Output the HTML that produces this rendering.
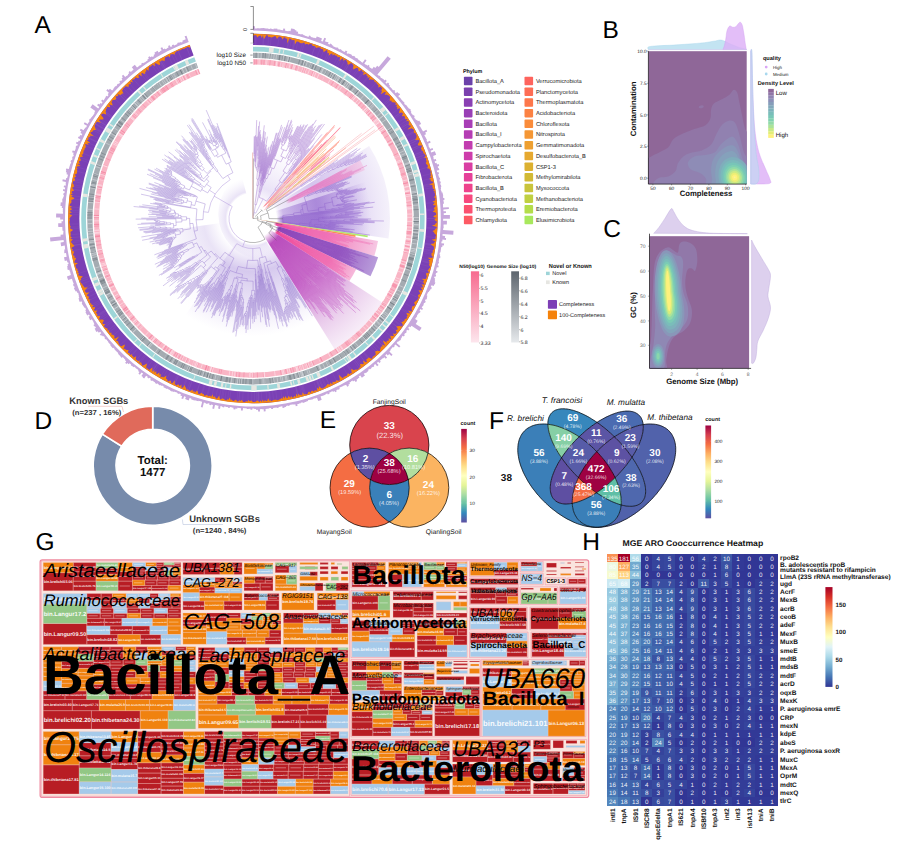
<!DOCTYPE html>
<html><head><meta charset="utf-8"><title>Figure</title>
<style>
html,body{margin:0;padding:0;background:#fff;}
body{width:917px;height:855px;overflow:hidden;font-family:"Liberation Sans",sans-serif;}
svg{display:block;font-family:"Liberation Sans",sans-serif;text-rendering:geometricPrecision;}
</style></head><body>
<svg width="917" height="855" viewBox="0 0 917 855">
<rect width="917" height="855" fill="#fff"/>
<text x="34.4" y="33" font-size="24.5">A</text>
<text x="602.6" y="37.8" font-size="24.5">B</text>
<text x="603.3" y="236.9" font-size="24.5">C</text>
<text x="34.6" y="429.2" font-size="24.5">D</text>
<text x="319.8" y="428.3" font-size="24.5">E</text>
<text x="489" y="429" font-size="24.5">F</text>
<text x="35.4" y="549.8" font-size="24.5">G</text>
<text x="582.2" y="549.8" font-size="24.5">H</text>
<defs><radialGradient id="w1" gradientUnits="userSpaceOnUse" cx="253" cy="218.5" r="118"><stop offset="0" stop-color="#9d7fd6" stop-opacity="0"/><stop offset="0.25" stop-color="#9d7fd6" stop-opacity="0"/><stop offset="0.45" stop-color="#9d7fd6" stop-opacity="0.42"/><stop offset="0.8" stop-color="#b7a0e2" stop-opacity="0.22"/><stop offset="1" stop-color="#cdbdec" stop-opacity="0"/></radialGradient><radialGradient id="w2" gradientUnits="userSpaceOnUse" cx="253" cy="218.5" r="110"><stop offset="0" stop-color="#9d7fd6" stop-opacity="0"/><stop offset="0.3" stop-color="#9d7fd6" stop-opacity="0"/><stop offset="0.45" stop-color="#9d7fd6" stop-opacity="0.22"/><stop offset="0.75" stop-color="#b7a0e2" stop-opacity="0.08"/><stop offset="1" stop-color="#cdbdec" stop-opacity="0"/></radialGradient><radialGradient id="w3" gradientUnits="userSpaceOnUse" cx="253" cy="218.5" r="46"><stop offset="0" stop-color="#9d7fd6" stop-opacity="0"/><stop offset="0.55" stop-color="#9d7fd6" stop-opacity="0"/><stop offset="0.6" stop-color="#a58ada" stop-opacity="0.24"/><stop offset="0.9" stop-color="#cdbdec" stop-opacity="0"/><stop offset="1" stop-color="#cdbdec" stop-opacity="0"/></radialGradient><radialGradient id="w4" gradientUnits="userSpaceOnUse" cx="253" cy="218.5" r="137"><stop offset="0" stop-color="#8f63cf" stop-opacity="0"/><stop offset="0.17" stop-color="#8f63cf" stop-opacity="0"/><stop offset="0.2" stop-color="#8f63cf" stop-opacity="0.12"/><stop offset="0.5" stop-color="#9a72d4" stop-opacity="0.42"/><stop offset="0.8" stop-color="#b99fe3" stop-opacity="0.38"/><stop offset="1" stop-color="#d9ccf0" stop-opacity="0.28"/></radialGradient><radialGradient id="w5" gradientUnits="userSpaceOnUse" cx="253" cy="218.5" r="118"><stop offset="0" stop-color="#7b45c4" stop-opacity="0"/><stop offset="0.2" stop-color="#7b45c4" stop-opacity="0"/><stop offset="0.26" stop-color="#7b45c4" stop-opacity="0.3"/><stop offset="0.55" stop-color="#7f4cc6" stop-opacity="0.5"/><stop offset="0.85" stop-color="#9a72d4" stop-opacity="0.3"/><stop offset="1" stop-color="#b99fe3" stop-opacity="0"/></radialGradient><radialGradient id="w6" gradientUnits="userSpaceOnUse" cx="253" cy="218.5" r="100"><stop offset="0" stop-color="#7b45c4" stop-opacity="0"/><stop offset="0.24" stop-color="#7b45c4" stop-opacity="0"/><stop offset="0.3" stop-color="#7440c0" stop-opacity="0.5"/><stop offset="0.7" stop-color="#7f4cc6" stop-opacity="0.3"/><stop offset="1" stop-color="#9a72d4" stop-opacity="0"/></radialGradient><radialGradient id="w7" gradientUnits="userSpaceOnUse" cx="253" cy="218.5" r="122"><stop offset="0" stop-color="#e65fb4" stop-opacity="0"/><stop offset="0.3" stop-color="#e65fb4" stop-opacity="0"/><stop offset="0.36" stop-color="#e872bd" stop-opacity="0.75"/><stop offset="0.8" stop-color="#ee9ad0" stop-opacity="0.65"/><stop offset="1" stop-color="#f3b5dc" stop-opacity="0.5"/></radialGradient><radialGradient id="w8" gradientUnits="userSpaceOnUse" cx="253" cy="218.5" r="80"><stop offset="0" stop-color="#b9a0e4" stop-opacity="0"/><stop offset="0.2" stop-color="#b9a0e4" stop-opacity="0"/><stop offset="0.4" stop-color="#b9a0e4" stop-opacity="0.3"/><stop offset="1" stop-color="#e4dbf5" stop-opacity="0"/></radialGradient><radialGradient id="w9" gradientUnits="userSpaceOnUse" cx="253" cy="218.5" r="116"><stop offset="0" stop-color="#a8e85d" stop-opacity="0.9"/><stop offset="1" stop-color="#a8e85d" stop-opacity="0.9"/></radialGradient><radialGradient id="w10" gradientUnits="userSpaceOnUse" cx="253" cy="218.5" r="104"><stop offset="0" stop-color="#f7487e" stop-opacity="0.9"/><stop offset="1" stop-color="#fa8c3b" stop-opacity="0.9"/></radialGradient><radialGradient id="w11" gradientUnits="userSpaceOnUse" cx="253" cy="218.5" r="127"><stop offset="0" stop-color="#f0409a" stop-opacity="0"/><stop offset="0.17" stop-color="#f0409a" stop-opacity="0"/><stop offset="0.19" stop-color="#f0409a" stop-opacity="0.95"/><stop offset="0.6" stop-color="#ee62ad" stop-opacity="0.85"/><stop offset="1" stop-color="#f4b9dc" stop-opacity="0.8"/></radialGradient><radialGradient id="w12" gradientUnits="userSpaceOnUse" cx="253" cy="218.5" r="131"><stop offset="0" stop-color="#8a3db6" stop-opacity="0"/><stop offset="0.19" stop-color="#8a3db6" stop-opacity="0"/><stop offset="0.21" stop-color="#8a3db6" stop-opacity="0.97"/><stop offset="0.7" stop-color="#8f4bbd" stop-opacity="0.9"/><stop offset="1" stop-color="#ab8ad4" stop-opacity="0.85"/></radialGradient><radialGradient id="w13" gradientUnits="userSpaceOnUse" cx="253" cy="218.5" r="115"><stop offset="0" stop-color="#ee3f93" stop-opacity="0"/><stop offset="0.22" stop-color="#ee3f93" stop-opacity="0"/><stop offset="0.24" stop-color="#ee3f93" stop-opacity="0.95"/><stop offset="0.75" stop-color="#ee5aa6" stop-opacity="0.85"/><stop offset="1" stop-color="#f4a8d2" stop-opacity="0.8"/></radialGradient><radialGradient id="w14" gradientUnits="userSpaceOnUse" cx="253" cy="218.5" r="155"><stop offset="0" stop-color="#b23ab6" stop-opacity="0"/><stop offset="0.13" stop-color="#b23ab6" stop-opacity="0"/><stop offset="0.2" stop-color="#b23ab6" stop-opacity="0.9"/><stop offset="0.5" stop-color="#b845ba" stop-opacity="0.8"/><stop offset="0.78" stop-color="#d59ad9" stop-opacity="0.55"/><stop offset="1" stop-color="#efd9f0" stop-opacity="0.45"/></radialGradient></defs>
<path d="M253 218.5L315.5 318.6A118 118 0 0 1 185.3 315.2Z" fill="url(#w1)"/><path d="M253 218.5L189.9 308.6A110 110 0 0 1 144.1 233.8Z" fill="url(#w2)"/><path d="M253 218.5L276 258.3A46 46 0 0 1 241.1 174.1Z" fill="url(#w3)"/><path d="M253 218.5L369.2 145.9A137 137 0 0 1 388.5 238.5Z" fill="url(#w4)"/><path d="M253 218.5L365.2 182A118 118 0 0 1 369.7 235.7Z" fill="url(#w5)"/><path d="M253 218.5L352.8 211.5A100 100 0 0 1 351.9 233.1Z" fill="url(#w6)"/><path d="M253 218.5L360.2 160.3A122 122 0 0 1 364.9 169.9Z" fill="url(#w7)"/><path d="M253 218.5L264.1 139.3A80 80 0 0 1 320.8 176.1Z" fill="url(#w8)"/><path d="M253 218.5L367.8 235.4A116 116 0 0 1 367.5 237.2Z" fill="url(#w9)"/><path d="M253 218.5L355.6 235.3A104 104 0 0 1 355.4 236.9Z" fill="url(#w10)"/><path d="M253 218.5L378 241A127 127 0 0 1 374.3 256.1Z" fill="url(#w11)"/><path d="M253 218.5L378.1 257.2A131 131 0 0 1 370.5 276.3Z" fill="url(#w12)"/><path d="M253 218.5L356.2 269.3A115 115 0 0 1 349.4 281.1Z" fill="url(#w13)"/><path d="M253 218.5L383 302.9A155 155 0 0 1 335.1 349.9Z" fill="url(#w14)"/>
<circle cx="253" cy="218.5" r="3" fill="#fff" fill-opacity="0.0"/>
<path d="M253 218.5L252.7 152.5" stroke="#e9a09a" stroke-width="0.7" fill="none"/>
<g fill="none" stroke-linecap="butt">
<path d="M254.9 204.6A14 14 0 0 1 256.3 204.9M254.9 204.6L257.5 185.6M256.8 185.6A33.2 33.2 0 0 1 258.1 185.7M256.8 185.6L257.6 179.2M256.8 179.1A39.6 39.6 0 0 1 258.4 179.3M256.8 179.1L257.5 171.1M256.9 171.1A47.6 47.6 0 0 1 258.2 171.2M256.9 171.1L257 169.2M256.2 169.1A49.5 49.5 0 0 1 257.8 169.2M256.2 169.1L256.3 167.2M255.3 167.2A51.4 51.4 0 0 1 257.3 167.3M255.3 167.2L255.4 165.6M255 165.5A53 53 0 0 1 255.8 165.6M255 165.5L255.1 161.9M254.7 161.8A56.7 56.7 0 0 1 255.5 161.9M254.7 161.8L254.8 160.4M254.4 160.4A58.1 58.1 0 0 1 255.2 160.5M254.4 160.4L254.5 155.9M254.1 155.9A62.6 62.6 0 0 1 254.8 155.9M254.1 155.9L254.2 153.9M253.9 153.9A64.6 64.6 0 0 1 254.4 153.9M253.9 153.9L254.2 136.4M254.4 153.9L254.8 136.3M254.8 155.9L255.5 135.2M255.2 160.5L256.7 120.1M255.5 161.9L256.7 136.9M255.8 165.6L257.3 136.4M257.3 167.3L258 158.3M257.6 158.3A60.4 60.4 0 0 1 258.5 158.4M257.6 158.3L257.8 155.5M257.4 155.4A63.2 63.2 0 0 1 258.2 155.5M257.4 155.4L257.8 150.1M257.4 150.1A68.5 68.5 0 0 1 258.1 150.2M257.4 150.1L257.6 146.1M257.3 146.1A72.5 72.5 0 0 1 257.9 146.1M257.3 146.1L258.6 126M257.9 146.1L259.6 121.5M258.1 150.2L259.5 131.7M258.2 155.5L260.3 130M258.5 158.4L260.6 134.3M257.8 169.2L261 136.7M258.2 171.2L258.7 166.7M258.5 166.7A52.1 52.1 0 0 1 258.9 166.7M258.5 166.7L261.1 142.3M258.9 166.7L261.9 140.2M258.4 179.3L259.3 173.2M259 173.1A45.8 45.8 0 0 1 259.6 173.2M259 173.1L259.7 167.1M259.4 167.1A51.8 51.8 0 0 1 260 167.2M259.4 167.1L259.8 164.1M259.6 164.1A54.8 54.8 0 0 1 260 164.2M259.6 164.1L264.3 125.3M260 164.2L264.3 131.2M260 167.2L263.6 141.3M259.6 173.2L265.5 132.2M258.1 185.7L259.6 176.1M259.5 176.1A42.9 42.9 0 0 1 259.8 176.1M259.5 176.1L265.3 137.8M259.8 176.1L264.9 144.2M256.3 204.9L259.5 191.7M259 191.6A27.5 27.5 0 0 1 260 191.9M259 191.6L260.5 185M259.9 184.9A34.3 34.3 0 0 1 261.1 185.2M259.9 184.9L260.4 182.8M260.1 182.7A36.5 36.5 0 0 1 260.7 182.8M260.1 182.7L260.4 181M260 181A38.2 38.2 0 0 1 260.8 181.1M260 181L261.4 173.7M261 173.6A45.6 45.6 0 0 1 261.7 173.8M261 173.6L261.2 172.6M260.9 172.6A46.6 46.6 0 0 1 261.4 172.7M260.9 172.6L261.2 170.9M261 170.9A48.3 48.3 0 0 1 261.4 170.9M261 170.9L264.8 148.3M261.4 170.9L267.4 136.6M261.4 172.7L266.5 145M261.7 173.8L262.4 170.5M262.2 170.5A48.9 48.9 0 0 1 262.6 170.5M262.2 170.5L265.7 152.5M262.6 170.5L267 148.4M260.8 181.1L266.9 151.4M260.7 182.8L267 153.4M261.1 185.2L261.4 183.7M261.1 183.6A35.8 35.8 0 0 1 261.7 183.8M261.1 183.6L261.9 180.5M261.7 180.4A39.1 39.1 0 0 1 262.1 180.5M261.7 180.4L262.6 176.4M262.4 176.3A43.2 43.2 0 0 1 262.7 176.4M262.4 176.3L269 146.8M262.7 176.4L267.6 155.3M262.1 180.5L267.7 157.1M261.7 183.8L262.8 179.6M262.6 179.6A40.1 40.1 0 0 1 262.9 179.6M262.6 179.6L271.3 144.6M262.9 179.6L272.8 141M260 191.9L269.9 154.4M259.2 197.4A22 22 0 0 1 266.6 201.2M259.2 197.4L262.8 184.9M262.3 184.8A35 35 0 0 1 263.3 185.1M262.3 184.8L264.1 178.5M263.9 178.4A41.5 41.5 0 0 1 264.2 178.5M263.9 178.4L276.3 132.8M264.2 178.5L277 132.9M263.3 185.1L264.2 182M263.6 181.8A38.2 38.2 0 0 1 264.9 182.2M263.6 181.8L274.3 144.6M264.9 182.2L266.1 178.4M265.2 178.1A42.2 42.2 0 0 1 267 178.7M265.2 178.1L268.5 167.4M268.2 167.3A53.4 53.4 0 0 1 268.8 167.5M268.2 167.3L278.5 132.6M268.8 167.5L269.6 164.9M269.4 164.9A56.1 56.1 0 0 1 269.8 165M269.4 164.9L281.6 124.9M269.8 165L278.5 137.3M267 178.7L268.6 174.2M267.6 173.8A47 47 0 0 1 269.7 174.6M267.6 173.8L270.2 165.9M269.9 165.9A55.3 55.3 0 0 1 270.4 166M269.9 165.9L282.5 126.8M270.4 166L279.4 138.8M269.7 174.6L272.1 168.1M270.3 167.4A53.9 53.9 0 0 1 273.9 168.8M270.3 167.4L280.2 138.3M273.9 168.8L277.4 160.3M273.9 159A63.1 63.1 0 0 1 280.9 161.9M273.9 159L274.9 156.2M274.7 156.1A66.1 66.1 0 0 1 275.2 156.3M274.7 156.1L284.7 127.2M275.2 156.3L281.2 139.3M280.9 161.9L283.1 157.3M280.8 156.2A68.2 68.2 0 0 1 285.5 158.5M280.8 156.2L283.6 149.8M281 148.7A75.2 75.2 0 0 1 286.2 151M281 148.7L282.5 144.8M281.4 144.4A79.4 79.4 0 0 1 283.7 145.3M281.4 144.4L282.1 142.5M281.6 142.3A81.4 81.4 0 0 1 282.6 142.7M281.6 142.3L281.9 141.6M281.4 141.4A82.1 82.1 0 0 1 282.3 141.8M281.4 141.4L282.3 139M282 138.9A84.7 84.7 0 0 1 282.6 139.1M282 138.9L289 120M282.6 139.1L288 124.7M282.3 141.8L286.9 129.7M282.6 142.7L291.6 119.8M283.7 145.3L284.5 143.2M284 143A81.6 81.6 0 0 1 285 143.4M284 143L285.1 140.5M284.6 140.3A84.3 84.3 0 0 1 285.5 140.7M284.6 140.3L285.6 137.9M285.3 137.7A87 87 0 0 1 285.9 138M285.3 137.7L291.9 121.2M285.9 138L289.8 128.5M285.5 140.7L292.3 124.5M285 143.4L288.1 136.3M286.2 151L288.3 146.7M287.8 146.4A80 80 0 0 1 288.9 147M287.8 146.4L289.2 143.5M288.6 143.3A83.2 83.2 0 0 1 289.7 143.8M288.6 143.3L289.6 141.1M289 140.8A85.6 85.6 0 0 1 290.2 141.4M289 140.8L289.5 139.9M288.9 139.7A86.6 86.6 0 0 1 290 140.2M288.9 139.7L289.2 138.9M288.7 138.7A87.4 87.4 0 0 1 289.8 139.2M288.7 138.7L288.9 138.2M288.4 138A87.9 87.9 0 0 1 289.4 138.5M288.4 138L289.1 136.6M288.8 136.5A89.5 89.5 0 0 1 289.4 136.7M288.8 136.5L292.8 127.2M289.4 136.7L292.4 129.9M289.4 138.5L290.4 136.1M289.8 139.2L291.9 134.5M290 140.2L292.2 135.6M290.2 141.4L297.6 126.1M289.7 143.8L298.5 125.9M288.9 147L298.8 127.1M285.5 158.5L289.4 151.2M288.9 150.9A76.5 76.5 0 0 1 289.9 151.4M288.9 150.9L290.1 148.7M289.6 148.5A79 79 0 0 1 290.5 149M289.6 148.5L291.1 145.7M290.7 145.5A82.2 82.2 0 0 1 291.5 145.9M290.7 145.5L292.5 142M292.2 141.8A86.1 86.1 0 0 1 292.8 142.1M292.2 141.8L301 124.6M292.8 142.1L301.1 126M291.5 145.9L301.5 127M290.5 149L303.9 124.4M289.9 151.4L304.2 125.4M266.6 201.2L275.7 189.8M274.9 189.2A36.5 36.5 0 0 1 276.4 190.4M274.9 189.2L280.5 181.8M279.1 180.8A45.9 45.9 0 0 1 281.8 182.8M279.1 180.8L284.9 172.4M283 171.1A56.1 56.1 0 0 1 286.8 173.7M283 171.1L287.5 164M286.3 163.2A64.5 64.5 0 0 1 288.8 164.8M286.3 163.2L288.5 159.6M287.6 159A68.8 68.8 0 0 1 289.4 160.1M287.6 159L288.3 157.7M287.9 157.5A70.3 70.3 0 0 1 288.8 158M287.9 157.5L290.4 153.2M290 153A75.3 75.3 0 0 1 290.8 153.4M290 153L294.4 145.2M294.1 145.1A84.1 84.1 0 0 1 294.7 145.4M294.1 145.1L303.2 128.9M294.7 145.4L306.4 124.9M290.8 153.4L307.7 124.3M288.8 158L300 138.9M289.4 160.1L294.1 152.6M293.7 152.3A77.7 77.7 0 0 1 294.5 152.8M293.7 152.3L297.3 146.3M296.9 146.1A84.7 84.7 0 0 1 297.8 146.6M296.9 146.1L298.5 143.5M298.2 143.3A87.7 87.7 0 0 1 298.8 143.6M298.2 143.3L305.8 130.6M298.8 143.6L309.2 126.6M297.8 146.6L310.8 125.6M294.5 152.8L312.9 123.8M288.8 164.8L291.1 161.3M290.7 161.1A68.7 68.7 0 0 1 291.5 161.6M290.7 161.1L295.6 153.7M295.2 153.5A77.5 77.5 0 0 1 296 153.9M295.2 153.5L299.4 147M299.1 146.8A85.2 85.2 0 0 1 299.7 147.2M299.1 146.8L316.4 119.9M299.7 147.2L313 126.9M296 153.9L313 128.4M291.5 161.6L315.8 125.7M286.8 173.7L289.5 170.1M289 169.8A60.6 60.6 0 0 1 290 170.5M289 169.8L293.2 164M292.5 163.5A67.7 67.7 0 0 1 293.9 164.5M292.5 163.5L295.5 159.4M294.8 158.9A72.8 72.8 0 0 1 296.2 159.9M294.8 158.9L297.3 155.4M296.9 155.1A77.1 77.1 0 0 1 297.7 155.7M296.9 155.1L299.8 150.9M299.6 150.8A82.2 82.2 0 0 1 300.1 151.1M299.6 150.8L314.2 129.5M300.1 151.1L312.6 133.2M297.7 155.7L319.3 125.2M296.2 159.9L300.7 153.7M300.4 153.5A80.5 80.5 0 0 1 301.1 154M300.4 153.5L301.2 152.2M301 152.1A81.9 81.9 0 0 1 301.5 152.4M301 152.1L320.9 124.5M301.5 152.4L322.4 123.9M301.1 154L311.2 140.4M293.9 164.5L324.6 124M290 170.5L314.6 138.4M281.8 182.8L283.5 180.8M283.3 180.5A48.5 48.5 0 0 1 283.8 181M283.3 180.5L288.9 173.5M288.6 173.3A57.5 57.5 0 0 1 289.1 173.7M288.6 173.3L293.3 167.4M293.1 167.3A65.1 65.1 0 0 1 293.5 167.6M293.1 167.3L306.5 150M293.5 167.6L308.8 148.2M289.1 173.7L309.2 148.8M283.8 181L321.9 134.4M276.4 190.4L313.7 145.5" stroke="#a374cf" stroke-width="0.46"/>
<path d="M285.9 195.7A40 40 0 0 1 286.2 196.2M285.9 195.7L338 159.5M286.2 196.2L301.4 186M301.1 185.6A58.3 58.3 0 0 1 301.6 186.4M301.1 185.6L334.3 162.9M301.6 186.4L309.9 180.9M309.6 180.5A68.2 68.2 0 0 1 310.2 181.3M309.6 180.5L357.3 148.3M310.2 181.3L315.8 177.6M315.5 177.1A75 75 0 0 1 316.2 178.1M315.5 177.1L350.4 154.1M316.2 178.1L320.1 175.6M319.8 175.1A79.6 79.6 0 0 1 320.4 176.1M319.8 175.1L360.4 148.6M320.4 176.1L327.4 171.7M327.1 171.1A87.9 87.9 0 0 1 327.8 172.2M327.1 171.1L356.8 152.1M327.8 172.2L332.5 169.3M332.1 168.7A93.5 93.5 0 0 1 332.9 169.9M332.1 168.7L354.5 154.6M332.9 169.9L337.4 167.1M337.1 166.5A98.8 98.8 0 0 1 337.8 167.8M337.1 166.5L349.2 158.9M337.8 167.8L340.9 165.9M340.5 165.3A102.4 102.4 0 0 1 341.3 166.6M340.5 165.3L350.9 158.9M341.3 166.6L344.7 164.6M344.3 163.9A106.3 106.3 0 0 1 345.1 165.3M344.3 163.9L362.7 152.9M345.1 165.3L345.8 164.8M345.4 164.2A107.2 107.2 0 0 1 346.2 165.5M345.4 164.2L361.1 155M346.2 165.5L348.8 164M348.5 163.3A110.3 110.3 0 0 1 349.2 164.6M348.5 163.3L360.7 156.3M349.2 164.6L352.1 163M351.8 162.4A113.6 113.6 0 0 1 352.4 163.5M351.8 162.4L366.2 154.3M352.4 163.5L355.4 161.9M355.2 161.5A117 117 0 0 1 355.6 162.3M355.2 161.5L366.2 155.4M355.6 162.3L367 156.1" stroke="#9b74d2" stroke-width="0.46"/>
<path d="M288.2 199.5A40 40 0 0 1 288.6 200.4M288.2 199.5L341.6 170.8M288.6 200.4L297.3 196M296.9 195.3A49.7 49.7 0 0 1 297.6 196.7M296.9 195.3L347 168.8M297.6 196.7L307.7 191.7M307.3 190.7A60.9 60.9 0 0 1 308.2 192.7M307.3 190.7L308.8 189.9M308.7 189.6A62.7 62.7 0 0 1 309 190.3M308.7 189.6L346 170.2M309 190.3L310.3 189.7M310.1 189.3A64.1 64.1 0 0 1 310.4 190M310.1 189.3L341.8 173.2M310.4 190L316.4 187M316.2 186.8A70.7 70.7 0 0 1 316.5 187.3M316.2 186.8L340.7 174.5M316.5 187.3L342.9 174.2M308.2 192.7L311.7 191M311.4 190.5A64.8 64.8 0 0 1 311.9 191.5M311.4 190.5L313.8 189.4M313.7 189.2A67.4 67.4 0 0 1 313.9 189.6M313.7 189.2L351.8 170.7M313.9 189.6L352.4 171.3M311.9 191.5L320.5 187.6M320.3 187.2A74.2 74.2 0 0 1 320.7 188M320.3 187.2L367 165.4M320.7 188L324 186.6M323.8 186.2A77.8 77.8 0 0 1 324.2 186.9M323.8 186.2L361 169.2M324.2 186.9L325.6 186.3M325.5 186A79.4 79.4 0 0 1 325.7 186.6M325.5 186L353.7 173.4M325.7 186.6L349.7 176" stroke="#e27ac2" stroke-width="0.46"/>
<path d="M282.8 215.5A30 30 0 0 1 282.8 222.1M282.8 215.5L293.7 214.3M293.6 213.1A40.9 40.9 0 0 1 293.8 215.6M293.6 213.1L301.1 212.1M300.7 209.8A48.5 48.5 0 0 1 301.3 214.5M300.7 209.8L302.7 209.5M301.8 205.3A50.6 50.6 0 0 1 303.3 213.7M301.8 205.3L306.6 204M304.2 197A55.5 55.5 0 0 1 308 211.2M304.2 197L307.4 195.7M307.2 195.2A59 59 0 0 1 307.6 196.2M307.2 195.2L351.5 176.1M307.6 196.2L315.7 192.9M315.4 192.2A67.7 67.7 0 0 1 316 193.5M315.4 192.2L351.8 176.9M316 193.5L320.3 191.8M320 191.2A72.4 72.4 0 0 1 320.5 192.4M320 191.2L322.2 190.3M322.1 190A74.8 74.8 0 0 1 322.3 190.5M322.1 190L335.9 184.3M322.3 190.5L343 182.2M320.5 192.4L323 191.5M322.8 190.9A75.1 75.1 0 0 1 323.2 192M322.8 190.9L346.1 181.8M323.2 192L327 190.6M326.8 190A79.1 79.1 0 0 1 327.2 191.1M326.8 190L347.7 181.9M327.2 191.1L327.8 190.9M327.6 190.4A79.7 79.7 0 0 1 328 191.5M327.6 190.4L345.2 183.7M328 191.5L331.9 190.1M331.7 189.5A83.9 83.9 0 0 1 332.1 190.7M331.7 189.5L349.7 182.9M332.1 190.7L335.1 189.6M334.9 189A87 87 0 0 1 335.3 190.3M334.9 189L344.2 185.7M335.3 190.3L336.5 189.9M336.3 189.2A88.3 88.3 0 0 1 336.7 190.5M336.3 189.2L338.6 188.4M336.7 190.5L337.2 190.3M337 189.7A88.8 88.8 0 0 1 337.4 190.9M337 189.7L338.4 189.2M337.4 190.9L337.8 190.8M337.7 190.2A89.3 89.3 0 0 1 338 191.3M337.7 190.2L342.4 188.6M338 191.3L338.5 191.2M338.3 190.7A89.8 89.8 0 0 1 338.7 191.7M338.3 190.7L339.8 190.2M338.7 191.7L339.6 191.4M339.5 191A90.8 90.8 0 0 1 339.7 191.7M339.5 191L342.8 190M339.7 191.7L346.8 189.5M308 211.2L318.6 209.8M318.3 207.9A66.1 66.1 0 0 1 318.8 211.8M318.3 207.9L325.1 206.8M324.5 203.6A73 73 0 0 1 325.5 210M324.5 203.6L332.5 201.9M331.5 197.8A81.2 81.2 0 0 1 333.2 206.1M331.5 197.8L336.9 196.4M336.2 194.1A86.7 86.7 0 0 1 337.4 198.7M336.2 194.1L337.3 193.8M337.1 193.2A87.8 87.8 0 0 1 337.4 194.4M337.1 193.2L347.5 190M337.4 194.4L340 193.7M339.8 193.1A90.5 90.5 0 0 1 340.2 194.3M339.8 193.1L349.8 190.2M340.2 194.3L341.1 194.1M341 193.5A91.5 91.5 0 0 1 341.3 194.6M341 193.5L357.6 188.8M341.3 194.6L344.8 193.7M344.7 193.2A95.1 95.1 0 0 1 345 194.2M344.7 193.2L361.8 188.4M345 194.2L346 193.9M346 193.6A96.2 96.2 0 0 1 346.1 194.3M346 193.6L365.9 188.2M346.1 194.3L365.4 189.3M337.4 198.7L340.3 198M339.9 196.6A89.6 89.6 0 0 1 340.6 199.5M339.9 196.6L356.6 192.4M340.6 199.5L341.1 199.3M340.8 197.7A90.2 90.2 0 0 1 341.5 201M340.8 197.7L341.7 197.5M341.5 196.9A91.1 91.1 0 0 1 341.8 198.1M341.5 196.9L344.7 196.2M341.8 198.1L342.5 197.9M342.4 197.4A91.8 91.8 0 0 1 342.6 198.5M342.4 197.4L343.8 197.1M342.6 198.5L343.3 198.3M343.2 198A92.5 92.5 0 0 1 343.4 198.6M343.2 198L353.2 195.7M343.4 198.6L354.5 196.2M341.5 201L342 200.9M341.8 200.1A90.7 90.7 0 0 1 342.1 201.7M341.8 200.1L342.3 199.9M342.2 199.6A91.2 91.2 0 0 1 342.3 200.3M342.2 199.6L343.7 199.3M342.3 200.3L343.8 200M342.1 201.7L342.6 201.6M342.5 201A91.2 91.2 0 0 1 342.7 202.2M342.5 201L348.6 199.8M342.7 202.2L343.8 202M343.7 201.4A92.3 92.3 0 0 1 343.9 202.5M343.7 201.4L345.3 201.1M343.9 202.5L344.7 202.3M344.6 202A93.1 93.1 0 0 1 344.7 202.7M344.6 202L356.9 199.8M344.7 202.7L347.3 202.2M333.2 206.1L336.6 205.6M336.5 205.1A84.6 84.6 0 0 1 336.6 206M336.5 205.1L337.3 205M337.3 204.6A85.4 85.4 0 0 1 337.4 205.3M337.3 204.6L344.8 203.4M337.4 205.3L351.3 203.1M336.6 206L354.1 203.4M325.5 210L332 209.2M331.9 208.7A79.5 79.5 0 0 1 332 209.8M331.9 208.7L338.8 207.8M338.7 207.2A86.5 86.5 0 0 1 338.9 208.4M338.7 207.2L343.4 206.6M343.4 206.1A91.2 91.2 0 0 1 343.5 207.1M343.4 206.1L344.7 205.9M344.6 205.6A92.5 92.5 0 0 1 344.7 206.3M344.6 205.6L369.5 202.1M344.7 206.3L374.7 202.3M343.5 207.1L365.2 204.4M338.9 208.4L353.8 206.6M332 209.8L363.9 206.3M318.8 211.8L359.9 207.5M303.3 213.7L373.2 207.1M301.3 214.5L310.6 213.7M310.6 213.5A57.8 57.8 0 0 1 310.7 213.9M310.6 213.5L353.8 209.7M310.7 213.9L347.3 211M293.8 215.6L360.5 210.8M282.8 222.1L299.3 224.1M299.4 223.1A46.6 46.6 0 0 1 299.1 225.1M299.4 223.1L309.6 224.1M309.7 222.1A56.8 56.8 0 0 1 309.3 226.1M309.7 222.1L311 222.2M311.1 219.5A58.1 58.1 0 0 1 310.8 224.9M311.1 219.5L318.7 219.6M318.7 217.8A65.7 65.7 0 0 1 318.6 221.4M318.7 217.8L322.6 217.7M322.6 217.2A69.6 69.6 0 0 1 322.6 218.3M322.6 217.2L330.6 217M330.5 216.4A77.6 77.6 0 0 1 330.6 217.6M330.5 216.4L335.7 216.3M335.7 215.6A82.7 82.7 0 0 1 335.7 217M335.7 215.6L336.8 215.6M336.8 214.9A83.8 83.8 0 0 1 336.8 216.3M336.8 214.9L338.8 214.8M338.8 214A85.9 85.9 0 0 1 338.8 215.6M338.8 214L341 213.8M341 213.2A88.1 88.1 0 0 1 341 214.5M341 213.2L345.3 212.9M345.2 212.6A92.4 92.4 0 0 1 345.3 213.3M345.2 212.6L353.2 212.1M345.3 213.3L363.2 212.3M341 214.5L345.4 214.3M345.4 214A92.5 92.5 0 0 1 345.4 214.7M345.4 214L360.6 213.2M345.4 214.7L358.5 214.1M338.8 215.6L349.1 215.2M336.8 216.3L361.5 215.7M335.7 217L354.4 216.6M330.6 217.6L357.7 217.3M322.6 218.3L351.8 218.2M318.6 221.4L323.9 221.6M323.9 221A71 71 0 0 1 323.9 222.3M323.9 221L329.9 221.2M329.9 220.6A76.9 76.9 0 0 1 329.9 221.7M329.9 220.6L336.4 220.8M336.4 220.2A83.4 83.4 0 0 1 336.3 221.4M336.4 220.2L343.9 220.4M343.9 219.7A90.9 90.9 0 0 1 343.9 221M343.9 219.7L350.2 219.8M350.2 219.3A97.2 97.2 0 0 1 350.2 220.4M350.2 219.3L352 219.3M352 218.9A99 99 0 0 1 352 219.7M352 218.9L371.2 219M352 219.7L368.1 219.9M350.2 220.4L383.9 221M343.9 221L374.6 221.8M336.3 221.4L374.6 222.7M329.9 221.7L364 223.2M323.9 222.3L330.2 222.6M330.3 222.4A77.3 77.3 0 0 1 330.2 222.9M330.3 222.4L353.7 223.5M330.2 222.9L362.6 224.8M310.8 224.9L314.7 225.3M314.8 224.3A62.1 62.1 0 0 1 314.6 226.3M314.8 224.3L320.7 224.9M320.7 224A68 68 0 0 1 320.6 225.7M320.7 224L325.1 224.4M325.1 223.9A72.3 72.3 0 0 1 325 224.8M325.1 223.9L328.2 224.1M328.3 223.7A75.4 75.4 0 0 1 328.2 224.5M328.3 223.7L329.3 223.8M329.3 223.5A76.5 76.5 0 0 1 329.2 224M329.3 223.5L339.5 224.1M329.2 224L336.3 224.6M328.2 224.5L335.2 225.1M325 224.8L343.2 226.4M320.6 225.7L324.5 226.2M324.6 225.6A72 72 0 0 1 324.5 226.7M324.6 225.6L326.1 225.8M326.2 225.5A73.5 73.5 0 0 1 326.1 226.1M326.2 225.5L338.8 226.7M326.1 226.1L335.1 227M324.5 226.7L328 227.1M328.1 226.8A75.5 75.5 0 0 1 328 227.4M328.1 226.8L354.6 229.8M328 227.4L349.7 230M314.6 226.3L334.4 228.8M309.3 226.1L352.8 231.9M299.1 225.1L369.9 235.1" stroke="#8e62cc" stroke-width="0.46"/>
<path d="M282.5 224.1A30 30 0 0 1 282.3 224.9M282.5 224.1L288.8 225.4M288.9 225.2A36.5 36.5 0 0 1 288.8 225.5M288.9 225.2L354.3 237.5M288.8 225.5L352.3 237.9M282.3 224.9L289.2 226.4M289.3 225.9A37.1 37.1 0 0 1 289.1 226.9M289.3 225.9L345.2 237.3M289.1 226.9L300.2 229.5M300.4 228.8A48.5 48.5 0 0 1 300.1 230.3M300.4 228.8L313.5 231.7M313.6 231.3A61.9 61.9 0 0 1 313.4 232M313.6 231.3L373.2 243.9M313.4 232L318.3 233.1M318.4 232.9A66.9 66.9 0 0 1 318.3 233.4M318.4 232.9L370 244.2M318.3 233.4L353.1 241.3M300.1 230.3L308.5 232.4M308.6 231.8A57.2 57.2 0 0 1 308.4 232.9M308.6 231.8L312.4 232.7M312.5 232.5A61.1 61.1 0 0 1 312.4 233M312.5 232.5L353.1 242.1M312.4 233L346.1 241.2M308.4 232.9L316.4 235M316.5 234.5A65.5 65.5 0 0 1 316.3 235.5M316.5 234.5L348.9 242.7M316.3 235.5L319 236.2M319.1 235.7A68.3 68.3 0 0 1 318.8 236.7M319.1 235.7L339.8 241.1M318.8 236.7L322.1 237.6M322.3 237.1A71.7 71.7 0 0 1 322 238.1M322.3 237.1L332.2 239.8M322 238.1L323.3 238.5M323.4 238A73.1 73.1 0 0 1 323.2 238.9M323.4 238L336.2 241.5M323.2 238.9L328 240.3M328.2 239.9A78.2 78.2 0 0 1 327.9 240.8M328.2 239.9L347.7 245.5M327.9 240.8L332.3 242.1M332.4 241.8A82.7 82.7 0 0 1 332.2 242.4M332.4 241.8L348.9 246.6M332.2 242.4L346.6 246.7M279.8 231.9A30 30 0 0 1 279.5 232.6M279.8 231.9L331.6 257.9M279.5 232.6L294.6 240.6M294.9 239.9A47.1 47.1 0 0 1 294.2 241.2M294.9 239.9L346 266M294.2 241.2L300.9 244.9M301.4 244A54.7 54.7 0 0 1 300.4 245.8M301.4 244L304.3 245.5M304.4 245.2A58 58 0 0 1 304.1 245.8M304.4 245.2L331.4 259.3M304.1 245.8L312.9 250.5M313 250.3A67.9 67.9 0 0 1 312.8 250.7M313 250.3L339.8 264.4M312.8 250.7L332.7 261.4M300.4 245.8L310.2 251.5M310.7 250.7A66.1 66.1 0 0 1 309.7 252.4M310.7 250.7L313.3 252.1M313.5 251.7A69 69 0 0 1 313.1 252.5M313.5 251.7L345.8 269.4M313.1 252.5L317.6 255M317.8 254.7A74.2 74.2 0 0 1 317.4 255.4M317.8 254.7L343.2 268.9M317.4 255.4L320.9 257.4M321.1 257.2A78.3 78.3 0 0 1 320.8 257.7M321.1 257.2L343.5 269.9M320.8 257.7L338.5 267.9M309.7 252.4L311.4 253.4M311.7 253A68.1 68.1 0 0 1 311.2 253.8M311.7 253L343.9 271.9M311.2 253.8L315.3 256.4M315.6 255.9A72.9 72.9 0 0 1 315 256.8M315.6 255.9L346 274.1M315 256.8L319.5 259.5M319.8 259.1A78.1 78.1 0 0 1 319.2 260M319.8 259.1L349.3 277.1M319.2 260L320.7 260.9M321 260.5A79.9 79.9 0 0 1 320.5 261.3M321 260.5L338.2 271.2M320.5 261.3L324.2 263.6M324.3 263.3A84.3 84.3 0 0 1 324 263.9M324.3 263.3L346.4 277.2M324 263.9L345.1 277.4" stroke="#ef6fb4" stroke-width="0.46"/>
<path d="M281.6 227.7A30 30 0 0 1 280.4 230.7M281.6 227.7L309.5 236.7M309.6 236.5A59.3 59.3 0 0 1 309.4 236.9M309.6 236.5L347.6 248.5M309.4 236.9L355.8 252M280.4 230.7L297.9 238.4M298.4 237.2A49.1 49.1 0 0 1 297.3 239.6M298.4 237.2L302.7 239M303.4 237.1A53.7 53.7 0 0 1 301.9 240.8M303.4 237.1L313.7 240.9M314.3 239A64.7 64.7 0 0 1 312.9 242.8M314.3 239L348.9 250.5M312.9 242.8L316.4 244.2M316.9 242.8A68.4 68.4 0 0 1 315.8 245.6M316.9 242.8L319.2 243.6M319.5 242.8A70.8 70.8 0 0 1 318.8 244.4M319.5 242.8L322.1 243.8M322.4 243A73.6 73.6 0 0 1 321.9 244.6M322.4 243L326.4 244.4M326.5 244A77.8 77.8 0 0 1 326.2 244.8M326.5 244L332.9 246.2M333 245.9A84.6 84.6 0 0 1 332.8 246.5M333 245.9L368.4 258M332.8 246.5L360.1 256.1M326.2 244.8L350.8 253.6M321.9 244.6L324 245.4M324.2 245A76 76 0 0 1 323.9 245.8M324.2 245L327.9 246.4M328 246.1A79.9 79.9 0 0 1 327.8 246.6M328 246.1L348.9 253.8M327.8 246.6L354.8 256.8M323.9 245.8L349.9 255.8M318.8 244.4L353.1 257.9M315.8 245.6L321.6 248.1M321.9 247.5A74.8 74.8 0 0 1 321.4 248.7M321.9 247.5L327.5 249.9M327.8 249.4A80.9 80.9 0 0 1 327.3 250.4M327.8 249.4L331.2 250.8M331.4 250.4A84.6 84.6 0 0 1 331 251.3M331.4 250.4L334.1 251.5M334.2 251.2A87.6 87.6 0 0 1 334 251.8M334.2 251.2L356.4 260.1M334 251.8L349.1 258M331 251.3L358.1 262.6M327.3 250.4L350.2 260.2M321.4 248.7L327.9 251.6M328.1 251.3A81.9 81.9 0 0 1 327.8 251.9M328.1 251.3L339.4 256.3M327.8 251.9L354.4 263.8M301.9 240.8L351.7 263.5M297.3 239.6L301.2 241.5M301.3 241.2A53.4 53.4 0 0 1 301.1 241.7M301.3 241.2L312.7 246.5M312.8 246.3A66 66 0 0 1 312.6 246.7M312.8 246.3L350.5 263.8M312.6 246.7L363.8 271M301.1 241.7L352.2 266.4" stroke="#8f50c0" stroke-width="0.46"/>
<path d="M279.7 236.1A32 32 0 0 1 272.6 243.8M279.7 236.1L326.8 267.2M272.6 243.8L277.8 250.5M280.3 248.4A40.5 40.5 0 0 1 275.2 252.4M280.3 248.4L283.9 252.3M286.3 249.9A45.8 45.8 0 0 1 281.2 254.5M286.3 249.9L290.9 254.2M292.3 252.7A52.1 52.1 0 0 1 289.5 255.7M292.3 252.7L300.1 259.4M301.3 257.9A62.4 62.4 0 0 1 298.8 260.9M301.3 257.9L303.7 259.8M304.5 258.8A65.4 65.4 0 0 1 302.8 260.8M304.5 258.8L306.1 260.1M306.5 259.6A67.4 67.4 0 0 1 305.7 260.6M306.5 259.6L313.8 265.2M314.3 264.5A76.7 76.7 0 0 1 313.3 265.9M314.3 264.5L315.8 265.6M316.5 264.7A78.5 78.5 0 0 1 315.1 266.5M316.5 264.7L318.2 266M318.9 265A80.7 80.7 0 0 1 317.5 267M318.9 265L320.6 266.2M321 265.7A82.7 82.7 0 0 1 320.3 266.6M321 265.7L324 267.8M324.3 267.3A86.4 86.4 0 0 1 323.7 268.2M324.3 267.3L327.6 269.6M327.9 269.1A90.4 90.4 0 0 1 327.3 270M327.9 269.1L330.2 270.7M330.4 270.4A93.2 93.2 0 0 1 330 271M330.4 270.4L345.7 280.7M330 271L345.1 281.3M327.3 270L342.5 280.5M323.7 268.2L343.7 282.3M320.3 266.6L336.9 278.5M317.5 267L321.7 270.1M322 269.7A85.9 85.9 0 0 1 321.4 270.6M322 269.7L326.2 272.8M326.5 272.3A91.1 91.1 0 0 1 325.9 273.2M326.5 272.3L327.2 272.8M327.4 272.6A91.9 91.9 0 0 1 327 273.1M327.4 272.6L345.4 285.7M327 273.1L343.8 285.5M325.9 273.2L336.2 280.9M321.4 270.6L340.6 285.2M315.1 266.5L343.8 288.8M313.3 265.9L353.2 297.3M305.7 260.6L345.1 292M302.8 260.8L311.5 268.2M311.9 267.8A76.8 76.8 0 0 1 311.2 268.6M311.9 267.8L316.4 271.6M316.8 271.2A82.7 82.7 0 0 1 316.1 272M316.8 271.2L323.8 277M324.1 276.6A91.9 91.9 0 0 1 323.5 277.4M324.1 276.6L327.1 279M327.3 278.8A95.7 95.7 0 0 1 326.9 279.3M327.3 278.8L356.5 302.4M326.9 279.3L353.1 300.9M323.5 277.4L354.3 303.1M316.1 272L344.1 295.8M311.2 268.6L360.3 311M298.8 260.9L306 267.5M306.6 266.9A72.2 72.2 0 0 1 305.4 268.2M306.6 266.9L308.7 268.8M309 268.4A75 75 0 0 1 308.3 269.2M309 268.4L314.8 273.6M315.1 273.3A82.9 82.9 0 0 1 314.5 274M315.1 273.3L318.9 276.6M319.2 276.4A87.9 87.9 0 0 1 318.7 276.9M319.2 276.4L355.5 308.2M318.7 276.9L339.5 295.4M314.5 274L348.1 304.3M308.3 269.2L355.9 312.7M305.4 268.2L311.2 273.6M311.5 273.3A80.1 80.1 0 0 1 310.9 273.9M311.5 273.3L314.7 276.3M314.9 276.1A84.5 84.5 0 0 1 314.5 276.5M314.9 276.1L340.8 300.1M314.5 276.5L337 297.8M310.9 273.9L339.9 301.8M289.5 255.7L302.5 268.9M302.8 268.5A70.6 70.6 0 0 1 302.1 269.2M302.8 268.5L307.6 273.3M308 273A77.4 77.4 0 0 1 307.2 273.7M308 273L312.6 277.6M312.9 277.2A83.9 83.9 0 0 1 312.3 277.9M312.9 277.2L315 279.3M315.2 279A86.8 86.8 0 0 1 314.8 279.5M315.2 279L343.1 306.2M314.8 279.5L341.1 305.5M312.3 277.9L342 307.7M307.2 273.7L338.5 305.5M302.1 269.2L341 309.4M281.2 254.5L285.8 260.4M286.8 259.6A53.3 53.3 0 0 1 284.8 261.2M286.8 259.6L290.2 263.8M290.8 263.3A58.7 58.7 0 0 1 289.7 264.3M290.8 263.3L298.3 272.1M299 271.4A70.2 70.2 0 0 1 297.5 272.8M299 271.4L304.5 277.7M305.4 276.9A78.4 78.4 0 0 1 303.6 278.5M305.4 276.9L308.2 280M308.6 279.6A82.6 82.6 0 0 1 307.7 280.4M308.6 279.6L310.4 281.6M310.9 281.2A85.3 85.3 0 0 1 310 282M310.9 281.2L314.6 285.2M315 284.7A90.7 90.7 0 0 1 314.1 285.6M315 284.7L315.9 285.8M316.3 285.4A92.1 92.1 0 0 1 315.6 286.1M316.3 285.4L319.3 288.5M319.5 288.3A96.4 96.4 0 0 1 319 288.8M319.5 288.3L343.6 313.5M319 288.8L337.2 308.2M315.6 286.1L333.4 305.4M314.1 285.6L337 310.7M310 282L334.5 309.2M307.7 280.4L336.8 313.3M303.6 278.5L305.7 281M306.1 280.7A81.8 81.8 0 0 1 305.3 281.4M306.1 280.7L309.7 284.9M310.1 284.6A87.3 87.3 0 0 1 309.4 285.2M310.1 284.6L311.3 286M311.6 285.8A89.2 89.2 0 0 1 311.1 286.2M311.6 285.8L322.7 298.6M311.1 286.2L326.7 304.4M309.4 285.2L319 296.7M305.3 281.4L321.4 300.7M297.5 272.8L330.2 312.7M289.7 264.3L292 267.2M292.2 267.1A62.4 62.4 0 0 1 291.8 267.4M292.2 267.1L333.5 318.3M291.8 267.4L331.4 317.3M284.8 261.2L287.4 264.6M287.7 264.4A57.5 57.5 0 0 1 287 264.8M287.7 264.4L295.4 274.6M295.8 274.3A70.3 70.3 0 0 1 295.1 274.9M295.8 274.3L302 282.4M302.3 282.1A80.5 80.5 0 0 1 301.6 282.6M302.3 282.1L304.4 284.7M304.6 284.5A83.8 83.8 0 0 1 304.1 284.9M304.6 284.5L332.7 320.4M304.1 284.9L331 319.7M301.6 282.6L324.1 312.2M295.1 274.9L322.5 311.7M287 264.8L325.2 316.9M275.2 252.4L280.9 261.3M281.5 260.9A51.1 51.1 0 0 1 280.4 261.6M281.5 260.9L286.2 268M286.8 267.6A59.6 59.6 0 0 1 285.6 268.4M286.8 267.6L290.3 272.6M290.6 272.4A65.7 65.7 0 0 1 289.9 272.9M290.6 272.4L293.1 275.9M293.5 275.6A70 70 0 0 1 292.7 276.1M293.5 275.6L297.4 281.2M297.8 280.9A76.8 76.8 0 0 1 297.1 281.4M297.8 280.9L300.7 285M301 284.8A81.9 81.9 0 0 1 300.5 285.2M301 284.8L313.5 302.2M300.5 285.2L312.3 301.9M297.1 281.4L309.1 298.6M292.7 276.1L315.4 309.1M289.9 272.9L317.6 313.7M285.6 268.4L287.4 271.2M287.7 271A62.9 62.9 0 0 1 287.1 271.4M287.7 271L289.2 273.2M289.4 273A65.5 65.5 0 0 1 289 273.3M289.4 273L308.7 302.1M289 273.3L306.4 299.8M287.1 271.4L305.8 300.3M280.4 261.6L310.4 308.9" stroke="#c45cc6" stroke-width="0.46"/>
<path d="M265.4 256.5A40 40 0 0 1 259.3 258M265.4 256.5L267.1 262M270.4 260.8A45.7 45.7 0 0 1 263.8 263M270.4 260.8L271.6 263.5M275.8 261.5A48.7 48.7 0 0 1 267.1 265.1M275.8 261.5L278.8 267.1M280.6 266.1A55 55 0 0 1 277 268M280.6 266.1L283.1 270.4M283.8 269.9A60 60 0 0 1 282.3 270.8M283.8 269.9L287.9 276.7M288.3 276.5A67.9 67.9 0 0 1 287.6 276.9M288.3 276.5L312.3 316.1M287.6 276.9L289.2 279.6M289.4 279.5A71.1 71.1 0 0 1 289 279.8M289.4 279.5L306 307.2M289 279.8L305.8 308.5M282.3 270.8L284.6 274.9M285.1 274.6A64.6 64.6 0 0 1 284 275.2M285.1 274.6L286.9 277.9M287.2 277.7A68.4 68.4 0 0 1 286.7 278M287.2 277.7L299.7 299.5M286.7 278L297.1 296.3M284 275.2L285.2 277.4M285.6 277.1A67.1 67.1 0 0 1 284.8 277.6M285.6 277.1L297.8 299M284.8 277.6L285.3 278.5M285.7 278.3A68.2 68.2 0 0 1 284.9 278.8M285.7 278.3L296.7 298.5M284.9 278.8L285.5 280.1M285.9 279.8A69.6 69.6 0 0 1 285.1 280.3M285.9 279.8L295.6 297.8M285.1 280.3L287.4 284.7M287.8 284.5A74.6 74.6 0 0 1 287 284.9M287.8 284.5L299.7 307.2M287 284.9L287.8 286.3M288 286.2A76.2 76.2 0 0 1 287.5 286.5M288 286.2L299.4 308.2M287.5 286.5L296.2 303.5M277 268L282.1 278.6M282.8 278.2A66.7 66.7 0 0 1 281.4 278.9M282.8 278.2L299.4 311.5M281.4 278.9L283.8 284.2M284.6 283.8A72.6 72.6 0 0 1 283 284.6M284.6 283.8L286 286.6M286.3 286.5A75.7 75.7 0 0 1 285.7 286.8M286.3 286.5L303.1 321M285.7 286.8L301.5 319.6M283 284.6L285.7 290.5M286.6 290A79 79 0 0 1 284.8 290.9M286.6 290L299.4 317.1M284.8 290.9L286.6 295.1M288 294.5A83.7 83.7 0 0 1 285.2 295.7M288 294.5L300 320.4M285.2 295.7L285.7 296.8M287 296.2A84.8 84.8 0 0 1 284.3 297.3M287 296.2L289.4 301.8M290.1 301.5A90.9 90.9 0 0 1 288.7 302.1M290.1 301.5L290.9 303.3M291.2 303.1A92.9 92.9 0 0 1 290.6 303.4M291.2 303.1L294.7 310.9M290.6 303.4L294.4 311.9M288.7 302.1L289.7 304.5M290.2 304.3A93.6 93.6 0 0 1 289.3 304.8M290.2 304.3L297 319.9M289.3 304.8L289.7 305.8M290 305.7A94.7 94.7 0 0 1 289.4 305.9M290 305.7L294.7 316.6M289.4 305.9L291.5 311.1M284.3 297.3L285.4 299.9M286 299.7A87.7 87.7 0 0 1 284.7 300.2M286 299.7L293.2 317.2M284.7 300.2L286 303.3M286.7 303A91 91 0 0 1 285.3 303.6M286.7 303L292.8 318.5M285.3 303.6L286.4 306.5M287.2 306.2A94.1 94.1 0 0 1 285.6 306.8M287.2 306.2L290.4 314.5M285.6 306.8L285.8 307.4M286.7 307.1A94.8 94.8 0 0 1 284.9 307.7M286.7 307.1L291.4 319.5M284.9 307.7L285.3 308.9M286.1 308.6A96 96 0 0 1 284.5 309.2M286.1 308.6L286.3 309.1M286.6 308.9A96.5 96.5 0 0 1 285.9 309.2M286.6 308.9L289.9 317.7M285.9 309.2L289.1 317.9M284.5 309.2L285 310.7M285.6 310.5A97.6 97.6 0 0 1 284.4 310.9M285.6 310.5L289.1 320.2M284.4 310.9L284.6 311.4M285.1 311.2A98.1 98.1 0 0 1 284.1 311.6M285.1 311.2L289 322.4M284.1 311.6L284.5 313M284.9 312.9A99.7 99.7 0 0 1 284.2 313.2M284.9 312.9L285.4 314.3M284.2 313.2L286.6 320.6M267.1 265.1L269.2 271.9M269.6 271.8A55.8 55.8 0 0 1 268.8 272M269.6 271.8L271 276.4M271.3 276.3A60.7 60.7 0 0 1 270.7 276.5M271.3 276.3L273.2 282.2M273.4 282.1A66.8 66.8 0 0 1 272.9 282.3M273.4 282.1L287.5 326.1M272.9 282.3L287 327.2M270.7 276.5L284.4 321.6M268.8 272L281.9 316.3M263.8 263L266 272.1M266.6 271.9A55.2 55.2 0 0 1 265.3 272.3M266.6 271.9L268.4 279M268.9 278.9A62.4 62.4 0 0 1 268 279.1M268.9 278.9L270.1 283.6M270.6 283.5A67.3 67.3 0 0 1 269.6 283.7M270.6 283.5L272.4 290.2M272.9 290A74.2 74.2 0 0 1 271.9 290.3M272.9 290L273.4 292M273.8 291.8A76.2 76.2 0 0 1 273 292.1M273.8 291.8L275 296M275.3 295.9A80.6 80.6 0 0 1 274.7 296.1M275.3 295.9L282.6 321.5M274.7 296.1L283.1 326.3M273 292.1L280.3 319.1M271.9 290.3L280.2 321.7M269.6 283.7L276.7 311.3M268 279.1L274.5 305.6M265.3 272.3L267 279.5M267.3 279.4A62.6 62.6 0 0 1 266.6 279.6M267.3 279.4L268.5 284.7M268.8 284.6A68 68 0 0 1 268.3 284.7M268.8 284.6L276.9 318.7M268.3 284.7L278.5 328.8M266.6 279.6L274.6 315.2M259.3 258L260.3 264.6M260.8 264.5A46.7 46.7 0 0 1 259.8 264.7M260.8 264.5L261.7 269.6M262.2 269.5A51.8 51.8 0 0 1 261.2 269.7M262.2 269.5L263.7 277.8M264.4 277.7A60.3 60.3 0 0 1 263 278M264.4 277.7L265.5 283.2M266.2 283A65.9 65.9 0 0 1 264.8 283.3M266.2 283L267.4 288.8M267.8 288.8A71.8 71.8 0 0 1 267 288.9M267.8 288.8L268.7 292.9M269 292.8A76 76 0 0 1 268.4 292.9M269 292.8L272.8 310.8M268.4 292.9L270.2 301.6M267 288.9L271.1 309.4M264.8 283.3L265 284.4M265.3 284.3A67 67 0 0 1 264.6 284.5M265.3 284.3L266.4 290.1M266.7 290A72.8 72.8 0 0 1 266.1 290.1M266.7 290L270.6 310.3M266.1 290.1L270.2 312.4M264.6 284.5L268.9 309.3M263 278L267.9 307.4M261.2 269.7L269.3 320.2M259.8 264.7L261.3 274.3M261.5 274.3A56.4 56.4 0 0 1 261.1 274.3M261.5 274.3L269.5 326.6M261.1 274.3L267.5 319M257.8 260.2A42 42 0 0 1 247.7 260.2M257.8 260.2L258.5 266.4M259.3 266.3A48.3 48.3 0 0 1 257.8 266.5M259.3 266.3L260.3 274.5M260.6 274.4A56.5 56.5 0 0 1 260 274.5M260.6 274.4L265.2 307.5M260 274.5L260.7 279.7M260.9 279.6A61.6 61.6 0 0 1 260.4 279.7M260.9 279.6L267 327M260.4 279.7L265.9 324.9M257.8 266.5L258.3 271.7M258.8 271.7A53.5 53.5 0 0 1 257.8 271.8M258.8 271.7L259.3 276.3M259.6 276.3A58.1 58.1 0 0 1 259.1 276.3M259.6 276.3L263 306.9M259.1 276.3L262.5 308.3M257.8 271.8L258.2 275.8M258.6 275.8A57.6 57.6 0 0 1 257.8 275.9M258.6 275.8L262.7 317.3M257.8 275.9L258.3 282.2M258.8 282.1A63.9 63.9 0 0 1 257.9 282.2M258.8 282.1L261.5 311.9M257.9 282.2L258.2 286M258.6 286A67.7 67.7 0 0 1 257.7 286.1M258.6 286L260.2 305.6M257.7 286.1L257.9 289.4M258.3 289.3A71 71 0 0 1 257.5 289.4M258.3 289.3L260.8 322.3M257.5 289.4L257.6 290.6M257.9 290.6A72.3 72.3 0 0 1 257.3 290.6M257.9 290.6L259.2 310.4M257.3 290.6L258.5 309.7M247.7 260.2L246.6 268.3M255.3 268.7A50.2 50.2 0 0 1 238.1 266.5M255.3 268.7L255.6 274M255.9 274A55.6 55.6 0 0 1 255.3 274.1M255.9 274L258.1 315.2M255.3 274.1L255.5 279.6M255.7 279.6A61.2 61.2 0 0 1 255.3 279.6M255.7 279.6L256.8 302.4M255.3 279.6L256.5 311.8M238.1 266.5L236.2 272.8M242.6 274.4A56.9 56.9 0 0 1 230 270.5M242.6 274.4L241.9 278M247.3 278.7A60.5 60.5 0 0 1 236.6 276.8M247.3 278.7L247.1 280.9M253.1 281.2A62.7 62.7 0 0 1 241.1 280.1M253.1 281.2L253.1 290.4M254.6 290.4A71.9 71.9 0 0 1 251.7 290.4M254.6 290.4L254.7 293.7M255.2 293.7A75.3 75.3 0 0 1 254.2 293.8M255.2 293.7L256 319.1M254.2 293.8L254.2 298.4M254.8 298.4A79.9 79.9 0 0 1 253.7 298.4M254.8 298.4L255.2 315.6M253.7 298.4L253.7 300.1M254.2 300.1A81.6 81.6 0 0 1 253.3 300.1M254.2 300.1L254.5 322M253.3 300.1L253.3 302.1M253.6 302.1A83.6 83.6 0 0 1 253 302.1M253.6 302.1L253.7 316.2M253 302.1L252.9 323.5M251.7 290.4L251.6 295.3M252.4 295.3A76.8 76.8 0 0 1 250.8 295.3M252.4 295.3L252.2 318.9M250.8 295.3L250.7 297.1M251.5 297.1A78.7 78.7 0 0 1 250 297.1M251.5 297.1L251.4 297.9M251.8 298A79.5 79.5 0 0 1 251.1 297.9M251.8 298L251.6 308.3M251.1 297.9L250.4 328.9M250 297.1L249.9 298M250.5 298.1A79.6 79.6 0 0 1 249.3 298M250.5 298.1L250 316.6M249.3 298L249.2 300.6M249.8 300.6A82.2 82.2 0 0 1 248.6 300.5M249.8 300.6L249.1 318.7M248.6 300.5L248.5 302.8M249.1 302.9A84.5 84.5 0 0 1 247.8 302.8M249.1 302.9L247.9 329.8M247.8 302.8L247.5 306.8M248.3 306.8A88.4 88.4 0 0 1 246.8 306.7M248.3 306.8L247.3 325.4M246.8 306.7L246.5 311.7M247.3 311.7A93.4 93.4 0 0 1 245.7 311.6M247.3 311.7L246 333M245.7 311.6L245.5 313.6M246.4 313.6A95.4 95.4 0 0 1 244.6 313.5M246.4 313.6L245.4 329.2M244.6 313.5L244.5 314.9M245.3 314.9A96.8 96.8 0 0 1 243.8 314.8M245.3 314.9L245.2 315.5M245.6 315.5A97.3 97.3 0 0 1 244.8 315.4M245.6 315.5L244.8 325.2M244.8 315.4L244.7 316.9M243.8 314.8L243.6 317M244 317.1A99 99 0 0 1 243.2 317M244 317.1L243.1 326.4M243.2 317L242.4 325.1M241.1 280.1L240.6 282.8M242.5 283.1A65.5 65.5 0 0 1 238.7 282.4M242.5 283.1L241.7 288.4M242.4 288.5A70.8 70.8 0 0 1 240.9 288.3M242.4 288.5L241.4 295.4M242.2 295.5A77.8 77.8 0 0 1 240.6 295.3M242.2 295.5L241.9 297.5M242.9 297.6A79.8 79.8 0 0 1 240.9 297.3M242.9 297.6L242.7 299M243.6 299.1A81.2 81.2 0 0 1 241.8 298.9M243.6 299.1L243.3 302M243.7 302A84 84 0 0 1 242.8 301.9M243.7 302L243.2 306.8M243.5 306.9A88.9 88.9 0 0 1 242.9 306.8M243.5 306.9L242.1 319.9M242.9 306.8L240.8 324.7M242.8 301.9L239.7 326.8M241.8 298.9L240.9 305.2M241.4 305.3A87.6 87.6 0 0 1 240.4 305.1M241.4 305.3L241.1 307.2M241.5 307.2A89.5 89.5 0 0 1 240.8 307.1M241.5 307.2L240.2 316.8M240.8 307.1L237.8 328.8M240.4 305.1L235.8 336.5M240.9 297.3L235.7 331M240.6 295.3L236.3 322M240.9 288.3L240.5 291.1M240.7 291.2A73.7 73.7 0 0 1 240.2 291.1M240.7 291.2L233.8 332.1M240.2 291.1L232.8 332.6M238.7 282.4L236.6 291.7M237.1 291.8A75 75 0 0 1 236.1 291.6M237.1 291.8L236.3 295.8M236.9 295.9A79.1 79.1 0 0 1 235.7 295.6M236.9 295.9L236.6 297.1M237.2 297.2A80.2 80.2 0 0 1 236.1 296.9M237.2 297.2L236.6 300M237.1 300.1A83.1 83.1 0 0 1 236.1 299.9M237.1 300.1L237 301M237.4 301.1A84 84 0 0 1 236.5 300.9M237.4 301.1L237.3 301.9M237.6 302A84.9 84.9 0 0 1 237 301.9M237.6 302L236 310.7M237 301.9L236 306.9M236.5 300.9L236.2 302.4M236.1 299.9L233.8 310.9M236.1 296.9L231.8 316.6M235.7 295.6L231.9 312.5M236.1 291.6L230.2 316.7M236.6 276.8L236.2 278.3M238.1 278.8A62.1 62.1 0 0 1 234.4 277.8M238.1 278.8L236.5 284.9M237 285A68.4 68.4 0 0 1 236.1 284.7M237 285L228.6 320M236.1 284.7L235 288.9M235.5 289A72.6 72.6 0 0 1 234.5 288.7M235.5 289L226.2 326.6M234.5 288.7L233.1 293.8M233.7 294A77.9 77.9 0 0 1 232.6 293.7M233.7 294L226.6 321.8M232.6 293.7L232.2 295.1M232.7 295.2A79.4 79.4 0 0 1 231.7 295M232.7 295.2L226.6 318.6M231.7 295L231.1 297.3M231.5 297.4A81.8 81.8 0 0 1 230.6 297.2M231.5 297.4L226.5 316M230.6 297.2L229.8 300.1M230.1 300.2A84.9 84.9 0 0 1 229.5 300M230.1 300.2L227.6 309M229.5 300L228.9 302.1M234.4 277.8L231.9 285.7M232.7 285.9A70.4 70.4 0 0 1 231.1 285.4M232.7 285.9L230.5 293.2M230.8 293.3A78 78 0 0 1 230.2 293.1M230.8 293.3L222.3 321.8M230.2 293.1L223 316.7M231.1 285.4L229.6 289.8M230.6 290.1A75 75 0 0 1 228.7 289.5M230.6 290.1L225.5 306.2M228.7 289.5L227.5 293.1M228.4 293.5A78.9 78.9 0 0 1 226.5 292.8M228.4 293.5L228 294.7M228.4 294.9A80.2 80.2 0 0 1 227.6 294.6M228.4 294.9L225.4 304.2M227.6 294.6L227.4 295.1M227.7 295.2A80.8 80.8 0 0 1 227.1 295M227.7 295.2L222.6 310.6M227.1 295L221.4 311.8M226.5 292.8L225.2 296.3M225.9 296.6A82.6 82.6 0 0 1 224.6 296.1M225.9 296.6L219.2 316M224.6 296.1L224.1 297.3M224.9 297.6A84 84 0 0 1 223.4 297.1M224.9 297.6L223.8 300.5M223.4 297.1L222.6 299.1M223.2 299.3A86.2 86.2 0 0 1 222 298.9M223.2 299.3L222.9 300.3M223.2 300.4A87.1 87.1 0 0 1 222.6 300.1M223.2 300.4L218.9 312.2M222.6 300.1L219.6 308.1M222 298.9L221.8 299.3M222.1 299.5A86.7 86.7 0 0 1 221.5 299.2M222.1 299.5L218.3 309.4M221.5 299.2L217.1 310.6M230 270.5L226.8 277.7M227.5 278A64.7 64.7 0 0 1 226.1 277.3M227.5 278L225.3 283.2M225.9 283.4A70.4 70.4 0 0 1 224.7 282.9M225.9 283.4L224.2 287.5M224.6 287.7A74.8 74.8 0 0 1 223.7 287.3M224.6 287.7L223.6 290.2M224 290.4A77.5 77.5 0 0 1 223.2 290.1M224 290.4L222.8 293.5M223 293.6A80.9 80.9 0 0 1 222.5 293.4M223 293.6L214.1 315.9M222.5 293.4L213.6 315.2M223.2 290.1L211.5 318.1M223.7 287.3L212.2 314.4M224.7 282.9L223.9 284.9M224.1 285A72.5 72.5 0 0 1 223.6 284.7M224.1 285L217.2 300.9M223.6 284.7L215.4 303.3M226.1 277.3L222.6 285.1M222.8 285.2A73.2 73.2 0 0 1 222.3 285M222.8 285.2L212.2 308.7M222.3 285L210.1 311.5M233.9 258.1A44 44 0 0 1 224.9 252.3M233.9 258.1L229.5 267.1M230 267.3A53.9 53.9 0 0 1 229 266.8M230 267.3L211.3 306.9M229 266.8L226.8 271.4M227.4 271.8A59.1 59.1 0 0 1 226.1 271.1M227.4 271.8L212.8 302.1M226.1 271.1L224 275.2M224.6 275.6A63.7 63.7 0 0 1 223.3 274.9M224.6 275.6L222.1 280.7M222.5 280.8A69.4 69.4 0 0 1 221.8 280.5M222.5 280.8L212.8 300.5M221.8 280.5L220.7 282.6M220.9 282.8A71.8 71.8 0 0 1 220.4 282.5M220.9 282.8L206.2 312.3M220.4 282.5L208.3 306.3M223.3 274.9L219.9 281.5M220.3 281.7A71.2 71.2 0 0 1 219.5 281.3M220.3 281.7L210 301.5M219.5 281.3L216 287.8M216.3 288A78.6 78.6 0 0 1 215.8 287.7M216.3 288L203.3 312.5M215.8 287.7L203.2 311.2M224.9 252.3L220 258.2M225.2 262.1A51.7 51.7 0 0 1 215.2 253.7M225.2 262.1L222.8 265.9M225.4 267.5A56.2 56.2 0 0 1 220.2 264.1M225.4 267.5L221.4 274.7M222 275.1A64.5 64.5 0 0 1 220.7 274.4M222 275.1L207.4 301.7M220.7 274.4L218.5 278.2M219.4 278.7A68.9 68.9 0 0 1 217.6 277.7M219.4 278.7L204.3 305.8M217.6 277.7L214.2 283.4M215.2 284A75.6 75.6 0 0 1 213.2 282.8M215.2 284L213.4 287.2M213.9 287.4A79.3 79.3 0 0 1 212.9 286.9M213.9 287.4L206.9 299.7M212.9 286.9L212 288.6M212.4 288.8A81.2 81.2 0 0 1 211.6 288.3M212.4 288.8L208.4 295.6M211.6 288.3L210.2 290.6M210.5 290.8A83.8 83.8 0 0 1 209.9 290.4M210.5 290.8L203.9 301.9M209.9 290.4L206.1 296.9M213.2 282.8L212.3 284.3M212.8 284.6A77.4 77.4 0 0 1 211.8 284M212.8 284.6L198.2 308.5M211.8 284L210.9 285.5M211.3 285.8A79.1 79.1 0 0 1 210.4 285.2M211.3 285.8L195.1 312M210.4 285.2L209.2 287.2M209.6 287.4A81.5 81.5 0 0 1 208.8 286.9M209.6 287.4L200.6 301.7M208.8 286.9L206.4 290.7M206.6 290.9A86 86 0 0 1 206.1 290.5M206.6 290.9L197.2 305.6M206.1 290.5L195.8 306.3M220.2 264.1L217.3 268.2M219.2 269.5A61.2 61.2 0 0 1 215.4 266.8M219.2 269.5L194.4 306.9M215.4 266.8L213.9 268.8M216.7 270.8A63.7 63.7 0 0 1 211.2 266.6M216.7 270.8L211.8 277.9M212.4 278.3A72.3 72.3 0 0 1 211.2 277.5M212.4 278.3L210.5 281.1M210.7 281.3A75.7 75.7 0 0 1 210.2 281M210.7 281.3L199.7 297.7M210.2 281L201 294.5M211.2 277.5L207.8 282.2M208.4 282.6A78.1 78.1 0 0 1 207.3 281.8M208.4 282.6L194.2 303M207.3 281.8L205.6 284.1M206.2 284.6A81 81 0 0 1 204.9 283.7M206.2 284.6L196 299.1M204.9 283.7L203.7 285.3M204.6 285.9A83 83 0 0 1 202.8 284.6M204.6 285.9L197.2 296.1M202.8 284.6L202.4 285.3M203.3 286A83.8 83.8 0 0 1 201.4 284.5M203.3 286L203 286.4M203.3 286.6A84.3 84.3 0 0 1 202.8 286.2M203.3 286.6L199.9 291.3M202.8 286.2L198.9 291.4M201.4 284.5L200.8 285.3M201.5 285.9A84.8 84.8 0 0 1 200 284.7M201.5 285.9L200.9 286.8M201.3 287.1A85.9 85.9 0 0 1 200.5 286.5M201.3 287.1L197 292.7M200.5 286.5L200.2 286.9M200.5 287.1A86.4 86.4 0 0 1 199.9 286.7M200.5 287.1L199.5 288.3M199.9 286.7L199 287.9M200 284.7L199.7 285.1M200.1 285.4A85.3 85.3 0 0 1 199.3 284.8M200.1 285.4L197.3 289M199.3 284.8L198.7 285.6M199 285.8A86.3 86.3 0 0 1 198.5 285.3M199 285.8L196.9 288.3M198.5 285.3L197.5 286.5M211.2 266.6L207.7 270.7M208.1 271A69.1 69.1 0 0 1 207.3 270.4M208.1 271L206.6 272.7M207 273A71.3 71.3 0 0 1 206.3 272.4M207 273L201.7 279.3M202 279.6A79.5 79.5 0 0 1 201.3 279M202 279.6L200.1 281.9M200.4 282.1A82.5 82.5 0 0 1 199.9 281.7M200.4 282.1L187.8 297.2M199.9 281.7L181.3 303.7M201.3 279L180.6 303.2M206.3 272.4L185.5 296.2M207.3 270.4L185.5 295.1M215.2 253.7L214.3 254.6M217.7 258A53 53 0 0 1 211.2 251M217.7 258L189.7 289.2M211.2 251L207.7 253.7M210.5 257.1A57.4 57.4 0 0 1 205.1 250.1M210.5 257.1L204 263M205.9 265.1A66.2 66.2 0 0 1 202.2 261M205.9 265.1L203.3 267.7M205.5 269.9A69.9 69.9 0 0 1 201.1 265.4M205.5 269.9L203 272.6M203.5 273A73.6 73.6 0 0 1 202.6 272.2M203.5 273L181 297.8M202.6 272.2L199 276M199.5 276.5A78.9 78.9 0 0 1 198.4 275.6M199.5 276.5L184.1 293.1M198.4 275.6L197.4 276.6M198 277.2A80.4 80.4 0 0 1 196.8 276M198 277.2L177.8 298.8M196.8 276L194.1 278.8M194.9 279.6A84.3 84.3 0 0 1 193.3 278.1M194.9 279.6L180.4 294.9M193.3 278.1L191 280.4M191.8 281.2A87.6 87.6 0 0 1 190.2 279.7M191.8 281.2L190.2 282.8M190.6 283.1A89.8 89.8 0 0 1 189.9 282.4M190.6 283.1L181.5 292.5M189.9 282.4L189.1 283.2M189.4 283.4A90.9 90.9 0 0 1 188.9 282.9M189.4 283.4L188.3 284.5M188.9 282.9L187.8 284M190.2 279.7L188.4 281.5M188.8 282A90.2 90.2 0 0 1 187.9 281M188.8 282L182.3 288.4M187.9 281L185.1 283.7M185.6 284.1A94.1 94.1 0 0 1 184.7 283.2M185.6 284.1L176.8 292.7M184.7 283.2L183.3 284.5M183.7 285A96 96 0 0 1 182.8 284M183.7 285L176.8 291.6M182.8 284L181 285.7M181.4 286.1A98.5 98.5 0 0 1 180.7 285.3M181.4 286.1L173.6 293.6M180.7 285.3L179.1 286.7M179.4 287A100.6 100.6 0 0 1 178.9 286.4M179.4 287L170.1 295.7M178.9 286.4L169.8 294.8M201.1 265.4L177.1 287M202.2 261L198.2 264.2M198.6 264.6A71.4 71.4 0 0 1 197.9 263.8M198.6 264.6L194 268.5M194.4 268.9A77.3 77.3 0 0 1 193.7 268.1M194.4 268.9L193.7 269.5M194.1 269.9A78.2 78.2 0 0 1 193.4 269.1M194.1 269.9L190.8 272.7M191.1 273.1A82.5 82.5 0 0 1 190.5 272.3M191.1 273.1L189 275M189.2 275.2A85.4 85.4 0 0 1 188.8 274.7M189.2 275.2L175.2 287.6M188.8 274.7L181.4 281.2M190.5 272.3L180.5 281M193.4 269.1L177.4 282.7M193.7 268.1L185.7 274.7M197.9 263.8L177.9 280.3M205.1 250.1L204 250.9M207 255.1A58.8 58.8 0 0 1 201.3 246.5M207 255.1L200.2 260.5M200.6 260.9A67.4 67.4 0 0 1 199.8 260M200.6 260.9L169.5 286.2M199.8 260L196.2 262.9M196.6 263.5A72.1 72.1 0 0 1 195.7 262.3M196.6 263.5L180 276.7M195.7 262.3L189.9 266.7M190.3 267.3A79.4 79.4 0 0 1 189.4 266.1M190.3 267.3L189.6 267.9M189.8 268.1A80.4 80.4 0 0 1 189.4 267.7M189.8 268.1L174.7 280M189.4 267.7L171.2 281.7M189.4 266.1L186.9 268M187.2 268.5A82.6 82.6 0 0 1 186.5 267.5M187.2 268.5L173.7 278.8M186.5 267.5L183.2 270M183.6 270.5A86.7 86.7 0 0 1 182.8 269.4M183.6 270.5L163 285.9M182.8 269.4L180.8 270.8M181.2 271.4A89.1 89.1 0 0 1 180.5 270.3M181.2 271.4L173 277.5M180.5 270.3L178.2 271.9M178.6 272.5A91.9 91.9 0 0 1 177.8 271.4M178.6 272.5L167.3 280.7M177.8 271.4L176.3 272.5M176.6 273A93.8 93.8 0 0 1 175.9 272M176.6 273L171.4 276.8M175.9 272L175.3 272.4M175.6 272.8A94.6 94.6 0 0 1 175 271.9M175.6 272.8L168.5 277.8M175 271.9L174.6 272.2M174.8 272.5A95.1 95.1 0 0 1 174.4 271.9M174.8 272.5L166.3 278.4M174.4 271.9L170 274.9M201.3 246.5L199.1 247.6M201.8 252.2A61.3 61.3 0 0 1 196.8 242.9M201.8 252.2L197.4 255.1M197.7 255.5A66.5 66.5 0 0 1 197.2 254.7M197.7 255.5L175.5 270.3M197.2 254.7L194.7 256.3M194.9 256.7A69.5 69.5 0 0 1 194.4 255.9M194.9 256.7L179.5 266.8M194.4 255.9L192.9 256.9M193.1 257.2A71.3 71.3 0 0 1 192.7 256.5M193.1 257.2L178.7 266.6M192.7 256.5L190 258.2M190.2 258.4A74.5 74.5 0 0 1 189.9 258M190.2 258.4L178.8 265.7M189.9 258L173.9 268M196.8 242.9L193.3 244.4M194.3 246.7A65.1 65.1 0 0 1 192.3 242.1M194.3 246.7L188.2 249.7M188.5 250.4A72 72 0 0 1 187.8 248.9M188.5 250.4L183.6 252.9M184.1 254A77.5 77.5 0 0 1 183 251.8M184.1 254L181.1 255.6M181.7 256.8A80.9 80.9 0 0 1 180.4 254.3M181.7 256.8L180.3 257.6M180.9 258.7A82.6 82.6 0 0 1 179.7 256.5M180.9 258.7L178.2 260.2M178.7 261.1A85.6 85.6 0 0 1 177.7 259.2M178.7 261.1L176.8 262.2M177.1 262.7A87.8 87.8 0 0 1 176.5 261.6M177.1 262.7L175 264M175.3 264.5A90.3 90.3 0 0 1 174.7 263.4M175.3 264.5L173.8 265.4M174.1 266A92.1 92.1 0 0 1 173.5 264.9M174.1 266L173.3 266.4M173.6 266.9A93 93 0 0 1 173.1 266M173.6 266.9L172 267.8M172.2 268.2A94.8 94.8 0 0 1 171.8 267.5M172.2 268.2L161 275.1M171.8 267.5L158.9 275.4M173.1 266L163 271.9M173.5 264.9L166.4 269M174.7 263.4L170.6 265.7M176.5 261.6L162.9 269.3M177.7 259.2L177 259.6M177.2 260.1A86.4 86.4 0 0 1 176.7 259.2M177.2 260.1L176.5 260.5M176.6 260.8A87.3 87.3 0 0 1 176.3 260.2M176.6 260.8L168.7 265.2M176.3 260.2L170.4 263.4M176.7 259.2L163.4 266.3M179.7 256.5L177.6 257.6M177.8 257.9A84.9 84.9 0 0 1 177.5 257.3M177.8 257.9L170.1 261.9M177.5 257.3L166 263.2M180.4 254.3L178.6 255.2M178.8 255.6A83 83 0 0 1 178.3 254.7M178.8 255.6L176.6 256.7M176.8 256.9A85.4 85.4 0 0 1 176.5 256.4M176.8 256.9L156.4 267.2M176.5 256.4L157.7 265.7M178.3 254.7L159.9 263.7M183 251.8L160.6 262.5M187.8 248.9L154.9 264.3M192.3 242.1L186.1 244.5M186.4 245.4A71.8 71.8 0 0 1 185.8 243.7M186.4 245.4L184.9 246M185.1 246.5A73.5 73.5 0 0 1 184.7 245.5M185.1 246.5L183.3 247.2M183.5 247.8A75.4 75.4 0 0 1 183.1 246.7M183.5 247.8L180.8 248.9M181 249.4A78.4 78.4 0 0 1 180.5 248.4M181 249.4L178 250.7M178.2 251.3A81.6 81.6 0 0 1 177.8 250.2M178.2 251.3L177.5 251.6M177.7 252.1A82.5 82.5 0 0 1 177.2 251.1M177.7 252.1L176.9 252.4M177.1 252.9A83.3 83.3 0 0 1 176.7 252M177.1 252.9L175.9 253.4M176 253.7A84.7 84.7 0 0 1 175.8 253.1M176 253.7L162.8 259.8M175.8 253.1L164.7 258.1M176.7 252L165.5 256.9M177.2 251.1L171.7 253.5M177.8 250.2L157.6 258.7M180.5 248.4L166.8 254M183.1 246.7L156.6 257.4M184.7 245.5L157.7 256.1M185.8 243.7L182.9 244.8M183 245.2A74.9 74.9 0 0 1 182.7 244.4M183 245.2L181.8 245.6M181.9 245.9A76.2 76.2 0 0 1 181.7 245.4M181.9 245.9L158.5 255M181.7 245.4L161.7 252.9M182.7 244.4L154.4 254.8M203 219.6A50 50 0 0 1 205.2 203.9M203 219.6L196.1 219.8M197.4 230.5A56.9 56.9 0 0 1 196.9 208.9M197.4 230.5L194.2 231.2M196.4 238.9A60.2 60.2 0 0 1 193 223.4M196.4 238.9L164.2 250.5M193 223.4L189.8 223.6M190.4 228.8A63.4 63.4 0 0 1 189.6 218.4M190.4 228.8L182.8 230.1M183.1 231.7A71.1 71.1 0 0 1 182.6 228.4M183.1 231.7L180.2 232.3M180.5 234A74.1 74.1 0 0 1 179.9 230.6M180.5 234L175.4 235.1M176 237.5A79.3 79.3 0 0 1 174.9 232.6M176 237.5L174.1 237.9M174.4 239A81.2 81.2 0 0 1 173.9 236.9M174.4 239L172.8 239.4M173 240.4A82.9 82.9 0 0 1 172.5 238.5M173 240.4L172.3 240.6M172.6 241.6A83.6 83.6 0 0 1 172.1 239.6M172.6 241.6L171.7 241.9M172 242.9A84.6 84.6 0 0 1 171.5 240.9M172 242.9L171.6 243M171.7 243.6A85.1 85.1 0 0 1 171.4 242.4M171.7 243.6L171.3 243.8M171.5 244.4A85.6 85.6 0 0 1 171.1 243.2M171.5 244.4L171 244.5M171.2 245.1A86.1 86.1 0 0 1 170.8 243.9M171.2 245.1L170.7 245.3M170.9 245.9A86.6 86.6 0 0 1 170.5 244.7M170.9 245.9L170.4 246M170.6 246.6A87.1 87.1 0 0 1 170.2 245.5M170.6 246.6L170.1 246.7M170.3 247.2A87.6 87.6 0 0 1 170 246.3M170.3 247.2L169.8 247.4M169.9 247.7A88.1 88.1 0 0 1 169.7 247M169.9 247.7L168.5 248.2M169.7 247L168.3 247.5M170 246.3L168.5 246.7M170.2 245.5L168.8 245.9M170.5 244.7L169.1 245.2M170.8 243.9L166.7 245.2M171.1 243.2L169.6 243.6M171.4 242.4L168.2 243.3M171.5 240.9L170.5 241.1M170.6 241.6A85.5 85.5 0 0 1 170.4 240.7M170.6 241.6L169.8 241.8M169.9 242.2A86.4 86.4 0 0 1 169.7 241.5M169.9 242.2L159.6 245.1M169.7 241.5L159 244.5M170.4 240.7L158.5 243.9M172.1 239.6L156.4 243.6M172.5 238.5L172 238.6M172.1 238.9A83.4 83.4 0 0 1 172 238.3M172.1 238.9L152.1 243.9M172 238.3L160.1 241.2M173.9 236.9L171.6 237.4M171.7 237.7A83.6 83.6 0 0 1 171.5 237.1M171.7 237.7L155.1 241.6M171.5 237.1L149.7 242.1M174.9 232.6L173.7 232.8M173.8 233.4A80.6 80.6 0 0 1 173.6 232.2M173.8 233.4L170.1 234.1M170.2 234.7A84.3 84.3 0 0 1 170 233.5M170.2 234.7L167.7 235.2M167.8 235.8A86.9 86.9 0 0 1 167.6 234.6M167.8 235.8L166.8 236M166.9 236.6A88 88 0 0 1 166.7 235.5M166.9 236.6L165.2 237M165.3 237.5A89.7 89.7 0 0 1 165.1 236.5M165.3 237.5L163.8 237.8M163.9 238.1A91.2 91.2 0 0 1 163.8 237.5M163.9 238.1L162.4 238.4M163.8 237.5L152.9 239.8M165.1 236.5L154.2 238.7M166.7 235.5L142.1 240.3M167.6 234.6L149.6 238M170 233.5L156.8 235.9M173.6 232.2L157.2 235.1M179.9 230.6L141.4 237M182.6 228.4L178 229.1M178.1 229.6A75.7 75.7 0 0 1 178 228.6M178.1 229.6L176.2 229.9M176.3 230.3A77.6 77.6 0 0 1 176.1 229.4M176.3 230.3L175.6 230.4M175.6 230.7A78.3 78.3 0 0 1 175.6 230.1M175.6 230.7L163.1 232.7M175.6 230.1L161 232.3M176.1 229.4L151.9 232.9M178 228.6L145.3 233M189.6 218.4L186.5 218.4M186.6 220A66.5 66.5 0 0 1 186.6 216.8M186.6 220L181.8 220.1M181.9 221.9A71.2 71.2 0 0 1 181.8 218.3M181.9 221.9L176 222.2M176.2 225.5A77.1 77.1 0 0 1 175.9 218.9M176.2 225.5L173.6 225.7M173.8 227.9A79.8 79.8 0 0 1 173.4 223.5M173.8 227.9L170.8 228.3M170.8 228.9A82.8 82.8 0 0 1 170.7 227.7M170.8 228.9L143.7 232.4M170.7 227.7L166.9 228.1M166.9 228.8A86.7 86.7 0 0 1 166.8 227.5M166.9 228.8L143.4 231.6M166.8 227.5L165.9 227.6M165.9 228.2A87.6 87.6 0 0 1 165.8 227M165.9 228.2L152.7 229.7M165.8 227L160.5 227.5M160.5 228.1A93 93 0 0 1 160.4 226.9M160.5 228.1L139.6 230.3M160.4 226.9L155.5 227.3M155.5 227.9A97.9 97.9 0 0 1 155.4 226.8M155.5 227.9L139.5 229.4M155.4 226.8L153.9 226.9M154 227.3A99.4 99.4 0 0 1 153.9 226.5M154 227.3L149.3 227.7M153.9 226.5L138.1 227.8M173.4 223.5L170.7 223.7M170.7 224.5A82.5 82.5 0 0 1 170.6 222.8M170.7 224.5L155.1 225.7M170.6 222.8L166.6 223M166.7 223.9A86.5 86.5 0 0 1 166.6 222.1M166.7 223.9L164.6 224M164.6 224.3A88.6 88.6 0 0 1 164.5 223.6M164.6 224.3L150.4 225.2M164.5 223.6L155.3 224.2M166.6 222.1L164.3 222.2M164.3 223A88.8 88.8 0 0 1 164.3 221.5M164.3 223L137.4 224.4M164.3 221.5L159.8 221.6M159.8 222.5A93.3 93.3 0 0 1 159.8 220.7M159.8 222.5L141.1 223.3M159.8 220.7L157.8 220.8M157.8 221.5A95.2 95.2 0 0 1 157.8 220.1M157.8 221.5L157 221.5M157 221.9A96 96 0 0 1 157 221.2M157 221.9L155.1 222M157 221.2L155.5 221.2M157.8 220.1L155.3 220.1M155.4 220.5A97.7 97.7 0 0 1 155.3 219.7M155.4 220.5L153.9 220.5M155.3 219.7L146.3 219.9M175.9 218.9L135.7 219.1M181.8 218.3L141.3 218.2M186.6 216.8L180.9 216.7M180.9 217.8A72.1 72.1 0 0 1 181 215.5M180.9 217.8L157.1 217.6M181 215.5L178.3 215.4M178.3 216.9A74.8 74.8 0 0 1 178.4 213.9M178.3 216.9L174 216.8M174 217.1A79.1 79.1 0 0 1 174 216.5M174 217.1L148.8 216.7M174 216.5L162.1 216.2M178.4 213.9L175.4 213.7M175.3 215.5A77.7 77.7 0 0 1 175.6 212M175.3 215.5L172.2 215.3M172.2 215.9A80.8 80.8 0 0 1 172.3 214.8M172.2 215.9L156.1 215.3M172.3 214.8L168.5 214.6M168.5 215.1A84.6 84.6 0 0 1 168.5 214.1M168.5 215.1L148.1 214.3M168.5 214.1L165.8 214M165.8 214.3A87.3 87.3 0 0 1 165.8 213.7M165.8 214.3L151.6 213.7M165.8 213.7L159.6 213.3M175.6 212L174.4 211.9M174.3 213.6A78.8 78.8 0 0 1 174.6 210.3M174.3 213.6L149.1 212M174.6 210.3L170.7 209.9M170.6 211.6A82.7 82.7 0 0 1 170.9 208.2M170.6 211.6L169.4 211.5M169.4 212.3A83.9 83.9 0 0 1 169.5 210.8M169.4 212.3L166.7 212.1M166.7 212.4A86.5 86.5 0 0 1 166.8 211.8M166.7 212.4L152.1 211.4M166.8 211.8L148.1 210.3M169.5 210.8L166.8 210.5M166.7 211.1A86.6 86.6 0 0 1 166.8 210M166.7 211.1L158.8 210.4M166.8 210L163.4 209.6M163.3 210.1A90.1 90.1 0 0 1 163.4 209.1M163.3 210.1L149.3 208.8M163.4 209.1L157.8 208.5M157.7 208.9A95.8 95.8 0 0 1 157.8 208.2M157.7 208.9L133.6 206.5M157.8 208.2L139.1 206.1M170.9 208.2L168.1 207.9M168 208.6A85.5 85.5 0 0 1 168.2 207.1M168 208.6L156.8 207.3M168.2 207.1L167.4 207M167.3 207.9A86.4 86.4 0 0 1 167.5 206.2M167.3 207.9L142.3 204.8M167.5 206.2L164.9 205.8M164.8 206.6A89 89 0 0 1 165.1 205.1M164.8 206.6L164.3 206.5M164.3 206.8A89.5 89.5 0 0 1 164.4 206.2M164.3 206.8L157.1 205.9M164.4 206.2L158.8 205.4M165.1 205.1L161.9 204.6M161.9 205.1A92.1 92.1 0 0 1 162 204.1M161.9 205.1L150.2 203.4M162 204.1L161.1 203.9M161.1 204.3A93 93 0 0 1 161.2 203.6M161.1 204.3L153.3 203.1M161.2 203.6L154.9 202.6M196.9 208.9L162 203M205.2 203.9L195.9 201.1M194.8 205.5A59.7 59.7 0 0 1 197.4 196.9M194.8 205.5L191.2 204.7M190.6 207.4A63.3 63.3 0 0 1 191.8 202M190.6 207.4L165.6 202.9M191.8 202L187.1 200.7M186.6 202.7A68.3 68.3 0 0 1 187.7 198.7M186.6 202.7L183.4 202M183.1 203.3A71.5 71.5 0 0 1 183.7 200.6M183.1 203.3L181.7 203M181.5 203.9A73 73 0 0 1 181.9 202.2M181.5 203.9L173.7 202.3M173.6 203A80.9 80.9 0 0 1 173.8 201.6M173.6 203L172.7 202.8M172.6 203.2A81.8 81.8 0 0 1 172.8 202.3M172.6 203.2L169 202.6M168.9 202.9A85.5 85.5 0 0 1 169 202.2M168.9 202.9L155.3 200.3M169 202.2L153.3 199.2M172.8 202.3L154.5 198.7M173.8 201.6L170.6 200.9M170.5 201.2A84.3 84.3 0 0 1 170.7 200.6M170.5 201.2L149.9 196.9M170.7 200.6L141 194.2M181.9 202.2L177.9 201.3M177.8 201.6A77.1 77.1 0 0 1 177.9 201M177.8 201.6L171.4 200.1M177.9 201L164.6 197.9M183.7 200.6L181.7 200.1M181.6 200.6A73.6 73.6 0 0 1 181.8 199.6M181.6 200.6L179.3 200M179.2 200.4A76 76 0 0 1 179.4 199.6M179.2 200.4L175.9 199.6M175.8 199.9A79.4 79.4 0 0 1 175.9 199.3M175.8 199.9L150.8 193.9M175.9 199.3L158.3 194.9M179.4 199.6L152.1 192.6M181.8 199.6L139.5 188.4M187.7 198.7L182.2 197M182 197.9A74 74 0 0 1 182.5 196.2M182 197.9L178.9 197M178.7 197.4A77.2 77.2 0 0 1 179 196.5M178.7 197.4L174.9 196.4M174.8 196.8A81.2 81.2 0 0 1 175 195.9M174.8 196.8L173.1 196.3M173 196.6A82.9 82.9 0 0 1 173.2 196M173 196.6L156.4 192.1M173.2 196L157.4 191.6M175 195.9L146.1 187.5M179 196.5L149.8 187.8M182.5 196.2L180.3 195.5M180.2 195.9A76.3 76.3 0 0 1 180.4 195.1M180.2 195.9L175.8 194.6M175.7 194.8A80.8 80.8 0 0 1 175.9 194.3M175.7 194.8L154.3 188.3M175.9 194.3L152.5 186.9M180.4 195.1L157.7 187.7M197.4 196.9L195.9 196.3M195.7 196.8A61.2 61.2 0 0 1 196.1 195.8M195.7 196.8L194.1 196.2M193.9 196.8A62.9 62.9 0 0 1 194.4 195.6M193.9 196.8L190.7 195.6M190.5 196.2A66.4 66.4 0 0 1 190.9 195M190.5 196.2L188 195.3M187.8 195.8A69 69 0 0 1 188.2 194.8M187.8 195.8L186.7 195.4M186.5 195.8A70.2 70.2 0 0 1 186.9 194.9M186.5 195.8L185 195.3M184.9 195.7A71.8 71.8 0 0 1 185.2 194.9M184.9 195.7L177.3 193.1M177.2 193.4A79.9 79.9 0 0 1 177.4 192.8M177.2 193.4L148.7 184M177.4 192.8L148.8 183.1M185.2 194.9L163.9 187.5M186.9 194.9L158.9 185M188.2 194.8L154.4 182.5M190.9 195L185.6 193M185.5 193.3A72 72 0 0 1 185.7 192.8M185.5 193.3L170.9 187.8M185.7 192.8L164.7 184.7M194.4 195.6L164.5 183.9M196.1 195.8L162.3 182.2M207.7 192.9A52 52 0 0 1 211.2 187.5M207.7 192.9L201.7 189.5M200.8 191.3A58.9 58.9 0 0 1 202.7 187.9M200.8 191.3L191.2 186.3M189.4 190A69.7 69.7 0 0 1 193.2 182.7M189.4 190L184.1 187.6M183.4 189.1A75.5 75.5 0 0 1 184.8 186M183.4 189.1L181.3 188.2M181 188.8A77.9 77.9 0 0 1 181.5 187.5M181 188.8L176.6 187M176.5 187.3A82.6 82.6 0 0 1 176.8 186.7M176.5 187.3L153 177.7M176.8 186.7L147 174.2M181.5 187.5L179.5 186.7M179.3 187.1A80.1 80.1 0 0 1 179.7 186.3M179.3 187.1L162.1 179.8M179.7 186.3L178.4 185.7M178.3 186A81.5 81.5 0 0 1 178.5 185.4M178.3 186L149.8 173.6M178.5 185.4L159.1 176.8M184.8 186L180.1 183.8M179.7 184.7A80.7 80.7 0 0 1 180.6 182.9M179.7 184.7L176.8 183.4M176.6 183.9A83.9 83.9 0 0 1 177 183M176.6 183.9L155 174.1M177 183L174.7 181.9M174.6 182.2A86.4 86.4 0 0 1 174.8 181.6M174.6 182.2L147.8 169.8M174.8 181.6L148.1 169M180.6 182.9L179.4 182.3M179.1 182.9A82.1 82.1 0 0 1 179.7 181.7M179.1 182.9L162.9 175.1M179.7 181.7L177.9 180.8M177.5 181.5A84 84 0 0 1 178.2 180.1M177.5 181.5L162.1 173.9M178.2 180.1L175.3 178.6M174.9 179.5A87.3 87.3 0 0 1 175.7 177.8M174.9 179.5L154.5 169.2M175.7 177.8L171.4 175.5M170.8 176.6A92.2 92.2 0 0 1 172 174.5M170.8 176.6L159.3 170.7M172 174.5L171.1 174M170.5 175.1A93.2 93.2 0 0 1 171.7 172.9M170.5 175.1L169 174.3M168.7 174.7A95 95 0 0 1 169.2 173.8M168.7 174.7L156.1 168.2M169.2 173.8L168.4 173.4M168.2 173.7A95.9 95.9 0 0 1 168.6 173M168.2 173.7L164.9 171.9M168.6 173L164 170.6M171.7 172.9L171.3 172.7M170.8 173.4A93.7 93.7 0 0 1 171.7 171.9M170.8 173.4L165.5 170.5M171.7 171.9L171.1 171.5M170.7 172.2A94.4 94.4 0 0 1 171.4 170.9M170.7 172.2L169.7 171.6M169.5 171.9A95.6 95.6 0 0 1 169.9 171.3M169.5 171.9L166.2 170M169.9 171.3L164.6 168.3M171.4 170.9L170.6 170.4M170.4 170.7A95.5 95.5 0 0 1 170.7 170.1M170.4 170.7L166 168.2M170.7 170.1L169.4 169.3M193.2 182.7L167 167M202.7 187.9L166.5 165.8M211.2 187.5L206.6 184.2M204.5 187.2A57.7 57.7 0 0 1 208.9 181.3M204.5 187.2L200.3 184.4M199.8 185.2A62.8 62.8 0 0 1 200.8 183.6M199.8 185.2L193.3 181.2M193.1 181.4A70.5 70.5 0 0 1 193.4 180.9M193.1 181.4L167 165.2M193.4 180.9L170.4 166.5M200.8 183.6L194.3 179.2M193.7 180A70.7 70.7 0 0 1 194.8 178.5M193.7 180L187.5 176M187.3 176.4A78.1 78.1 0 0 1 187.7 175.6M187.3 176.4L170.7 165.8M187.7 175.6L184.3 173.4M184.2 173.6A82.2 82.2 0 0 1 184.5 173.1M184.2 173.6L162.1 159.2M184.5 173.1L167.6 161.9M194.8 178.5L191.3 176M190.9 176.7A74.9 74.9 0 0 1 191.7 175.4M190.9 176.7L164.5 158.9M191.7 175.4L189.5 173.9M189.1 174.4A77.6 77.6 0 0 1 189.9 173.3M189.1 174.4L186.6 172.7M186.4 172.9A80.7 80.7 0 0 1 186.8 172.4M186.4 172.9L169.4 161.3M186.8 172.4L169 160.1M189.9 173.3L185.9 170.5M185.7 170.9A82.5 82.5 0 0 1 186.2 170.1M185.7 170.9L173.6 162.4M186.2 170.1L183.8 168.4M183.6 168.7A85.4 85.4 0 0 1 184 168.1M183.6 168.7L164.4 154.9M184 168.1L167.8 156.3M208.9 181.3L206.3 179.1M204.1 181.8A61.1 61.1 0 0 1 208.7 176.5M204.1 181.8L202.4 180.5M202.2 180.8A63.3 63.3 0 0 1 202.6 180.2M202.2 180.8L176.6 161.8M202.6 180.2L197.7 176.5M197.5 176.7A69.5 69.5 0 0 1 197.8 176.3M197.5 176.7L176.2 160.7M197.8 176.3L178.3 161.3M208.7 176.5L207.1 175M203.7 178.8A63.3 63.3 0 0 1 210.8 171.4M203.7 178.8L201.3 176.9M200.6 177.8A66.3 66.3 0 0 1 202 176M200.6 177.8L173.8 156.9M202 176L200.1 174.4M199.3 175.4A68.8 68.8 0 0 1 201 173.4M199.3 175.4L194.9 171.9M194.6 172.3A74.5 74.5 0 0 1 195.2 171.5M194.6 172.3L168.6 151.8M195.2 171.5L191.2 168.2M190.9 168.6A79.7 79.7 0 0 1 191.5 167.8M190.9 168.6L179.7 159.7M191.5 167.8L189.3 166M189 166.4A82.5 82.5 0 0 1 189.6 165.7M189 166.4L179.5 158.6M189.6 165.7L187.4 163.8M187.2 164.1A85.4 85.4 0 0 1 187.6 163.6M187.2 164.1L184.1 161.5M187.6 163.6L183.3 159.9M201 173.4L196.8 169.8M196.4 170.2A74.4 74.4 0 0 1 197.1 169.4M196.4 170.2L179.3 155.6M197.1 169.4L195.5 167.9M195.1 168.3A76.6 76.6 0 0 1 195.8 167.5M195.1 168.3L179.7 155M195.8 167.5L193.4 165.3M193 165.7A79.9 79.9 0 0 1 193.7 164.9M193 165.7L174.9 149.8M193.7 164.9L191.4 162.9M191.1 163.2A83 83 0 0 1 191.8 162.5M191.1 163.2L183.6 156.5M191.8 162.5L188.7 159.7M188.5 160A87.1 87.1 0 0 1 188.9 159.5M188.5 160L176.4 149M188.9 159.5L179.2 150.5M210.8 171.4L210 170.6M207.1 173.4A64.4 64.4 0 0 1 213.2 167.9M207.1 173.4L203.2 169.7M202.3 170.7A69.7 69.7 0 0 1 204.2 168.7M202.3 170.7L200.5 169M200.3 169.2A72.2 72.2 0 0 1 200.7 168.8M200.3 169.2L184.7 154.6M200.7 168.8L183.5 152.5M204.2 168.7L201.3 165.7M200.1 166.8A74 74 0 0 1 202.4 164.6M200.1 166.8L199.3 166M199 166.4A75 75 0 0 1 199.7 165.6M199 166.4L189.4 157.2M199.7 165.6L197 162.9M196.6 163.3A78.9 78.9 0 0 1 197.4 162.6M196.6 163.3L180.3 147.3M197.4 162.6L196.4 161.6M196 161.9A80.3 80.3 0 0 1 196.7 161.2M196 161.9L176.1 142.1M196.7 161.2L195.8 160.3M195.6 160.5A81.6 81.6 0 0 1 196 160.1M195.6 160.5L176.7 141.5M196 160.1L180 143.7M202.4 164.6L200.2 162.2M199.5 162.9A77.2 77.2 0 0 1 200.9 161.6M199.5 162.9L187.1 150M200.9 161.6L197.3 157.7M196.5 158.4A82.5 82.5 0 0 1 198.1 156.9M196.5 158.4L194.3 156M194.1 156.3A85.7 85.7 0 0 1 194.5 155.8M194.1 156.3L184.1 145.7M194.5 155.8L183.9 144.4M198.1 156.9L197.7 156.5M196.8 157.3A83.1 83.1 0 0 1 198.6 155.7M196.8 157.3L190.1 150M198.6 155.7L197.1 153.9M196.2 154.8A85.4 85.4 0 0 1 198.1 153.1M196.2 154.8L195.7 154.3M195.3 154.7A86 86 0 0 1 196.2 154M195.3 154.7L193.3 152.5M196.2 154L194.4 152M194 152.3A88.7 88.7 0 0 1 194.8 151.6M194 152.3L182.7 139.6M194.8 151.6L191.9 148.3M191.7 148.6A93 93 0 0 1 192.2 148.1M191.7 148.6L183.2 138.9M192.2 148.1L181.5 135.7M198.1 153.1L196.3 150.9M195.8 151.3A88.2 88.2 0 0 1 196.8 150.5M195.8 151.3L187 141M196.8 150.5L196.2 149.8M195.8 150.2A89.1 89.1 0 0 1 196.7 149.4M195.8 150.2L193.8 147.8M196.7 149.4L196.4 149M196 149.4A89.6 89.6 0 0 1 196.7 148.7M196 149.4L193.2 146.1M196.7 148.7L196.2 148M195.9 148.2A90.6 90.6 0 0 1 196.4 147.8M195.9 148.2L189.5 140.4M196.4 147.8L191 141M213.2 167.9L190.9 139.7M222.9 178.6A50 50 0 0 1 232.9 172.7M222.9 178.6L217.2 171M216.6 171.5A59.5 59.5 0 0 1 217.8 170.6M216.6 171.5L199.7 149.7M217.8 170.6L213.3 164.5M212.6 165A67 67 0 0 1 214 164M212.6 165L210.8 162.5M210.5 162.8A70.1 70.1 0 0 1 211.1 162.3M210.5 162.8L191.9 138.4M211.1 162.3L208.8 159.2M208.6 159.4A73.9 73.9 0 0 1 209.1 159M208.6 159.4L197.3 144.3M209.1 159L189.1 132M214 164L210.2 158.7M209.7 159A73.6 73.6 0 0 1 210.6 158.3M209.7 159L190.7 132.8M210.6 158.3L207.6 154M207.1 154.3A78.9 78.9 0 0 1 208.1 153.6M207.1 154.3L190.9 131.7M208.1 153.6L206.6 151.5M206.1 151.8A81.5 81.5 0 0 1 207.1 151.1M206.1 151.8L187.3 125.2M207.1 151.1L204.4 147.2M203.8 147.6A86.3 86.3 0 0 1 204.9 146.8M203.8 147.6L195.3 135.2M204.9 146.8L203.9 145.4M203.4 145.8A88 88 0 0 1 204.5 145.1M203.4 145.8L189 124.6M204.5 145.1L203.8 144M203.3 144.4A89.3 89.3 0 0 1 204.3 143.7M203.3 144.4L199.3 138.4M204.3 143.7L203.6 142.6M203.1 142.9A90.6 90.6 0 0 1 204 142.3M203.1 142.9L196.3 132.6M204 142.3L202.7 140.2M202.4 140.4A93.1 93.1 0 0 1 203 140M202.4 140.4L201 138.3M203 140L200.3 135.8M232.9 172.7L228.6 163M226.1 164.2A60.6 60.6 0 0 1 231.2 161.9M226.1 164.2L221.6 155.1M217.5 157.3A70.8 70.8 0 0 1 225.8 153.2M217.5 157.3L216.4 155.4M214.6 156.5A72.9 72.9 0 0 1 218.2 154.4M214.6 156.5L210.2 149.4M209.8 149.6A81.3 81.3 0 0 1 210.6 149.2M209.8 149.6L191.5 120.4M210.6 149.2L210 148.1M209.7 148.3A82.5 82.5 0 0 1 210.3 148M209.7 148.3L191.4 118.6M210.3 148L192.4 118.4M218.2 154.4L215.3 148.9M212.5 150.5A79.1 79.1 0 0 1 218.1 147.5M212.5 150.5L205.5 138.8M218.1 147.5L217.7 146.7M216.4 147.4A80 80 0 0 1 219.1 146.1M216.4 147.4L215.2 145.1M213.6 146A82.5 82.5 0 0 1 216.9 144.3M213.6 146L212 143M211.2 143.5A85.9 85.9 0 0 1 212.7 142.6M211.2 143.5L210.7 142.5M209.9 143A87 87 0 0 1 211.4 142.1M209.9 143L209.4 142.1M208.8 142.4A88 88 0 0 1 210 141.7M208.8 142.4L208.6 142M208.3 142.1A88.5 88.5 0 0 1 208.9 141.8M208.3 142.1L206.3 138.8M208.9 141.8L205.5 135.9M210 141.7L209.8 141.3M209.5 141.5A88.5 88.5 0 0 1 210.1 141.1M209.5 141.5L208.7 140.2M210.1 141.1L209.3 139.8M211.4 142.1L210.5 140.5M212.7 142.6L211.7 140.5M211.4 140.7A88.2 88.2 0 0 1 212 140.4M211.4 140.7L209.6 137.4M212 140.4L202.5 122.4M216.9 144.3L216.7 143.8M216.1 144.1A83 83 0 0 1 217.2 143.6M216.1 144.1L215.3 142.5M214.8 142.7A84.9 84.9 0 0 1 215.8 142.2M214.8 142.7L214.4 141.8M214 142.1A85.8 85.8 0 0 1 214.8 141.6M214 142.1L213.7 141.6M213.4 141.8A86.3 86.3 0 0 1 214 141.5M213.4 141.8L212.7 140.4M214 141.5L210.4 134.2M214.8 141.6L208.9 129.7M215.8 142.2L213.2 136.8M217.2 143.6L215.7 140.4M219.1 146.1L213.4 134M225.8 153.2L224 149M223.3 149.3A75.3 75.3 0 0 1 224.7 148.7M223.3 149.3L222.2 146.6M221.5 146.8A78.3 78.3 0 0 1 222.8 146.3M221.5 146.8L219.3 141.9M218.8 142.1A83.7 83.7 0 0 1 219.8 141.7M218.8 142.1L217.5 139.1M217 139.3A87 87 0 0 1 217.9 138.9M217 139.3L216.3 137.8M216 137.9A88.7 88.7 0 0 1 216.6 137.6M216 137.9L207.6 119.5M216.6 137.6L208.2 118.8M217.9 138.9L211.8 125.1M219.8 141.7L206.2 110.1M222.8 146.3L220.9 141.8M220.6 141.9A83.2 83.2 0 0 1 221.2 141.6M220.6 141.9L213.5 124.9M221.2 141.6L215.7 128.2M224.7 148.7L215.7 126.4M231.2 161.9L229.5 157.4M229.1 157.5A65.5 65.5 0 0 1 229.8 157.3M229.1 157.5L226.4 150.5M226.1 150.6A73.1 73.1 0 0 1 226.6 150.4M226.1 150.6L219.4 133.5M226.6 150.4L217.2 126.1M229.8 157.3L216.9 123.1" stroke="#8b69ca" stroke-width="0.38"/>
<path d="M264.3 205.7L284.1 183.1M283.9 183A47.1 47.1 0 0 1 284.3 183.3M283.9 183L300.5 163.9M300.3 163.7L300.7 164M300.3 163.7L327.4 132.3M300.7 164L334.7 125.1M284.3 183.3L334.5 126.7" stroke="#fe645d" stroke-width="0.46"/>
<path d="M263.3 207.2L292.6 175.2M292.4 175A58.7 58.7 0 0 1 292.7 175.3M292.4 175L314.6 150.6M292.7 175.3L294.2 173.7M294.1 173.6L294.3 173.8M294.1 173.6L312.4 153.6M294.3 173.8L321.8 144.1" stroke="#fd5a64" stroke-width="0.46"/>
<path d="M265.3 205.7L286.5 183.4M286.4 183.3L286.6 183.5M286.4 183.3L304.3 164.4M304.2 164.3L304.4 164.5M304.2 164.3L327.4 139.8M304.4 164.5L325.7 142M286.6 183.5L302 167.4M302 167.3L302.1 167.5M302 167.3L340.4 127.2M302.1 167.5L340 128.1" stroke="#fb5170" stroke-width="0.46"/>
<path d="M268.6 202.9L296.8 174.7M296.5 174.4A61.9 61.9 0 0 1 297.1 175M296.5 174.4L334.8 135.7M297.1 175L335.6 137.1" stroke="#fc8243" stroke-width="0.46"/>
<path d="M268.2 204.2L285.6 187.9M285.4 187.7A44.7 44.7 0 0 1 285.8 188.1M285.4 187.7L326.4 148.8M285.8 188.1L296.8 177.8M296.7 177.7A59.8 59.8 0 0 1 297 178M296.7 177.7L318.5 157.3M297 178L323.7 153.4" stroke="#f59735" stroke-width="0.46"/>
<path d="M267.3 205.8L288.4 187M288.3 186.9A47.4 47.4 0 0 1 288.6 187.2M288.3 186.9L311.2 166.4M311.1 166.2L311.4 166.5M311.1 166.2L339.8 140.4M311.4 166.5L339.1 141.9M288.6 187.2L337.1 144.4" stroke="#fe6d54" stroke-width="0.46"/>
<path d="M265.7 207.8L309.6 170.6M309.3 170.2A74.2 74.2 0 0 1 309.9 170.9M309.3 170.2L310.5 169.2M310.4 169L310.7 169.3M310.4 169L326.4 155.2M310.7 169.3L333.9 149.5M309.9 170.9L310.8 170.1M310.7 170L310.9 170.3M310.7 170L325.2 157.7M310.9 170.3L330.2 154.3" stroke="#f7487e" stroke-width="0.46"/>
<path d="M268 206.6L293.2 186.8M293 186.6A51.2 51.2 0 0 1 293.3 186.9M293 186.6L298.1 182.5M298 182.3A57.7 57.7 0 0 1 298.2 182.7M298 182.3L307 175M306.9 174.9L307.1 175.2M306.9 174.9L329.3 156.8M307.1 175.2L329.1 157.6M298.2 182.7L325.2 161.3M293.3 186.9L321.5 164.9" stroke="#dcb131" stroke-width="0.46"/>
<path d="M267.3 207.6L345.9 147.8" stroke="#fd774b" stroke-width="0.46"/>
<path d="M271.8 205L300.5 184.4M300.3 184.1A58.5 58.5 0 0 1 300.7 184.6M300.3 184.1L375.2 129.7M300.7 184.6L384.6 125M264.1 210L373.8 126.2M300.2 181.5L361.6 133.3" stroke="#f9a1a8" stroke-width="0.46"/>
<path d="M253.6 215.6L255.6 204.7M255.8 213.2L263.1 198.9M254.1 212.6A6 6 0 0 1 255.8 213.2M260 247.7L262.4 257.4M252.8 248.5L252.8 260.5M236.8 243.7L229.2 255.5M260 247.7A30 30 0 0 1 236.8 243.7M208.4 212.4L203.5 211.7M215.3 194L209.4 190.2M230.2 179.7L227.7 175.4M208.4 212.4A45 45 0 0 1 230.2 179.7M244.8 241.1L242.7 246.7M232.2 206.5L214 196M244.8 241.1A24 24 0 0 1 232.2 206.5" stroke="#a88bd8" stroke-width="0.45"/>
<path d="M253 218.5L253.4 158.5M266.2 209.5L286 195.9M267.2 211.1L288.4 199.9M269 218.6L283 218.8M266.2 209.5A16 16 0 0 1 269 218.6M260.5 215.8L268 213M266.7 221.3L282.4 224.5M268.4 224.4L281 229.2M269.9 227.2L279.7 232.3M268.8 233.1L276.5 240.3M266.7 221.3A14 14 0 0 1 266 223.7M271.1 224.4A19 19 0 0 1 269.9 227.2M272.6 227.2A21.5 21.5 0 0 1 268.8 233.1M261.6 221.3L271.1 224.4M265.8 224.2L272.6 227.2M257.6 220.4L266 223.7M260.5 215.8A8 8 0 0 1 260.9 219.9M257.3 216A5 5 0 0 1 257.6 220.4M253 218.5L258 218.1M260.9 209.4A12 12 0 0 1 262.7 211.4M255.2 216.5L261.8 210.3M258 227.2L265 239.3M265 239.3A24 24 0 0 1 244.8 241.1M262.3 222.2A10 10 0 0 1 258 227.2" stroke="#555" stroke-width="0.4"/>
</g>
<g fill="none">
<path d="M253 61.9A156.6 156.6 0 1 1 199.5 71.4" stroke="#f9b5c5" stroke-width="5.1"/>
<path d="M171.9 349.4L169.3 353.8M106.4 265.7L101.6 267.2M99 217.7L93.9 217.6M154.7 99.9L151.5 96M106.9 267.3L102.1 268.9M141.3 112.5L137.6 109M279.6 66.8L280.5 61.8M309.9 361.6L311.8 366.3M155.4 99.4L152.1 95.5M152.7 335.4L149.4 339.3M128.8 127.5L124.7 124.5M349 98.1L352.2 94.1M307 362.7L308.7 367.5M406.1 202.1L411.2 201.6M239.9 371.9L239.5 377M212.8 367.2L211.5 372.1M265.2 65L265.6 59.9M400.8 175.4L405.7 174M406.4 232.1L411.5 232.6M137.6 116.5L133.8 113.1M101.2 244.5L96.2 245.3M378.1 128.7L382.3 125.7M99 215.9L93.9 215.8M366.1 114L369.8 110.5M176.2 352L173.7 356.4M358.3 106.2L361.8 102.4M254.9 64.5L255 59.4M114.8 150.5L110.3 148.2M398.8 169.1L403.7 167.4M400.5 174.3L405.4 172.8M185.3 80.2L183.1 75.6M115.2 149.7L110.7 147.4M405.3 241L410.4 241.8M168.7 89.6L165.9 85.4M244.1 372.2L243.8 377.3M134.3 316.6L130.4 319.9M397.4 165L402.2 163.3M153.7 100.8L150.4 96.9M127.2 307.3L123 310.3M172.6 87.1L170 82.8M125 132.8L120.8 130M403.8 249.5L408.8 250.6M382.4 302L386.7 304.8M381.4 133.5L385.7 130.7M370.3 118.7L374.2 115.4M311.3 76L313.2 71.2M403.3 251.8L408.3 252.9M187.8 358L185.7 362.7M256.4 64.5L256.5 59.4M134.2 316.5L130.3 319.8M392.7 283.4L397.3 285.5M401.5 259.5L406.4 260.8M100.6 196.4L95.5 195.7M296.8 366.1L298.3 371M399.9 264.6L404.8 266.1M296.4 366.2L297.9 371.1M120.2 296.6L115.8 299.1M304.3 73.3L306 68.5M179.4 83.2L176.9 78.8M274.1 66L274.8 60.9M104.3 258.7L99.4 260M105.9 173L101 171.5M269.7 65.4L270.3 60.3M99.1 224.5L94 224.7M379.9 305.8L384.1 308.7M208.8 366L207.3 370.9M261.6 64.7L261.8 59.6M295.4 70.4L296.8 65.5M388.4 145.2L392.9 142.8M163.9 92.9L161 88.7M394.6 158L399.3 156M103 253.4L98 254.6M146 107.7L142.5 104.1M154.4 100.2L151.2 96.3M390.1 288.7L394.6 291M385.5 297L389.9 299.6M257.3 372.4L257.5 377.5M99.9 235.5L94.9 236.1M345.3 95.2L348.3 91.1M104.7 259.9L99.8 261.3M99 215.8L93.9 215.7M110.4 160.3L105.7 158.3M286.5 68.2L287.6 63.2M157.1 98L153.9 94M332.5 86.6L335.1 82.2M391.6 285.7L396.1 288M181.5 354.9L179.1 359.4M138.7 115.3L134.9 111.9M391.9 285.1L396.5 287.3M142.5 111.2L138.8 107.7M238.7 371.8L238.2 376.9M400.8 261.6L405.7 263.1M399.7 265.4L404.5 267M386.9 142.4L391.3 139.9M322.1 80.9L324.4 76.3M372.1 120.9L376.1 117.7M128 308.4L123.8 311.4M197.3 74.9L195.4 70.2M379.1 130.1L383.3 127.2M297 70.9L298.4 66M188.8 78.5L186.7 73.9M249.3 372.5L249.1 377.6M356 333L359.4 336.8M405 193.7L410 192.9M195.5 361.4L193.6 366.1M101.8 189.4L96.8 188.5M318.2 358L320.4 362.6M344.8 342.2L347.8 346.2M303.2 72.9L304.9 68.1M137.4 116.7L133.6 113.3M283 67.4L284 62.4M285.5 369L286.6 374M104.2 178.6L99.3 177.3M360.9 108.6L364.5 105M109.5 274.4L104.7 276.2M160 95.8L156.9 91.7M166.2 345.7L163.3 349.9M99.1 224.2L94 224.4M344.2 94.4L347.3 90.3M335.1 348.8L337.9 353.1M372.4 121.2L376.3 118M105.8 173.1L101 171.6M404.5 246L409.5 246.9M320.3 357L322.5 361.6M199.5 74.1L197.7 69.3M108 166.6L103.2 164.9M180.1 82.8L177.7 78.4M320 357.2L322.2 361.8M290.3 367.9L291.6 372.9M110.2 276.2L105.5 278.1M298.3 365.7L299.8 370.5M405.1 242.6L410.1 243.4M357.4 331.7L360.9 335.4M370.8 119.3L374.7 116M374 313.7L378 316.9M190.2 77.9L188.2 73.2M167.4 90.5L164.6 86.2M168.8 347.4L166 351.7M280.4 370.1L281.3 375.1M392.4 283.9L397.1 286M330.9 85.7L333.5 81.3M406.8 225.6L411.9 225.8M99.4 229.7L94.3 230.1M113.2 153.8L108.6 151.7M382.3 302.1L386.6 304.9M99.2 226L94.1 226.3M100 236.2L95 236.8M125.1 304.3L120.9 307.2M142.7 326L139.1 329.6M102.2 249.9L97.2 251M381.3 303.7L385.5 306.5M120.3 296.7L115.9 299.3M406.3 233.3L411.4 233.8M292.5 367.3L293.8 372.3M100.6 240.8L95.6 241.6M127.1 307.1L122.9 310.1M404.7 245.1L409.7 246M156.9 98.2L153.7 94.2M152.2 335L148.9 338.8M206.9 365.4L205.4 370.3M263.8 64.9L264.2 59.8M237 371.7L236.5 376.7M406.5 205.8L411.6 205.4M138 320.9L134.2 324.3M312.2 360.7L314.1 365.4M100.4 198.1L95.3 197.4M153.8 336.3L150.5 340.2M99 215.5L93.9 215.4M388.6 291.5L393.1 294M156.2 338.3L153 342.2M107.6 269.1L102.7 270.8M102.1 187.7L97.1 186.7M387.6 293.3L392.1 295.7M105.3 174.7L100.5 173.3M114.2 151.7L109.6 149.5M128.4 309L124.3 312M180.2 82.8L177.8 78.3M164.9 92.2L162 88M263.3 372.2L263.6 377.2M253.1 372.5L253.1 377.6M381.5 133.6L385.8 130.8M103.8 180.2L98.9 179M151.2 102.9L147.8 99.1M299.9 365.2L301.5 370M126.8 306.7L122.6 309.7M113.8 284.4L109.2 286.6M109.9 275.5L105.2 277.4M384.3 138L388.6 135.3M99.5 231.2L94.4 231.6M206.8 365.4L205.2 370.3M141.7 325L138.1 328.5M345.5 341.6L348.6 345.7M171.3 349L168.6 353.4M100 236.3L95 236.9M161.4 342.3L158.3 346.4M113.5 283.8L108.9 286M278.4 66.6L279.2 61.6M378.3 129L382.5 126.1M330.1 351.8L332.6 356.2M151.9 334.7L148.6 338.6M401.4 177.4L406.3 176.1M129.7 310.8L125.6 313.8M165.8 345.5L163 349.7M291.1 69.3L292.4 64.3M304.8 363.5L306.5 368.3M403 183.8L408 182.6M301.9 72.5L303.5 67.6M362.8 110.5L366.4 106.9M399.5 265.9L404.4 267.5M388.7 145.7L393.2 143.3M393.5 155.4L398.1 153.3M285.6 68L286.7 63M310.1 361.5L312 366.2M372.1 316.1L376.1 319.3M180.7 354.5L178.3 359M198.7 362.6L196.9 367.4M405.1 194.2L410.1 193.4M130 125.8L125.9 122.7M253.9 64.5L253.9 59.4M356.4 332.7L359.8 336.4M406.5 231.2L411.6 231.7M353.2 335.5L356.5 339.4M350.3 99.2L353.6 95.2M102.7 184.9L97.7 183.8M375.8 311.5L379.8 314.6M285.9 68.1L287 63.1M179.3 353.7L176.9 358.2M335.3 88.4L338.1 84M238.6 371.8L238.1 376.9M392.1 284.6L396.7 286.8M206.7 365.4L205.2 370.2M166.3 91.2L163.4 87M100.6 196.4L95.5 195.7M346.7 340.7L349.8 344.7M99.9 201.5L94.9 200.9M157.4 339.3L154.3 343.3M378.2 308.2L382.3 311.2M368.1 116.2L372 112.8M193.8 360.7L191.9 365.4M221.8 369.3L220.7 374.3M165.5 91.8L162.6 87.6M173.7 86.5L171.1 82.1M183.3 355.8L181 360.4M387.2 294.1L391.6 296.6M124.9 133.1L120.6 130.2M254.1 64.5L254.2 59.4M345.2 95.1L348.2 91.1M220 368.9L218.9 373.9M178 353L175.5 357.5M367.3 115.3L371.1 111.9M166.9 346.2L164.1 350.4M123.8 134.7L119.5 131.9M374.7 312.9L378.7 316M337.4 347.3L340.1 351.6M403.1 183.9L408 182.7M405 243L410.1 243.8M177.3 84.4L174.8 80M372.4 315.7L376.4 318.9M168.4 89.8L165.6 85.5M136.1 118.3L132.2 115" stroke="#f5839f" stroke-width="0.7" stroke-opacity="0.8"/>
<path d="M193.9 360.7L192 365.4M406.9 214.2L412 214M184.1 80.8L181.9 76.2M283.1 369.5L284.1 374.5M349.3 338.7L352.5 342.6M399 267.5L403.8 269.1M186.8 79.4L184.6 74.8M287.1 368.7L288.3 373.6M405.7 238.4L410.8 239M300.2 365.1L301.7 370M355.1 103.2L358.5 99.4M172.9 350L170.2 354.4M328.2 352.9L330.6 357.4M404.8 244.4L409.8 245.3M99.4 230L94.3 230.4M101.9 189L96.8 188M265.3 65L265.7 59.9M250.1 372.5L250 377.6M406.8 226.9L411.9 227.2M149.8 104.2L146.3 100.5M99.4 229.8L94.3 230.2M406 201.3L411.1 200.7M407 221.4L412.1 221.4M375.5 125.2L379.5 122.1M190.6 77.7L188.5 73M404.8 244.5L409.8 245.4M183.8 356.1L181.5 360.6M302.2 364.4L303.8 369.3M155.6 337.8L152.4 341.7M187.2 357.7L185 362.4M105.9 264.2L101.1 265.7M352.5 101L355.8 97.1M102.1 249.2L97.1 250.3M403.5 251.2L408.5 252.3M249.3 372.5L249.2 377.6M393.3 281.9L398 284M404.2 247.8L409.2 248.7M252.6 372.5L252.6 377.6M311 361.2L312.9 365.9M382.5 301.9L386.8 304.6M105.5 262.9L100.6 264.3M198.2 362.4L196.4 367.2M286.3 68.1L287.4 63.2M406.6 207.4L411.7 207.1M318.3 358L320.4 362.6M137.8 116.4L133.9 113M122.1 137.3L117.8 134.6M238.3 371.8L237.8 376.9M266.5 65.1L267 60M99.7 233L94.6 233.5M340.4 345.3L343.2 349.5M211.3 366.8L209.9 371.7M118.6 293.8L114.2 296.3M164.8 344.8L161.9 348.9M295.9 366.4L297.3 371.3M134.9 119.7L130.9 116.4M369.1 319.7L372.9 323.1M365.2 324L368.9 327.5M107.9 166.9L103.1 165.2M394.6 158L399.3 156M404.3 247.4L409.3 248.4M102.4 186.1L97.5 185M312 76.3L314 71.6M103.8 180.5L98.8 179.3M125.1 304.3L120.9 307.2M336.5 347.9L339.3 352.2M405.7 238.3L410.8 239M99.5 230.9L94.4 231.3M134.3 120.4L130.3 117.2M368.5 116.6L372.3 113.3M298.9 365.5L300.4 370.4M235.1 371.5L234.5 376.5M281.8 369.8L282.8 374.8M395.3 277.4L400 279.3M374.8 124.3L378.8 121.1M202.4 364L200.7 368.8M99.8 202.5L94.8 202M314 77.1L316.1 72.4M403.8 187.2L408.8 186.1M100.7 195.5L95.7 194.7M99 220.8L93.9 220.9M143 326.3L139.3 329.8M276.5 66.3L277.3 61.3M112.7 282L108.1 284.1M182.3 81.7L179.9 77.2M198.7 74.4L196.9 69.6M121.9 299.2L117.5 301.9M297.3 71L298.8 66.1M105.1 175.5L100.2 174M401.5 177.6L406.4 176.2M155 337.3L151.8 341.2M161.8 94.4L158.7 90.3M116.8 290.4L112.3 292.7M363.5 111.2L367.1 107.7M404.9 243.9L409.9 244.7M138.6 115.4L134.8 112M372.6 121.5L376.6 118.3M181.7 355L179.3 359.5M350.4 337.8L353.7 341.7M378.9 129.9L383.1 126.9M172.3 349.7L169.6 354M292.6 69.7L293.9 64.8M345.4 95.3L348.5 91.2M372.8 315.3L376.7 318.5M317 78.4L319.1 73.8M304.8 73.5L306.5 68.7M211.7 366.8L210.3 371.8M106.3 265.2L101.4 266.7M117.8 144.8L113.3 142.3M363.3 111L367 107.5M337.4 347.3L340.2 351.6M400.3 263.5L405.2 265M190.2 359.1L188.2 363.8M289.1 368.2L290.3 373.2M152 102.2L148.7 98.4M375.6 311.7L379.6 314.8M303.2 72.9L304.9 68.1M123.8 302.3L119.5 305.1M373.4 122.5L377.4 119.3M165.5 345.2L162.6 349.4M274.5 371L275.2 376M134.1 120.6L130.2 117.4M229.8 370.7L229.1 375.8M173.5 350.4L170.9 354.8M407 217.3L412.1 217.3M232.7 371.2L232.1 376.2M406.7 209L411.8 208.7M104.1 258L99.2 259.3M264.3 372.1L264.7 377.2M363 110.7L366.6 107.1M404.5 191.1L409.6 190.2M377.2 309.5L381.3 312.6M107.9 270L103.1 271.7M387.7 143.9L392.2 141.4M116.4 289.7L111.9 292M148.6 331.7L145.2 335.5M327.8 83.9L330.3 79.4M140.2 323.4L136.5 326.9M332.5 86.6L335.1 82.2M357 105L360.5 101.2M195.5 361.4L193.6 366.1M405.2 194.9L410.2 194.1M117.1 146L112.6 143.6M297.1 366.1L298.6 370.9M397.8 271.1L402.6 272.8M99 216.5L93.9 216.4M280 66.9L280.9 61.9M111.8 280L107.1 282M301.4 72.3L303 67.5M373.3 122.3L377.2 119.1M161.6 94.5L158.6 90.4M132.4 314.3L128.4 317.5M402.4 181L407.3 179.8M351 99.7L354.3 95.8M177.5 84.3L175 79.9M142.1 325.3L138.4 328.8M100.9 194.6L95.8 193.8M366.7 114.6L370.5 111.2M170.5 348.5L167.7 352.8M385.7 296.6L390.1 299.2M404.6 191.7L409.7 190.8M394.4 279.5L399.1 281.5M179.2 353.6L176.7 358.1M388.2 292.2L392.7 294.6M368.9 319.9L372.8 323.2M364.6 112.4L368.3 108.9M102.7 185.1L97.7 184M153.5 336L150.2 339.9M99.3 209.2L94.2 208.9M336 348.2L338.8 352.5M107.8 167.2L103 165.5M263.9 372.1L264.3 377.2M196.6 361.8L194.8 366.6M213.4 367.3L212.1 372.3M106.9 267.1L102 268.7M362.9 326.4L366.5 330M337 89.4L339.8 85.2M283.4 67.5L284.4 62.5M396.7 163L401.4 161.2M289 68.8L290.2 63.8M122.8 136.3L118.5 133.6M296.6 366.2L298.1 371.1M102.1 249.3L97.1 250.3M253.7 64.5L253.7 59.4M306 363.1L307.8 367.9M123 135.9L118.7 133.1M174.6 351.1L172 355.5M339.7 345.8L342.5 350M309.9 361.6L311.8 366.3M339.1 90.8L342 86.6M375.4 125.1L379.5 122M377.8 128.3L381.9 125.3M375.3 312L379.4 315.1M369 319.8L372.8 323.2M118.6 143.3L114.2 140.8M374 123.2L378 120.1M406.7 208.9L411.8 208.6M406.6 230.2L411.6 230.6M379.1 130.1L383.3 127.2M405.6 239L410.7 239.7M404.7 191.8L409.7 190.9M295.7 366.5L297.1 371.4M282.4 67.3L283.4 62.3M142.7 111L139 107.5M378.4 307.9L382.6 310.8M151.6 102.6L148.2 98.8M128.8 309.5L124.6 312.5M136.7 319.4L132.8 322.7M304.7 363.6L306.4 368.4M156.8 98.2L153.6 94.2M352.3 100.8L355.6 96.9M139.9 323L136.1 326.4M405.1 242.6L410.1 243.4M136.3 319L132.4 322.3M110.3 276.4L105.6 278.3M380 131.4L384.2 128.5M396.2 161.8L400.9 160M276 66.2L276.7 61.2M403.9 187.6L408.9 186.5M322.1 80.9L324.4 76.3M359.2 330L362.8 333.7M178.2 83.9L175.7 79.4M380.9 304.3L385.1 307.2M401 261.1L405.9 262.5M307.8 362.4L309.7 367.2M406.1 235.4L411.1 236M109.3 273.8L104.5 275.6M114.5 285.9L109.9 288.1M380.1 131.5L384.3 128.6M405.4 196.6L410.5 195.9M137.6 320.5L133.8 323.9M153.3 101.1L150 97.2M154.9 337.2L151.7 341.1M338.1 346.8L341 351.1M179.6 83.1L177.2 78.6M259 64.6L259.2 59.5M307.6 74.5L309.5 69.8M99.6 232.2L94.5 232.7M353.1 335.6L356.4 339.4M293.8 70L295.2 65.1" stroke="#fde3ea" stroke-width="0.7" stroke-opacity="0.9"/>
<path d="M253 55.3A163.2 163.2 0 1 1 197.2 65.2" stroke="#a4abb1" stroke-width="5.3"/>
<path d="M235 378L234.4 383.2M188.7 71.5L186.5 66.6M263 378.7L263.3 384M393.3 296.4L398 299M338 82.4L340.8 77.9M319 72.2L321.2 67.4M122.3 125.3L118 122.2M289.1 374.9L290.3 380M145.7 99.1L142.2 95.2M303.6 66.2L305.2 61.1M412.2 198.5L417.5 197.8M300.6 65.2L302.2 60.2M366.3 332.2L370 336M309.3 68.2L311.2 63.2M413.3 209.8L418.6 209.5M359.2 338.8L362.7 342.8M408.7 257.5L413.8 258.8M301.4 65.5L303 60.4M288.8 62L290 56.9M173.4 79.1L170.7 74.5M393.5 140.8L398.1 138.3M272.7 377.8L273.4 383M362.8 335.5L366.5 339.4M251.2 379L251.2 384.3M330.2 77.8L332.8 73.2M406.7 264.8L411.8 266.3M349.1 90L352.3 85.7M241.1 378.6L240.7 383.8M135.9 108.7L132.1 105.1M189.3 365.8L187.2 370.7M103.4 160.4L98.5 158.5M406.5 171.5L411.5 169.9M269.8 58.9L270.4 53.6M243.3 378.7L243 384M293.4 373.8L294.7 379M213.4 374L212.1 379.2M379.3 317.5L383.5 320.8M166.7 353.9L163.9 358.3M105.6 282.1L100.8 284.2M130.7 114.6L126.6 111.2M408.3 259L413.4 260.4M326.7 361.1L329.1 365.8M95.4 188.1L90.2 187.1M408.9 180.2L414 179M354.9 94.5L358.3 90.4M407.3 262.8L412.4 264.3M333 79.3L335.6 74.7M93.9 239.3L88.6 240M94.3 194.7L89 193.9M407 263.9L412 265.4M364.9 103.5L368.6 99.7M328.2 76.7L330.7 72.1M412.4 199.8L417.7 199.2M330.2 77.8L332.8 73.1M343.3 351.2L346.3 355.6M208.3 372.7L206.9 377.7M412.5 200.3L417.7 199.7M310.5 68.6L312.4 63.7M116.6 303.2L112.1 306M298.4 64.5L299.9 59.5M401.8 158.4L406.7 156.4M412.2 238.9L417.5 239.5M381 315.3L385.2 318.5M341.8 84.8L344.7 80.4M349.6 346.7L352.8 350.9M406.7 264.8L411.7 266.3M97.4 258L92.3 259.3M227.7 377L226.9 382.2M120.9 127.4L116.5 124.4M144.9 337.1L141.3 341M95.9 251.2L90.7 252.3M210.4 373.2L209 378.4M332.4 358L335 362.6M93.9 197.1L88.7 196.4M143.9 336.2L140.3 340.1M159.9 87.8L156.8 83.5M104.7 280L99.8 282M116.4 302.7L111.8 305.5M413.5 221.5L418.8 221.6M93.4 201.6L88.1 201M375.9 321.8L379.9 325.2M365.2 103.7L368.9 100M314.4 70.2L316.5 65.3M388.6 132.6L393.1 129.8M413.5 216.6L418.8 216.6M130.5 322.2L126.4 325.6M412.3 238.4L417.5 239.1M312.3 69.4L314.3 64.4M95.1 247.4L89.9 248.3M226.7 376.8L225.8 382.1M279.3 60.2L280.2 54.9M300.7 65.3L302.3 60.2M365.1 103.7L368.8 99.9M389.9 302.3L394.4 305M104.5 157.7L99.6 155.7M155.6 90.9L152.4 86.7M177.5 360.1L175 364.8M410.3 186.8L415.5 185.8M343.1 351.3L346.1 355.7M387.2 306.5L391.7 309.4M401.4 279.6L406.3 281.6M265.1 58.5L265.5 53.2M201.6 370.5L199.9 375.6M95.5 187.6L90.3 186.6M105.2 281L100.3 283.1M339.2 83.1L342 78.6M252.2 379L252.1 384.3M389.5 134.1L394 131.3M112.4 295.9L107.8 298.5M329 359.8L331.5 364.5M147.7 97.3L144.3 93.3M92.5 218L87.2 218M356.7 96L360.2 92M405.8 267.7L410.8 269.3M131.9 113.2L127.9 109.7M316.4 366L318.5 370.8M338.9 354.1L341.8 358.5M333 357.6L335.7 362.2M94.5 243.9L89.3 244.7M146.1 98.8L142.6 94.8M250 379L249.9 384.3M171.8 80.1L169.1 75.5M191.3 366.6L189.2 371.5M345.7 87.5L348.8 83.2M93.6 199.5L88.4 198.9M350.4 346.1L353.6 350.3M302.3 65.7L303.9 60.7M178.7 76.2L176.3 71.5M284.4 61.1L285.4 55.9M208.3 372.7L206.9 377.7M297.6 372.7L299 377.8M113.6 138.9L109 136.3M369.3 329.1L373.2 332.7M406.8 172.6L411.9 171M413.1 230.4L418.3 230.8M402.3 159.6L407.2 157.6M221.8 375.9L220.8 381.1M390 302.1L394.5 304.9M97.7 259.2L92.6 260.5M412 196.7L417.3 195.9M392.5 297.9L397.1 300.5M412.7 203L418 202.5M182.5 74.3L180.1 69.6M98.4 175.3L93.3 173.9M101.1 166.6L96.1 164.9M172.4 357.3L169.7 361.9M363.9 334.6L367.5 338.4M373.6 112.6L377.6 109.1M96.4 183.2L91.3 182M290.1 374.7L291.3 379.8M288.9 62.1L290.1 56.9M388.7 132.8L393.2 129.9M341.9 84.9L344.9 80.5M108.8 288.9L104 291.3M123.1 124.2L118.8 121.1M401.6 157.9L406.5 155.9M92.5 215.9L87.2 215.8M403.6 274L408.6 275.8M126.3 317L122.1 320.2M105.7 154.8L100.8 152.7M168.4 354.9L165.6 359.4M92.6 212.7L87.3 212.5M379.5 317.3L383.6 320.6M262.9 58.3L263.2 53M269.8 378.1L270.4 383.4M199.5 369.8L197.8 374.8M395.8 145.3L400.6 142.9M371.7 326.5L375.6 330.1M405.7 267.8L410.8 269.5M278.9 60.1L279.8 54.9M407.2 263.1L412.3 264.6M375.6 322.1L379.7 325.5M302.9 371L304.6 376.1M115.3 300.9L110.7 303.7M365.1 333.4L368.8 337.2M182.4 74.3L180.1 69.6M93.8 198.3L88.5 197.7M137.6 106.9L133.8 103.2M120.7 309.4L116.3 312.4M134.1 326.3L130.1 329.8M246.1 378.9L245.8 384.1M92.6 214.3L87.3 214.2M387 306.8L391.5 309.7M193.4 367.5L191.5 372.5M128.3 319.5L124.2 322.9M259.9 378.9L260.1 384.1M412.4 237.1L417.7 237.7M324.7 74.9L327 70.1M332.7 79.2L335.3 74.6M390.5 301.2L395.1 304M205.2 371.7L203.6 376.8M95.9 251.3L90.7 252.4M110.2 291.7L105.4 294.1M408.5 258.3L413.6 259.6M141.2 103.4L137.5 99.6M413.2 228L418.5 228.4M109.5 290.3L104.7 292.7M319.8 72.5L322 67.7M97.2 257L92.1 258.3M134.2 326.4L130.3 330M161.5 86.6L158.5 82.3M121.4 126.6L117.1 123.5M123.5 313.4L119.3 316.5M97.9 177.1L92.8 175.8M101.2 270.5L96.2 272.3M178.4 360.6L175.9 365.3M404.8 166.3L409.8 164.6M265.1 378.5L265.5 383.8M120.9 127.3L116.5 124.3M411.7 194.3L416.9 193.5M175.9 77.7L173.4 73.1M239.2 378.4L238.7 383.7M368.9 329.5L372.7 333.2M256.1 58L256.2 52.7M371 327.3L374.9 330.9M392.9 139.8L397.5 137.2M145.6 337.7L142 341.7M122.8 124.7L118.5 121.6M128.9 116.7L124.8 113.3M176.2 359.4L173.7 364.1M373.2 324.8L377.2 328.3M349.8 90.5L353 86.3M122.9 312.5L118.6 315.6M230.2 377.4L229.5 382.6M109.8 291L105.1 293.4M380.9 315.5L385.1 318.7M116 134.8L111.5 132.1M406 169.9L411 168.3M408.8 257.2L413.9 258.4M413.5 221.4L418.8 221.5M169.1 355.3L166.3 359.8M121.5 126.5L117.2 123.4M387.6 131.1L392 128.2M160.6 349.8L157.6 354.1M94.7 244.8L89.4 245.7M409 180.9L414.2 179.6M311.6 69.1L313.5 64.1M218.6 375.3L217.4 380.4M96.1 184.5L91 183.4M112.1 141.6L107.5 139M104.7 280L99.8 282M352.4 344.5L355.7 348.7M345.9 349.4L348.9 353.7M253.6 379L253.6 384.3M125.7 120.7L121.5 117.5M409.5 254.1L414.7 255.3M412.8 233.9L418 234.4M183.1 363L180.8 367.8M169.2 81.6L166.5 77.1M396.9 147.4L401.7 145.1M282.1 60.7L283.1 55.5M354.8 94.4L358.2 90.3M221.7 375.9L220.6 381.1M184.8 363.8L182.5 368.6M395.5 144.6L400.2 142.2M398.2 150.1L403 147.8M192.6 367.2L190.6 372.1M150.4 341.9L147 346M122.1 311.4L117.8 314.5M104.4 279.2L99.5 281.2" stroke="#6c747c" stroke-width="0.7" stroke-opacity="0.75"/>
<path d="M310.4 68.6L312.3 63.7M295.1 373.4L296.5 378.5M97.1 180.5L91.9 179.2M161.8 86.5L158.8 82.1M405.4 268.9L410.4 270.6M101.3 166.1L96.3 164.4M151.3 342.6L147.9 346.7M139.5 105L135.8 101.3M410 185L415.1 183.9M118.6 306.2L114.1 309.1M98.5 174.9L93.4 173.4M302.4 371.2L304 376.3M343.6 86L346.6 81.6M399.5 152.9L404.3 150.7M381.7 122.6L386 119.5M337.2 81.9L340 77.3M379 119.1L383.2 115.8M174.4 358.4L171.8 363.1M346.8 88.2L349.9 83.9M96.2 252.7L91 253.8M101.9 272.7L96.9 274.5M93.9 197.5L88.6 196.9M92.8 209.5L87.5 209.2M110.7 292.8L106.1 295.3M137.7 106.8L133.9 103.1M161.5 86.6L158.5 82.3M166.7 353.9L163.9 358.3M168 82.3L165.2 77.8M345.5 87.4L348.6 83M345.2 87.1L348.2 82.8M313.1 69.7L315.1 64.8M404.1 164.2L409 162.4M380.6 315.8L384.8 319.1M318.4 365.1L320.5 369.9M127.7 318.8L123.5 322.1M99.9 266.6L94.8 268.2M329.8 77.5L332.3 72.9M362.2 336.1L365.8 340M239.7 378.4L239.2 383.7M380.2 316.4L384.4 319.6M356.3 95.6L359.7 91.6M190.3 366.3L188.2 371.1M380.6 315.8L384.8 319M125.8 316.4L121.6 319.6M285.1 375.8L286.1 381M166.1 83.6L163.2 79.1M152.5 93.4L149.2 89.2M319.9 72.6L322.1 67.8M95.8 251.1L90.7 252.2M107.3 285.9L102.5 288.1M410.7 248.2L415.9 249.2M355.7 95.2L359.1 91.1M300.3 371.9L301.8 376.9M391.4 299.8L396 302.5M101.6 271.7L96.6 273.5M134 110.8L130.1 107.2M376.1 321.5L380.1 324.9M411.6 243.2L416.8 244M282 376.4L283 381.6M118.6 306.2L114.1 309.1M92.6 223.5L87.3 223.7M209.5 373L208.1 378.1M410.7 248.2L415.9 249.2M398.9 285.3L403.8 287.5M100.6 168.2L95.5 166.6M262.7 378.7L263 384M300.5 65.2L302.1 60.1M349.4 346.8L352.6 351M411.5 193.2L416.7 192.3M136.6 329L132.8 332.7M320.9 73.1L323.2 68.3M413.4 224.7L418.7 224.9M339.8 83.5L342.6 79M301.6 371.5L303.2 376.5M184.4 73.4L182.1 68.6M241.7 378.6L241.3 383.9M373.5 324.6L377.4 328.1M144.5 100.3L140.9 96.4M336.4 81.4L339.1 76.8M390.6 301.1L395.1 303.9M93.3 202.8L88 202.3M258.2 58.1L258.3 52.8M94.8 245.4L89.5 246.3M387.9 305.4L392.4 308.3M268.9 58.8L269.4 53.5M413 205.5L418.3 205M318.8 364.9L320.9 369.7M375.6 322.1L379.7 325.5M265 378.5L265.4 383.8M303 66L304.7 61M407.6 175.3L412.7 173.8M175.6 77.9L173 73.3M332 358.2L334.6 362.8M306.7 369.7L308.5 374.7M331.1 78.3L333.6 73.6M412.9 232.4L418.2 232.8M159.9 87.8L156.8 83.5M123.9 313.8L119.6 317M273.5 377.7L274.2 382.9M302.9 65.9L304.5 60.9M369.3 329.1L373.2 332.7M93.2 233.6L87.9 234.1M338.5 354.3L341.3 358.8M193.4 367.5L191.5 372.5M124.4 122.5L120.1 119.4M151.3 342.7L147.9 346.8M158.3 348.1L155.2 352.4M287.3 61.7L288.5 56.5M275.9 59.6L276.6 54.4M94.2 242L89 242.7M355 342.4L358.4 346.5M110.2 145.2L105.5 142.8M95.3 188.8L90.1 187.8M132.1 112.9L128.1 109.4M378.2 318.9L382.3 322.2M197 68.1L195.1 63.1M96.6 254.4L91.4 255.6M118.6 130.8L114.1 127.9M376.8 116.3L380.9 113M93 231.2L87.7 231.6M348.4 347.6L351.5 351.9M173.8 78.9L171.1 74.3M192.7 69.8L190.7 64.9M407.1 173.5L412.2 172.1M348.9 347.2L352.1 351.4M413.4 224.5L418.7 224.7M308.6 369.1L310.4 374.1M412.1 239.3L417.4 240M136.4 328.8L132.6 332.5M360.4 99.2L364 95.3M388.5 132.5L393 129.7M319.3 364.7L321.5 369.5M321.4 73.3L323.6 68.5M376.6 320.9L380.7 324.2M121.6 126.4L117.2 123.3M115.3 136L110.8 133.3M400.6 155.5L405.5 153.4M270.8 59L271.4 53.7M95.8 186.4L90.6 185.3M164.6 84.6L161.7 80.1M188.7 365.6L186.6 370.4M369.3 107.9L373.1 104.2M411.3 192L416.5 191.1M135.2 109.5L131.3 105.9M147 98L143.5 94M282.7 60.8L283.7 55.6M395.9 145.4L400.6 143M343 351.4L346 355.8M413.5 220.5L418.8 220.6M97.1 256.6L91.9 257.9M381.5 314.7L385.7 317.9M93.5 236.6L88.3 237.2M379 119.1L383.2 115.8M263.6 378.7L263.9 383.9M176.2 77.6L173.6 72.9M115.9 302L111.4 304.8M334.9 80.5L337.7 75.9M351.4 91.7L354.6 87.5M152.5 343.6L149.2 347.8M380.3 316.3L384.5 319.5M383.9 311.4L388.2 314.5M301.5 371.5L303.1 376.6M204 371.3L202.4 376.4M168.7 81.9L165.9 77.4M411.9 196.1L417.2 195.3M216 374.7L214.8 379.8M413.5 217.1L418.8 217M237.9 378.3L237.4 383.6M103.5 276.9L98.6 278.9M367.5 106L371.3 102.3M298.3 372.5L299.8 377.6M114.1 299L109.5 301.6M261 58.2L261.3 52.9M94 240.5L88.8 241.2M350.9 345.7L354.1 349.9M277 377.2L277.8 382.4M178.8 360.8L176.3 365.5M92.5 219.8L87.2 219.9M305.6 66.9L307.4 61.9M280.4 376.7L281.3 381.9M289.4 62.2L290.6 57M374 324L378 327.5M395.3 292.8L399.9 295.3M273.6 59.3L274.3 54.1M410.4 249.9L415.6 250.9M325.8 361.5L328.2 366.3M144.3 336.6L140.7 340.5M138.2 106.3L134.4 102.6M382.9 312.8L387.2 315.9M252.4 379L252.4 384.3M110.7 292.8L106 295.2M146.8 98.1L143.3 94.1M155.9 90.7L152.7 86.4M187.3 72.1L185.1 67.2M409.6 253.6L414.8 254.8M387.2 130.4L391.6 127.5M143 101.6L139.4 97.7M324.3 74.7L326.7 70M326.9 361L329.4 365.7M101.9 272.7L96.9 274.5M253.7 379L253.7 384.3M371.9 326.3L375.8 329.9M138 106.5L134.2 102.8M410.1 251.2L415.3 252.3M231.8 377.6L231.1 382.9M96 185.1L90.8 184M370.4 109L374.2 105.4M392.9 297.2L397.5 299.8M286.2 375.5L287.3 380.7M218.5 375.3L217.4 380.4M404.4 165.1L409.3 163.3M322.5 363.2L324.8 368M309 68.1L310.9 63.1M333.2 79.5L335.8 74.9M396.8 289.7L401.6 292.1M374.1 113.1L378.1 109.6M170 81.1L167.3 76.6M413.5 217.3L418.8 217.3M413.1 229.1L418.4 229.5M92.8 228.6L87.5 228.9" stroke="#d3d7db" stroke-width="0.7" stroke-opacity="0.85"/>
<path d="M253 49.2A169.3 169.3 0 1 1 195.1 59.4" stroke="#9dd5d8" stroke-width="4.7"/>
<path d="M278.8 51.1A169.3 169.3 0 0 1 280.2 51.4M283 51.8A169.3 169.3 0 0 1 283.9 52M297.2 55A169.3 169.3 0 0 1 299.2 55.6M299.8 55.7A169.3 169.3 0 0 1 300.9 56.1M316.7 61.6A169.3 169.3 0 0 1 319.1 62.6M344.1 75.7A169.3 169.3 0 0 1 345.8 76.9M372.5 98.5A169.3 169.3 0 0 1 373.3 99.3M381.5 108.2A169.3 169.3 0 0 1 383.3 110.3M382.1 108.8A169.3 169.3 0 0 1 384.1 111.3M386.2 113.9A169.3 169.3 0 0 1 386.7 114.6M386.2 114A169.3 169.3 0 0 1 386.8 114.7M396.3 128.3A169.3 169.3 0 0 1 397.7 130.5M401.4 137A169.3 169.3 0 0 1 403 139.8M401.7 137.5A169.3 169.3 0 0 1 403 139.8M405.3 144.4A169.3 169.3 0 0 1 406.2 146.3M412.6 161.8A169.3 169.3 0 0 1 413.5 164.4M415.3 170.1A169.3 169.3 0 0 1 416 172.6M416.3 173.6A169.3 169.3 0 0 1 417.1 176.8M416.7 175.3A169.3 169.3 0 0 1 417 176.1M420.5 193.7A169.3 169.3 0 0 1 420.9 196.3M420.7 195.1A169.3 169.3 0 0 1 420.8 196M422.3 213.6A169.3 169.3 0 0 1 422.3 215.1M422 229.1A169.3 169.3 0 0 1 421.8 231.7M419.8 247.8A169.3 169.3 0 0 1 419.6 248.7M405.7 291.7A169.3 169.3 0 0 1 404.3 294.7M391.9 315.4A169.3 169.3 0 0 1 391.4 316.1M387.4 321.6A169.3 169.3 0 0 1 386.4 322.8M384.6 325.1A169.3 169.3 0 0 1 383.7 326.2M381.2 329.1A169.3 169.3 0 0 1 380.3 330.2M374 337A169.3 169.3 0 0 1 372.5 338.5M367.3 343.4A169.3 169.3 0 0 1 366.5 344.2M355.2 353.5A169.3 169.3 0 0 1 354.1 354.4M350.7 356.8A169.3 169.3 0 0 1 348.5 358.3M347.9 358.7A169.3 169.3 0 0 1 347.2 359.2M345.9 360.1A169.3 169.3 0 0 1 345.2 360.6M333 367.8A169.3 169.3 0 0 1 331.1 368.7M320 374A169.3 169.3 0 0 1 317 375.3M313.2 376.8A169.3 169.3 0 0 1 312 377.2M311.1 377.6A169.3 169.3 0 0 1 309.1 378.3M308.5 378.5A169.3 169.3 0 0 1 306 379.4M300.1 381.2A169.3 169.3 0 0 1 297.6 381.9M294.1 382.8A169.3 169.3 0 0 1 293.3 383M291.9 383.3A169.3 169.3 0 0 1 290.4 383.7M279.9 385.7A169.3 169.3 0 0 1 277.2 386.1M268.6 387.1A169.3 169.3 0 0 1 267.4 387.2M256.7 387.8A169.3 169.3 0 0 1 253.4 387.8M253.9 387.8A169.3 169.3 0 0 1 251.3 387.8M231.3 386.5A169.3 169.3 0 0 1 229.9 386.3M226.3 385.7A169.3 169.3 0 0 1 225.4 385.6M223.1 385.2A169.3 169.3 0 0 1 221 384.8M216.7 383.9A169.3 169.3 0 0 1 214.1 383.3M212.2 382.9A169.3 169.3 0 0 1 209.1 382.1M194.8 377.5A169.3 169.3 0 0 1 194 377.2M154.1 355.9A169.3 169.3 0 0 1 153.3 355.4M140.6 345.1A169.3 169.3 0 0 1 139.9 344.6M136.1 341A169.3 169.3 0 0 1 135.5 340.4M116.2 318.3A169.3 169.3 0 0 1 115.3 317.1M101.9 294.9A169.3 169.3 0 0 1 100.7 292.5M100.6 292.3A169.3 169.3 0 0 1 99.4 289.9M97.6 285.8A169.3 169.3 0 0 1 96.3 282.8M95.3 280.2A169.3 169.3 0 0 1 94.8 278.8M94.7 278.8A169.3 169.3 0 0 1 94.2 277.4M86.3 248.3A169.3 169.3 0 0 1 86 246.9M86.1 247.4A169.3 169.3 0 0 1 85.6 244.1M85.2 241.4A169.3 169.3 0 0 1 84.9 239.3M85.1 240.4A169.3 169.3 0 0 1 84.9 238.9M84.9 239.4A169.3 169.3 0 0 1 84.8 238.5M85 197A169.3 169.3 0 0 1 85.5 193.8M92.5 164.4A169.3 169.3 0 0 1 93.4 161.9M95.1 157.2A169.3 169.3 0 0 1 95.9 155.3M98.2 149.8A169.3 169.3 0 0 1 98.7 148.8M101.7 142.5A169.3 169.3 0 0 1 102.9 140.2M107.2 132.4A169.3 169.3 0 0 1 108.8 129.6M108 131A169.3 169.3 0 0 1 109.4 128.7M111.1 126.1A169.3 169.3 0 0 1 111.9 124.8M139 93.3A169.3 169.3 0 0 1 140.5 91.9M144.3 88.7A169.3 169.3 0 0 1 145.2 87.9M161.7 75.9A169.3 169.3 0 0 1 162.5 75.4M173.9 68.8A169.3 169.3 0 0 1 174.7 68.3M175 68.2A169.3 169.3 0 0 1 177.9 66.7M185.5 63.2A169.3 169.3 0 0 1 187.4 62.4M187.1 62.5A169.3 169.3 0 0 1 188.5 61.9M268.9 49.9A169.3 169.3 0 0 1 273.6 50.4" stroke="#e6e6e1" stroke-width="4.7"/>
<path d="M253 39.4A179.1 179.1 0 1 1 191.7 50.2" stroke="#7a40b5" stroke-width="11.2"/>
<path d="M293.2 49.7L295.8 38.8M102.4 132.3L92.7 126.8M175.8 63.1L170.8 53.1M376.8 96.9L384.8 89.1M134.5 345.2L126.8 353.4M405.6 135.9L415.4 130.5M410.6 146L420.8 141.4M102.2 132.7L92.5 127.2M100 300.3L90.1 305.6M324.4 60.4L329 50.1M421.3 260.9L432.1 263.6M91 156.4L80.5 152.4M146.2 355.2L139.3 364.1M421.2 261.1L432 263.9M228.9 390.3L227.4 401.4M79.5 214.8L68.3 214.5M150.9 358.8L144.3 367.8M426.3 209.5L437.5 208.9M397.7 122.8L407 116.6M156.8 362.9L150.6 372.2M325.5 376.1L330.2 386.3M370.5 346.1L378.1 354.4M100.7 301.7L90.9 307M348.8 73.8L355 64.5M186.3 378.7L182 389M325.1 376.3L329.8 386.5M148.5 80L141.7 71.1M81.4 244.4L70.4 246.1M336.1 370.8L341.5 380.6M423.7 187.2L434.7 185.2M425.8 203.3L437 202.3M145.1 354.4L138.2 363.2M96.4 293.1L86.2 297.9M426.3 210.7L437.5 210.2M318.7 379.1L322.9 389.5M119.9 329.8L111.3 337M79.7 210.7L68.5 210.2M301.3 385.1L304.5 395.9M423.1 252.6L434.1 254.8M104 129.6L94.4 123.8M157.5 363.3L151.3 372.7M107.2 312.5L97.8 318.6M239.5 391.5L238.7 402.6M226.3 389.9L224.6 401M416.4 160.1L426.9 156.3M277.6 46.8L279.2 35.7M204.1 385L200.9 395.7M301.9 385L305 395.7M86.5 169.7L75.8 166.5M99 138.7L89 133.5M261.3 391.8L261.9 403M178.9 375.4L174.1 385.5M177.5 374.7L172.6 384.8M311.7 55.2L315.5 44.7M424.7 243.2L435.8 244.8M258.7 391.9L259 403.1M423.8 248.9L434.9 250.8M393.4 320.4L402.5 327M80.9 240.2L69.8 241.7M424.6 244.4L435.6 246.1M411.8 148.6L422.1 144.1M149.6 79.2L143 70.2M286.9 48.3L289 37.4M295.7 386.7L298.5 397.5M394 117.3L403.1 110.8M159.8 72.1L153.8 62.7M359.9 355.1L366.8 364M425.6 236.5L436.7 237.7M81.8 190.4L70.7 188.6M190.6 380.4L186.6 390.8M321.5 377.9L326 388.2M121.8 105L113.3 97.6M258.4 391.9L258.7 403.1M414.4 282.1L424.8 286.2M112.1 319.8L103 326.3M79.6 223.9L68.4 224.2M267.9 45.6L268.9 34.5M204.8 385.2L201.7 395.9M137.7 348.2L130.3 356.5M243.1 391.7L242.5 402.9M300.4 385.4L303.5 396.2M317 379.8L321.2 390.2M391.7 322.7L400.7 329.4M422.3 180.5L433.2 178.1M255.4 45L255.6 33.8M166.6 68L161 58.3M89.5 276.4L78.9 280.2M399.4 125.3L408.8 119.3M400.4 127L409.9 121.1M275.7 390.5L277.2 401.6M127.4 338.2L119.3 345.9M373.9 342.9L381.7 351M352.1 76.1L358.5 66.9M359.8 355.2L366.7 364.1M93.9 149.3L83.6 144.9M142.7 352.4L135.6 361.1M125.6 100.7L117.4 93.1M415.8 158.5L426.3 154.6M424 189.1L435 187.2M320.4 58.6L324.7 48.3M133.5 92.7L125.8 84.6M391.7 322.7L400.7 329.4M199.6 383.6L196.1 394.2M421.3 176.2L432.1 173.4M344.9 71.3L350.8 61.8M224.2 389.6L222.3 400.6M230.9 390.6L229.4 401.7M79.8 207.6L68.7 206.9M79.8 228.5L68.6 229.1M93.3 286.3L83 290.7M107.7 123.7L98.3 117.5M251.8 392L251.7 403.2M256 45L256.2 33.8M353.1 360.2L359.6 369.4M319.1 378.9L323.4 389.3M409.6 143.8L419.7 139M409.7 144.1L419.9 139.3M401.1 128.1L410.7 122.3M106.2 126L96.8 120M111.8 117.7L102.7 111.2M313.5 381.1L317.4 391.6M424.7 243.6L435.7 245.3M327.5 61.8L332.3 51.7M81.4 244.2L70.3 245.8M106.4 311.3L97 317.3M170.9 371.3L165.6 381.2M317.4 379.6L321.6 390M165.6 368.4L159.9 378M178.5 375.2L173.7 385.3M117.7 109.9L109 102.9M89.4 160.7L78.8 157M415.6 157.9L426.1 154M138.1 348.5L130.7 356.9M337.2 370.2L342.7 380M280.7 389.8L282.5 400.8M164 69.6L158.3 60M107.9 313.6L98.5 319.8M414.3 154.6L424.7 150.5M248.2 391.9L247.9 403.1M105.4 127.3L95.9 121.4M401.1 128.1L410.7 122.3M376.7 340.2L384.7 348M287.6 48.5L289.8 37.5M311.8 55.3L315.6 44.7M408.7 141.9L418.7 137M97.4 141.8L87.3 136.8M379.7 337.1L387.8 344.7M81 241.5L69.9 243M362.2 83.6L369.2 74.9M384.9 331.3L393.4 338.5M408.9 142.3L418.9 137.4M375.5 95.7L383.4 87.7M112.6 116.6L103.5 110.1M386.2 107.3L394.8 100.2M157.6 73.6L151.4 64.3M426.2 228.1L437.4 228.7M257.7 391.9L258 403.1M414.4 154.9L424.9 150.8M113.1 321.1L104.1 327.8M85.4 173.5L74.6 170.6M426.5 220.7L437.7 220.8M343.4 70.4L349.2 60.8M423.4 185.9L434.4 183.8M355.8 358.3L362.4 367.3M80.5 199.8L69.4 198.6M82.2 188.1L71.2 186.2M112.3 116.9L103.3 110.4M221 389L218.9 400M82.5 186.4L71.5 184.4M90.1 278.2L79.6 282M91 280.5L80.5 284.5M414.9 156.2L425.4 152.2M199.7 383.6L196.3 394.3M97.8 296.1L87.8 301.2M95.4 146L85.2 141.4M300.2 51.5L303.3 40.8M81.7 191L70.6 189.2M165.4 68.7L159.7 59.1M394.9 118.6L404 112.2M152.8 360.1L146.3 369.3M101.4 303L91.7 308.4M346.9 364.4L353 373.8M80.9 196.8L69.7 195.4M157.9 363.6L151.7 373M406.2 137L416.1 131.7M237.8 391.3L236.9 402.5M103 305.8L93.4 311.4M146.8 81.3L140 72.4M87.5 270.6L76.8 274M105.4 309.7L95.9 315.6M316.2 380.1L320.2 390.5M83.1 183.4L72.1 181.1M111.5 118.1L102.4 111.6M93.4 286.5L83.1 290.9M104.3 129.2L94.7 123.4M295.4 386.7L298.2 397.6M395.1 318L404.3 324.5M182.1 60.1L177.6 49.9M94.8 289.8L84.6 294.4M393.9 319.8L403 326.3M104.3 129.1L94.7 123.4M426.5 218.6L437.7 218.6M210.1 386.6L207.4 397.5M104.6 128.6L95 122.8M413.9 283.4L424.3 287.6M164.8 69.1L159.1 59.4M364 351.9L371.1 360.5M378.4 338.4L386.5 346.1M223 389.4L221 400.4M172.8 64.7L167.6 54.7M270.3 45.9L271.4 34.7M302.8 384.7L306 395.4M357.9 80.3L364.7 71.4M268.8 391.3L269.8 402.4M80.5 236.8L69.3 238M299.1 385.8L302.1 396.6M335.5 65.9L340.8 56M135.4 346.1L127.9 354.3M419.1 268.5L429.9 271.7M333.5 64.8L338.7 54.9M415.4 279.6L425.9 283.6M402.1 129.8L411.7 124.1M404.5 303.1L414.3 308.5M81.4 244L70.3 245.6M295.8 50.4L298.5 39.5M156 362.3L149.7 371.6M80.2 233.9L69 234.9M130.5 95.7L122.6 87.7M106.9 124.9L97.5 118.9M82.2 248.9L71.2 250.9M97.1 142.3L87.1 137.4M116.9 326.1L108.1 333M337.1 66.8L342.6 57M296.1 386.6L298.9 397.4M101.2 134.4L91.4 129M419.5 169.7L430.2 166.5M421.8 258.5L432.7 261.1M354.4 359.3L360.9 368.4M167.7 369.6L162.2 379.4M209.3 386.4L206.4 397.2M165.4 68.7L159.8 59M266.1 391.5L267 402.7M101.9 133.2L92.2 127.6M83.7 180.6L72.8 178.1M192 380.9L188.1 391.4M325.9 61.1L330.6 50.9M389.6 325.4L398.5 332.3M363 352.7L370.1 361.4M394 117.4L403.1 110.9M159.1 364.4L153 373.8M354.6 359.1L361.2 368.2M182.2 60.1L177.7 49.9M97.1 142.4L87 137.5M401.5 308.2L411.1 314M353.5 77.1L360 68M415.5 279.4L426 283.3M83.4 181.8L72.5 179.5M286.6 388.7L288.8 399.7M289.5 48.9L291.8 37.9M161.7 71L155.8 61.5M105.7 310.2L96.2 316.1M133.3 92.9L125.5 84.8M187.3 379.1L183 389.4M106.4 125.7L96.9 119.7M420.4 264.2L431.2 267.1M322.5 377.5L327 387.7M106.4 125.6L97 119.6M256.5 392L256.8 403.2M269.5 391.2L270.6 402.4M344.6 71.2L350.5 61.7M272.5 390.9L273.8 402M102.8 131.6L93.1 126M363.5 352.2L370.7 360.9M412.5 150.2L422.8 145.8M92.5 284.4L82.1 288.7M135.8 90.6L128.2 82.3M369.6 90L377.2 81.8M316.9 57.2L321 46.8M416.3 277.2L426.8 281M292 49.4L294.5 38.5M79.7 226.8L68.5 227.3M357 357.4L363.7 366.3M140.1 86.7L132.8 78.2M357.1 79.7L363.8 70.7M262.9 45.3L263.5 34.1M383.4 104.1L391.8 96.7M421.5 260L432.3 262.7M213.9 387.5L211.4 398.4M192.3 381L188.3 391.5M106 310.7L96.5 316.7M301.8 52L304.9 41.3M127.1 99.1L119 91.4M423.7 249.6L434.7 251.6M424.2 246.8L435.2 248.6M347.8 363.8L353.9 373.2M423.3 185.1L434.3 183M346.5 364.7L352.5 374.1M423.4 251.2L434.4 253.3M108.9 315.1L99.6 321.4M254.5 392L254.5 403.2M190.3 56.7L186.3 46.3M217.7 388.4L215.4 399.3M376.9 340L384.9 347.8M316.5 380L320.6 390.4M319.9 378.6L324.3 388.9M292.7 49.6L295.3 38.7M396.3 316.3L405.6 322.6M190.2 56.8L186.2 46.3M88.7 162.7L78.1 159.1M340.2 68.5L345.8 58.8M342.8 366.9L348.6 376.5M426.3 227.6L437.4 228.1M125.8 100.5L117.6 92.8M409.4 293.6L419.5 298.4M157.6 363.4L151.4 372.8M362.9 84.2L369.9 75.5M372 344.7L379.7 352.9M332.3 372.8L337.4 382.8M426.5 218.6L437.7 218.6M384.4 105.2L392.9 97.9M79.6 212.3L68.4 211.9M239.8 391.5L238.9 402.7M400.9 309.2L410.5 315M405.7 136.1L415.5 130.8M178.1 62L173.2 51.9M263.1 45.3L263.7 34.1M115.6 324.5L106.8 331.3M418.7 270.1L429.4 273.4M411.9 148.8L422.1 144.3M391.5 114L400.4 107.3" stroke="#9467c6" stroke-width="0.35" stroke-opacity="0.55"/>
</g>
<path d="M253 33.7A184.8 184.8 0 1 1 189.8 44.8L190.2 46.1L189.7 47.8L188.3 47.1L186.9 46.8L186.2 47.9L185 47.9L184.2 48.9L182.9 48.8L181.9 49.1L181.1 50L180 50.3L178.9 50.6L177.8 50.9L176.7 51.1L176 52.3L174.9 52.6L174.7 54.7L173.1 54L172 54.2L170.7 54.1L170.2 55.5L170 57.5L167.8 55.7L167.2 57.1L165.8 56.7L165.1 57.8L164.7 59.4L164.6 61.3L162.9 60.6L161.5 60.4L160.9 61.5L159.3 61L160.1 64.5L159.2 65.1L157.2 63.9L155.3 63L154.6 63.9L155 66.6L152.4 64.6L151.6 65.5L151 66.6L149.5 66.4L148.9 67.4L148.7 69.1L148.5 70.7L146 69.1L146.3 71.5L145.2 71.8L145.2 73.7L143.9 73.7L141.8 72.8L141.3 73.9L141.9 76.6L139 74.6L138.5 75.8L138.8 77.9L137.4 77.9L135.4 77.2L135 78.5L134.2 79.3L133.1 79.6L132 80.1L132.8 82.6L130.2 81.5L130.9 83.8L129.7 84.2L128.4 84.4L129 86.6L127.6 86.7L125.5 86.2L124.8 87.1L124.1 87.9L123 88.5L122.9 89.9L122 90.6L123.5 93.5L121.9 93.5L121.4 94.5L120.1 94.9L117.5 94L118.3 96.1L116.7 96.2L115.5 96.6L116.4 98.9L115.3 99.4L114.4 100.1L112.4 99.9L112.3 101.2L111.4 101.9L112.4 104.1L112.4 105.5L109 104.2L110.3 106.7L109.3 107.3L106.8 106.8L107.1 108.4L105.7 108.8L106.1 110.4L105.5 111.3L105.9 113L106.2 114.5L103 113.6L101.8 114.1L101 114.9L103.2 117.8L103.5 119.3L101.9 119.5L99.8 119.5L98.9 120.2L101 122.8L97.1 121.7L96.2 122.5L95.6 123.4L95.1 124.4L94.7 125.4L94.8 126.8L95.3 128.3L95.8 129.9L93.8 130L92.9 130.8L92.3 131.7L90.8 132.2L90.2 133.1L93.8 136.2L89.7 135.4L90.5 137L88.4 137.2L88.3 138.4L88.6 139.8L86.6 140L90.2 143L87 142.7L88.9 144.7L84.9 144.1L85.7 145.7L85.7 146.9L85.4 148L84.4 148.8L84.6 150L83.4 150.7L83.6 152L83.2 153L83 154.2L81.5 154.8L83 156.5L81.1 157L79.7 157.6L80.5 159.1L81 160.5L79.4 161.1L78.8 162L80.1 163.6L77.5 163.9L80.6 166.1L77.7 166.3L76.6 167.2L77.6 168.6L76.6 169.5L77.4 170.8L76.9 171.9L77.2 173.1L76.1 173.9L74.6 174.7L76.2 176.2L75.3 177.1L74 178L75 179.3L75.1 180.5L72.9 181.2L72.9 182.3L72.6 183.4L73.8 184.7L73.8 185.9L73.8 187L72 187.8L73 189.1L74.1 190.4L72.2 191.2L71.4 192.2L72.8 193.5L70.6 194.3L72.9 195.7L71.1 196.6L74.5 198.1L73.7 199.1L71.3 200L71.4 201.1L71.6 202.2L70.7 203.3L70 204.3L69.5 205.4L72.1 206.7L69.8 207.7L72.4 208.9L70.9 209.9L69.5 211L72 212.2L69.5 213.2L69.9 214.3L72.4 215.5L71 216.6L70 217.7L69.4 218.8L70.1 219.9L69.6 221L69.5 222.1L69.6 223.2L69.9 224.3L70 225.4L70.8 226.5L70.2 227.6L70.4 228.7L72.9 229.7L72.3 230.8L70.2 232.1L70.7 233.1L70.6 234.3L70.6 235.4L70.4 236.5L72 237.5L70.3 238.8L72.9 239.6L71.6 240.8L70.7 242.1L71.9 243L72.5 244.1L73.7 245L74.5 246L71.8 247.5L71.7 248.7L73 249.6L72 250.9L74.2 251.6L73.8 252.8L73.3 254L72.9 255.2L75 255.9L73.8 257.3L76 258L75.7 259.2L74.9 260.5L74.4 261.8L74.6 262.8L78 263.1L75.4 264.9L75.6 266L76 267.1L75.9 268.3L77.9 268.9L76.8 270.3L78.6 270.9L77.5 272.4L79 273.1L78.3 274.5L78.6 275.6L80.9 276L82.9 276.5L80.8 278.4L81.2 279.4L80 281L80.5 282L80.8 283.1L82 283.8L82.5 284.8L83.2 285.7L84 286.6L84.4 287.6L87.8 287.4L85.5 289.5L84.9 291L85.5 291.9L86.4 292.7L89.4 292.6L86.9 295L87.4 295.9L88.7 296.5L88.9 297.7L88.1 299.3L90.5 299.4L89.4 301.1L90 302.1L90.3 303.2L91.5 303.8L91.7 304.9L93.6 305.1L92 307.3L94.8 307L95 308.2L93.8 310.1L94.8 310.8L97.4 310.6L95.9 312.7L96.8 313.5L97.3 314.5L97.1 315.9L99.1 316L100.2 316.6L99.1 318.6L99.4 319.7L101.8 319.4L103.2 319.8L103.8 320.8L102.4 323.1L103 324L105.1 323.9L103.8 326.2L104.7 326.9L105.4 327.8L106.7 328.2L107.7 328.8L107.3 330.5L109.4 330.3L108.9 332L109.9 332.7L111.6 332.8L111.3 334.4L112.6 334.8L113.7 335.3L114.5 336L114.3 337.7L114.9 338.7L119.1 336.4L116 340.7L117.3 340.9L118.2 341.6L118.5 342.9L118.9 344L119.6 344.9L120.3 345.7L121.3 346.3L124.8 344.4L124.6 346.2L123.4 348.9L125.1 348.8L125.7 349.7L127 350L128.6 349.9L127.8 352.4L128.6 353.1L129.8 353.4L129.8 355.1L132.1 354.2L132.1 355.9L133.2 356.3L133.5 357.7L136.2 356.2L135.8 358.4L136 359.8L137.2 360.1L137.7 361.3L139.8 360.4L139.2 363L141.1 362.3L141.5 363.6L142 364.8L142.7 365.7L145.1 364.4L147.1 363.4L146.3 366.5L146.4 368.2L147.6 368.5L148.4 369.3L149.3 369.9L152.2 367.6L152.4 369.3L152.1 371.7L154.5 370L154.2 372.6L156.4 371.2L156.2 373.6L157.2 374L159.4 372.6L159.3 374.9L161 374.1L160.4 377.4L162.2 376.5L163 377.3L164.3 377.1L166.4 375.6L166 378.7L167.1 379L167.4 380.8L168.2 381.6L170.1 380.4L170.9 381.1L171.2 383L172.2 383.5L175 380.3L174.6 383.6L175.4 384.5L176.2 385.6L177.9 384.4L178.9 384.8L179.5 386.3L181.5 384.6L181.4 387.5L182.5 387.9L184.9 384.9L185.2 387.1L186.1 387.8L186.4 389.9L187.8 389.3L188.7 390.3L189.6 391.1L190.9 390.8L192.5 389.4L192.9 391.8L194.3 391L194.9 392.7L196.7 390.7L197.7 391.3L198.2 393.4L199 394.3L200.5 393.4L201.8 392.7L202.6 394L203.7 394.1L204.4 395.7L205.6 395.6L207 394.7L207.8 395.9L208.9 396.3L210.2 395.6L211 397L212.8 394.2L213.2 397.1L214.6 396.2L215.4 397.5L216.3 398.8L217.6 398L219.2 395.6L219.7 398.5L220.7 399.6L222 398.4L223.1 398.5L224.1 399.3L225.1 400L226.2 400.5L227.5 399.2L228.5 399.7L229.9 397.4L230.7 400.2L231.9 399.6L232.8 400.9L233.9 401L235.2 399.7L236.3 399.9L237.2 401.6L238.4 401.3L239.6 400.3L240.6 400.9L241.8 399.8L242.8 401.5L243.9 402.2L245 402L246.2 401L247.3 401.8L248.4 400.1L249.5 401.3L250.6 400.7L251.7 400.4L252.8 402.1L253.9 401.9L255 402.1L256.1 401.2L257.2 400.5L258.3 400.9L259.5 402.3L260.5 400.3L261.7 401.9L262.7 399.4L263.9 401.8L264.9 399.9L266.1 401L267.2 401.1L268.1 398.2L269.4 400.7L270.5 400.3L271.7 401.3L272.7 400.3L273.8 400.1L274.9 399.7L276 399.8L277.2 400.2L278.3 400.1L279.3 399.6L280.4 399.3L281.3 398L282.6 398.9L283.2 396.2L284.7 398.5L285.4 396L287 398.5L287.9 397.4L288.7 395.7L290.3 398.1L291 396L292.5 397.7L293.5 397.2L294.3 395.8L295.8 397.2L296.1 393.6L297.9 396.5L298.3 393.4L300 395.6L300.8 394.5L302.2 395.4L302.5 392.2L304.3 394.4L305.3 394L306.6 394.4L307.6 393.8L308.2 392.2L309.1 391.4L310.8 393.1L311.3 391.1L312.4 390.8L313.9 391.8L314.6 390.4L315.8 390.3L317.2 390.9L317.1 387.6L318.8 389L318.9 386.3L320.7 387.7L322.2 388.4L323.3 388.3L324.1 387.4L325.1 387L326 386.1L326.8 385.3L327.5 384L328.8 384.4L330.2 384.6L330.3 382.4L332.5 384.4L332.5 381.7L333.8 381.9L334.9 381.7L336 381.4L336.5 379.9L338.1 380.7L339.4 380.7L339.8 379.1L338.7 374.8L341.1 377L343.2 378.4L343.5 376.7L344.8 376.7L345.6 375.9L346.9 375.8L347.4 374.6L347.9 373.3L350 374.5L350.4 373.1L351.8 373.3L351.3 370.4L351.4 368.7L353.8 370.2L354.8 369.8L356.1 369.6L357.4 369.7L358.4 369.1L359.1 368.2L359.8 367.3L360.6 366.5L360.1 364L361.4 363.9L363.1 364.3L363.8 363.4L362.9 360.4L365.7 362.2L366.9 361.9L366.2 359.3L367.4 359L367.9 357.9L369 357.6L371.4 358.7L372.4 358.2L372.6 356.7L373.6 356.2L374.6 355.6L375.6 355.1L375.6 353.4L375.2 351.4L376.5 351.1L377.7 350.8L379.7 351.3L380.1 350.1L380.4 348.8L380.7 347.6L381.1 346.4L382.6 346.4L382.2 344.4L385.2 345.8L383.8 343L382.9 340.6L386.9 342.8L386.5 341L388 340.8L389 340.2L388.4 338.3L391.4 339.4L390.4 337.1L390.6 335.8L392.7 336.1L394 335.8L392.8 333.4L395.4 334.1L395.9 333.1L396.9 332.4L395.7 330.1L397.1 329.8L397.9 329L396.3 326.4L397.9 326.3L399.3 325.9L401.9 326.5L402.6 325.5L402.8 324.4L401.3 322L402.9 321.8L403.8 321L404.7 320.2L404.7 318.9L406.3 318.7L406.9 317.7L406.7 316.3L407.7 315.7L406.2 313.4L407.5 312.9L410.4 313.4L408 310.6L411.4 311.4L412.2 310.6L411.4 308.8L412.1 308L412 306.6L413.6 306.2L414.5 305.5L415.3 304.7L413.9 302.7L415 302L415.6 301.1L416.7 300.4L417.7 299.6L417.9 298.5L418.9 297.7L417.9 296.1L418.2 294.9L419.5 294.3L420.2 293.4L419.5 291.9L418.5 290.3L421.7 290.5L422.1 289.4L420.6 287.6L422.9 287.4L422.7 286.1L421.5 284.4L424.7 284.5L423.7 282.9L423.1 281.5L424.3 280.8L421.7 278.7L425.7 278.9L426.1 277.9L426.8 277L426.6 275.7L426.1 274.4L426 273.2L428.6 272.9L428.7 271.7L427.5 270.2L428.6 269.4L429.1 268.4L430.2 267.6L430.3 266.4L428.7 264.8L429.7 264L429.3 262.7L429.5 261.6L428.6 260.3L430.7 259.7L427.6 257.8L432.3 257.7L432.8 256.7L431.3 255.3L431.6 254.2L431.5 253.1L433.2 252.3L432.3 251L433.3 250L434.1 249L433.8 247.9L434 246.8L432.3 245.4L430.5 244L433.8 243.4L434.4 242.3L435.5 241.4L431.6 239.8L435.1 239.1L435.8 238L435.3 236.9L436.1 235.8L435.9 234.7L434.5 233.5L434 232.3L432.5 231.1L434.5 230.2L435.2 229.1L436.6 228.1L436.7 226.9L431.9 225.6L434.9 224.7L435.6 223.6L436.8 222.5L436.8 221.4L434.9 220.2L434.5 219.1L436.8 218L433.6 217L433.7 215.9L436.1 214.7L436.1 213.6L435.4 212.5L432.6 211.5L434.7 210.3L434.6 209.2L433.7 208.2L434.9 207L436.2 205.8L432.9 205L433.9 203.8L434.8 202.6L432.4 201.7L435.5 200.3L435 199.2L435.7 198L433.6 197.2L435.3 195.9L435.2 194.7L435.2 193.6L434.3 192.6L434.8 191.4L433.3 190.5L434.6 189.2L432.6 188.4L432.9 187.2L432.2 186.2L432.7 185L429.1 184.6L433.3 182.7L432.6 181.6L430.3 181L431.3 179.7L429.1 179L431.8 177.3L429.9 176.6L431.3 175.1L430.5 174.2L430.6 173L430.7 171.8L430.4 170.8L429.8 169.8L429.6 168.7L427.1 168.2L427.7 166.9L427.9 165.7L427.2 164.8L426.2 163.9L425.8 162.9L426.7 161.4L426.1 160.5L426.1 159.3L426.4 158L424.1 157.7L425.9 155.8L425.1 154.9L424.7 153.9L423.4 153.2L423.2 152.1L423 151L421.5 150.4L421.6 149.2L420.8 148.3L422.1 146.6L421.6 145.6L418.8 145.6L417.7 144.9L418.2 143.5L419.3 141.8L419.5 140.4L418.5 139.7L415.1 140.1L416.3 138.3L416.5 137L416.7 135.6L415.8 134.8L416 133.5L414.5 133L413.7 132.2L414 130.8L413.7 129.6L412.7 128.9L411.7 128.2L407.4 129.4L411.1 126L410 125.4L408.4 125.1L409 123.4L408.7 122.3L408.7 121L406.1 121.3L407.6 119.1L405.2 119.3L405.1 118L404.7 116.9L404.3 115.9L401.8 116.3L402.9 114.1L402.5 113.1L401.6 112.4L398.9 113L399.4 111.3L399.9 109.5L399.8 108.2L396.9 109L397.5 107.2L396.3 106.7L397.1 104.7L395.2 104.8L395.9 102.8L394.3 102.6L393 102.3L391.7 101.9L391.5 100.6L389.8 100.7L389.7 99.4L390.2 97.5L389.7 96.4L388.9 95.6L387.7 95.2L386.8 94.6L384.6 95L385.9 92.3L384.5 92.1L380.8 94.2L381.9 91.6L381.4 90.5L382.3 88.1L381.2 87.6L380.8 86.5L378.2 87.5L378.5 85.7L377.9 84.6L376.8 84.2L376.7 82.7L375.5 82.3L374.5 81.8L374.2 80.5L373.4 79.8L371.9 79.7L370.8 79.3L368.8 80L370 76.9L367.7 77.9L367.7 76.1L366.5 75.8L366.6 74L364.9 74.3L363.1 74.9L363.8 72.1L362.5 72.1L362.2 70.5L361.3 69.9L358.8 71.4L358.4 70.1L358.1 68.6L357.4 67.7L355.7 68.2L353.4 69.6L353.1 68.1L353.5 65.5L352.9 64.4L352 63.8L351.1 63.1L349 64.4L347.6 64.5L347.5 62.6L346.9 61.5L346.3 60.2L345.4 59.6L343.4 60.8L343.2 59L342.3 58.3L339.5 61.1L340.2 57.5L339.2 57L337.8 57.3L337.1 56.3L336.3 55.4L335 55.5L334.4 54.3L332.6 55.5L332.4 53.4L330.9 53.8L328.8 55.7L328.9 53L327.5 53.3L327.4 50.8L326.6 50.1L324.7 51.6L323.4 51.8L323.2 49.6L322.2 49L321 48.9L320.4 47.6L319.2 47.4L318.1 47.3L316.7 47.9L315.7 47.4L315 46.2L313.8 46.1L312.7 46L312 44.6L311 43.9L309.9 43.8L308.4 44.7L307.5 44.1L306.3 44L305 44.5L304.5 42.4L303.2 42.8L302 43.2L300.8 43.2L299.8 42.7L298.9 42.1L297.8 41.6L296.7 41.5L294.9 44.4L294.7 40.4L293.7 40L292.5 40.3L291.5 39.6L290.5 39.1L289.5 38.3L287.3 43.5L287.2 38.4L286 38.8L285.1 37.5L284 37.2L282.5 39.5L281.7 37.8L280.7 37.1L279.6 36.5L278.4 37L277 39.1L276.2 37.3L275.2 36.1L274 36.4L272.9 36.9L271.7 37.5L270.6 37.2L269.5 36.8L268.4 37.1L267.5 35.3L266.3 35.2L265.1 37.3L263.9 39.2L263 34.9L261.8 38L260.8 35.5L259.6 35.8L258.5 36.3L257.4 37.5L256.3 35.5L255.2 34.9L254.1 35.5L253 36.1Z" fill="#f5860f"/>
<path d="M253 30.6A187.9 187.9 0 1 1 188.7 41.9L186.5 35.7L184.6 36.3L185.8 39.3L184 40L184 40.1L182.3 40.8L182.7 41.9L181 42.6L180.7 42L179 42.7L178.8 42.4L177.1 43.1L177.5 44L175.8 44.7L175.8 44.8L174.1 45.6L173.5 44.4L171.8 45.2L172.3 46.2L170.6 47L169.7 45.2L168 46L168.7 47.3L167 48.2L167.1 48.4L165.4 49.3L164.9 48.4L163.3 49.3L162.2 47.2L160.5 48.1L161.7 50.3L160 51.2L160.2 51.5L158.5 52.4L157.6 50.8L156 51.8L156 51.8L154.3 52.7L155.1 54.1L153.5 55.1L154.1 56.1L152.5 57L152 56.3L150.4 57.3L149.7 56.2L148.1 57.2L148.9 58.4L147.3 59.4L147.9 60.3L146.3 61.3L146.3 61.3L144.8 62.4L144.6 62.2L143.1 63.3L142.7 62.7L141.2 63.8L141.6 64.4L140 65.5L139.9 65.3L138.4 66.4L138.5 66.5L137 67.6L134.8 64.8L133.3 66L133.3 66L131.8 67.2L133.6 69.5L132.2 70.7L132.3 70.8L130.8 72L129.9 71L128.5 72.2L129.3 73.1L127.8 74.4L128.2 74.7L126.8 76L126.6 75.8L125.2 77.1L123.2 74.8L121.8 76.1L122.9 77.3L121.5 78.6L122.4 79.6L121.1 80.9L120.5 80.4L119.2 81.7L120.1 82.6L118.8 84L118.2 83.4L116.9 84.8L117.2 85.1L115.9 86.4L115.5 86.1L114.2 87.4L114.4 87.6L113.2 89L113.4 89.2L112.1 90.6L110 88.7L108.7 90.1L107.5 89.1L106.3 90.5L108.9 92.8L107.7 94.2L108.6 95L107.3 96.4L106.5 95.7L105.3 97.2L105.6 97.4L104.4 98.9L104.6 99.1L103.5 100.5L102.2 99.6L101.1 101.1L102.6 102.2L101.4 103.7L100.5 103L99.3 104.5L98.2 103.7L97.1 105.2L99.3 106.9L98.2 108.4L92.6 104.3L91.4 105.9L91.4 105.9L90.3 107.5L95.3 110.9L94.2 112.5L94.8 112.8L93.7 114.4L93.7 114.4L92.7 116L92.5 115.9L91.5 117.5L91.3 117.3L90.3 118.9L89.9 118.7L88.9 120.3L89.7 120.8L88.8 122.4L88.6 122.3L87.6 123.9L84.7 122.2L83.8 123.9L87 125.7L86.1 127.4L85.7 127.2L84.8 128.8L84.5 128.6L83.6 130.3L80.7 128.8L79.8 130.5L81.4 131.3L80.5 133L82.3 133.9L81.5 135.6L80.2 135L79.4 136.7L78.7 136.4L77.9 138.1L80.4 139.2L79.6 140.9L78.7 140.6L78 142.3L76.6 141.7L75.9 143.4L77.8 144.3L77.1 146L76.2 145.6L75.5 147.4L76 147.6L75.3 149.4L75.4 149.4L74.7 151.1L72.7 150.4L72 152.2L73.7 152.8L73.1 154.6L73.9 154.9L73.3 156.6L72.6 156.4L72 158.2L72.6 158.4L72 160.2L71.1 159.9L70.5 161.7L71.3 161.9L70.7 163.7L70.4 163.6L69.9 165.4L69.8 165.4L69.3 167.2L69.3 167.2L68.8 169L66.3 168.4L65.8 170.2L66.3 170.3L65.8 172.2L66.9 172.5L66.5 174.3L68 174.7L67.6 176.5L67.5 176.5L67.1 178.3L66.1 178.1L65.8 179.9L62.7 179.3L62.4 181.2L65.9 181.9L65.6 183.8L65.9 183.8L65.6 185.7L64 185.4L63.7 187.3L65.1 187.5L64.9 189.4L63.3 189.1L63 191L64.7 191.3L64.5 193.1L63.6 193L63.3 194.9L63.9 194.9L63.7 196.8L63.3 196.8L63.1 198.6L62.4 198.6L62.2 200.5L62.4 200.5L62.3 202.4L60.8 202.2L60.6 204.1L60.6 204.1L60.5 206.1L61.9 206.1L61.8 208L62.9 208.1L62.8 210L62.9 210L62.8 211.9L63 211.9L62.9 213.7L56.2 213.6L56.1 215.5L56.1 215.5L56.1 217.5L60.2 217.5L60.2 219.4L63.1 219.4L63.1 221.3L61.5 221.3L61.6 223.2L58.2 223.3L58.2 225.2L58.2 225.2L58.3 227.1L62.3 226.9L62.4 228.8L62.4 228.8L62.5 230.7L63.4 230.7L63.5 232.5L63.2 232.6L63.3 234.4L60.5 234.7L60.7 236.6L50 237.6L50.2 239.6L50.2 239.6L50.4 241.6L63.6 240.1L63.8 242L60.6 242.4L60.8 244.3L60.8 244.3L61.1 246.2L64.7 245.6L65 247.5L64.9 247.5L65.2 249.4L64.2 249.5L64.5 251.4L64.1 251.5L64.4 253.3L66 253L66.4 254.9L66.3 254.9L66.7 256.7L64 257.3L64.4 259.2L64.4 259.2L64.8 261L66.9 260.5L67.4 262.4L68.2 262.2L68.6 264L67.5 264.3L67.9 266.1L67.1 266.3L67.6 268.2L67.3 268.3L67.8 270.1L69.3 269.7L69.8 271.5L70 271.4L70.5 273.2L70.4 273.3L70.9 275.1L66.9 276.4L67.5 278.2L67.5 278.2L68.1 280L71.9 278.8L72.5 280.5L72.4 280.6L73.1 282.3L73.1 282.3L73.8 284.1L73 284.4L73.6 286.2L74.1 286L74.7 287.8L73.9 288.1L74.6 289.8L74.9 289.7L75.6 291.5L76.5 291.1L77.3 292.9L78 292.6L78.7 294.3L78.4 294.4L79.1 296.2L78.6 296.4L79.4 298.1L78.4 298.6L79.2 300.3L79 300.4L79.8 302.1L81.5 301.3L82.3 303L81.7 303.3L82.6 305L82.7 304.9L83.6 306.6L83.8 306.4L84.7 308.1L85.2 307.8L86.1 309.5L85.2 310L86.1 311.6L85.4 312L86.3 313.7L86.3 313.7L87.2 315.4L88.9 314.4L89.9 316L88.5 316.8L89.5 318.4L89.2 318.6L90.2 320.2L91.8 319.2L92.8 320.8L92.8 320.8L93.8 322.4L93.5 322.6L94.5 324.2L93.4 325L94.4 326.5L94.9 326.2L96 327.8L94.6 328.7L95.7 330.3L95.4 330.5L96.5 332.1L97.7 331.2L98.8 332.7L100.2 331.7L101.3 333.2L99.8 334.3L101 335.8L101.9 335.2L103 336.6L103.7 336.1L104.9 337.6L104.4 338L105.6 339.4L106 339.1L107.2 340.5L107.2 340.6L108.4 342L108.2 342.2L109.4 343.6L109.4 343.6L110.7 345L110.3 345.4L111.5 346.8L111.5 346.8L112.8 348.2L113.3 347.7L114.6 349.1L114.4 349.3L115.7 350.7L115.7 350.6L117 352L117.1 351.9L118.4 353.3L117.9 353.8L119.2 355.1L119.2 355.1L120.6 356.4L120.4 356.6L121.8 357.9L122.6 357.1L124 358.3L123.9 358.4L125.3 359.6L124.9 360.1L126.3 361.4L125.1 362.7L126.5 364L127.3 363.1L128.7 364.3L129.6 363.3L131.1 364.5L130.7 365L132.1 366.2L132.2 366.1L133.6 367.3L134.2 366.7L135.6 367.8L135.5 367.9L137 369.1L137.1 369.1L138.6 370.2L138 370.9L139.5 372L138.4 373.6L139.9 374.7L141.5 372.5L143.1 373.6L141.4 375.9L143 377L142.6 377.5L144.2 378.6L146.1 375.7L147.7 376.8L147.3 377.4L148.9 378.4L149.3 377.7L150.9 378.7L150.2 379.9L151.8 380.9L152.1 380.4L153.7 381.4L153.6 381.6L155.2 382.6L155 383L156.6 383.9L157 383.2L158.6 384.2L158.4 384.6L160 385.6L160.3 385.1L161.9 386L162.1 385.6L163.8 386.5L163.4 387.2L165.1 388.1L165.1 388L166.8 388.9L167 388.5L168.7 389.4L168.7 389.4L170.4 390.2L170.1 390.8L171.8 391.6L172 391.2L173.7 392L174 391.4L175.7 392.2L175.7 392.1L177.4 392.8L177.3 393.2L179 394L179.2 393.5L180.9 394.3L180.4 395.5L182.2 396.2L181.3 398.4L183.1 399.1L184.2 396.2L185.9 396.9L185.1 399.1L186.9 399.7L186.9 399.7L188.7 400.4L189.6 398L191.3 398.6L191.1 399.3L192.9 399.9L192.9 399.9L194.7 400.5L194.8 400.3L196.6 400.8L196.6 400.7L198.4 401.3L198.5 400.8L200.3 401.3L200.4 401.3L202.2 401.8L200.8 406.9L202.6 407.4L203.9 402.6L205.7 403L205.6 403.5L207.5 403.9L207.6 403.2L209.5 403.6L209.2 404.8L211 405.2L211.2 404.6L213 405L212.3 408.5L214.1 408.9L215 404.9L216.8 405.3L216.8 405.4L218.6 405.8L218.1 408.5L220 408.9L220.5 406.1L222.3 406.4L222.2 407.1L224.1 407.4L224.2 406.5L226.1 406.8L226.1 406.9L227.9 407.1L227.9 407.8L229.7 408.1L229.9 407L231.7 407.3L231.7 407.6L233.5 407.8L233.4 409.3L235.3 409.5L235.4 408.5L237.3 408.7L237.3 407.8L239.2 408L239.2 408L241.1 408.2L240.9 410.5L242.8 410.6L243 408.1L244.8 408.2L244.8 408.3L246.7 408.3L246.7 408.9L248.6 409L248.6 408.7L250.5 408.7L250.4 409.8L252.3 409.8L252.3 408.5L254.2 408.5L254.2 408.9L256.1 408.9L256.1 409.9L258 409.8L258.1 411.6L260 411.5L259.9 409.2L261.8 409.1L261.8 409.3L263.7 409.2L263.8 411.4L265.7 411.2L265.5 408.9L267.4 408.7L267.4 408.7L269.3 408.5L269.3 408.1L271.1 407.9L271.2 409.1L273.1 408.9L273 408L274.9 407.8L274.9 407.7L276.8 407.5L276.8 407.9L278.7 407.7L278.6 407L280.5 406.8L280.4 406.5L282.3 406.2L282.6 408.1L284.4 407.8L284.3 407.2L286.2 406.8L286.1 406L287.9 405.6L287.9 405.9L289.8 405.5L289.7 404.9L291.5 404.5L291.6 404.7L293.4 404.3L293.5 404.7L295.3 404.3L295.8 406.2L297.6 405.8L297.2 404.2L299.1 403.7L299 403.6L300.9 403.2L300.7 402.7L302.6 402.2L302.8 403.1L304.6 402.6L304.5 402.2L306.3 401.7L306.3 401.4L308.1 400.9L307.9 400.3L309.7 399.8L309.8 400L311.5 399.4L311.6 399.7L313.4 399.1L313.3 398.8L315.1 398.2L315.2 398.4L317 397.8L318.2 401.1L320 400.5L320 400.5L321.7 399.8L320.5 396.5L322.3 395.8L322.3 396L324.1 395.3L324.1 395.3L325.8 394.6L325.6 394.1L327.4 393.4L327.8 394.5L329.6 393.8L329.2 392.8L330.9 392.1L330.8 391.9L332.5 391.1L332.9 391.9L334.6 391.1L335.1 392.2L336.8 391.3L336.2 390.2L337.9 389.4L338.2 389.8L339.9 389L339.2 387.7L340.9 386.9L341 387.1L342.7 386.3L342.7 386.2L344.3 385.3L344.5 385.6L346.1 384.7L347.2 386.7L348.9 385.7L348.3 384.7L350 383.8L349.3 382.7L351 381.7L350.9 381.6L352.5 380.6L353 381.4L354.6 380.4L355.6 382.1L357.2 381.1L356.4 379.7L358 378.7L357.9 378.6L359.5 377.6L358.8 376.5L360.3 375.4L361.9 377.7L363.5 376.6L363.5 376.6L365 375.5L363.8 373.8L365.3 372.7L365.7 373.2L367.2 372.1L367.1 371.9L368.6 370.8L368 370L369.5 368.8L369.9 369.4L371.4 368.2L371.2 368L372.7 366.8L373 367.2L374.4 366L373.8 365.2L375.2 364L377.1 366.3L378.6 365L376.8 363L378.2 361.7L379.4 363.1L380.8 361.8L379.9 360.8L381.3 359.5L381.3 359.5L382.7 358.2L383 358.5L384.4 357.2L385.7 358.7L387.1 357.4L385.2 355.4L386.5 354.1L387.8 355.4L389.2 354L391.3 356.1L392.6 354.7L389.4 351.6L390.7 350.3L390.3 349.9L391.6 348.5L391.5 348.4L392.8 347L393.4 347.6L394.7 346.2L394.3 345.8L395.5 344.4L399.1 347.6L400.4 346.2L396.6 342.9L397.8 341.5L398.2 341.8L399.4 340.4L399.9 340.7L401.1 339.2L400.7 339L401.9 337.5L401.5 337.2L402.7 335.7L403.8 336.6L404.9 335.1L404.1 334.4L405.2 332.9L405.8 333.3L406.9 331.8L406.1 331.3L407.2 329.7L408.4 330.5L409.5 329L408.1 328.1L409.2 326.5L410.4 327.3L411.5 325.8L419.4 331.1L420.5 329.5L420.5 329.5L421.6 327.8L415.7 324L416.7 322.4L416.7 322.4L417.7 320.8L415.1 319.1L416.1 317.5L416.3 317.6L417.2 316L416.9 315.8L417.9 314.2L418.1 314.3L419 312.7L419.7 313.1L420.6 311.4L419.5 310.8L420.4 309.1L422.1 310.1L423 308.4L421.7 307.7L422.6 306L422.9 306.2L423.8 304.5L423.4 304.3L424.3 302.7L425 303L425.8 301.3L424.9 300.9L425.7 299.2L426.4 299.5L427.2 297.8L426.8 297.6L427.5 295.8L426.6 295.4L427.4 293.7L427.4 293.7L428.1 292L428.7 292.2L429.4 290.5L429.9 290.7L430.6 288.9L431.2 289.2L431.9 287.4L430.8 287L431.5 285.2L433.7 286.1L434.3 284.3L434.8 284.4L435.4 282.6L434.6 282.3L435.2 280.5L434.6 280.3L435.2 278.5L434.1 278.1L434.6 276.4L435.6 276.7L436.2 274.9L435.5 274.7L436.1 272.8L437.1 273.1L437.6 271.3L435.9 270.8L436.4 269L436.4 269L436.9 267.2L438.3 267.6L438.8 265.7L437.7 265.5L438.1 263.6L438.6 263.8L439.1 261.9L438.6 261.8L439 260L438.9 259.9L439.3 258.1L440.1 258.3L440.5 256.4L439.9 256.3L440.2 254.4L439.5 254.3L439.9 252.5L440.4 252.6L440.8 250.7L440.7 250.7L441 248.8L441 248.8L441.3 247L442.3 247.1L442.5 245.3L443.9 245.4L444.1 243.6L441.3 243.2L441.6 241.3L442.3 241.4L442.5 239.5L445.9 239.9L446.1 238L444.9 237.9L445.1 236L442.5 235.7L442.6 233.9L453.2 234.7L453.4 232.7L453.4 232.7L453.5 230.8L443.1 230.1L443.2 228.2L443.6 228.3L443.7 226.4L443.5 226.4L443.6 224.5L446.8 224.6L446.9 222.7L446.9 222.7L446.9 220.8L443.1 220.7L443.2 218.8L449.9 218.8L449.9 216.9L449.9 216.9L449.9 214.9L443.8 215.1L443.7 213.2L446 213.1L445.9 211.2L443.5 211.3L443.4 209.4L448.9 209.1L448.8 207.2L443.1 207.5L443 205.7L443.1 205.7L442.9 203.8L443.9 203.7L443.8 201.8L443.6 201.8L443.4 199.9L444.5 199.8L444.3 197.9L443.2 198.1L443 196.2L443.2 196.2L443 194.3L442.8 194.3L442.6 192.4L441.7 192.5L441.4 190.7L441 190.7L440.7 188.9L441.1 188.8L440.8 187L441.3 186.9L441 185L440.6 185.1L440.3 183.2L440.8 183.1L440.5 181.3L439.8 181.4L439.4 179.6L440.2 179.4L439.8 177.5L439.1 177.7L438.7 175.9L438.6 175.9L438.2 174L439 173.9L438.5 172L437.2 172.3L436.8 170.5L439.3 169.9L438.8 168L438.2 168.2L437.7 166.4L439.2 165.9L438.7 164.1L437 164.6L436.5 162.8L435.2 163.2L434.6 161.4L436.4 160.8L435.8 159L433.9 159.6L433.3 157.8L433.7 157.7L433.1 155.9L436.2 154.8L435.5 153L435.5 153L434.9 151.2L431.2 152.6L430.6 150.8L433.2 149.8L432.5 148L430.1 149L429.4 147.2L429.1 147.4L428.4 145.6L428.8 145.4L428.1 143.7L430.7 142.6L429.9 140.8L427.3 142L426.5 140.3L427 140.1L426.2 138.4L426.1 138.4L425.3 136.7L425.1 136.8L424.3 135.1L426.1 134.2L425.2 132.5L427.2 131.5L426.4 129.8L423 131.5L422.1 129.8L422.1 129.9L421.2 128.2L421.1 128.2L420.2 126.6L420 126.7L419.1 125.1L421.1 123.9L420.2 122.2L420.2 122.2L419.2 120.6L417.9 121.3L417 119.7L416.1 120.2L415.2 118.6L415 118.7L414 117.1L414.8 116.6L413.8 115L413.1 115.5L412.1 113.9L411.9 114L410.9 112.4L411.5 112L410.4 110.5L410.9 110.1L409.8 108.5L409.2 109L408.1 107.5L408 107.5L406.9 106L406.9 106L405.8 104.5L405.3 104.9L404.1 103.4L404.7 102.9L403.5 101.5L403.3 101.7L402.1 100.2L402 100.3L400.8 98.8L400.9 98.7L399.7 97.3L399.4 97.5L398.2 96.1L400.1 94.5L398.9 93L398.5 93.4L397.2 92L395.8 93.2L394.5 91.8L395.3 91.2L394 89.8L393.3 90.4L392 89L392.1 88.9L390.8 87.6L390.7 87.6L389.4 86.3L390 85.7L388.7 84.4L389.2 83.8L387.9 82.5L386.7 83.7L385.4 82.4L386.8 80.9L385.4 79.6L384.7 80.4L383.3 79.1L383.2 79.3L381.8 78L381.5 78.3L380.1 77L380.5 76.6L379 75.4L378.8 75.7L377.4 74.4L390.8 58.8L389.2 57.5L389.2 57.5L387.6 56.2L378.7 66.9L377.2 65.7L375.3 68L373.8 66.8L372.1 69L370.6 67.8L370.5 68L369 66.8L369.7 65.9L368.2 64.8L367.5 65.7L366 64.5L365.8 64.7L364.3 63.6L366.6 60.4L365 59.3L362.6 62.8L361 61.7L361.1 61.6L359.5 60.6L359.6 60.5L358 59.4L358.3 59L356.7 58L356.5 58.3L354.9 57.3L355.2 56.8L353.6 55.8L353.3 56.3L351.7 55.4L352 54.9L350.3 53.9L350.2 54.2L348.5 53.3L348.1 54L346.5 53L347.4 51.5L345.7 50.5L344.8 52.1L343.2 51.2L343.2 51.2L341.6 50.3L341.7 50L340.1 49.1L339.8 49.5L338.2 48.7L338.5 48.1L336.8 47.2L336.5 47.7L334.8 46.9L334.8 47L333.1 46.2L333.3 45.7L331.6 44.9L331.9 44.3L330.2 43.5L329.7 44.5L328 43.8L328.6 42.4L326.8 41.7L326.7 42L324.9 41.3L326.1 38.5L324.3 37.8L322.8 41.5L321.1 40.9L322 38.4L320.2 37.7L320.2 37.7L318.4 37L318.4 37L316.7 36.4L316 38.3L314.2 37.7L314.1 37.9L312.3 37.3L312.3 37.4L310.5 36.8L310.8 36L309 35.4L308.5 36.9L306.7 36.3L306.8 36.2L305 35.7L305 35.5L303.2 35L303.3 34.6L301.5 34.1L301.4 34.5L299.6 34.1L299.6 33.9L297.8 33.5L298.2 31.8L296.3 31.4L296.5 30.5L294.7 30.1L294.9 29.2L293 28.8L293 28.8L291.1 28.4L290.5 31.2L288.7 30.8L288.6 31.3L286.7 30.9L286.7 30.9L284.9 30.6L285.2 28.8L283.3 28.5L283 30.3L281.2 30.1L281.2 29.9L279.3 29.6L279.3 29.6L277.4 29.4L277.5 28.8L275.6 28.6L275.6 28.8L273.7 28.6L273.7 29.3L271.8 29.1L271.8 28.7L270 28.5L269.9 28.9L268 28.8L268.1 28.6L266.2 28.4L266.2 28.5L264.3 28.3L264.3 28.1L262.4 28L262.4 28.2L260.5 28.1L260.5 28.4L258.6 28.3L258.6 28.3L256.8 28.2L256.8 28.6L254.9 28.6L254.9 26.2L253 26.1L253 28.3Z" fill="#c7a8dc"/>
<path d="M250.4 6.5H253.4V29.4H250.4M250.4 33.3H253.4V43.1" fill="none" stroke="#333" stroke-width="0.55"/>
<path d="M250.4 43.1H253.4" stroke="#aaa" stroke-width="0.55"/>
<path d="M250.3 55.1H252.7M250.3 62.9H252.7" stroke="#333" stroke-width="0.5"/>
<text transform="translate(247.4 29.4) rotate(-90)" font-size="5.6" text-anchor="middle" fill="#222">0</text>
<text x="246" y="57.2" font-size="6.3" text-anchor="end" fill="#111">log10 Size</text>
<text x="246" y="65" font-size="6.3" text-anchor="end" fill="#111">log10 N50</text>
<text x="462.9" y="72.7" font-size="5.4" font-weight="bold" fill="#111">Phylum</text>
<rect x="463.9" y="76.8" width="8.6" height="8.5" rx="0.8" fill="#6b41a9"/>
<rect x="463.9" y="87.5" width="8.6" height="8.5" rx="0.8" fill="#7a40ae"/>
<rect x="463.9" y="98.2" width="8.6" height="8.5" rx="0.8" fill="#8a40b3"/>
<rect x="463.9" y="108.9" width="8.6" height="8.5" rx="0.8" fill="#993fb6"/>
<rect x="463.9" y="119.6" width="8.6" height="8.5" rx="0.8" fill="#a83eb6"/>
<rect x="463.9" y="130.3" width="8.6" height="8.5" rx="0.8" fill="#b53db4"/>
<rect x="463.9" y="141" width="8.6" height="8.5" rx="0.8" fill="#c23db0"/>
<rect x="463.9" y="151.7" width="8.6" height="8.5" rx="0.8" fill="#ce3dab"/>
<rect x="463.9" y="162.4" width="8.6" height="8.5" rx="0.8" fill="#d93ea3"/>
<rect x="463.9" y="173.1" width="8.6" height="8.5" rx="0.8" fill="#e54099"/>
<rect x="463.9" y="183.8" width="8.6" height="8.5" rx="0.8" fill="#ee438c"/>
<rect x="463.9" y="194.4" width="8.6" height="8.5" rx="0.8" fill="#f7487e"/>
<rect x="463.9" y="205.1" width="8.6" height="8.5" rx="0.8" fill="#fb5170"/>
<rect x="463.9" y="215.8" width="8.6" height="8.5" rx="0.8" fill="#fd5a64"/>
<rect x="524.5" y="76.8" width="8.6" height="8.5" rx="0.8" fill="#fe645d"/>
<rect x="524.5" y="87.5" width="8.6" height="8.5" rx="0.8" fill="#fe6d54"/>
<rect x="524.5" y="98.2" width="8.6" height="8.5" rx="0.8" fill="#fd774b"/>
<rect x="524.5" y="108.9" width="8.6" height="8.5" rx="0.8" fill="#fc8243"/>
<rect x="524.5" y="119.6" width="8.6" height="8.5" rx="0.8" fill="#fa8c3b"/>
<rect x="524.5" y="130.3" width="8.6" height="8.5" rx="0.8" fill="#f59735"/>
<rect x="524.5" y="141" width="8.6" height="8.5" rx="0.8" fill="#eea031"/>
<rect x="524.5" y="151.7" width="8.6" height="8.5" rx="0.8" fill="#e6a930"/>
<rect x="524.5" y="162.4" width="8.6" height="8.5" rx="0.8" fill="#dcb131"/>
<rect x="524.5" y="173.1" width="8.6" height="8.5" rx="0.8" fill="#d2ba35"/>
<rect x="524.5" y="183.8" width="8.6" height="8.5" rx="0.8" fill="#c9c43b"/>
<rect x="524.5" y="194.4" width="8.6" height="8.5" rx="0.8" fill="#c0d041"/>
<rect x="524.5" y="205.1" width="8.6" height="8.5" rx="0.8" fill="#b4dd4b"/>
<rect x="524.5" y="215.8" width="8.6" height="8.5" rx="0.8" fill="#a8e85d"/>
<g font-size="5.7" fill="#222"><text x="475.4" y="83">Bacillota_A</text><text x="475.4" y="93.7">Pseudomonadota</text><text x="475.4" y="104.4">Actinomycetota</text><text x="475.4" y="115.1">Bacteroidota</text><text x="475.4" y="125.8">Bacillota</text><text x="475.4" y="136.4">Bacillota_I</text><text x="475.4" y="147.1">Campylobacterota</text><text x="475.4" y="157.8">Spirochaetota</text><text x="475.4" y="168.5">Bacillota_C</text><text x="475.4" y="179.2">Fibrobacterota</text><text x="475.4" y="189.9">Bacillota_B</text><text x="475.4" y="200.6">Cyanobacteriota</text><text x="475.4" y="211.3">Thermoproteota</text><text x="475.4" y="222">Chlamydiota</text><text x="535.9" y="83">Verrucomicrobiota</text><text x="535.9" y="93.7">Planctomycetota</text><text x="535.9" y="104.4">Thermoplasmatota</text><text x="535.9" y="115.1">Acidobacteriota</text><text x="535.9" y="125.8">Chloroflexota</text><text x="535.9" y="136.4">Nitrospirota</text><text x="535.9" y="147.1">Gemmatimonadota</text><text x="535.9" y="157.8">Desulfobacterota_B</text><text x="535.9" y="168.5">CSP1-3</text><text x="535.9" y="179.2">Methylomirabilota</text><text x="535.9" y="189.9">Myxococcota</text><text x="535.9" y="200.6">Methanobacteriota</text><text x="535.9" y="211.3">Eremiobacterota</text><text x="535.9" y="222">Elusimicrobiota</text></g>
<defs><linearGradient id="gN" x1="0" y1="0" x2="0" y2="1"><stop offset="0" stop-color="#f76a8f"/><stop offset="1" stop-color="#fde6ed"/></linearGradient><linearGradient id="gS" x1="0" y1="0" x2="0" y2="1"><stop offset="0" stop-color="#5d656e"/><stop offset="1" stop-color="#e6e9ec"/></linearGradient></defs>
<text x="459.3" y="268.2" font-size="4.8" font-weight="bold" fill="#111" textLength="25.4" lengthAdjust="spacingAndGlyphs">N50(log10)</text>
<text x="486.7" y="268.2" font-size="4.8" font-weight="bold" fill="#111" textLength="49.5" lengthAdjust="spacingAndGlyphs">Genome Size (log10)</text>
<rect x="470.9" y="271.3" width="8.2" height="71.2" fill="url(#gN)"/>
<rect x="511.2" y="271.3" width="7.8" height="71.2" fill="url(#gS)"/>
<path d="M479.1 275h1" stroke="#333" stroke-width="0.35"/>
<text x="480.5" y="276.8" font-size="5.2" fill="#222">6</text>
<path d="M479.1 288.4h1" stroke="#333" stroke-width="0.35"/>
<text x="480.5" y="290.2" font-size="5.2" fill="#222">5.5</text>
<path d="M479.1 300.8h1" stroke="#333" stroke-width="0.35"/>
<text x="480.5" y="302.6" font-size="5.2" fill="#222">5</text>
<path d="M479.1 313h1" stroke="#333" stroke-width="0.35"/>
<text x="480.5" y="314.8" font-size="5.2" fill="#222">4.5</text>
<path d="M479.1 326h1" stroke="#333" stroke-width="0.35"/>
<text x="480.5" y="327.8" font-size="5.2" fill="#222">4</text>
<path d="M479.1 343h1" stroke="#333" stroke-width="0.35"/>
<text x="480.5" y="344.8" font-size="5.2" fill="#222">3.33</text>
<path d="M519 278.2h1" stroke="#333" stroke-width="0.35"/>
<text x="520.4" y="280" font-size="5.2" fill="#222">6.8</text>
<path d="M519 290.8h1" stroke="#333" stroke-width="0.35"/>
<text x="520.4" y="292.6" font-size="5.2" fill="#222">6.6</text>
<path d="M519 304.1h1" stroke="#333" stroke-width="0.35"/>
<text x="520.4" y="305.9" font-size="5.2" fill="#222">6.4</text>
<path d="M519 316.7h1" stroke="#333" stroke-width="0.35"/>
<text x="520.4" y="318.5" font-size="5.2" fill="#222">6.2</text>
<path d="M519 329.7h1" stroke="#333" stroke-width="0.35"/>
<text x="520.4" y="331.5" font-size="5.2" fill="#222">6</text>
<path d="M519 341.8h1" stroke="#333" stroke-width="0.35"/>
<text x="520.4" y="343.6" font-size="5.2" fill="#222">5.8</text>
<text x="548.8" y="268.2" font-size="6" font-weight="bold" fill="#111" textLength="43" lengthAdjust="spacingAndGlyphs">Novel or Known</text>
<rect x="546" y="271.7" width="3.7" height="3.4" fill="#9ed4d8"/>
<text x="552.3" y="275.2" font-size="5.5" fill="#222">Novel</text>
<rect x="546" y="280.4" width="3.7" height="3.7" fill="#e6e6e2"/>
<text x="552.3" y="284.2" font-size="5.5" fill="#222">Known</text>
<rect x="547.9" y="299.9" width="9.1" height="8.9" rx="0.8" fill="#7d3fb5"/>
<text x="559.1" y="306.1" font-size="5.5" fill="#222">Completeness</text>
<rect x="547.9" y="310.6" width="9.1" height="8.7" rx="0.8" fill="#f5820a"/>
<text x="559.1" y="317.2" font-size="5.5" fill="#222">100-Completeness</text>
<clipPath id="cpB"><rect x="648.4" y="51.2" width="98.30000000000007" height="132.89999999999998"/></clipPath>
<rect x="648.4" y="51.2" width="98.30000000000007" height="132.89999999999998" fill="#8f6798"/>
<g clip-path="url(#cpB)"><path d="M645.6 162.6C646.9 157 649 158.1 651.2 156.4C653.4 154.8 655.9 154.1 658.7 152.7C661.5 151.2 665.6 149.9 668.1 147.6C670.5 145.4 670.8 141.5 673.3 139.2C675.8 136.9 679.6 135.3 683 133.6C686.5 131.9 690.5 130.5 694.3 129.1C698 127.7 702.8 126.9 705.5 125.2C708.2 123.4 709.4 121.2 710.4 118.6C711.3 116 710.5 112.1 711.1 109.6C711.7 107.1 712.1 105.4 713.9 103.6C715.8 101.9 719.8 100.6 722.4 99.1C724.9 97.6 727.6 96.2 729.5 94.7C731.3 93.1 732.3 90.1 733.6 89.8C734.9 89.5 736.4 90.8 737.3 92.8C738.3 94.8 738.4 98.1 739.2 101.8C740 105.4 741.1 110.5 742 114.9C742.9 119.2 743.7 123.9 744.8 128C745.9 132 747.3 128.9 748.6 139.2C749.8 149.5 769.8 181.3 752.3 189.7C734.8 198.2 661.5 194.3 643.7 189.7C626 185.2 644.4 168.1 645.6 162.6Z" fill="#9175a6"/><ellipse cx="701.2" cy="106.8" rx="2.6" ry="1.4" transform="rotate(-12 701.2 106.8)" fill="#9175a6"/><path d="M653.1 183.2C654.3 181.2 656.2 179 658.7 177.9C661.2 176.8 665.3 177.8 668.1 176.6C670.9 175.5 673.9 173.2 675.6 171C677.2 168.8 676.5 166 677.8 163.5C679.1 161.1 681.2 158.2 683.4 156.4C685.6 154.6 687.9 153.7 690.9 152.7C694 151.7 698.4 151.7 701.8 150.4C705.1 149.1 708.6 147.6 711.1 144.8C713.6 142 714.9 137 716.7 133.6C718.6 130.2 720.2 126.8 722.4 124.6C724.5 122.4 727.7 120.7 729.8 120.5C732 120.3 733.7 120.7 735.5 123.5C737.2 126.3 738.7 132.5 740.1 137.3C741.5 142.1 742.3 147.9 743.9 152.3C745.4 156.7 748.1 157.3 749.5 163.5C750.9 169.8 768.7 185.4 752.3 189.7C735.9 194.1 667.8 190.8 651.2 189.7C634.7 188.6 651.9 185.1 653.1 183.2Z" fill="#9181b0"/><path d="M687.9 162.6C688.5 160.4 691.3 157.7 694.3 156.4C697.2 155.2 702.1 155.8 705.5 155.1C708.9 154.4 712.4 154 714.9 152.3C717.4 150.6 718.3 147.1 720.5 144.8C722.7 142.5 725.8 139.7 728 138.4C730.2 137.2 731.9 136.3 733.6 137.3C735.3 138.4 736.7 141.1 738.3 144.8C739.8 148.6 741.1 155.1 742.9 159.8C744.8 164.5 747.9 167.9 749.5 172.9C751.1 177.9 758.9 186.9 752.3 189.7C745.7 192.5 717.9 191.6 710.2 189.7C702.5 187.9 707.6 181.3 705.9 178.5C704.2 175.7 702.4 174.4 699.9 172.9C697.4 171.4 692.9 171.2 690.9 169.5C688.9 167.8 687.4 164.8 687.9 162.6Z" fill="#8e8cb6"/><path d="M711.1 169.1C711.3 166 711.7 162.6 713 159.8C714.2 157 716.4 154.5 718.6 152.3C720.8 150.1 723.6 147.8 726.1 146.7C728.6 145.6 731.6 144.8 733.6 145.7C735.6 146.7 736.7 148.7 738.3 152.3C739.8 155.9 741.1 162.9 742.9 167.3C744.8 171.6 747.9 174.8 749.5 178.5C751.1 182.2 758.1 187.9 752.3 189.7C746.5 191.6 721.6 191.6 714.9 189.7C708.2 187.9 712.7 181.9 712.1 178.5C711.4 175.1 711 172.3 711.1 169.1Z" fill="#8997b9"/><path d="M715.2 172C715.5 169.1 715.9 165.4 717.1 162.6C718.3 159.8 720.2 157 722.4 155.1C724.5 153.2 727.7 151.5 729.8 151.2C732 150.8 733.7 151.3 735.5 153C737.2 154.8 738.6 158 740.1 161.7C741.7 165.3 743.1 171 744.8 174.8C746.5 178.5 749.2 181.6 750.4 184.1C751.7 186.6 757.4 188.8 752.3 189.7C747.2 190.7 725.6 191.4 719.5 189.7C713.5 188 716.5 182.4 715.8 179.4C715.1 176.5 715 174.8 715.2 172Z" fill="#85a1bb"/><ellipse cx="734.7" cy="177.4" rx="15.9" ry="20.6" transform="rotate(-14 734.7 177.4)" fill="#7faebb"/><ellipse cx="734.7" cy="177.4" rx="13.9" ry="17.6" transform="rotate(-14 734.7 177.4)" fill="#7bb9bb"/><ellipse cx="734.7" cy="177.4" rx="12" ry="15" transform="rotate(-14 734.7 177.4)" fill="#78c5b8"/><ellipse cx="734.7" cy="177.4" rx="10.3" ry="12.5" transform="rotate(-14 734.7 177.4)" fill="#7fd0b2"/><ellipse cx="734.7" cy="177.4" rx="8.8" ry="10.5" transform="rotate(-14 734.7 177.4)" fill="#92daa8"/><ellipse cx="734.7" cy="177.4" rx="7.3" ry="8.4" transform="rotate(-14 734.7 177.4)" fill="#aee398"/><ellipse cx="734.7" cy="177.4" rx="5.8" ry="6.6" transform="rotate(-14 734.7 177.4)" fill="#ccea84"/><ellipse cx="734.7" cy="177.4" rx="4.3" ry="4.7" transform="rotate(-14 734.7 177.4)" fill="#ecee75"/><ellipse cx="734.7" cy="177.4" rx="2.6" ry="2.8" transform="rotate(-14 734.7 177.4)" fill="#fef17c"/><ellipse cx="734.7" cy="177.4" rx="0.9" ry="0.9" transform="rotate(-14 734.7 177.4)" fill="#fcf39a"/></g>
<path d="M648.4 51.2V184.1H746.7" fill="none" stroke="#111" stroke-width="0.7"/>
<path d="M648.4 51.1h-1.2" stroke="#111" stroke-width="0.4"/>
<text x="646.6" y="52.8" font-size="4.8" text-anchor="end" fill="#222">10.0</text>
<path d="M648.4 83.3h-1.2" stroke="#111" stroke-width="0.4"/>
<text x="646.6" y="85" font-size="4.8" text-anchor="end" fill="#222">7.5</text>
<path d="M648.4 114.9h-1.2" stroke="#111" stroke-width="0.4"/>
<text x="646.6" y="116.6" font-size="4.8" text-anchor="end" fill="#222">5.0</text>
<path d="M648.4 146.2h-1.2" stroke="#111" stroke-width="0.4"/>
<text x="646.6" y="147.9" font-size="4.8" text-anchor="end" fill="#222">2.5</text>
<path d="M648.4 178.2h-1.2" stroke="#111" stroke-width="0.4"/>
<text x="646.6" y="179.9" font-size="4.8" text-anchor="end" fill="#222">0.0</text>
<path d="M652.9 184.1v1.2" stroke="#111" stroke-width="0.4"/>
<text x="652.9" y="189.6" font-size="4.8" text-anchor="middle" fill="#222">50</text>
<path d="M671.6 184.1v1.2" stroke="#111" stroke-width="0.4"/>
<text x="671.6" y="189.6" font-size="4.8" text-anchor="middle" fill="#222">60</text>
<path d="M690.4 184.1v1.2" stroke="#111" stroke-width="0.4"/>
<text x="690.4" y="189.6" font-size="4.8" text-anchor="middle" fill="#222">70</text>
<path d="M708.9 184.1v1.2" stroke="#111" stroke-width="0.4"/>
<text x="708.9" y="189.6" font-size="4.8" text-anchor="middle" fill="#222">80</text>
<path d="M727.3 184.1v1.2" stroke="#111" stroke-width="0.4"/>
<text x="727.3" y="189.6" font-size="4.8" text-anchor="middle" fill="#222">90</text>
<path d="M745.6 184.1v1.2" stroke="#111" stroke-width="0.4"/>
<text x="745.6" y="189.6" font-size="4.8" text-anchor="middle" fill="#222">100</text>
<text x="706" y="196.4" font-size="7.8" font-weight="bold" text-anchor="middle" fill="#111" textLength="52.7" lengthAdjust="spacingAndGlyphs">Completeness</text>
<text transform="translate(635.5 108.9) rotate(-90)" font-size="7.8" font-weight="bold" text-anchor="middle" fill="#111" textLength="54.7" lengthAdjust="spacingAndGlyphs">Contamination</text>
<path d="M648.4 49.6C648.4 49.1 646.9 47.5 648.4 46.9C650 46.3 653.6 46.1 657.8 45.8C661.9 45.5 668.1 45.4 673.3 45.1C678.5 44.8 683.7 44.4 688.9 44C694.1 43.6 700 43.2 704.4 42.7C708.9 42.1 712.9 41.3 715.6 40.9C718.2 40.4 719 40 720.4 40C721.9 40 722.9 40.5 724.4 41.1C726 41.7 727.8 42.8 730 43.8C732.2 44.7 735.2 46 737.8 46.9C740.4 47.8 744.1 48.7 745.6 49.1C747 49.6 746.5 49.5 746.7 49.6Z" fill="#b9dff0" fill-opacity="0.85" stroke="#a5d3ea" stroke-width="0.4"/>
<path d="M722.9 49.6C723.1 48.9 724 47.3 724.4 45.6C724.9 43.8 725.3 41.4 725.8 38.9C726.2 36.4 726.4 32.6 727.1 30.4C727.8 28.3 728.8 26.5 729.8 26C730.7 25.5 731.9 27.2 732.9 27.3C733.9 27.4 734.9 27.3 735.8 26.7C736.7 26.1 737.5 24.5 738.2 23.8C739 23 739.6 22 740.2 22.2C740.9 22.4 741.6 23.1 742.2 25.1C742.9 27.1 743.4 31 744 34.4C744.6 37.9 745.1 43 745.6 45.6C746 48.1 746.3 48.9 746.4 49.6Z" fill="#dcaef6" fill-opacity="0.8" stroke="#cf9bf0" stroke-width="0.4"/>
<path d="M648.4 49.6H746.7" stroke="#d8c4ee" stroke-width="0.5"/>
<path d="M750.7 51.1C750.9 51.5 751.4 46.1 751.8 53.3C752.1 60.6 752.4 81.7 752.9 94.4C753.4 107.2 753.9 120.4 754.9 130C755.9 139.6 757.1 145.7 758.9 152.2C760.7 158.7 763.7 164.4 765.6 168.9C767.4 173.4 769.4 176.9 770 179.3C770.6 181.8 772.1 182.8 768.9 183.6C765.7 184.3 753.7 183.9 750.7 184Z" fill="#dcaef6" fill-opacity="0.8" stroke="#cf9bf0" stroke-width="0.4"/>
<path d="M750.7 51.1C750.9 51.3 751.7 46.1 752 52.2C752.3 58.3 752.4 76.3 752.7 87.8C753 99.3 753.2 110.4 753.8 121.1C754.3 131.9 755.2 144.3 756 152.2C756.8 160.2 758.2 164.3 758.7 168.9C759.1 173.5 759.2 177.5 758.7 180C758.1 182.5 756.9 183.3 755.6 184C754.2 184.7 751.5 184 750.7 184Z" fill="#b9dff0" fill-opacity="0.55" stroke="#a5d3ea" stroke-width="0.4"/>
<text x="762.9" y="60.2" font-size="5.6" font-weight="bold" fill="#111">quality</text>
<circle cx="766.2" cy="67.1" r="1.4" fill="#d9a6f5"/>
<text x="772.9" y="68.7" font-size="4.4" fill="#222">High</text>
<circle cx="766.2" cy="74" r="1.4" fill="#a8d8ee"/>
<text x="772.9" y="75.6" font-size="4.4" fill="#222">Medium</text>
<text x="757.8" y="85.2" font-size="5.6" font-weight="bold" fill="#111">Density Level</text>
<rect x="768.2" y="88.9" width="5.6" height="3.36" fill="#8f6798"/>
<rect x="768.2" y="92.16" width="5.6" height="3.36" fill="#9176a7"/>
<rect x="768.2" y="95.42" width="5.6" height="3.36" fill="#9084b2"/>
<rect x="768.2" y="98.68" width="5.6" height="3.36" fill="#8c91b8"/>
<rect x="768.2" y="101.94" width="5.6" height="3.36" fill="#869dba"/>
<rect x="768.2" y="105.2" width="5.6" height="3.36" fill="#82a8bb"/>
<rect x="768.2" y="108.46" width="5.6" height="3.36" fill="#7db2bb"/>
<rect x="768.2" y="111.72" width="5.6" height="3.36" fill="#7abdba"/>
<rect x="768.2" y="114.98" width="5.6" height="3.36" fill="#79c7b7"/>
<rect x="768.2" y="118.24" width="5.6" height="3.36" fill="#81d1b1"/>
<rect x="768.2" y="121.5" width="5.6" height="3.36" fill="#92daa8"/>
<rect x="768.2" y="124.76" width="5.6" height="3.36" fill="#abe399"/>
<rect x="768.2" y="128.02" width="5.6" height="3.36" fill="#c6e988"/>
<rect x="768.2" y="131.28" width="5.6" height="3.36" fill="#e3ed77"/>
<rect x="768.2" y="134.54" width="5.6" height="3.36" fill="#fef17c"/>
<text x="775.7" y="95.2" font-size="6.1" fill="#111">Low</text>
<text x="775.7" y="137.2" font-size="6.1" fill="#111">High</text>
<clipPath id="cpC"><rect x="649.5" y="236.2" width="99.60000000000002" height="132.2"/></clipPath>
<rect x="649.5" y="236.2" width="99.60000000000002" height="132.2" fill="#8f6798"/>
<g clip-path="url(#cpC)"><path d="M667.4 247.4C665 247.7 661.5 250 659.4 252.6C657.3 255.3 655.8 257.9 654.7 263.2C653.7 268.4 653.5 277.2 653.1 284.2C652.6 291.2 652.5 298.2 652.2 305.3C652 312.3 651.9 320 651.6 326.3C651.3 332.6 651.4 338.6 650.5 343.2C649.6 347.7 647 348.8 646.3 353.7C645.6 358.6 643.1 369.5 646.3 372.6C649.5 375.8 662.4 374.7 665.7 372.6C669 370.5 665.8 364.2 666.3 360C666.8 355.8 667.4 351.2 668.6 347.4C669.9 343.6 671.1 340.1 673.7 337.3C676.3 334.5 681.4 333.1 684.2 330.5C687 328 689.3 325.6 690.5 322.1C691.8 318.6 692.3 313.7 691.8 309.5C691.3 305.3 688.7 301.1 687.6 296.8C686.5 292.6 685.3 288.6 685.3 284.2C685.2 279.8 686.1 273.2 687.2 270.5C688.2 267.9 690 268.2 691.4 268.2C692.7 268.2 694.2 271.9 695.2 270.7C696.1 269.5 697.2 264.7 697.3 261.1C697.4 257.4 697.1 251.9 695.8 248.8C694.5 245.8 692 243.9 689.7 242.7C687.4 241.5 683.9 241.3 682.1 241.7C680.4 242.1 679.9 243.2 679.2 245.1C678.5 246.9 678.8 251.7 677.9 252.6C677 253.5 675.4 251.4 673.7 250.5C671.9 249.6 669.8 247 667.4 247.4Z" fill="#9178a9"/><path d="M666.3 250.5C664.4 251.1 661.8 253 660.2 255.8C658.6 258.6 657.5 261.9 656.6 267.4C655.8 272.8 655.5 281.4 655.2 288.4C654.8 295.4 654.7 303.2 654.7 309.5C654.7 315.8 655.3 320.7 655.2 326.3C655 331.9 654.3 338.6 653.7 343.2C653.1 347.7 652.1 349.5 651.6 353.7C651.1 357.9 648.5 366 650.5 368.4C652.5 370.9 661.2 370.5 663.6 368.4C666 366.3 664.4 359.6 664.8 355.8C665.3 351.9 665.4 348.4 666.5 345.3C667.6 342.1 669 339.8 671.6 336.8C674.2 333.9 679.4 330.7 682.1 327.6C684.8 324.4 686.7 321.6 687.6 317.9C688.5 314.2 688.3 309.5 687.6 305.3C686.9 301.1 684.3 296.8 683.4 292.6C682.5 288.4 682.1 284.9 682.1 280C682.1 275.1 683.3 267 683.2 263.2C683 259.3 682.1 258.1 681.1 256.8C680 255.6 678.4 256.3 676.8 255.6C675.3 254.9 673.3 253.5 671.6 252.6C669.8 251.8 668.2 250 666.3 250.5Z" fill="#8f88b4"/><path d="M681.7 293.5C682.1 296.3 682.9 299.1 683.4 301.9C683.8 304.6 684.1 307.4 684.3 310C684.4 312.6 684.4 315.1 684.2 317.5C684 319.8 683.7 322 683.2 324C682.6 326 681.9 327.8 681 329.4C680.2 330.9 679.1 332.3 678 333.3C676.9 334.4 675.6 335.3 674.3 335.8C673 336.3 671.3 336.6 670.2 336.6C669 336.6 668.4 336.3 667.5 335.8C666.6 335.3 665.7 334.4 664.8 333.3C664 332.3 663.1 330.9 662.3 329.4C661.5 327.8 660.8 326 660.1 324C659.3 322 658.7 319.8 658.1 317.5C657.5 315.1 657 312.6 656.5 310C656.1 307.4 655.7 304.6 655.4 301.9C655.1 299.1 654.9 296.3 654.7 293.5C654.6 290.7 654.6 287.8 654.6 285.1C654.7 282.3 654.8 279.6 655 277C655.2 274.4 655.5 271.8 655.9 269.5C656.3 267.2 656.8 264.9 657.3 263C657.8 261 658.5 259.1 659.1 257.6C659.8 256 660.5 254.7 661.3 253.6C662 252.5 662.8 251.7 663.7 251.1C664.5 250.6 665.4 250.3 666.3 250.3C667.1 250.3 668.1 250.6 668.9 251.1C669.8 251.7 670.7 252.5 671.6 253.6C672.4 254.7 673.3 256 674.1 257.6C674.9 259.1 675.7 261 676.4 263C677.1 264.9 677.7 267.2 678.3 269.5C678.9 271.8 679.5 274.4 679.9 277C680.4 279.6 680.8 282.3 681 285.1C681.3 287.8 681.3 290.7 681.7 293.5Z" fill="#8997b9"/><path d="M680 293.2C680.3 295.8 681.1 298.4 681.5 301C681.9 303.5 682.2 306.1 682.3 308.5C682.4 310.9 682.4 313.2 682.3 315.4C682.1 317.5 681.8 319.6 681.4 321.4C680.9 323.3 680.3 325 679.5 326.4C678.8 327.9 677.9 329.1 676.9 330.1C675.9 331.1 674.8 331.9 673.6 332.4C672.5 332.9 671 333.2 670 333.2C669 333.2 668.5 332.9 667.7 332.4C666.9 331.9 666.1 331.1 665.4 330.1C664.6 329.1 663.9 327.9 663.2 326.4C662.5 325 661.8 323.3 661.1 321.4C660.5 319.6 659.9 317.5 659.4 315.4C658.9 313.2 658.4 310.9 658 308.5C657.6 306.1 657.3 303.5 657 301C656.7 298.4 656.5 295.8 656.4 293.2C656.3 290.6 656.3 287.9 656.3 285.4C656.3 282.8 656.4 280.3 656.6 277.9C656.8 275.4 657.1 273.1 657.4 270.9C657.7 268.8 658.1 266.7 658.6 264.9C659.1 263 659.6 261.3 660.2 259.9C660.7 258.5 661.4 257.2 662 256.2C662.7 255.2 663.4 254.4 664.1 253.9C664.9 253.4 665.6 253.2 666.4 253.2C667.2 253.2 668 253.4 668.7 253.9C669.5 254.4 670.3 255.2 671.1 256.2C671.8 257.2 672.6 258.5 673.3 259.9C674 261.3 674.6 263 675.3 264.9C675.9 266.7 676.5 268.8 677 270.9C677.5 273.1 678 275.4 678.4 277.9C678.8 280.3 679.2 282.8 679.4 285.4C679.7 287.9 679.7 290.6 680 293.2Z" fill="#83a4bb"/><path d="M678.3 292.8C678.6 295.2 679.3 297.7 679.6 300C679.9 302.4 680.2 304.7 680.3 306.9C680.4 309.2 680.5 311.3 680.3 313.3C680.2 315.3 679.9 317.2 679.6 318.9C679.2 320.6 678.6 322.1 678 323.5C677.4 324.8 676.6 326 675.8 326.9C674.9 327.8 673.9 328.5 673 329C672 329.4 670.7 329.7 669.9 329.7C669 329.7 668.5 329.4 667.9 329C667.2 328.5 666.5 327.8 665.9 326.9C665.2 326 664.6 324.8 664 323.5C663.4 322.1 662.8 320.6 662.2 318.9C661.7 317.2 661.2 315.3 660.7 313.3C660.3 311.3 659.9 309.2 659.5 306.9C659.2 304.7 658.9 302.4 658.6 300C658.4 297.7 658.2 295.2 658.1 292.8C658 290.4 658 288 658 285.7C658 283.3 658.1 281 658.2 278.7C658.4 276.5 658.6 274.4 658.9 272.4C659.2 270.4 659.5 268.5 659.9 266.8C660.3 265.1 660.7 263.5 661.2 262.2C661.7 260.9 662.2 259.7 662.8 258.8C663.4 257.9 664 257.2 664.6 256.7C665.2 256.2 665.9 256 666.6 256C667.2 256 667.9 256.2 668.6 256.7C669.2 257.2 669.9 257.9 670.5 258.8C671.2 259.7 671.8 260.9 672.4 262.2C673.1 263.5 673.6 265.1 674.2 266.8C674.7 268.5 675.2 270.4 675.7 272.4C676.1 274.4 676.6 276.5 676.9 278.7C677.3 281 677.6 283.3 677.8 285.7C678 288 678 290.4 678.3 292.8Z" fill="#7eb1bb"/><path d="M676.8 292.5C677.1 294.7 677.7 296.9 678 299.1C678.3 301.2 678.5 303.4 678.6 305.4C678.7 307.4 678.7 309.4 678.6 311.2C678.5 313.1 678.3 314.8 678 316.3C677.6 317.9 677.2 319.3 676.7 320.5C676.1 321.8 675.5 322.8 674.7 323.6C674 324.5 673.2 325.1 672.4 325.6C671.5 326 670.5 326.2 669.7 326.2C669 326.2 668.6 326 668 325.6C667.4 325.1 666.9 324.5 666.3 323.6C665.8 322.8 665.2 321.8 664.7 320.5C664.2 319.3 663.6 317.9 663.2 316.3C662.7 314.8 662.3 313.1 661.9 311.2C661.5 309.4 661.1 307.4 660.8 305.4C660.5 303.4 660.2 301.2 660 299.1C659.8 296.9 659.7 294.7 659.6 292.5C659.5 290.3 659.4 288.1 659.4 286C659.5 283.8 659.5 281.7 659.7 279.6C659.8 277.6 660 275.6 660.2 273.8C660.4 272 660.7 270.3 661 268.7C661.4 267.2 661.7 265.7 662.2 264.5C662.6 263.3 663 262.2 663.5 261.4C664 260.6 664.5 259.9 665 259.5C665.6 259.1 666.1 258.8 666.7 258.8C667.3 258.8 667.8 259.1 668.4 259.5C669 259.9 669.6 260.6 670.1 261.4C670.7 262.2 671.2 263.3 671.7 264.5C672.3 265.7 672.8 267.2 673.2 268.7C673.7 270.3 674.2 272 674.5 273.8C674.9 275.6 675.3 277.6 675.6 279.6C675.9 281.7 676.2 283.8 676.4 286C676.6 288.1 676.6 290.3 676.8 292.5Z" fill="#7abdba"/><path d="M675.4 292.2C675.6 294.2 676.1 296.2 676.3 298.2C676.6 300.2 676.8 302.1 676.9 304C677 305.8 677 307.6 676.9 309.3C676.8 310.9 676.7 312.5 676.4 313.9C676.1 315.4 675.8 316.7 675.3 317.8C674.9 318.9 674.3 319.8 673.7 320.6C673.2 321.4 672.5 322 671.8 322.4C671.1 322.7 670.2 322.9 669.6 322.9C669 322.9 668.6 322.7 668.2 322.4C667.7 322 667.2 321.4 666.7 320.6C666.3 319.8 665.8 318.9 665.4 317.8C664.9 316.7 664.5 315.4 664.1 313.9C663.7 312.5 663.4 310.9 663 309.3C662.7 307.6 662.4 305.8 662.1 304C661.9 302.1 661.6 300.2 661.5 298.2C661.3 296.2 661.1 294.2 661.1 292.2C661 290.2 660.9 288.2 660.9 286.2C660.9 284.3 661 282.3 661.1 280.4C661.2 278.6 661.3 276.8 661.5 275.1C661.7 273.5 661.9 271.9 662.2 270.5C662.4 269.1 662.7 267.8 663.1 266.7C663.4 265.5 663.8 264.6 664.2 263.8C664.6 263 665 262.5 665.5 262.1C665.9 261.7 666.4 261.5 666.8 261.5C667.3 261.5 667.8 261.7 668.3 262.1C668.7 262.5 669.2 263 669.7 263.8C670.1 264.6 670.6 265.5 671 266.7C671.5 267.8 671.9 269.1 672.3 270.5C672.7 271.9 673.1 273.5 673.4 275.1C673.7 276.8 674 278.6 674.3 280.4C674.6 282.3 674.8 284.3 675 286.2C675.1 288.2 675.1 290.2 675.4 292.2Z" fill="#7bcbb5"/><path d="M673.9 291.9C674.1 293.7 674.5 295.6 674.7 297.4C674.9 299.1 675.1 300.9 675.2 302.6C675.2 304.3 675.3 305.9 675.2 307.5C675.2 309 675 310.4 674.8 311.7C674.6 313 674.3 314.2 674 315.2C673.6 316.2 673.2 317.1 672.8 317.8C672.3 318.5 671.8 319 671.2 319.4C670.7 319.7 669.9 319.9 669.5 319.9C669 319.9 668.7 319.7 668.3 319.4C668 319 667.6 318.5 667.2 317.8C666.8 317.1 666.5 316.2 666.1 315.2C665.7 314.2 665.4 313 665.1 311.7C664.8 310.4 664.5 309 664.2 307.5C663.9 305.9 663.7 304.3 663.4 302.6C663.2 300.9 663 299.1 662.9 297.4C662.7 295.6 662.6 293.7 662.5 291.9C662.4 290.1 662.4 288.2 662.4 286.4C662.4 284.6 662.4 282.9 662.5 281.2C662.5 279.5 662.6 277.9 662.8 276.3C662.9 274.8 663.1 273.4 663.3 272.1C663.5 270.8 663.7 269.6 664 268.6C664.3 267.6 664.6 266.7 664.9 266C665.2 265.3 665.5 264.8 665.9 264.4C666.2 264.1 666.6 263.9 667 263.9C667.3 263.9 667.7 264.1 668.1 264.4C668.5 264.8 668.8 265.3 669.2 266C669.6 266.7 670 267.6 670.3 268.6C670.7 269.6 671 270.8 671.3 272.1C671.7 273.4 672 274.8 672.2 276.3C672.5 277.9 672.8 279.5 673 281.2C673.2 282.9 673.4 284.6 673.5 286.4C673.7 288.2 673.7 290.1 673.9 291.9Z" fill="#8fd9a9"/><path d="M672.6 291.6C672.8 293.2 673.1 294.9 673.3 296.5C673.5 298.2 673.6 299.8 673.7 301.3C673.8 302.9 673.8 304.4 673.7 305.7C673.7 307.1 673.6 308.4 673.5 309.6C673.3 310.8 673.1 311.8 672.8 312.8C672.6 313.7 672.3 314.5 671.9 315.1C671.5 315.7 671.1 316.2 670.7 316.6C670.3 316.9 669.7 317.1 669.4 317.1C669 317.1 668.8 316.9 668.5 316.6C668.2 316.2 667.9 315.7 667.6 315.1C667.3 314.5 667 313.7 666.7 312.8C666.4 311.8 666.2 310.8 665.9 309.6C665.6 308.4 665.4 307.1 665.2 305.7C664.9 304.4 664.7 302.9 664.6 301.3C664.4 299.8 664.2 298.2 664.1 296.5C664 294.9 663.9 293.2 663.8 291.6C663.7 289.9 663.7 288.2 663.7 286.6C663.6 285 663.6 283.4 663.7 281.8C663.7 280.3 663.8 278.8 663.9 277.4C664 276 664.1 274.7 664.3 273.6C664.4 272.4 664.6 271.3 664.8 270.4C665 269.5 665.2 268.7 665.5 268C665.7 267.4 666 266.9 666.2 266.6C666.5 266.3 666.8 266.1 667.1 266.1C667.4 266.1 667.7 266.3 667.9 266.6C668.2 266.9 668.5 267.4 668.8 268C669.1 268.7 669.4 269.5 669.7 270.4C670 271.3 670.3 272.4 670.5 273.6C670.8 274.7 671 276 671.2 277.4C671.5 278.8 671.7 280.3 671.9 281.8C672 283.4 672.2 285 672.3 286.6C672.5 288.2 672.5 289.9 672.6 291.6Z" fill="#afe497"/><path d="M671.4 291.3C671.5 292.8 671.7 294.3 671.9 295.8C672 297.3 672.1 298.7 672.2 300.1C672.3 301.5 672.3 302.9 672.3 304.1C672.3 305.4 672.2 306.6 672.1 307.6C672 308.7 671.9 309.7 671.7 310.5C671.5 311.4 671.3 312.1 671.1 312.7C670.8 313.2 670.5 313.7 670.2 314C669.9 314.3 669.5 314.4 669.3 314.4C669 314.4 668.8 314.3 668.6 314C668.4 313.7 668.2 313.2 668 312.7C667.7 312.1 667.5 311.4 667.3 310.5C667.1 309.7 666.9 308.7 666.7 307.6C666.5 306.6 666.3 305.4 666.2 304.1C666 302.9 665.8 301.5 665.7 300.1C665.6 298.7 665.4 297.3 665.3 295.8C665.2 294.3 665.1 292.8 665.1 291.3C665 289.8 664.9 288.2 664.9 286.7C664.9 285.3 664.9 283.8 664.9 282.4C664.9 281 664.9 279.6 665 278.4C665.1 277.1 665.1 276 665.2 274.9C665.3 273.8 665.5 272.8 665.6 272C665.7 271.2 665.9 270.4 666 269.9C666.2 269.3 666.4 268.8 666.6 268.6C666.8 268.3 667 268.1 667.2 268.1C667.4 268.1 667.6 268.3 667.8 268.6C668 268.8 668.2 269.3 668.5 269.9C668.7 270.4 668.9 271.2 669.1 272C669.3 272.8 669.5 273.8 669.7 274.9C669.9 276 670.1 277.1 670.3 278.4C670.4 279.6 670.6 281 670.7 282.4C670.9 283.8 671 285.3 671.1 286.7C671.2 288.2 671.2 289.8 671.4 291.3Z" fill="#d7ec7d"/><path d="M670.1 290.9C670.2 292.3 670.4 293.6 670.5 294.9C670.6 296.2 670.7 297.5 670.7 298.7C670.8 299.9 670.8 301.1 670.8 302.2C670.8 303.3 670.8 304.3 670.8 305.2C670.7 306.2 670.6 307 670.5 307.8C670.4 308.5 670.3 309.1 670.2 309.6C670 310.1 669.9 310.5 669.7 310.8C669.5 311 669.3 311.2 669.1 311.2C669 311.2 668.9 311 668.7 310.8C668.6 310.5 668.5 310.1 668.3 309.6C668.2 309.1 668 308.5 667.9 307.8C667.8 307 667.6 306.2 667.5 305.2C667.4 304.3 667.3 303.3 667.1 302.2C667 301.1 666.9 299.9 666.8 298.7C666.7 297.5 666.6 296.2 666.5 294.9C666.4 293.6 666.4 292.3 666.3 290.9C666.3 289.6 666.2 288.3 666.2 287C666.1 285.7 666.1 284.4 666.1 283.2C666.1 282 666.1 280.8 666.1 279.7C666.1 278.6 666.2 277.6 666.2 276.7C666.3 275.7 666.3 274.9 666.4 274.1C666.5 273.4 666.6 272.8 666.6 272.3C666.7 271.8 666.8 271.4 666.9 271.1C667.1 270.9 667.2 270.7 667.3 270.7C667.4 270.7 667.6 270.9 667.7 271.1C667.8 271.4 668 271.8 668.1 272.3C668.2 272.8 668.4 273.4 668.5 274.1C668.6 274.9 668.8 275.7 668.9 276.7C669 277.6 669.2 278.6 669.3 279.7C669.4 280.8 669.5 282 669.6 283.2C669.7 284.4 669.8 285.7 669.9 287C670 288.3 670 289.6 670.1 290.9Z" fill="#fef17c"/><ellipse cx="658.1" cy="356.2" rx="6.3" ry="12.2" fill="#8997b9"/><ellipse cx="658.1" cy="356.2" rx="5.1" ry="9.9" fill="#81a8bb"/><ellipse cx="658.1" cy="356.2" rx="3.8" ry="7.6" fill="#7bb8bb"/><ellipse cx="658.1" cy="356.2" rx="2.5" ry="5.5" fill="#79c8b7"/><ellipse cx="658.1" cy="356.2" rx="1.5" ry="3.2" fill="#8ad6ac"/></g>
<path d="M649.5 233.7V368.4H751.1" fill="none" stroke="#111" stroke-width="0.7"/>
<path d="M649.5 246.2h-1.6" stroke="#444" stroke-width="0.4"/>
<text x="645.6" y="248" font-size="5" text-anchor="end" fill="#666">70</text>
<path d="M649.5 271.1h-1.6" stroke="#444" stroke-width="0.4"/>
<text x="645.6" y="272.9" font-size="5" text-anchor="end" fill="#666">60</text>
<path d="M649.5 296.2h-1.6" stroke="#444" stroke-width="0.4"/>
<text x="645.6" y="298" font-size="5" text-anchor="end" fill="#666">50</text>
<path d="M649.5 320.9h-1.6" stroke="#444" stroke-width="0.4"/>
<text x="645.6" y="322.7" font-size="5" text-anchor="end" fill="#666">40</text>
<path d="M649.5 345.3h-1.6" stroke="#444" stroke-width="0.4"/>
<text x="645.6" y="347.1" font-size="5" text-anchor="end" fill="#666">30</text>
<path d="M671.6 368.4v1.6" stroke="#444" stroke-width="0.4"/>
<text x="671.6" y="375.6" font-size="5" text-anchor="middle" fill="#666">2</text>
<path d="M697.1 368.4v1.6" stroke="#444" stroke-width="0.4"/>
<text x="697.1" y="375.6" font-size="5" text-anchor="middle" fill="#666">4</text>
<path d="M722.4 368.4v1.6" stroke="#444" stroke-width="0.4"/>
<text x="722.4" y="375.6" font-size="5" text-anchor="middle" fill="#666">6</text>
<path d="M748.2 368.4v1.6" stroke="#444" stroke-width="0.4"/>
<text x="748.2" y="375.6" font-size="5" text-anchor="middle" fill="#666">8</text>
<text x="702.2" y="384.4" font-size="7.8" font-weight="bold" text-anchor="middle" fill="#111" textLength="72" lengthAdjust="spacingAndGlyphs">Genome Size (Mbp)</text>
<text transform="translate(635.5 305.1) rotate(-90)" font-size="7.8" font-weight="bold" text-anchor="middle" fill="#111">GC (%)</text>
<path d="M653.7 233.3C654.6 232.3 657 229.9 658.9 227.4C660.9 224.8 663.2 221 665.3 217.9C667.3 214.8 669.8 209.9 671.2 208.8C672.6 207.8 672.6 209.9 673.7 211.6C674.8 213.3 676.1 216.5 677.9 218.9C679.6 221.4 681.8 224.4 684.2 226.3C686.7 228.2 688.4 229.4 692.6 230.5C696.8 231.6 700.4 232.5 709.5 233.1C718.6 233.6 741.1 233.6 747.4 233.7Z" fill="#ddd0ee" stroke="#b9a3d8" stroke-width="0.4"/>
<path d="M751.6 240C752.1 241.1 753 243.2 754.7 246.3C756.5 249.5 759.8 255.1 762.1 258.9C764.4 262.8 767 266.7 768.4 269.5C769.8 272.3 770.5 272.6 770.5 275.8C770.6 278.9 769.3 284.9 768.8 288.4C768.4 291.9 767.7 293.7 768 296.8C768.3 300 770.5 303.9 770.5 307.4C770.6 310.9 769.6 314 768.4 317.9C767.2 321.8 764.9 326.7 763.2 330.5C761.4 334.4 758.9 337.9 757.9 341.1C756.8 344.2 757.2 346.7 756.8 349.5C756.5 352.3 756.4 355.6 755.8 357.9C755.2 360.2 754 362.3 753.3 363.2C752.6 364 751.9 363.2 751.6 363.2Z" fill="#ddd0ee" stroke="#b9a3d8" stroke-width="0.4"/>
<rect x="40.1" y="559.8" width="548.6" height="237.6" rx="2.2" fill="#fae4de" stroke="#ef8aa0" stroke-width="1.2"/>
<path d="M41.3 560.9h308.3v235.4h-308.3ZM351 561.1h116v26.7h-116ZM351 590.4h116v67.2h-116ZM351 659.6h129.3v77.3h-129.3ZM351 739.4h235.7v56h-235.7ZM469.5 561.4h49.3v15h-49.3ZM469.5 577.9h49.3v7.3h-49.3ZM469.5 586.8h49.3v17.8h-49.3ZM469.5 607.2h57.7v22.6h-57.7ZM469.5 632.1h58.5v25.5h-58.5ZM520.3 561.4h22.9v10.4h-22.9ZM520.3 573.3h22.9v11.5h-22.9ZM545.2 577.9h20.9v6.9h-20.9ZM567.6 577.9h19.1v6.9h-19.1ZM520.3 586.8h37.4v17.8h-37.4ZM559.2 586.8h27.5v17.8h-27.5ZM529.9 607.2h56.8v22.6h-56.8ZM531 632.1h55.7v25.5h-55.7ZM481.3 659.4h104.6v77.2h-104.6Z" fill="#fae4de" stroke="#f19db0" stroke-width="0.7"/>
<path d="M43.2 572.63h30.02v18.17h-30.02ZM73.22 581.25h22.86v9.55h-22.86ZM73.22 571.71h22.86v9.55h-22.86ZM73.22 562.5h22.86v9.21h-22.86ZM96.08 568.2h21.89v6.23h-21.89ZM117.97 581.19h14.6v9.61h-14.6ZM117.97 571.58h14.6v9.61h-14.6ZM132.57 585.44h19v5.36h-19ZM151.57 585.44h16.44v5.36h-16.44ZM144.76 580.07h12.12v5.37h-12.12ZM156.89 580.07h12.06v5.37h-12.06ZM168.95 580.07h11.95v5.37h-11.95ZM132.57 575.25h12.96v4.82h-12.96ZM132.57 570.96h12.96v4.28h-12.96ZM132.57 566.68h12.96v4.28h-12.96ZM145.52 575.61h11.88v4.46h-11.88ZM157.4 575.61h11.76v4.46h-11.76ZM169.17 575.61h11.73v4.46h-11.73ZM145.52 570.8h10.59v4.82h-10.59ZM156.11 570.85h8.47v4.77h-8.47ZM156.11 566.35h7.8v4.5h-7.8ZM156.11 562.5h7.8v3.85h-7.8ZM163.91 564.94h10.23v2.59h-10.23ZM174.15 563.9h6.75v3.64h-6.75ZM174.15 562.5h6.75v1.4h-6.75ZM43.2 623.4h43.6v21h-43.6ZM86.8 634.59h31.08v9.81h-31.08ZM140.24 634.59h20.72v9.81h-20.72ZM109.98 625.91h22.37v8.68h-22.37ZM132.35 625.91h17.53v8.68h-17.53ZM86.8 618.37h17.56v7.54h-17.56ZM104.35 618.37h17.56v7.54h-17.56ZM86.8 613.31h13.44v5.06h-13.44ZM100.24 613.31h13.44v5.06h-13.44ZM113.68 613.31h13.44v5.06h-13.44ZM140.57 613.31h13.44v5.06h-13.44ZM154.01 613.31h13.44v5.06h-13.44ZM167.46 613.31h13.44v5.06h-13.44ZM100.24 608.15h13.44v5.16h-13.44ZM127.13 608.15h13.44v5.16h-13.44ZM140.57 608.15h13.44v5.16h-13.44ZM167.46 608.15h13.44v5.16h-13.44ZM86.8 593.5h14.35v6.84h-14.35ZM101.15 600.67h11.24v7.48h-11.24ZM101.15 593.5h11.24v7.17h-11.24ZM112.39 598.01h13.9v4.65h-13.9ZM126.29 603.16h12.32v4.99h-12.32ZM138.61 598.32h11.24v4.91h-11.24ZM149.85 603.27h11.08v4.88h-11.08ZM160.93 603.27h11.08v4.88h-11.08ZM172.01 603.27h8.89v4.88h-8.89ZM149.85 593.5h8.68v4.87h-8.68ZM158.53 599.82h11.27v3.45h-11.27ZM169.8 599.82h11.1v3.45h-11.1ZM170.16 596.63h10.74v3.19h-10.74ZM43.2 710.65h48.23v18.45h-48.23ZM91.43 710.65h48.84v18.45h-48.84ZM43.2 699.49h29.13v11.16h-29.13ZM72.33 699.49h26.99v11.16h-26.99ZM43.2 690.85h21.79v8.64h-21.79ZM64.99 690.85h21.79v8.64h-21.79ZM108.56 690.85h21.79v8.64h-21.79ZM130.34 690.85h21.79v8.64h-21.79ZM173.91 690.85h21.79v8.64h-21.79ZM61.44 661.31h16.63v7.33h-16.63ZM78.07 661.18h15.34v7.24h-15.34ZM78.07 646.8h15.34v7.15h-15.34ZM93.41 684.37h16.55v6.48h-16.55ZM93.41 665.13h16.55v6.36h-16.55ZM93.41 658.87h16.55v6.26h-16.55ZM93.41 652.79h16.55v6.08h-16.55ZM93.41 646.8h16.55v5.99h-16.55ZM109.96 684.05h14.51v6.8h-14.51ZM124.47 684.05h14.45v6.8h-14.45ZM138.92 684.05h14.44v6.8h-14.44ZM153.35 684.05h14.33v6.8h-14.33ZM167.68 684.05h14.04v6.8h-14.04ZM181.72 684.05h13.98v6.8h-13.98ZM109.96 677.78h15.16v6.26h-15.16ZM154.43 677.78h13.92v6.26h-13.92ZM168.35 677.78h13.7v6.26h-13.7ZM109.96 671.44h13.23v6.34h-13.23ZM109.96 665.15h13.23v6.29h-13.23ZM109.96 659h13.23v6.15h-13.23ZM109.96 652.88h13.23v6.12h-13.23ZM109.96 646.8h13.23v6.08h-13.23ZM123.18 671.48h12.59v6.31h-12.59ZM123.18 659.04h12.59v6.21h-12.59ZM147.96 671.5h12.08v6.29h-12.08ZM172.04 671.5h11.83v6.29h-11.83ZM183.87 671.5h11.83v6.29h-11.83ZM135.78 665.25h11.59v6.25h-11.59ZM135.78 646.8h11.59v6.12h-11.59ZM159.48 665.71h12.08v5.79h-12.08ZM161.82 650.81h13.62v4.56h-13.62ZM185.57 654.94h10.13v5.01h-10.13ZM175.44 646.8h10.91v3.88h-10.91ZM43.2 764.83h36.07v29.07h-36.07ZM79.27 755.77h31.83v12.23h-31.83ZM79.27 742.64h31.83v13.13h-31.83ZM111.1 758.42h26.56v11.09h-26.56ZM111.1 751.27h26.56v7.15h-26.56ZM137.66 783.52h23.42v10.38h-23.42ZM137.66 773.13h23.42v10.38h-23.42ZM137.66 762.75h23.42v10.38h-23.42ZM137.66 741.98h23.42v10.38h-23.42ZM137.66 731.6h23.42v10.38h-23.42ZM161.07 786.11h22.44v7.79h-22.44ZM161.07 778.32h22.44v7.79h-22.44ZM161.07 770.54h22.44v7.79h-22.44ZM161.07 762.75h22.44v7.79h-22.44ZM161.07 747.17h22.44v7.79h-22.44ZM161.07 739.39h22.44v7.79h-22.44ZM161.07 731.6h22.44v7.79h-22.44ZM183.51 773.31h20.9v8.85h-20.9ZM204.41 785.13h19.2v8.77h-19.2ZM204.41 761.44h19.2v7.64h-19.2ZM204.41 753.85h19.2v7.59h-19.2ZM204.41 746.28h19.2v7.57h-19.2ZM204.41 738.87h19.2v7.41h-19.2ZM204.41 731.6h19.2v7.27h-19.2ZM223.61 786.28h18.02v7.62h-18.02ZM241.63 786.28h17.96v7.62h-17.96ZM259.59 786.28h17.94v7.62h-17.94ZM313.02 786.28h17.55v7.62h-17.55ZM241.84 779.04h18.01v7.24h-18.01ZM259.85 779.04h17.86v7.24h-17.86ZM313.06 779.04h17.55v7.24h-17.55ZM223.61 772.12h18.17v6.92h-18.17ZM223.61 765.22h18.17v6.9h-18.17ZM223.61 758.38h18.17v6.84h-18.17ZM223.61 751.66h18.17v6.72h-18.17ZM223.61 744.96h18.17v6.7h-18.17ZM223.61 738.27h18.17v6.69h-18.17ZM273.02 771.36h15.18v7.68h-15.18ZM288.2 771.36h15.07v7.68h-15.07ZM303.27 771.36h15.04v7.68h-15.04ZM318.31 771.36h14.95v7.68h-14.95ZM241.77 751.22h16.72v6.62h-16.72ZM241.77 744.63h16.72v6.59h-16.72ZM241.77 738.1h16.72v6.52h-16.72ZM241.77 731.6h16.72v6.5h-16.72ZM258.5 764.23h15.11v7.13h-15.11ZM273.6 764.23h15.09v7.13h-15.09ZM288.7 764.23h14.96v7.13h-14.96ZM303.65 764.23h14.91v7.13h-14.91ZM318.56 764.23h14.85v7.13h-14.85ZM333.41 764.23h14.69v7.13h-14.69ZM258.5 744.5h15.56v6.51h-15.56ZM258.5 738.05h15.56v6.46h-15.56ZM274.06 757.7h15.18v6.54h-15.18ZM289.24 757.7h15.08v6.54h-15.08ZM304.33 757.7h14.71v6.54h-14.71ZM319.04 757.7h14.54v6.54h-14.54ZM333.58 757.7h14.52v6.54h-14.52ZM274.06 751.13h14.27v6.57h-14.27ZM274.06 744.57h14.27v6.56h-14.27ZM288.33 751.84h15.44v5.86h-15.44ZM303.77 751.84h14.99v5.86h-14.99ZM318.76 751.84h14.9v5.86h-14.9ZM288.33 738.13h12.13v6.84h-12.13ZM300.45 741.56h15.08v5.08h-15.08ZM300.45 736.55h15.08v5.01h-15.08ZM300.45 731.6h15.08v4.95h-15.08ZM315.53 745.24h11.26v6.6h-11.26ZM326.79 745.24h10.84v6.6h-10.84ZM337.63 745.24h10.47v6.6h-10.47ZM315.53 740.57h14.62v4.67h-14.62ZM315.53 731.6h14.62v4.39h-14.62ZM330.15 738.2h9.1v7.04h-9.1ZM339.26 738.2h8.84v7.04h-8.84ZM330.15 731.6h9.11v6.6h-9.11ZM271.1 715.01h28.8v13.29h-28.8ZM299.9 715.01h26.97v13.29h-26.97ZM284.21 704.11h23.56v10.9h-23.56ZM307.76 704.11h20.89v10.9h-20.89ZM216.94 695.51h18.74v8.6h-18.74ZM254.41 695.51h18.74v8.6h-18.74ZM329.36 695.51h18.74v8.6h-18.74ZM231.51 688.6h16.66v6.91h-16.66ZM248.17 688.6h16.66v6.91h-16.66ZM281.48 688.6h16.66v6.91h-16.66ZM298.13 688.6h16.66v6.91h-16.66ZM314.79 688.6h16.66v6.91h-16.66ZM331.44 688.6h16.66v6.91h-16.66ZM198.2 673.99h16.83v7.05h-16.83ZM198.2 667.03h16.83v6.96h-16.83ZM198.2 653.46h16.83v6.63h-16.83ZM198.2 647.5h16.83v5.96h-16.83ZM215.03 681.48h13.96v7.12h-13.96ZM215.03 667.55h13.96v6.82h-13.96ZM215.03 654.01h13.96v6.76h-13.96ZM228.99 682.56h15v6.04h-15ZM228.99 664.65h15v5.93h-15ZM243.99 676.55h13.63v5.95h-13.63ZM243.99 670.72h13.63v5.83h-13.63ZM243.99 647.5h13.63v5.79h-13.63ZM257.61 682.79h13.46v5.82h-13.46ZM297.47 682.79h12.9v5.82h-12.9ZM310.37 682.79h12.72v5.82h-12.72ZM335.64 682.79h12.46v5.82h-12.46ZM257.61 676.77h11.97v6.02h-11.97ZM257.61 670.81h11.97v5.95h-11.97ZM257.61 659.08h11.97v5.84h-11.97ZM257.61 653.27h11.97v5.81h-11.97ZM257.61 647.5h11.97v5.77h-11.97ZM282.81 677.63h13.22v5.16h-13.22ZM322.22 677.63h12.98v5.16h-12.98ZM269.58 667.43h12.93v5.07h-12.93ZM269.58 652.41h12.93v4.98h-12.93ZM282.51 672.07h11.16v5.56h-11.16ZM293.67 672.07h11v5.56h-11ZM304.68 672.07h10.98v5.56h-10.98ZM337.33 672.07h10.77v5.56h-10.77ZM282.51 667.11h11.97v4.96h-11.97ZM282.51 657.26h11.97v4.9h-11.97ZM282.51 647.5h11.97v4.87h-11.97ZM294.48 666.73h10.9v5.34h-10.9ZM305.38 666.73h10.82v5.34h-10.82ZM337.72 666.73h10.38v5.34h-10.38ZM294.48 661.9h11.16v4.83h-11.16ZM294.48 647.5h11.16v4.77h-11.16ZM337.81 661.91h10.29v4.82h-10.29ZM315 647.5h8.2v5.21h-8.2ZM323.19 652.72h8.1v5.23h-8.1ZM340.04 653.14h8.06v4.8h-8.06ZM331.29 647.5h6.71v5.64h-6.71ZM338 649.92h10.1v3.23h-10.1ZM182.9 562.5h21.36v12.1h-21.36ZM204.26 562.5h15.72v12.1h-15.72ZM233.86 567.22h8.24v7.38h-8.24ZM232.05 562.5h10.05v4.72h-10.05ZM182.9 601.09h21.53v8.91h-21.53ZM223.8 601.09h18.3v8.91h-18.3ZM199.23 586.95h15.67v6.11h-15.67ZM214.9 577.6h9.24v4.92h-9.24ZM232.83 581.63h9.27v2.48h-9.27ZM182.9 619.44h23.54v6.54h-23.54ZM206.44 612.9h20.37v8.62h-20.37ZM226.82 637.21h19.48v7.09h-19.48ZM264.95 637.21h16.05v7.09h-16.05ZM269.1 629.99h11.9v7.22h-11.9ZM226.82 612.9h13.92v5.2h-13.92ZM240.74 618.49h10.64v5.63h-10.64ZM272.3 620.52h8.7v3.79h-8.7ZM244 583.18h16.17v7.52h-16.17ZM260.17 583.18h12.83v7.52h-12.83ZM254.73 576.6h10.54v6.58h-10.54ZM265.28 577.98h7.72v5.2h-7.72ZM265.28 576.6h7.72v1.38h-7.72ZM265.79 600.33h13.31v9.57h-13.31ZM244 593.4h15.04v6.93h-15.04ZM267.4 596.36h11.7v3.97h-11.7ZM267.4 593.4h11.7v2.96h-11.7ZM275.2 565.77h13.95v6.93h-13.95ZM317.2 599.76h18.72v10.14h-18.72ZM283.4 612.9h19.91v10.2h-19.91ZM331.03 623.67h17.07v9.64h-17.07ZM303.31 612.9h15.44v5.12h-15.44ZM318.75 617.18h12.04v6.49h-12.04ZM330.79 618.83h9.68v4.84h-9.68ZM341.6 612.9h6.5v2.65h-6.5ZM305 566.5h10v2.7h-10ZM320 562.6h8.2v1.8h-8.2ZM320 566.5h8.2v2.7h-8.2ZM331 566.5h7v2.7h-7ZM310 571.7h7.5v4h-7.5ZM320 571.2h8.2v2.7h-8.2ZM341.1 571.2h6.9v2.7h-6.9ZM315 583h8v7.7h-8ZM336 583h12.4v7.7h-12.4ZM351.9 579.59h33.6v7.41h-33.6ZM351.9 570.45h22.7v9.14h-22.7ZM351.9 565.99h14.85v4.46h-14.85ZM351.9 562.3h14.85v3.69h-14.85ZM366.75 565.5h10.23v4.95h-10.23ZM366.75 562.3h11.93v3.2h-11.93ZM388.5 574.16h14.05v12.84h-14.05ZM446 575.51h21v5.49h-21ZM446 566.55h11.18v4.58h-11.18ZM446 562.3h11.18v4.25h-11.18ZM351.9 595.76h26.32v14.3h-26.32ZM393 591.6h28.28v8.4h-28.28ZM421.28 591.6h12.12v8.4h-12.12ZM393 603h20.2v14.6h-20.2ZM413.2 611.76h20.2v5.84h-20.2ZM413.2 603h10.1v8.76h-10.1ZM423.3 603h10.1v8.76h-10.1ZM458.5 591.8h8.5v1.2h-8.5ZM458.5 595.5h8.5v3.7h-8.5ZM436.2 613h30.8v4.6h-30.8ZM389.34 641.71h25.46v15.29h-25.46ZM351.9 620.6h17.35v10.56h-17.35ZM369.25 626.08h19.47v8.6h-19.47ZM402.43 627.53h12.37v7.15h-12.37ZM400.48 623.26h14.32v4.27h-14.32ZM400.48 620.6h14.32v2.66h-14.32ZM417.1 644.99h30.24v12.01h-30.24ZM417.1 635.52h19.19v9.46h-19.19ZM453.57 635.52h13.43v9.46h-13.43ZM417.1 620.6h26.56v7.04h-26.56ZM443.66 628.15h13.75v7.37h-13.75ZM457.4 628.15h9.6v7.37h-9.6ZM443.66 620.6h11.8v3.71h-11.8ZM351.8 660.9h14.97v9.1h-14.97ZM379.25 660.9h12.47v9.1h-12.47ZM403.8 660.9h15.25v9.1h-15.25ZM419.05 660.9h15.25v3.64h-15.25ZM453.5 661h14v1h-14ZM453.5 663.5h14v1.7h-14ZM469.5 661h10.1v1h-10.1ZM453.5 667.5h14v1.5h-14ZM436.5 676.6h27.5v3.4h-27.5ZM466 676.6h13.6v7.8h-13.6ZM379.52 690.28h22.18v10.22h-22.18ZM351.8 672.1h14.81v8.61h-14.81ZM366.61 683.81h17.54v6.46h-17.54ZM366.61 677.6h15.7v6.21h-15.7ZM393.51 676.99h8.19v6.82h-8.19ZM392.79 672.1h6.25v2.74h-6.25ZM399.04 672.1h2.66v2.74h-2.66ZM403.8 672.7h19.82v5.45h-19.82ZM423.62 673.81h10.68v5.63h-10.68ZM421.62 689.63h14.38v5.78h-14.38ZM436 690.56h7.4v4.85h-7.4ZM445.4 692.1h17.1v8.4h-17.1ZM462.5 694.9h17.1v5.6h-17.1ZM470.88 689.19h8.72v5.71h-8.72ZM462.5 686.5h9.45v2.69h-9.45ZM471.95 686.5h7.65v2.69h-7.65ZM351.8 721.93h20.98v14.17h-20.98ZM351.8 711.62h20.98v10.31h-20.98ZM372.78 727.35h18.53v8.75h-18.53ZM409.85 727.35h22.65v8.75h-22.65ZM372.78 702.6h20.02v7.73h-20.02ZM392.81 720.52h22.16v6.82h-22.16ZM406.62 714.26h13.12v6.27h-13.12ZM419.74 714.26h12.76v6.27h-12.76ZM392.81 702.6h9.52v5.8h-9.52ZM402.33 708.4h9.01v5.86h-9.01ZM402.33 702.6h9.01v5.8h-9.01ZM411.33 710.58h10.78v3.68h-10.78ZM411.33 702.6h7.25v3.42h-7.25ZM418.59 707.51h7.58v3.07h-7.58ZM424.28 704.8h4.46v2.71h-4.46ZM428.74 704.8h3.76v2.71h-3.76ZM434.7 715.33h44.9v20.77h-44.9ZM434.7 707.84h20.09v7.49h-20.09ZM434.7 702.6h20.09v5.24h-20.09ZM464.71 702.6h9.91v6.06h-9.91ZM474.62 704.37h4.98v4.29h-4.98ZM474.62 702.6h4.98v1.77h-4.98ZM424.29 784.1h25.41v10.1h-25.41ZM351.8 775h20.16v9.1h-20.16ZM392.11 775h20.16v9.1h-20.16ZM412.27 775h20.16v9.1h-20.16ZM351.8 758.83h27.01v16.17h-27.01ZM351.8 740.7h27.01v8.74h-27.01ZM434.29 767.44h15.41v7.56h-15.41ZM378.81 760.39h16.2v7.05h-16.2ZM409.5 760.5h14.36v6.94h-14.36ZM395.01 753.36h12.32v7.14h-12.32ZM395.01 740.7h12.32v6.08h-12.32ZM436 755.46h13.7v5.04h-13.7ZM407.33 750.26h12.01v5.21h-12.01ZM407.33 745.11h12.01v5.15h-12.01ZM407.33 740.7h12.01v4.41h-12.01ZM419.34 750.82h10.26v4.64h-10.26ZM439.72 750.82h9.98v4.64h-9.98ZM436.75 743.92h7.15v3.58h-7.15ZM443.9 743.92h5.8v3.58h-5.8ZM441.99 740.7h4.94v3.22h-4.94ZM446.93 740.7h2.77v3.22h-2.77ZM452.5 749.89h35.15v12.11h-35.15ZM487.64 752.05h25.66v9.95h-25.66ZM513.31 752.05h17.29v9.95h-17.29ZM487.64 744.95h17.46v7.09h-17.46ZM487.64 740.2h17.46v4.75h-17.46ZM516.64 742.47h10.36v3.64h-10.36ZM516.64 740.2h10.36v2.27h-10.36ZM527 740.2h3.6v5.91h-3.6ZM452.5 764h23.43v13h-23.43ZM504.7 785.86h25.9v8.14h-25.9ZM475.93 774.71h16.81v11.15h-16.81ZM513.74 778.35h16.86v7.5h-16.86ZM492.74 770.71h16.28v7.64h-16.28ZM509.02 772.02h10.89v6.33h-10.89ZM509.02 764h15.42v3.79h-15.42ZM524.44 767.21h6.16v4.81h-6.16ZM533.3 740.2h17.2v9.1h-17.2ZM553 740.5h10.5v7.5h-10.5ZM566 740.5h11v3h-11ZM533.3 769.2h26.7v11.8h-26.7ZM533.3 762.46h13.81v6.73h-13.81ZM533.3 751.5h13.44v5.04h-13.44ZM546.74 758.02h13.26v4.45h-13.26ZM546.74 753.64h13.26v4.37h-13.26ZM546.74 751.5h13.26v2.14h-13.26ZM562.5 751.5h11.25v7h-11.25ZM573.75 753.39h11.25v5.11h-11.25ZM562.5 775.6h22.5v5.4h-22.5ZM573.75 770.2h11.25v5.4h-11.25ZM573.75 767.5h11.25v2.7h-11.25ZM533.3 783.2h19.65v10.8h-19.65ZM552.95 783.2h15.51v10.8h-15.51ZM568.46 786.58h16.54v4.05h-16.54ZM568.46 783.2h9.36v3.37h-9.36ZM577.81 783.2h7.19v3.37h-7.19ZM494.15 569.7h23.85v5.9h-23.85ZM470.3 578.7h27.64v5.7h-27.64ZM497.94 578.7h20.06v5.7h-20.06ZM470.3 593.29h25.43v10.51h-25.43ZM470.3 587.6h25.43v5.69h-25.43ZM495.73 596.39h11.7v7.41h-11.7ZM495.73 591.3h10.82v5.09h-10.82ZM506.55 592.91h11.45v3.48h-11.45ZM506.55 590.19h11.45v2.73h-11.45ZM506.55 587.6h11.45v2.59h-11.45ZM470.3 608h29.17v8.08h-29.17ZM499.47 621.12h26.93v7.88h-26.93ZM514.16 611.5h12.24v9.62h-12.24ZM499.47 608h26.93v3.5h-26.93ZM470.3 632.9h36.42v10.46h-36.42ZM506.72 647.51h20.48v9.29h-20.48ZM521 562.1h16.12v4.2h-16.12ZM546.5 563h10v4.5h-10ZM546.5 570.5h10v1.1h-10ZM546.5 574h10v1h-10ZM567.5 562.5h3.5v1h-3.5ZM575 562h9v0.8h-9ZM560.5 567h10.5v1.5h-10.5ZM575 566.5h9v0.8h-9ZM575 573.5h9.5v1.7h-9.5ZM575 570.5h9v0.8h-9ZM568.6 578.9h9.22v4.9h-9.22ZM577.82 578.9h7.88v4.9h-7.88ZM521 588h12.5v1.5h-12.5ZM554 588h2.9v3h-2.9ZM559.9 587.5h26.1v3.94h-26.1ZM530.7 608h27.65v21h-27.65ZM558.35 608h13.82v10.08h-13.82ZM572.17 608h13.83v3.36h-13.83ZM531.8 644.85h32.52v11.95h-32.52ZM531.8 632.9h16.26v11.95h-16.26ZM548.06 632.9h23.85v5.43h-23.85ZM571.91 632.9h14.09v2.4h-14.09ZM522.48 662.21h6.32v3.19h-6.32ZM522.48 660.5h6.32v1.71h-6.32ZM569.5 660.5h9.91v4.9h-9.91ZM579.41 660.5h5.59v4.9h-5.59ZM565.09 698.83h19.71v11.23h-19.71ZM482.6 668.3h28.95v8.1h-28.95ZM511.55 688.45h22.73v10.38h-22.73ZM559.89 684.83h12.47v6.38h-12.47ZM559.89 679.47h13.1v5.36h-13.1Z" fill="#b81d24" stroke="#f4cbc6" stroke-width="0.3"/>
<path d="M43.2 562.5h30.02v10.13h-30.02ZM96.08 574.43h21.89v6.94h-21.89ZM117.97 562.5h14.6v9.08h-14.6ZM168.01 585.44h12.89v5.36h-12.89ZM132.57 580.07h12.2v5.37h-12.2ZM145.52 562.5h10.59v4.04h-10.59ZM172.84 570.85h8.06v4.77h-8.06ZM172.71 567.54h8.19v3.31h-8.19ZM117.88 634.59h22.36v9.81h-22.36ZM167.41 625.91h13.49v8.68h-13.49ZM152.19 618.37h15.14v7.54h-15.14ZM167.34 618.37h13.56v7.54h-13.56ZM127.13 613.31h13.44v5.06h-13.44ZM112.39 593.5h13.9v4.51h-13.9ZM126.29 598.26h12.32v4.9h-12.32ZM170.16 593.5h10.74v3.13h-10.74ZM140.26 710.65h27.89v18.45h-27.89ZM99.32 699.49h26.2v11.16h-26.2ZM125.52 699.49h24.07v11.16h-24.07ZM149.59 699.49h23.84v11.16h-23.84ZM152.13 690.85h21.79v8.64h-21.79ZM43.2 671.8h18.24v9.17h-18.24ZM43.2 663.03h18.24v8.77h-18.24ZM43.2 654.58h18.24v8.45h-18.24ZM43.2 646.8h18.24v7.78h-18.24ZM61.44 683.35h16.63v7.5h-16.63ZM61.44 675.99h16.63v7.36h-16.63ZM61.44 668.64h16.63v7.35h-16.63ZM61.44 654.01h16.63v7.3h-16.63ZM61.44 646.8h16.63v7.21h-16.63ZM78.07 683.23h15.34v7.62h-15.34ZM78.07 675.76h15.34v7.47h-15.34ZM78.07 668.43h15.34v7.33h-15.34ZM93.41 677.93h16.55v6.44h-16.55ZM93.41 671.49h16.55v6.43h-16.55ZM125.11 677.78h15.15v6.26h-15.15ZM140.26 677.78h14.16v6.26h-14.16ZM182.05 677.78h13.65v6.26h-13.65ZM123.18 665.25h12.59v6.22h-12.59ZM123.18 652.88h12.59v6.16h-12.59ZM123.18 646.8h12.59v6.08h-12.59ZM135.78 671.5h12.18v6.29h-12.18ZM160.04 671.5h12v6.29h-12ZM171.56 665.71h12.08v5.79h-12.08ZM147.37 660.91h14.46v4.8h-14.46ZM147.37 651.49h14.46v4.71h-14.46ZM147.37 646.8h14.46v4.69h-14.46ZM161.82 659.95h11.62v5.75h-11.62ZM161.82 655.37h13.62v4.59h-13.62ZM175.44 654.94h10.13v5.01h-10.13ZM186.35 650.43h9.35v4.51h-9.35ZM186.35 646.8h9.35v3.63h-9.35ZM43.2 744.71h36.07v20.12h-36.07ZM43.2 731.6h36.07v13.11h-36.07ZM111.1 731.6h26.56v10.73h-26.56ZM137.66 752.37h23.42v10.38h-23.42ZM161.07 754.96h22.44v7.79h-22.44ZM183.51 782.15h20.9v11.75h-20.9ZM183.51 764.72h20.9v8.59h-20.9ZM183.51 747.98h20.9v8.31h-20.9ZM183.51 739.78h20.9v8.2h-20.9ZM183.51 731.6h20.9v8.18h-20.9ZM277.53 786.28h17.79v7.62h-17.79ZM295.32 786.28h17.7v7.62h-17.7ZM295.49 779.04h17.58v7.24h-17.58ZM330.62 779.04h17.48v7.24h-17.48ZM333.26 771.36h14.84v7.68h-14.84ZM241.77 757.84h16.72v6.73h-16.72ZM258.5 731.6h15.56v6.45h-15.56ZM274.06 738.02h14.27v6.55h-14.27ZM274.06 731.6h14.27v6.42h-14.27ZM288.33 731.6h12.13v6.53h-12.13ZM198.2 715.01h40.64v13.29h-40.64ZM198.2 704.11h28.45v10.9h-28.45ZM255.43 704.11h28.78v10.9h-28.78ZM328.65 704.11h19.45v10.9h-19.45ZM198.2 695.51h18.74v8.6h-18.74ZM273.15 695.51h18.74v8.6h-18.74ZM291.89 695.51h18.74v8.6h-18.74ZM310.63 695.51h18.74v8.6h-18.74ZM198.2 688.6h16.66v6.91h-16.66ZM214.86 688.6h16.66v6.91h-16.66ZM264.82 688.6h16.66v6.91h-16.66ZM198.2 681.04h16.83v7.56h-16.83ZM198.2 660.09h16.83v6.94h-16.83ZM215.03 660.77h13.96v6.79h-13.96ZM228.99 676.55h15v6.01h-15ZM228.99 653.2h15v5.7h-15ZM228.99 647.5h15v5.7h-15ZM243.99 682.5h13.63v6.1h-13.63ZM243.99 664.9h13.63v5.82h-13.63ZM243.99 659.1h13.63v5.8h-13.63ZM243.99 653.29h13.63v5.8h-13.63ZM269.58 677.63h13.23v5.16h-13.23ZM296.04 677.63h13.13v5.16h-13.13ZM335.2 677.63h12.9v5.16h-12.9ZM269.58 672.5h12.93v5.13h-12.93ZM269.58 662.41h12.93v5.02h-12.93ZM269.58 657.39h12.93v5.01h-12.93ZM315.66 672.07h10.88v5.56h-10.88ZM326.54 672.07h10.79v5.56h-10.79ZM282.51 662.16h11.97v4.95h-11.97ZM282.51 652.37h11.97v4.89h-11.97ZM327.02 666.73h10.7v5.34h-10.7ZM294.48 657.08h11.16v4.82h-11.16ZM294.48 652.27h11.16v4.81h-11.16ZM305.63 661.91h10.93v4.82h-10.93ZM316.56 661.91h10.67v4.82h-10.67ZM305.63 657.06h9.36v4.86h-9.36ZM305.63 652.23h9.36v4.82h-9.36ZM305.63 647.5h9.36v4.73h-9.36ZM337.13 657.94h10.97v3.97h-10.97ZM315 652.71h8.2v5.23h-8.2ZM323.19 647.5h8.1v5.22h-8.1ZM219.98 567.22h13.88v7.38h-13.88ZM219.98 562.5h12.06v4.72h-12.06ZM204.43 601.09h19.37v8.91h-19.37ZM182.9 584.65h16.33v8.22h-16.33ZM199.23 593.06h29.85v8.03h-29.85ZM229.08 593.06h13.02v8.03h-13.02ZM199.23 582.12h15.67v4.83h-15.67ZM214.9 582.52h9.24v5.76h-9.24ZM224.14 584.11h10.06v4.17h-10.06ZM234.2 584.11h7.9v4.17h-7.9ZM224.14 580.34h8.69v3.77h-8.69ZM224.14 577.6h8.69v2.74h-8.69ZM182.9 632.52h23.54v11.77h-23.54ZM182.9 625.98h23.54v6.54h-23.54ZM182.9 612.9h23.54v6.54h-23.54ZM206.44 621.52h20.37v10.23h-20.37ZM246.29 637.21h18.65v7.09h-18.65ZM226.82 629.99h15.69v7.22h-15.69ZM242.51 629.99h14.07v7.22h-14.07ZM256.58 629.99h12.52v7.22h-12.52ZM226.82 624.01h13.92v5.98h-13.92ZM226.82 618.1h13.92v5.91h-13.92ZM240.74 624.13h10.64v5.86h-10.64ZM251.38 624.31h10.34v5.68h-10.34ZM261.72 624.31h9.92v5.68h-9.92ZM271.65 624.31h9.35v5.68h-9.35ZM251.38 620.03h11.31v4.28h-11.31ZM251.38 612.9h11.31v3.42h-11.31ZM262.7 620.52h9.6v3.79h-9.6ZM262.7 616.58h8.09v3.94h-8.09ZM270.79 618.17h10.21v2.35h-10.21ZM270.79 614.09h5.32v4.09h-5.32ZM276.11 614.09h4.89v4.09h-4.89ZM270.79 612.9h10.21v1.19h-10.21ZM244 562.9h13.05v11h-13.05ZM257.05 562.9h7.97v6h-7.97ZM265.03 562.9h7.98v2h-7.98ZM244 576.6h10.73v6.58h-10.73ZM244 600.33h21.79v9.57h-21.79ZM275.2 584.15h21.7v6.55h-21.7ZM275.2 575.1h11.22v9.05h-11.22ZM281.8 593h32.2v16.9h-32.2ZM317.2 593h31.2v6.76h-31.2ZM283.4 633.31h33.27v10.99h-33.27ZM316.67 633.31h31.43v10.99h-31.43ZM283.4 623.1h19.91v10.2h-19.91ZM303.31 618.02h15.44v5.65h-15.44ZM330.79 612.9h10.81v2.63h-10.81ZM341.6 615.55h6.5v3.28h-6.5ZM299.8 562.6h18.1v1.8h-18.1ZM331 562.6h3.6v1.8h-3.6ZM299.8 576.3h17.7v4.3h-17.7ZM331 571.2h6.7v2.7h-6.7ZM320 576.9h8.2v3.7h-8.2ZM341.1 576.9h6.9v3.7h-6.9ZM299.8 583h15.2v3.4h-15.2ZM374.6 570.45h10.9v9.14h-10.9ZM376.98 565.5h8.52v4.95h-8.52ZM378.68 562.3h6.82v3.2h-6.82ZM388.5 562.3h19.37v11.86h-19.37ZM407.87 568.23h13.83v5.93h-13.83ZM407.87 565.05h10.94v3.17h-10.94ZM407.87 562.3h10.94v2.75h-10.94ZM423.7 579.59h20.9v7.41h-20.9ZM423.7 569.71h20.9v4.94h-20.9ZM436.29 562.3h8.31v3.41h-8.31ZM446 580.99h21v6.01h-21ZM446 571.13h21v4.38h-21ZM457.18 567.1h9.82v4.03h-9.82ZM457.18 562.3h9.82v1.48h-9.82ZM351.9 610.06h38.1v7.54h-38.1ZM363.81 591.6h26.19v4.16h-26.19ZM436.2 591.8h19.8v1.2h-19.8ZM436.2 595.5h19.8v3.7h-19.8ZM453.5 601.8h6.5v4.7h-6.5ZM460 601.8h7v4.7h-7ZM351.9 631.16h17.35v10.56h-17.35ZM392.03 634.67h22.77v7.04h-22.77ZM436.29 635.52h17.27v9.46h-17.27ZM417.1 627.64h26.56v7.88h-26.56ZM455.46 624.64h11.54v3.51h-11.54ZM461.99 620.6h5.01v4.04h-5.01ZM366.77 660.9h12.47v9.1h-12.47ZM391.72 664.3h9.98v5.7h-9.98ZM391.72 660.9h9.98v3.4h-9.98ZM436.5 661h8.5v5.4h-8.5ZM470.5 664h8.5v2h-8.5ZM436.5 668.3h15v6.1h-15ZM469.5 668.5h10.1v5.1h-10.1ZM384.16 683.81h17.54v6.46h-17.54ZM366.61 672.1h15.7v5.5h-15.7ZM382.32 676.99h11.19v6.82h-11.19ZM423.62 679.44h10.68v5.06h-10.68ZM423.62 672.7h10.68v1.11h-10.68ZM403.8 686.5h17.82v14h-17.82ZM421.62 695.41h21.78v5.09h-21.78ZM421.62 686.5h14.38v3.13h-14.38ZM436 686.5h7.4v4.06h-7.4ZM351.8 702.6h20.98v9.02h-20.98ZM372.78 718.27h20.02v9.08h-20.02ZM414.96 720.52h17.54v6.82h-17.54ZM392.81 714.26h13.81v6.27h-13.81ZM392.81 708.4h9.52v5.86h-9.52ZM411.33 706.02h7.25v4.56h-7.25ZM426.16 707.51h6.34v3.07h-6.34ZM418.59 704.93h5.69v2.58h-5.69ZM428.71 702.6h3.79v2.2h-3.79ZM454.79 708.66h13.53v6.67h-13.53ZM468.32 708.66h11.28v6.67h-11.28ZM371.96 775h20.16v9.1h-20.16ZM432.42 775h17.28v9.1h-17.28ZM378.81 753.38h16.2v7.01h-16.2ZM378.81 746.99h16.2v6.38h-16.2ZM395.01 760.5h14.49v6.94h-14.49ZM423.86 760.5h12.98v6.94h-12.98ZM395.01 746.78h12.32v6.58h-12.32ZM429.6 750.82h10.12v4.64h-10.12ZM419.34 740.7h8.62v4.77h-8.62ZM427.96 747.5h11.71v3.33h-11.71ZM436.75 740.7h5.24v3.22h-5.24ZM452.5 740.2h35.15v9.69h-35.15ZM505.11 746.11h13.04v5.94h-13.04ZM505.11 740.2h11.53v5.91h-11.53ZM452.5 777h23.43v17h-23.43ZM492.74 778.35h21v7.5h-21ZM492.74 764h16.28v6.71h-16.28ZM519.91 772.02h10.69v6.33h-10.69ZM509.02 767.79h15.42v4.23h-15.42ZM524.44 764h6.16v3.21h-6.16ZM580 740.5h5v3h-5ZM547.11 762.46h12.89v6.73h-12.89ZM562.5 758.5h22.5v7h-22.5ZM573.75 751.5h11.25v1.89h-11.25ZM470.3 562.2h23.85v13.4h-23.85ZM506.93 562.2h11.07v7.5h-11.07ZM507.43 596.39h10.57v7.41h-10.57ZM499.47 611.5h14.69v9.62h-14.69ZM506.72 640.87h20.48v6.64h-20.48ZM582 568.5h4v1h-4ZM560.5 573.5h10.5v1.7h-10.5ZM540 588h11v3h-11ZM558.35 618.08h27.65v10.92h-27.65ZM482.6 660.5h39.88v4.9h-39.88ZM548.02 710.07h36.78v26.13h-36.78ZM482.6 698.83h29.54v11.23h-29.54ZM512.14 698.83h28.61v11.23h-28.61ZM540.74 698.83h24.35v11.23h-24.35ZM482.6 687.02h28.95v11.82h-28.95ZM511.55 677.46h22.73v10.99h-22.73ZM511.55 668.3h22.73v9.16h-22.73ZM534.28 680.49h25.61v8.13h-25.61ZM534.28 673.72h25.61v6.77h-25.61ZM573.44 691.21h11.36v7.62h-11.36ZM572.36 684.83h12.44v6.38h-12.44ZM572.99 679.47h11.81v5.36h-11.81ZM559.89 674.53h12.47v4.94h-12.47ZM572.36 674.53h12.44v4.94h-12.44ZM559.89 668.3h9.29v6.23h-9.29ZM569.18 668.3h8.26v6.23h-8.26ZM577.44 668.3h7.36v6.23h-7.36Z" fill="#f0820f" stroke="#f4cbc6" stroke-width="0.3"/>
<path d="M132.57 562.5h12.96v4.18h-12.96ZM145.52 566.54h10.59v4.25h-10.59ZM163.91 567.54h8.8v3.31h-8.8ZM43.2 593.5h43.6v10.69h-43.6ZM160.96 634.59h19.94v9.81h-19.94ZM86.8 625.91h23.18v8.68h-23.18ZM149.88 625.91h17.53v8.68h-17.53ZM121.91 618.37h15.14v7.54h-15.14ZM137.05 618.37h15.14v7.54h-15.14ZM86.8 608.15h13.44v5.16h-13.44ZM113.68 608.15h13.44v5.16h-13.44ZM154.01 608.15h13.44v5.16h-13.44ZM86.8 600.34h14.35v7.81h-14.35ZM112.39 602.66h13.9v5.49h-13.9ZM126.29 593.5h12.32v4.76h-12.32ZM138.61 603.23h11.24v4.92h-11.24ZM138.61 593.5h11.24v4.82h-11.24ZM149.85 598.37h8.68v4.9h-8.68ZM158.53 596.53h11.63v3.29h-11.63ZM158.53 593.5h11.63v3.03h-11.63ZM173.43 699.49h22.27v11.16h-22.27ZM43.2 680.97h18.24v9.87h-18.24ZM135.78 652.92h11.59v6.15h-11.59ZM183.64 665.71h12.06v5.79h-12.06ZM184.74 659.95h10.96v5.75h-10.96ZM161.82 646.8h13.62v4.01h-13.62ZM175.44 650.68h10.91v4.26h-10.91ZM79.27 781.67h31.83v12.23h-31.83ZM79.27 731.6h31.83v11.04h-31.83ZM111.1 781.95h26.56v11.95h-26.56ZM111.1 769.51h26.56v12.45h-26.56ZM111.1 742.33h26.56v8.94h-26.56ZM204.41 776.79h19.2v8.35h-19.2ZM204.41 769.08h19.2v7.7h-19.2ZM330.57 786.28h17.53v7.62h-17.53ZM277.71 779.04h17.77v7.24h-17.77ZM257.52 771.36h15.5v7.68h-15.5ZM241.77 764.58h16.72v6.78h-16.72ZM258.5 757.53h15.56v6.7h-15.56ZM333.66 751.84h14.44v5.86h-14.44ZM288.33 744.96h12.13v6.87h-12.13ZM300.45 746.64h15.08v5.2h-15.08ZM339.26 731.6h8.84v6.6h-8.84ZM326.87 715.01h21.23v13.29h-21.23ZM215.03 647.5h13.96v6.51h-13.96ZM228.99 670.59h15v5.97h-15ZM228.99 658.9h15v5.76h-15ZM284.34 682.79h13.13v5.82h-13.13ZM323.09 682.79h12.55v5.82h-12.55ZM309.16 677.63h13.06v5.16h-13.06ZM269.58 647.5h12.93v4.91h-12.93ZM316.2 666.73h10.82v5.34h-10.82ZM327.23 661.91h10.58v4.82h-10.58ZM326.15 657.94h10.98v3.97h-10.98ZM331.29 653.14h8.75v4.8h-8.75ZM182.9 592.87h16.33v8.22h-16.33ZM182.9 577.6h16.33v7.05h-16.33ZM199.23 577.6h15.67v4.52h-15.67ZM214.9 588.28h14.33v4.77h-14.33ZM229.23 588.28h12.87v4.77h-12.87ZM232.83 579.23h9.27v2.39h-9.27ZM232.83 577.6h9.27v1.63h-9.27ZM206.44 631.75h20.37v12.55h-20.37ZM240.74 612.9h10.64v5.59h-10.64ZM257.05 568.9h15.95v5h-15.95ZM259.04 593.4h8.36v6.93h-8.36ZM289.15 565.77h7.75v6.93h-7.75ZM335.92 599.76h12.48v10.14h-12.48ZM303.31 623.67h27.72v9.64h-27.72ZM318.75 612.9h12.04v4.28h-12.04ZM340.46 618.83h7.64v4.84h-7.64ZM330.79 615.53h10.81v3.3h-10.81ZM299.8 571.7h10.2v4h-10.2ZM299.8 586.4h15.2v4.3h-15.2ZM402.55 574.16h19.15v12.84h-19.15ZM418.8 562.3h2.9v5.93h-2.9ZM457.18 563.78h9.82v3.32h-9.82ZM351.9 591.6h11.91v4.16h-11.91ZM436.2 601.8h14.8v8.5h-14.8ZM351.9 641.71h37.44v15.29h-37.44ZM369.25 634.67h22.77v7.04h-22.77ZM369.25 620.6h19.47v5.48h-19.47ZM388.73 627.53h13.7v7.15h-13.7ZM388.73 620.6h11.76v6.93h-11.76ZM447.34 644.99h19.66v12.01h-19.66ZM443.66 624.31h11.8v3.84h-11.8ZM419.05 664.54h15.25v5.46h-15.25ZM445 662.5h6.5v3.9h-6.5ZM453.5 670.6h14v3h-14ZM436.5 680h27.5v4.4h-27.5ZM351.8 690.28h27.72v10.22h-27.72ZM392.79 674.84h8.91v2.15h-8.91ZM403.8 678.15h19.82v6.35h-19.82ZM445.4 686.5h17.1v5.6h-17.1ZM391.31 727.35h18.53v8.75h-18.53ZM422.11 710.58h10.39v3.68h-10.39ZM351.8 784.1h36.4v10.1h-36.4ZM388.2 784.1h36.09v10.1h-36.09ZM378.81 767.44h19.85v7.56h-19.85ZM398.66 767.44h18.05v7.56h-18.05ZM416.71 767.44h17.58v7.56h-17.58ZM378.81 740.7h16.2v6.29h-16.2ZM436.84 760.5h12.86v6.94h-12.86ZM421.92 755.46h14.09v5.04h-14.09ZM439.67 747.5h10.03v3.33h-10.03ZM427.96 743.99h8.79v3.51h-8.79ZM518.15 746.11h12.45v5.94h-12.45ZM475.93 785.86h28.77v8.14h-28.77ZM475.93 764h16.81v10.71h-16.81ZM566 745.5h19v2.1h-19ZM533.3 756.54h13.44v5.92h-13.44ZM562.5 767.5h11.25v8.1h-11.25ZM568.46 790.62h16.54v3.37h-16.54ZM494.15 562.2h12.78v7.5h-12.78ZM495.73 587.6h10.82v3.7h-10.82ZM470.3 616.08h29.17v12.92h-29.17ZM470.3 643.36h36.42v13.44h-36.42ZM506.72 632.9h11.95v7.97h-11.95ZM518.67 632.9h8.53v7.97h-8.53ZM521 566.3h16.12v4.8h-16.12ZM537.12 562.1h5.38v9h-5.38ZM521 577.03h21.5v7.07h-21.5ZM521 574h21.5v3.03h-21.5ZM560.5 562.5h4v1h-4ZM559.9 591.44h26.1v12.46h-26.1ZM564.32 644.85h21.68v11.95h-21.68ZM548.06 638.33h23.85v6.52h-23.85ZM571.91 639.29h14.09v5.56h-14.09ZM571.91 635.3h14.09v3.98h-14.09ZM531.5 660.5h17.86v4.9h-17.86ZM549.36 660.5h14.71v4.9h-14.71ZM564.06 660.5h2.74v4.9h-2.74ZM482.6 710.07h65.42v26.13h-65.42ZM482.6 676.4h28.95v10.62h-28.95ZM534.28 688.62h25.61v10.21h-25.61Z" fill="#a5caea" stroke="#f4cbc6" stroke-width="0.3"/>
<path d="M96.08 581.37h21.89v9.43h-21.89ZM96.08 562.5h21.89v5.7h-21.89ZM164.58 570.85h8.26v4.77h-8.26ZM163.91 562.5h10.23v2.44h-10.23ZM43.2 604.19h43.6v19.21h-43.6ZM168.15 710.65h27.55v18.45h-27.55ZM86.77 690.85h21.79v8.64h-21.79ZM78.07 653.95h15.34v7.23h-15.34ZM135.78 659.07h11.59v6.18h-11.59ZM147.37 665.71h12.11v5.79h-12.11ZM147.37 656.2h14.46v4.71h-14.46ZM173.44 659.95h11.29v5.75h-11.29ZM79.27 768h31.83v13.67h-31.83ZM183.51 756.3h20.9v8.42h-20.9ZM223.61 779.04h18.23v7.24h-18.23ZM223.61 731.6h18.17v6.67h-18.17ZM241.77 771.36h15.75v7.68h-15.75ZM258.5 751.01h15.56v6.52h-15.56ZM315.53 735.99h14.62v4.58h-14.62ZM238.84 715.01h32.26v13.29h-32.26ZM226.65 704.11h28.78v10.9h-28.78ZM235.68 695.51h18.74v8.6h-18.74ZM215.03 674.37h13.96v7.11h-13.96ZM271.07 682.79h13.27v5.82h-13.27ZM257.61 664.93h11.97v5.89h-11.97ZM315 657.94h11.15v3.97h-11.15ZM338 647.5h10.1v2.42h-10.1ZM251.38 616.32h11.31v3.71h-11.31ZM262.7 612.9h8.09v3.68h-8.09ZM265.03 564.9h7.97v4h-7.97ZM275.2 562.6h20.34v3.17h-20.34ZM295.54 562.6h1.36v3.17h-1.36ZM286.42 577.69h10.48v6.46h-10.48ZM286.42 575.1h10.48v2.59h-10.48ZM299.8 566.5h18.1v2.7h-18.1ZM337 563.5h5v0.9h-5ZM342 566.5h6v2.7h-6ZM331 576.9h7.7v3.7h-7.7ZM325.8 583h10.2v7.7h-10.2ZM423.7 574.65h20.9v4.94h-20.9ZM423.7 565.71h12.59v4h-12.59ZM423.7 562.3h12.59v3.41h-12.59ZM436.29 565.71h8.31v4h-8.31ZM378.22 595.76h11.78v14.3h-11.78ZM453.5 607.3h13.5v3h-13.5ZM455.46 620.6h6.53v4.04h-6.53ZM351.8 680.71h14.81v9.57h-14.81ZM382.32 672.1h10.47v4.89h-10.47ZM462.5 689.19h8.38v5.71h-8.38ZM372.78 710.33h20.02v7.93h-20.02ZM418.59 702.6h5.69v2.33h-5.69ZM424.28 702.6h4.43v2.2h-4.43ZM454.79 702.6h9.93v6.06h-9.93ZM351.8 749.44h27.01v9.39h-27.01ZM407.33 755.46h14.58v5.04h-14.58ZM419.34 745.47h8.62v5.36h-8.62ZM427.96 740.7h8.79v3.29h-8.79ZM521 592.8h26.92v11.1h-26.92ZM547.92 592.8h8.97v11.1h-8.97ZM572.17 611.36h13.82v6.72h-13.82ZM534.28 668.3h25.61v5.42h-25.61ZM559.89 691.21h13.55v7.62h-13.55Z" fill="#92c785" stroke="#f4cbc6" stroke-width="0.3"/>
<path d="M119.7 586h10.2M169.6 588.1h9M134 582.8h8.5M146.2 582.8h8.5M158.3 582.8h8.4M170.4 582.8h8.4M134.1 577.7h9.1M134.1 573.1h9.1M134.1 568.8h9.1M134.1 564.6h9.1M147 577.8h8.3M158.8 577.8h8.2M170.6 577.8h8.2M146.8 573.2h7.4M146.8 568.7h7.4M146.8 564.5h7.4M157.1 573.2h5.9M165.6 573.2h5.8M173.8 573.2h5.6M157 568.6h5.5M157 564.4h5.5M165 569.2h6.2M173.7 569.2h5.7M165.1 566.2h7.2M165.1 563.7h7.2M175 565.7h4.7M175 563.2h4.7M169 630.3h9.4M169 622.1h9.5M88.4 615.8h9.4M101.9 615.8h9.4M115.3 615.8h9.4M128.7 615.8h9.4M142.2 615.8h9.4M155.6 615.8h9.4M169.1 615.8h9.4M88.4 610.7h9.4M101.9 610.7h9.4M115.3 610.7h9.4M128.7 610.7h9.4M142.2 610.7h9.4M155.6 610.7h9.4M169.1 610.7h9.4M88.5 604.2h10M102.5 604.4h7.9M102.5 597.1h7.9M114.1 605.4h9.7M114.1 595.8h9.7M127.8 605.7h8.6M127.8 600.7h8.6M127.8 595.9h8.6M140 605.7h7.9M140 600.8h7.9M140 595.9h7.9M151.2 605.7h7.8M162.3 605.7h7.8M173.1 605.7h6.2M150.9 600.8h6.1M150.9 595.9h6.1M159.9 601.5h7.9M171.1 601.5h7.8M159.9 598.2h8.1M159.9 595h8.1M171.5 598.2h7.5M171.5 595.1h7.5M79.9 679.5h10.7M79.9 650.4h10.7M140.6 687.4h10.1M155.1 687.4h10M169.4 687.4h9.8M183.4 687.4h9.8M126.9 680.9h10.6M156.1 680.9h9.7M170 680.9h9.6M183.7 680.9h9.6M111.5 674.6h9.3M111.5 668.3h9.3M111.5 662.1h9.3M111.5 655.9h9.3M111.5 649.8h9.3M124.7 674.6h8.8M124.7 668.4h8.8M124.7 662.1h8.8M124.7 656h8.8M124.7 649.8h8.8M137.2 674.6h8.5M149.4 674.6h8.5M161.5 674.6h8.4M173.5 674.6h8.3M185.3 674.6h8.3M137.2 668.4h8.1M137.2 662.2h8.1M137.2 656h8.1M137.2 649.9h8.1M148.8 668.6h8.5M160.9 668.6h8.5M173 668.6h8.5M185.1 668.6h8.4M149.1 653.8h10.1M163.2 662.8h8.1M174.8 662.8h7.9M186.1 662.8h7.7M163.5 657.7h9.5M163.5 653.1h9.5M163.5 648.8h9.5M176.7 657.4h7.1M186.8 657.4h7.1M176.8 652.8h7.6M176.8 648.7h7.6M187.5 652.7h6.5M187.5 648.6h6.5M290 775.2h10.6M275.4 767.8h10.6M290.5 767.8h10.5M260.4 760.9h10.9M260.4 754.3h10.9M306.1 761h10.3M320.8 761h10.2M335.3 761h10.2M275.8 747.9h10M275.8 741.3h10M320.5 754.8h10.4M289.8 748.4h8.5M289.8 741.5h8.5M289.8 734.9h8.5M302.3 734.1h10.6M316.9 748.5h7.9M328.1 748.5h7.6M338.9 748.5h7.3M317.3 742.9h10.2M331.2 741.7h6.4M340.3 741.7h6.2M331.2 734.9h6.4M340.3 734.9h6.2M216.7 685h9.8M216.7 677.9h9.8M216.7 671h9.8M216.7 664.2h9.8M216.7 657.4h9.8M216.7 650.8h9.8M230.8 661.8h10.5M245.6 685.6h9.5M245.6 679.5h9.5M245.6 673.6h9.5M245.6 667.8h9.5M245.6 662h9.5M245.6 656.2h9.5M245.6 650.4h9.5M259.2 685.7h9.4M272.7 685.7h9.3M285.9 685.7h9.2M299 685.7h9M311.9 685.7h8.9M324.6 685.7h8.8M337.1 685.7h8.7M259 679.8h8.4M259 673.8h8.4M259 667.9h8.4M259 662h8.4M259 656.2h8.4M259 650.4h8.4M271.2 680.2h9.3M284.4 680.2h9.3M297.6 680.2h9.2M310.7 680.2h9.1M323.8 680.2h9.1M336.7 680.2h9M271.1 675.1h9M271.1 670h9M271.1 664.9h9M271.1 659.9h9M271.1 654.9h9M271.1 650h9M283.9 674.8h7.8M295 674.8h7.7M306 674.8h7.7M317 674.8h7.6M327.8 674.8h7.6M338.6 674.8h7.5M283.9 669.6h8.4M283.9 664.6h8.4M283.9 659.7h8.4M283.9 654.8h8.4M283.9 649.9h8.4M295.8 669.4h7.6M306.7 669.4h7.6M317.5 669.4h7.6M328.3 669.4h7.5M339 669.4h7.3M295.8 664.3h7.8M295.8 659.5h7.8M295.8 654.7h7.8M295.8 649.9h7.8M306.9 664.3h7.6M317.8 664.3h7.5M328.5 664.3h7.4M339 664.3h7.2M306.8 659.5h6.6M306.8 654.6h6.6M306.8 649.9h6.6M316.3 659.9h7.8M327.5 659.9h7.7M338.4 659.9h7.7M316 655.3h5.7M316 650.1h5.7M324.2 655.3h5.7M324.2 650.1h5.7M332.3 655.5h6.1M341 655.5h5.6M332.1 650.3h4.7M339.2 651.5h7.1M339.2 648.7h7.1M221.6 570.9h9.7M234.9 570.9h5.8M221.4 564.9h8.4M233.3 564.9h7M230.6 597.1h9.1M230.8 590.7h9M216 585.4h6.5M216 580.1h6.5M225.3 586.2h7M235.1 586.2h5.5M225.2 582.2h6.1M225.2 579h6.1M233.9 582.9h6.5M233.9 580.4h6.5M233.9 578.4h6.5M258.1 633.6h8.8M270.5 633.6h8.3M228.5 627h9.7M228.5 621.1h9.7M228.5 615.5h9.7M242 627.1h7.5M242 621.3h7.5M242 615.7h7.5M252.6 627.1h7.2M262.9 627.1h6.9M272.8 627.1h6.5M252.7 622.2h7.9M252.7 618.2h7.9M252.7 614.6h7.9M263.8 622.4h6.7M273.3 622.4h6.1M263.7 618.6h5.7M263.7 614.7h5.7M272 619.3h7.1M271.4 616.1h3.7M276.7 616.1h3.4M245.6 568.4h9.1M258 565.9h5.6M266 566.9h5.6M266 563.9h5.6M261.7 586.9h9M245.3 579.9h7.5M256 579.9h7.4M266.2 580.6h5.4M266.2 577.3h5.4M267.4 605.1h9.3M260 596.9h5.9M268.8 598.3h8.2M268.8 594.9h8.2M276.9 569.2h9.8M290.1 569.2h5.4M276.5 579.6h7.9M287.7 580.9h7.3M287.7 576.4h7.3M337.4 604.8h8.7M320.2 620.4h8.4M320.2 615h8.4M331.9 621.2h6.8M341.4 621.2h5.3M332.1 617.2h7.6M332.1 614.2h7.6M342.4 617.2h4.5M342.4 614.2h4.5M375.9 575h7.6M353.7 564.1h10.4M368 568h7.2M378 568h6M368.2 563.9h8.4M379.5 563.9h4.8M409.5 571.2h9.7M409.2 566.6h7.7M409.2 563.7h7.7M419.2 565.3h2M425.2 567.7h8.8M425.2 564h8.8M437.3 567.7h5.8M437.3 564h5.8M447.3 568.8h7.8M447.3 564.4h7.8M458.4 569.1h6.9M458.4 565.4h6.9M458.4 563h6.9M379.6 602.9h8.2M353.3 593.7h8.3M422.7 595.8h8.5M414.4 607.4h7.1M424.5 607.4h7.1M390.4 631.1h9.6M403.9 631.1h8.7M390.1 624.1h8.2M402.2 625.4h10M402.2 621.9h10M455.2 640.3h9.4M445.3 631.8h9.6M458.6 631.8h6.7M445.1 626.2h8.3M445.1 622.5h8.3M456.8 626.4h8.1M456.2 622.6h4.6M462.6 622.6h3.5M353.6 665.5h10.5M368.3 665.5h8.7M380.7 665.5h8.7M392.9 667.1h7M392.9 662.6h7M420.9 662.7h10.7M383.7 680.4h7.8M394.5 680.4h5.7M383.6 674.5h7.3M393.9 675.9h6.2M393.5 673.5h4.4M399.4 673.5h1.9M424.9 682h7.5M424.9 676.6h7.5M423.3 688.1h10.1M436.9 693h5.2M436.9 688.5h5.2M463.5 692h5.9M471.9 692h6.1M463.6 687.8h6.6M472.9 687.8h5.4M394.5 717.4h9.7M408.2 717.4h9.2M421.3 717.4h8.9M393.9 711.3h6.7M393.9 705.5h6.7M403.4 711.3h6.3M403.4 705.5h6.3M412.6 712.4h7.5M423.4 712.4h7.3M412.2 708.3h5.1M412.2 704.3h5.1M419.5 709h5.3M426.9 709h4.4M419.3 706.2h4M419.3 703.8h4M424.8 706.2h3.1M429.2 706.2h2.6M424.8 703.7h3.1M429.2 703.7h2.7M456.4 712h9.5M469.7 712h7.9M456 705.6h6.9M465.9 705.6h6.9M475.2 706.5h3.5M475.2 703.5h3.5M396.8 764h10.1M411.2 764h10.1M425.4 764h9.1M438.4 764h9M396.5 756.9h8.6M396.5 750.1h8.6M396.5 743.7h8.6M409.1 758h10.2M423.6 758h9.9M437.6 758h9.6M408.8 752.9h8.4M408.8 747.7h8.4M408.8 742.9h8.4M420.6 753.1h7.2M430.8 753.1h7.1M440.9 753.1h7M420.4 748.1h6M420.4 743.1h6M429.4 749.2h8.2M440.9 749.2h7M429 745.7h6.2M429 742.3h6.2M437.6 745.7h5M444.6 745.7h4.1M437.4 742.3h3.7M442.6 742.3h3.5M447.3 742.3h1.9M506.7 749.1h9.1M519.6 749.1h8.7M506.5 743.2h8.1M517.9 744.3h7.3M517.9 741.3h7.3M527.4 743.2h2.5M494.7 774.5h11.4M510.3 775.2h7.6M521.2 775.2h7.5M510.9 769.9h10.8M525.2 769.6h4.3M525.2 765.6h4.3M548.7 765.8h9M534.9 759.5h9.4M534.9 754h9.4M548.3 760.2h9.3M548.3 755.8h9.3M548.3 752.6h9.3M563.9 755h7.9M575.1 755.9h7.9M575.1 752.4h7.9M563.9 771.5h7.9M575.1 772.9h7.9M575.1 768.9h7.9M569.6 784.9h6.6M578.7 784.9h5M495.7 566h8.9M508.3 566h7.8M497.1 600.1h8.2M508.7 600.1h7.4M497 593.8h7.6M497 589.5h7.6M507.9 594.7h8M507.9 591.5h8M507.9 588.9h8M515.6 616.3h8.6M508.1 636.9h8.4M519.7 636.9h6M537.8 566.6h3.8M569.7 581.3h6.5M578.8 581.3h5.5M549 598.3h6.3M560 613h9.7M573.8 614.7h9.7M573.8 609.7h9.7M573.6 642.1h9.9M573.6 634.1h9.9M523.2 663.8h4.4M523.2 661.4h4.4M551.1 663h10.3M564.4 662.9h1.9M570.7 663h6.9M580.1 662.9h3.9M561.5 695h9.5M574.8 695h8M561.4 688h8.7M573.9 688h8.7M561.5 682.1h9.2M574.4 682.1h8.3M561.4 677h8.7M573.9 677h8.7M561 671.4h6.5M570.2 671.4h5.8M578.3 671.4h5.2" stroke="#fff" stroke-opacity="0.55" stroke-width="0.7" fill="none"/>
<g font-weight="bold" fill="#fff" fill-opacity="0.93"><text x="43.7" y="583" font-size="3.7">bin.brelichi03.06</text><text x="43.7" y="568.9" font-size="3.78">bin.Langur05.12</text><text x="73.7" y="587" font-size="2.79">bin.brelichi01.76</text><text x="73.7" y="577.4" font-size="2.51">bin.thibetana02.47</text><text x="73.7" y="568.1" font-size="2.79">bin.mulatta10.34</text><text x="96.6" y="587" font-size="2.72">bin.Langur08.13</text><text x="96.6" y="578.8" font-size="2.72">bin.Langur08.69</text><text x="96.6" y="572.2" font-size="2.67">bin.mulatta22.43</text><text x="96.6" y="566.3" font-size="2.67">bin.mulatta24.45</text><text x="118.5" y="577" font-size="1.73">bin.brelichi09.43</text><text x="118.5" y="567.6" font-size="1.73">bin.brelichi38.88</text><text x="133.1" y="588.9" font-size="2.19">bin.Langur07.108</text><text x="152.1" y="588.8" font-size="1.85">bin.brelichi01.116</text><text x="43.7" y="635.8" font-size="5.55">bin.Langur09.50</text><text x="43.7" y="615.9" font-size="5.99">bin.Langur17.2</text><text x="43.7" y="600.6" font-size="5.08">bin.brelichi07.106</text><text x="87.3" y="640.8" font-size="3.84">bin.brelichi18.82</text><text x="118.4" y="640.5" font-size="2.79">bin.Langur08.18</text><text x="140.7" y="640.3" font-size="2.37">bin.mulatta05.113</text><text x="161.5" y="640.4" font-size="2.6">bin.brelichi12.4</text><text x="87.3" y="631.1" font-size="2.4">bin.thibetana20.118</text><text x="110.5" y="631.2" font-size="2.73">bin.mulatta08.62</text><text x="132.9" y="630.9" font-size="1.89">bin.thibetana32.21</text><text x="150.4" y="630.9" font-size="1.79">bin.thibetana30.119</text><text x="87.3" y="622.9" font-size="2.04">bin.thibetana11.5</text><text x="104.9" y="622.9" font-size="2.16">bin.Langur08.47</text><text x="122.4" y="622.8" font-size="1.8">bin.mulatta12.65</text><text x="137.6" y="622.8" font-size="1.99">bin.Langur07.7</text><text x="152.7" y="622.7" font-size="1.73">bin.Langur28.115</text><text x="87.3" y="597.5" font-size="1.7">bin.brelichi15.31</text><text x="112.9" y="601" font-size="1.81">bin.Langur35.7</text><text x="43.7" y="722" font-size="6.03">bin.brelichi02.20</text><text x="91.9" y="721.8" font-size="5.48">bin.thibetana24.30</text><text x="140.8" y="721" font-size="3.29">bin.Langur01.110</text><text x="168.7" y="720.9" font-size="3.04">bin.thibetana02.84</text><text x="43.7" y="706.3" font-size="3.59">bin.brelichi03.80</text><text x="72.8" y="706.3" font-size="3.39">bin.Langur07.71</text><text x="99.8" y="706.3" font-size="3.46">bin.mulatta25.9</text><text x="126" y="706.1" font-size="2.94">bin.brelichi04.36</text><text x="150.1" y="706.1" font-size="2.98">bin.Langur09.81</text><text x="173.9" y="706" font-size="2.73">bin.mulatta08.11</text><text x="43.7" y="696" font-size="2.38">bin.thibetana27.93</text><text x="65.5" y="696.1" font-size="2.65">bin.mulatta33.82</text><text x="87.3" y="696.1" font-size="2.54">bin.thibetana08.3</text><text x="109.1" y="696" font-size="2.49">bin.brelichi34.116</text><text x="130.8" y="696.1" font-size="2.71">bin.Langur28.21</text><text x="152.6" y="696.2" font-size="2.86">bin.brelichi13.2</text><text x="174.4" y="696.2" font-size="2.92">bin.Langur18.8</text><text x="43.7" y="686.7" font-size="2.25">bin.Langur22.21</text><text x="43.7" y="677.1" font-size="2.07">bin.brelichi16.115</text><text x="43.7" y="668.1" font-size="2.05">bin.brelichi18.100</text><text x="43.7" y="659.5" font-size="2.1">bin.Langur10.107</text><text x="43.7" y="651.4" font-size="2.11">bin.Langur17.118</text><text x="61.9" y="687.7" font-size="1.79">bin.thibetana06.68</text><text x="61.9" y="680.3" font-size="1.79">bin.thibetana36.22</text><text x="61.9" y="673" font-size="2.04">bin.Langur24.33</text><text x="61.9" y="665.7" font-size="2.04">bin.Langur37.66</text><text x="61.9" y="658.4" font-size="1.99">bin.brelichi28.58</text><text x="61.9" y="651.1" font-size="1.86">bin.brelichi16.101</text><text x="78.6" y="687.7" font-size="1.87">bin.Langur10.98</text><text x="78.6" y="672.7" font-size="1.76">bin.Langur30.117</text><text x="78.6" y="665.4" font-size="1.83">bin.brelichi24.57</text><text x="78.6" y="658.2" font-size="1.87">bin.Langur10.27</text><text x="93.9" y="688.3" font-size="2.04">bin.Langur30.11</text><text x="93.9" y="681.9" font-size="2.03">bin.Langur06.30</text><text x="93.9" y="675.4" font-size="1.9">bin.Langur06.115</text><text x="93.9" y="669" font-size="1.98">bin.brelichi30.27</text><text x="93.9" y="662.7" font-size="2.03">bin.Langur13.30</text><text x="93.9" y="656.5" font-size="1.98">bin.mulatta27.80</text><text x="93.9" y="650.5" font-size="1.98">bin.brelichi06.99</text><text x="110.5" y="688.1" font-size="1.76">bin.Langur27.98</text><text x="125" y="688" font-size="1.72">bin.brelichi25.67</text><text x="110.5" y="681.5" font-size="1.81">bin.mulatta16.88</text><text x="140.8" y="681.5" font-size="1.73">bin.Langur11.50</text><text x="147.9" y="663.9" font-size="1.72">bin.brelichi13.96</text><text x="147.9" y="659.2" font-size="1.72">bin.mulatta14.83</text><text x="147.9" y="649.7" font-size="1.72">bin.brelichi06.19</text><text x="43.7" y="780.8" font-size="4.02">bin.thibetana17.81</text><text x="43.7" y="756.2" font-size="4.02">bin.thibetana21.17</text><text x="43.7" y="739.8" font-size="4.57">bin.Langur10.75</text><text x="79.8" y="789.1" font-size="3.75">bin.Langur15.100</text><text x="79.8" y="776.2" font-size="3.77">bin.Langur14.116</text><text x="79.8" y="763.3" font-size="3.96">bin.mulatta12.11</text><text x="79.8" y="750.5" font-size="3.77">bin.thibetana14.5</text><text x="79.8" y="738.4" font-size="3.53">bin.thibetana13.85</text><text x="111.6" y="788.9" font-size="2.75">bin.thibetana02.102</text><text x="111.6" y="777" font-size="3.51">bin.mulatta15.7</text><text x="111.6" y="765.1" font-size="3.36">bin.Langur11.78</text><text x="111.6" y="755.9" font-size="3.07">bin.mulatta02.112</text><text x="111.6" y="748" font-size="3.33">bin.Langur08.14</text><text x="111.6" y="738.3" font-size="3.9">bin.Langur6.2</text><text x="138.2" y="789.6" font-size="2.57">bin.thibetana07.18</text><text x="138.2" y="779.4" font-size="2.94">bin.Langur05.11</text><text x="138.2" y="768.9" font-size="2.74">bin.thibetana06.8</text><text x="138.2" y="758.6" font-size="2.92">bin.Langur02.24</text><text x="138.2" y="748.2" font-size="2.88">bin.mulatta11.75</text><text x="138.2" y="737.8" font-size="2.92">bin.Langur21.44</text><text x="161.6" y="791" font-size="2.74">bin.mulatta24.95</text><text x="161.6" y="783.2" font-size="2.8">bin.Langur37.78</text><text x="161.6" y="775.3" font-size="2.55">bin.mulatta04.109</text><text x="161.6" y="767.6" font-size="2.62">bin.Langur19.114</text><text x="161.6" y="759.7" font-size="2.46">bin.thibetana09.47</text><text x="161.6" y="752.1" font-size="2.95">bin.brelichi29.4</text><text x="161.6" y="744.2" font-size="2.74">bin.brelichi20.90</text><text x="161.6" y="736.5" font-size="2.74">bin.brelichi13.79</text><text x="184" y="788.9" font-size="2.54">bin.mulatta18.28</text><text x="184" y="778.6" font-size="2.59">bin.Langur29.27</text><text x="184" y="769.9" font-size="2.54">bin.brelichi32.96</text><text x="184" y="761.4" font-size="2.59">bin.Langur03.97</text><text x="184" y="753" font-size="2.59">bin.Langur07.51</text><text x="184" y="744.8" font-size="2.54">bin.brelichi04.88</text><text x="184" y="736.6" font-size="2.59">bin.Langur28.31</text><text x="204.9" y="790.3" font-size="2.32">bin.brelichi17.55</text><text x="204.9" y="781.7" font-size="2.17">bin.brelichi32.102</text><text x="204.9" y="773.8" font-size="2.5">bin.mulatta17.7</text><text x="204.9" y="766.2" font-size="2.56">bin.Langur29.6</text><text x="204.9" y="758.5" font-size="2.32">bin.brelichi37.77</text><text x="204.9" y="750.9" font-size="2.32">bin.mulatta23.76</text><text x="204.9" y="743.4" font-size="2.37">bin.Langur32.56</text><text x="204.9" y="736.1" font-size="2.5">bin.brelichi12.5</text><text x="224.1" y="790.9" font-size="2.22">bin.Langur26.41</text><text x="242.1" y="790.9" font-size="2.21">bin.Langur21.91</text><text x="260.1" y="790.8" font-size="2.16">bin.brelichi22.55</text><text x="278" y="790.9" font-size="2.19">bin.Langur19.52</text><text x="295.8" y="790.8" font-size="2.03">bin.Langur07.120</text><text x="313.5" y="790.8" font-size="2.03">bin.thibetana31.9</text><text x="331.1" y="790.8" font-size="1.89">bin.thibetana28.63</text><text x="224.1" y="783.4" font-size="2.25">bin.Langur19.99</text><text x="242.3" y="783.4" font-size="2.22">bin.Langur30.45</text><text x="260.3" y="783.4" font-size="2.15">bin.mulatta04.12</text><text x="278.2" y="783.4" font-size="2.19">bin.Langur29.98</text><text x="296" y="783.4" font-size="2.12">bin.brelichi24.62</text><text x="313.6" y="783.5" font-size="2.27">bin.brelichi01.9</text><text x="331.1" y="783.5" font-size="2.32">bin.Langur06.5</text><text x="224.1" y="776.3" font-size="1.97">bin.thibetana22.67</text><text x="224.1" y="769.5" font-size="2.24">bin.Langur16.14</text><text x="224.1" y="762.5" font-size="2.1">bin.Langur01.118</text><text x="224.1" y="755.8" font-size="2.24">bin.Langur05.14</text><text x="224.1" y="749" font-size="1.97">bin.thibetana02.74</text><text x="224.1" y="742.4" font-size="2.24">bin.Langur13.76</text><text x="224.1" y="735.7" font-size="2.1">bin.thibetana18.2</text><text x="242.3" y="775.9" font-size="1.92">bin.Langur28.62</text><text x="258" y="775.9" font-size="1.89">bin.Langur35.56</text><text x="273.5" y="775.8" font-size="1.81">bin.mulatta21.93</text><text x="303.8" y="775.8" font-size="1.79">bin.mulatta07.57</text><text x="318.8" y="775.8" font-size="1.82">bin.Langur04.61</text><text x="333.8" y="775.9" font-size="1.95">bin.Langur29.3</text><text x="242.3" y="768.7" font-size="2.01">bin.brelichi12.87</text><text x="242.3" y="761.9" font-size="1.92">bin.Langur12.114</text><text x="242.3" y="755.2" font-size="2.02">bin.brelichi13.11</text><text x="242.3" y="748.6" font-size="1.8">bin.thibetana03.30</text><text x="242.3" y="742.1" font-size="2.21">bin.Langur25.1</text><text x="242.3" y="735.6" font-size="2.05">bin.Langur07.57</text><text x="259" y="768.5" font-size="1.98">bin.Langur26.8</text><text x="304.2" y="768.4" font-size="1.77">bin.brelichi32.83</text><text x="319.1" y="768.5" font-size="1.9">bin.mulatta10.2</text><text x="333.9" y="768.4" font-size="1.78">bin.Langur09.78</text><text x="259" y="748.4" font-size="1.78">bin.Langur34.118</text><text x="259" y="741.9" font-size="1.86">bin.mulatta34.98</text><text x="259" y="735.5" font-size="1.9">bin.Langur17.32</text><text x="274.6" y="761.6" font-size="1.88">bin.Langur11.11</text><text x="289.7" y="761.6" font-size="1.93">bin.brelichi25.4</text><text x="274.6" y="755" font-size="1.73">bin.Langur26.75</text><text x="274.6" y="735.4" font-size="1.73">bin.Langur16.58</text><text x="288.8" y="755.4" font-size="1.88">bin.Langur22.93</text><text x="304.3" y="755.4" font-size="1.79">bin.brelichi36.92</text><text x="334.2" y="755.4" font-size="1.72">bin.mulatta28.19</text><text x="301" y="749.9" font-size="1.84">bin.Langur28.28</text><text x="301" y="744.7" font-size="1.84">bin.Langur23.25</text><text x="301" y="739.7" font-size="1.71">bin.Langur15.108</text><text x="316" y="738.9" font-size="1.78">bin.Langur01.60</text><text x="316" y="734.4" font-size="1.74">bin.brelichi01.45</text><text x="198.7" y="723.5" font-size="5.17">bin.Langur09.65</text><text x="239.3" y="723.1" font-size="3.99">bin.brelichi19.51</text><text x="271.6" y="722.9" font-size="3.55">bin.brelichi17.21</text><text x="300.4" y="722.8" font-size="3.31">bin.brelichi15.10</text><text x="327.4" y="722.5" font-size="2.48">bin.thibetana08.8</text><text x="198.7" y="710.7" font-size="3.36">bin.thibetana34.5</text><text x="227.1" y="710.5" font-size="2.6">bin.Rhinopithecus01.4</text><text x="255.9" y="710.9" font-size="3.82">bin.brelichi01.8</text><text x="284.7" y="710.6" font-size="3.1">bin.mulatta05.5</text><text x="308.3" y="710.4" font-size="2.54">bin.brelichi22.41</text><text x="329.2" y="710.4" font-size="2.41">bin.Langur21.70</text><text x="198.7" y="700.6" font-size="2.26">bin.brelichi07.87</text><text x="217.4" y="700.7" font-size="2.49">bin.Langur09.4</text><text x="236.2" y="700.6" font-size="2.26">bin.brelichi22.61</text><text x="254.9" y="700.6" font-size="2.13">bin.brelichi09.110</text><text x="273.7" y="700.6" font-size="2.31">bin.Langur25.86</text><text x="292.4" y="700.6" font-size="2.31">bin.Langur22.30</text><text x="311.1" y="700.6" font-size="2.17">bin.thibetana17.5</text><text x="329.9" y="700.6" font-size="2.31">bin.Langur32.35</text><text x="198.7" y="692.8" font-size="2.15">bin.brelichi20.7</text><text x="215.4" y="692.8" font-size="2.04">bin.Langur36.58</text><text x="232" y="692.8" font-size="2">bin.brelichi03.13</text><text x="248.7" y="692.8" font-size="2.17">bin.brelichi11.3</text><text x="265.3" y="692.8" font-size="2.06">bin.Langur11.53</text><text x="282" y="692.8" font-size="2.04">bin.Langur12.95</text><text x="298.6" y="692.8" font-size="2">bin.brelichi38.37</text><text x="315.3" y="692.7" font-size="1.9">bin.Langur36.102</text><text x="331.9" y="692.7" font-size="1.92">bin.Langur18.110</text><text x="198.7" y="685.5" font-size="1.81">bin.thibetana24.66</text><text x="198.7" y="678.2" font-size="2.06">bin.Langur05.73</text><text x="198.7" y="671.2" font-size="2.06">bin.Langur35.12</text><text x="198.7" y="664.2" font-size="1.81">bin.thibetana08.56</text><text x="198.7" y="657.5" font-size="2.02">bin.brelichi32.15</text><text x="198.7" y="651.1" font-size="1.91">bin.mulatta36.111</text><text x="229.5" y="686.3" font-size="1.92">bin.brelichi35.3</text><text x="229.5" y="680.2" font-size="1.83">bin.Langur04.64</text><text x="229.5" y="674.2" font-size="1.83">bin.Langur10.50</text><text x="229.5" y="668.3" font-size="1.84">bin.Langur11.48</text><text x="229.5" y="656.7" font-size="1.79">bin.brelichi35.62</text><text x="229.5" y="651" font-size="1.79">bin.brelichi10.77</text><text x="183.4" y="569.5" font-size="2.6">bin.brelichi15.85</text><text x="204.8" y="569.2" font-size="1.92">bin.Langur12.95</text><text x="183.4" y="606.5" font-size="2.68">bin.Langur08.66</text><text x="204.9" y="606.4" font-size="2.34">bin.mulatta32.62</text><text x="224.3" y="606.3" font-size="2.26">bin.Langur10.56</text><text x="183.4" y="597.7" font-size="2">bin.Langur03.20</text><text x="183.4" y="589.4" font-size="1.88">bin.Langur21.119</text><text x="183.4" y="581.8" font-size="1.96">bin.brelichi33.42</text><text x="199.7" y="598.2" font-size="3.13">bin.thibetana27.118</text><text x="199.7" y="590.7" font-size="1.91">bin.Langur07.33</text><text x="199.7" y="585.2" font-size="1.87">bin.mulatta26.69</text><text x="199.7" y="580.5" font-size="1.91">bin.Langur32.59</text><text x="215.4" y="591.3" font-size="1.7">bin.brelichi03.75</text><text x="183.4" y="639.3" font-size="2.58">bin.thibetana01.65</text><text x="183.4" y="630.2" font-size="2.58">bin.thibetana05.58</text><text x="183.4" y="623.7" font-size="2.94">bin.Langur03.30</text><text x="183.4" y="617.1" font-size="2.58">bin.thibetana30.77</text><text x="206.9" y="638.9" font-size="2.47">bin.mulatta29.37</text><text x="206.9" y="627.5" font-size="2.47">bin.brelichi01.78</text><text x="206.9" y="618.1" font-size="2.47">bin.brelichi12.52</text><text x="227.3" y="641.6" font-size="2.36">bin.brelichi37.27</text><text x="246.8" y="641.5" font-size="2.25">bin.brelichi38.64</text><text x="265.4" y="641.4" font-size="1.92">bin.brelichi38.29</text><text x="227.3" y="634.3" font-size="1.93">bin.Langur34.11</text><text x="243" y="634.2" font-size="1.7">bin.Langur31.95</text><text x="257.6" y="572.1" font-size="1.91">bin.mulatta26.76</text><text x="244.5" y="587.6" font-size="1.98">bin.Langur02.19</text><text x="244.5" y="606.1" font-size="2.71">bin.Langur08.65</text><text x="244.5" y="597.5" font-size="1.83">bin.Langur23.77</text><text x="275.7" y="564.9" font-size="1.96">bin.thibetana05.6</text><text x="275.7" y="588.3" font-size="2.64">bin.mulatta01.61</text><text x="282.3" y="602.8" font-size="3.98">bin.brelichi19.76</text><text x="317.7" y="605.6" font-size="2.26">bin.brelichi37.38</text><text x="317.7" y="597.8" font-size="3.94">bin.Langur31.21</text><text x="283.9" y="640.1" font-size="3.7">bin.thibetana17.59</text><text x="317.2" y="640.2" font-size="3.88">bin.brelichi16.67</text><text x="283.9" y="629.1" font-size="2.47">bin.Langur18.14</text><text x="283.9" y="618.8" font-size="2.41">bin.brelichi30.95</text><text x="303.8" y="629.7" font-size="3.41">bin.mulatta21.97</text><text x="331.5" y="629.2" font-size="2.1">bin.Langur16.46</text><text x="303.8" y="621.5" font-size="1.88">bin.Langur10.44</text><text x="303.8" y="616.1" font-size="1.84">bin.mulatta30.52</text><text x="352.4" y="584.7" font-size="3.99">bin.Langur17.113</text><text x="352.4" y="575.9" font-size="2.59">bin.brelichi27.105</text><text x="352.4" y="568.8" font-size="1.77">bin.mulatta12.94</text><text x="389" y="581.2" font-size="1.79">bin.mulatta12.1</text><text x="403" y="581.4" font-size="2.21">bin.Langur07.120</text><text x="389" y="569" font-size="2.34">bin.brelichi14.85</text><text x="424.2" y="584.2" font-size="2.6">bin.Langur19.14</text><text x="424.2" y="577.9" font-size="2.14">bin.thibetana07.108</text><text x="424.2" y="573.1" font-size="2.56">bin.mulatta11.31</text><text x="446.5" y="584.8" font-size="2.38">bin.mulatta06.105</text><text x="446.5" y="579.2" font-size="2.81">bin.Langur29.5</text><text x="446.5" y="574.1" font-size="2.17">bin.thibetana33.113</text><text x="352.4" y="615.5" font-size="4.67">bin.brelichi01.6</text><text x="352.4" y="604" font-size="3.1">bin.Langur11.100</text><text x="364.3" y="594.6" font-size="2.58">bin.Langur24.112</text><text x="393.5" y="597.1" font-size="3.75">bin.brelichi17.1</text><text x="393.5" y="611.2" font-size="2.5">bin.Langur06.26</text><text x="413.7" y="615.6" font-size="2.5">bin.Langur33.48</text><text x="436.7" y="616.3" font-size="2.85">bin.brelichi09.20</text><text x="352.4" y="651" font-size="4.65">bin.brelichi19.16</text><text x="389.8" y="650.4" font-size="2.99">bin.thibetana08.1</text><text x="352.4" y="637.2" font-size="2.13">bin.Langur23.25</text><text x="352.4" y="626.6" font-size="2.13">bin.Langur01.14</text><text x="369.8" y="639.1" font-size="2.65">bin.Langur07.108</text><text x="392.5" y="639.2" font-size="2.78">bin.brelichi28.81</text><text x="369.8" y="631.2" font-size="2.36">bin.brelichi35.86</text><text x="369.8" y="624.2" font-size="2.36">bin.mulatta33.38</text><text x="417.6" y="652.3" font-size="3.73">bin.mulatta14.59</text><text x="447.8" y="651.8" font-size="2.28">bin.thibetana05.2</text><text x="417.6" y="641.1" font-size="2.32">bin.brelichi03.19</text><text x="436.8" y="641" font-size="2.08">bin.brelichi16.12</text><text x="417.6" y="632.7" font-size="3.26">bin.mulatta16.99</text><text x="417.6" y="625.3" font-size="3.33">bin.Langur36.44</text><text x="404.3" y="666.1" font-size="1.86">bin.Langur07.34</text><text x="419.6" y="667.9" font-size="1.82">bin.brelichi34.55</text><text x="352.3" y="696.6" font-size="3.41">bin.mulatta21.58</text><text x="380" y="696.4" font-size="2.91">bin.brelichi17.7</text><text x="352.3" y="686.1" font-size="1.76">bin.mulatta15.18</text><text x="352.3" y="677" font-size="1.76">bin.brelichi07.98</text><text x="367.1" y="687.8" font-size="2.16">bin.Langur15.32</text><text x="384.7" y="687.8" font-size="2.02">bin.Langur09.115</text><text x="367.1" y="681.4" font-size="1.88">bin.brelichi08.19</text><text x="367.1" y="675.5" font-size="1.88">bin.brelichi24.29</text><text x="404.3" y="682.2" font-size="2.45">bin.Langur06.82</text><text x="404.3" y="676.3" font-size="2.4">bin.brelichi33.78</text><text x="404.3" y="694.1" font-size="1.81">bin.thibetana10.100</text><text x="422.1" y="698.9" font-size="2.65">bin.brelichi03.44</text><text x="422.1" y="693.1" font-size="1.71">bin.brelichi38.30</text><text x="445.9" y="696.9" font-size="1.85">bin.thibetana21.31</text><text x="445.9" y="690" font-size="2.05">bin.brelichi15.22</text><text x="463" y="698.4" font-size="2.05">bin.mulatta30.57</text><text x="352.3" y="729.9" font-size="2.55">bin.mulatta10.33</text><text x="352.3" y="717.6" font-size="2.29">bin.thibetana05.18</text><text x="352.3" y="708" font-size="2.55">bin.brelichi30.85</text><text x="373.3" y="732.5" font-size="2.24">bin.mulatta16.79</text><text x="391.8" y="732.5" font-size="2.24">bin.brelichi02.67</text><text x="410.3" y="732.7" font-size="2.76">bin.brelichi07.53</text><text x="373.3" y="723.7" font-size="2.48">bin.Langur23.99</text><text x="373.3" y="715.2" font-size="2.43">bin.mulatta27.20</text><text x="373.3" y="707.3" font-size="2.43">bin.mulatta12.95</text><text x="393.3" y="725" font-size="2.97">bin.Langur05.1</text><text x="415.5" y="724.7" font-size="2.17">bin.Langur11.71</text><text x="435.2" y="727.7" font-size="5.6">bin.brelichi17.18</text><text x="435.2" y="712.5" font-size="2.49">bin.Langur17.20</text><text x="435.2" y="706.1" font-size="2.62">bin.mulatta09.7</text><text x="352.3" y="790.9" font-size="4.86">bin.brelichi70.6</text><text x="388.7" y="790.8" font-size="4.58">bin.Langur17.13</text><text x="424.8" y="790.4" font-size="3.43">bin.Langur01.5</text><text x="352.3" y="780.4" font-size="2.5">bin.Langur06.83</text><text x="372.5" y="780.4" font-size="2.36">bin.Langur02.111</text><text x="392.6" y="780.4" font-size="2.44">bin.mulatta23.13</text><text x="412.8" y="780.4" font-size="2.5">bin.Langur34.52</text><text x="432.9" y="780.3" font-size="2.12">bin.Langur20.62</text><text x="352.3" y="768" font-size="3.12">bin.brelichi24.113</text><text x="352.3" y="755.2" font-size="3.12">bin.brelichi27.116</text><text x="352.3" y="746.2" font-size="3.32">bin.mulatta30.77</text><text x="379.3" y="772" font-size="2.25">bin.brelichi04.106</text><text x="399.2" y="772" font-size="2.18">bin.brelichi32.91</text><text x="417.2" y="772" font-size="2.12">bin.brelichi18.92</text><text x="434.8" y="771.9" font-size="1.84">bin.brelichi16.35</text><text x="379.3" y="764.6" font-size="1.98">bin.Langur26.36</text><text x="379.3" y="757.5" font-size="1.74">bin.thibetana21.40</text><text x="379.3" y="750.9" font-size="1.98">bin.Langur31.16</text><text x="379.3" y="744.5" font-size="1.82">bin.brelichi09.116</text><text x="453" y="757.2" font-size="3.68">bin.thibetana20.109</text><text x="453" y="746.6" font-size="4.45">bin.Langur17.33</text><text x="488.1" y="758.1" font-size="3.15">bin.brelichi22.87</text><text x="513.8" y="757.8" font-size="2.08">bin.brelichi02.73</text><text x="488.1" y="749.2" font-size="1.99">bin.brelichi11.110</text><text x="488.1" y="743.3" font-size="2.02">bin.Langur15.110</text><text x="453" y="786.5" font-size="2.86">bin.mulatta01.13</text><text x="453" y="771.4" font-size="2.57">bin.thibetana17.57</text><text x="476.4" y="791.2" font-size="3.54">bin.brelichi31.30</text><text x="505.2" y="791.1" font-size="3.25">bin.Langur30.14</text><text x="476.4" y="781" font-size="2.06">bin.Langur26.63</text><text x="476.4" y="770" font-size="1.91">bin.mulatta11.116</text><text x="493.2" y="783" font-size="2.55">bin.mulatta05.58</text><text x="514.2" y="782.7" font-size="1.71">bin.thibetana13.100</text><text x="493.2" y="768" font-size="1.83">bin.brelichi35.113</text><text x="509.5" y="766.5" font-size="1.84">bin.brelichi32.39</text><text x="533.8" y="745.4" font-size="1.86">bin.thibetana19.73</text><text x="533.8" y="776.2" font-size="3.28">bin.brelichi18.94</text><text x="533.8" y="766.4" font-size="1.76">bin.brelichi36.3</text><text x="563" y="763" font-size="2.8">bin.Langur16.19</text><text x="563" y="779.2" font-size="2.46">bin.thibetana34.73</text><text x="533.8" y="789.5" font-size="2.56">bin.mulatta37.3</text><text x="553.4" y="789.2" font-size="1.85">bin.brelichi35.15</text><text x="569" y="793" font-size="2.03">bin.Langur27.89</text><text x="569" y="789.3" font-size="2.03">bin.Langur32.36</text><text x="470.8" y="570" font-size="3.14">bin.brelichi01.1</text><text x="494.7" y="573.7" font-size="2.98">bin.Langur24.16</text><text x="470.8" y="582.7" font-size="3.24">bin.Langur31.104</text><text x="498.4" y="582.4" font-size="2.49">bin.Langur34.32</text><text x="470.8" y="599.7" font-size="3.19">bin.Langur33.90</text><text x="470.8" y="591.5" font-size="3.12">bin.mulatta02.54</text><text x="470.8" y="623.7" font-size="3.23">bin.thibetana03.68</text><text x="470.8" y="613.2" font-size="3.36">bin.brelichi21.105</text><text x="500" y="626.2" font-size="3.31">bin.brelichi07.58</text><text x="500" y="616.9" font-size="1.75">bin.brelichi19.31</text><text x="500" y="610.5" font-size="2.17">bin.Langur16.18</text><text x="470.8" y="651.5" font-size="4.06">bin.thibetana23.26</text><text x="470.8" y="639.7" font-size="4.52">bin.mulatta06.27</text><text x="507.2" y="653" font-size="2.34">bin.mulatta11.105</text><text x="507.2" y="645" font-size="2.23">bin.thibetana15.25</text><text x="521.5" y="569.4" font-size="1.97">bin.Langur12.36</text><text x="521.5" y="564.9" font-size="1.93">bin.brelichi25.50</text><text x="521.5" y="581.4" font-size="2.35">bin.thibetana26.90</text><text x="521.5" y="576.2" font-size="1.88">bin.brelichi07.71</text><text x="521.5" y="599.5" font-size="3.31">bin.brelichi03.13</text><text x="560.4" y="598.8" font-size="3.27">bin.Langur01.88</text><text x="560.4" y="590.3" font-size="2.44">bin.mulatta33.39</text><text x="531.2" y="619.6" font-size="3.05">bin.thibetana30.16</text><text x="558.9" y="624.8" font-size="3.66">bin.mulatta37.8</text><text x="532.3" y="652.3" font-size="4.11">bin.Langur18.46</text><text x="564.8" y="651.7" font-size="2.64">bin.brelichi26.99</text><text x="532.3" y="639.5" font-size="1.83">bin.mulatta27.113</text><text x="548.6" y="642.6" font-size="2.78">bin.Langur36.106</text><text x="548.6" y="636.6" font-size="2.92">bin.mulatta34.42</text><text x="572.4" y="637.9" font-size="1.71">bin.Langur21.67</text><text x="483.1" y="664" font-size="3.04">bin.mulatta09.113</text><text x="532" y="663.7" font-size="2.2">bin.Langur13.85</text><text x="483.1" y="725.8" font-size="7.68">bin.brelichi21.101</text><text x="548.5" y="724.8" font-size="4.67">bin.Langur06.13</text><text x="483.1" y="705.7" font-size="3.49">bin.thibetana05.8</text><text x="512.6" y="705.7" font-size="3.52">bin.brelichi06.17</text><text x="541.2" y="705.6" font-size="3.21">bin.mulatta02.9</text><text x="565.6" y="705.4" font-size="2.63">bin.Langur18.8</text><text x="483.1" y="694.3" font-size="3.84">bin.mulatta04.2</text><text x="483.1" y="683.1" font-size="3.93">bin.Langur16.8</text><text x="483.1" y="673.5" font-size="3.42">bin.thibetana06.5</text><text x="512.1" y="694.6" font-size="2.64">bin.Langur36.102</text><text x="512.1" y="683.9" font-size="2.83">bin.Langur09.64</text><text x="512.1" y="673.8" font-size="2.66">bin.Langur03.118</text><text x="534.8" y="694.9" font-size="3.38">bin.brelichi31.3</text><text x="534.8" y="685.7" font-size="3.14">bin.mulatta25.99</text><text x="534.8" y="678.2" font-size="3.21">bin.Langur03.75</text><text x="534.8" y="672.1" font-size="3.21">bin.Langur31.21</text></g>
<g font-style="italic" fill="#000"><text x="43.7" y="576.5" font-size="19.34" textLength="136.4" lengthAdjust="spacingAndGlyphs">Aristaeellaceae</text><text x="43.7" y="605.7" font-size="16.64" textLength="136.2" lengthAdjust="spacingAndGlyphs">Ruminococcaceae</text><text x="43.7" y="659.8" font-size="17.89" textLength="152.2" lengthAdjust="spacingAndGlyphs">Acutalibacteraceae</text><text x="43.7" y="762.1" font-size="43.26" textLength="304.5" lengthAdjust="spacingAndGlyphs">Oscillospiraceae</text><text x="198.7" y="661.8" font-size="19.76" textLength="146.5" lengthAdjust="spacingAndGlyphs">Lachnospiraceae</text><text x="183.4" y="572.2" font-size="13.1" textLength="56.5" lengthAdjust="spacingAndGlyphs">UBA1381</text><text x="183.4" y="587.3" font-size="13" textLength="56.2" lengthAdjust="spacingAndGlyphs">CAG−272</text><text x="183.4" y="628.6" font-size="21.84" textLength="95.6" lengthAdjust="spacingAndGlyphs">CAG−508</text><text x="244.5" y="566.6" font-size="4.36" textLength="27.5" lengthAdjust="spacingAndGlyphs">Borkfalkiaceae</text><text x="244.5" y="580.1" font-size="4.02" textLength="27.5" lengthAdjust="spacingAndGlyphs">Monoglobaceae</text><text x="244.5" y="597.1" font-size="4.34" textLength="33.6" lengthAdjust="spacingAndGlyphs">Butyricicoccaceae</text><text x="275.7" y="566.6" font-size="4.75" textLength="20.2" lengthAdjust="spacingAndGlyphs">CAG−917</text><text x="275.7" y="579.1" font-size="4.75" textLength="20.2" lengthAdjust="spacingAndGlyphs">CAG−465</text><text x="282.3" y="598.3" font-size="6.68" textLength="30.7" lengthAdjust="spacingAndGlyphs">RGIG9151</text><text x="317.7" y="598.5" font-size="6.99" textLength="29.7" lengthAdjust="spacingAndGlyphs">CAG−138</text><text x="283.9" y="619" font-size="7.83" textLength="63.2" lengthAdjust="spacingAndGlyphs">Anaerovoracaceae</text><text x="300.2" y="575.2" font-size="3.6">GIM1282</text><text x="300.2" y="585.6" font-size="3.2">Christensenellaceae</text><text x="326.4" y="588.8" font-size="6.2" textLength="21.6" lengthAdjust="spacingAndGlyphs">CAG−382</text><text x="352.4" y="566.1" font-size="4.48" textLength="32.1" lengthAdjust="spacingAndGlyphs">Lactobacillaceae</text><text x="389" y="566.1" font-size="4.49" textLength="31.7" lengthAdjust="spacingAndGlyphs">Planococcaceae</text><text x="424.2" y="565.7" font-size="3.95" textLength="19.4" lengthAdjust="spacingAndGlyphs">Bacillaceae</text><text x="352.4" y="595.9" font-size="5.27" textLength="36.6" lengthAdjust="spacingAndGlyphs">Micrococcaceae</text><text x="393.5" y="595.5" font-size="4.58" textLength="38.9" lengthAdjust="spacingAndGlyphs">Cellulomonadaceae</text><text x="393.5" y="607.1" font-size="4.95" textLength="38.9" lengthAdjust="spacingAndGlyphs">Microbacteriaceae</text><text x="352.4" y="624.9" font-size="5.2" textLength="40.6" lengthAdjust="spacingAndGlyphs">Mycobacteriaceae</text><text x="417.6" y="624.5" font-size="4.58" textLength="41.3" lengthAdjust="spacingAndGlyphs">Propionibacteriaceae</text><text x="352.3" y="665.7" font-size="5.96" textLength="48.4" lengthAdjust="spacingAndGlyphs">Rhodobacteraceae</text><text x="404.3" y="664.2" font-size="3.72" textLength="29" lengthAdjust="spacingAndGlyphs">Caulobacteraceae</text><text x="436.8" y="664.0" font-size="3.4">CAG−239</text><text x="437.0" y="672.3" font-size="3.0">Beijerinckiaceae</text><text x="437.0" y="679.6" font-size="3.2">Cellvibrionaceae</text><text x="352.3" y="677.8" font-size="7.28" textLength="45.5" lengthAdjust="spacingAndGlyphs">Moraxellaceae</text><text x="404.3" y="675.7" font-size="3.37" textLength="29" lengthAdjust="spacingAndGlyphs">Xanthomonadaceae</text><text x="404.3" y="690.3" font-size="4.57" textLength="38.1" lengthAdjust="spacingAndGlyphs">Enterobacteriaceae</text><text x="445.9" y="689.7" font-size="3.6" textLength="32.7" lengthAdjust="spacingAndGlyphs">Sphingomonadaceae</text><text x="352.3" y="710.4" font-size="10.3" textLength="79.6" lengthAdjust="spacingAndGlyphs">Burkholderiaceae</text><text x="352.3" y="751.3" font-size="14.35" textLength="97" lengthAdjust="spacingAndGlyphs">Bacteroidaceae</text><text x="453" y="755.5" font-size="21.22" textLength="76.2" lengthAdjust="spacingAndGlyphs">UBA932</text><text x="453" y="771.6" font-size="9.98" textLength="67.8" lengthAdjust="spacingAndGlyphs">Muribaculaceae</text><text x="533.8" y="747.1" font-size="8.94" textLength="10.5" lengthAdjust="spacingAndGlyphs">P3</text><text x="533.8" y="755" font-size="4.06" textLength="25.7" lengthAdjust="spacingAndGlyphs">Tannerellaceae</text><text x="563" y="754.8" font-size="3.74" textLength="21.5" lengthAdjust="spacingAndGlyphs">Rikenellaceae</text><text x="563" y="770.6" font-size="3.54" textLength="21" lengthAdjust="spacingAndGlyphs">Marinifilaceae</text><text x="533.8" y="787.8" font-size="5.62" textLength="50.7" lengthAdjust="spacingAndGlyphs">Sphingobacteriaceae</text><text x="470.8" y="565.7" font-size="4.06" textLength="29.9" lengthAdjust="spacingAndGlyphs">Unknown_Family</text><text x="470.8" y="591.8" font-size="5.1" textLength="46.5" lengthAdjust="spacingAndGlyphs">Methanobacteriaceae</text><text x="470.8" y="617" font-size="12.06" textLength="47.5" lengthAdjust="spacingAndGlyphs">UBA1067</text><text x="470.8" y="638.3" font-size="6.86" textLength="52" lengthAdjust="spacingAndGlyphs">Brachyspiraceae</text><text x="521.5" y="565.2" font-size="3.43" textLength="19.4" lengthAdjust="spacingAndGlyphs">Chloroflexota</text><text x="521.5" y="581" font-size="9.15" textLength="20.5" lengthAdjust="spacingAndGlyphs">NS−4</text><text x="521.5" y="599.9" font-size="9.26" textLength="35" lengthAdjust="spacingAndGlyphs">Gp7−AA6</text><text x="560.4" y="591.5" font-size="4.78" textLength="25.1" lengthAdjust="spacingAndGlyphs">GWC2−71−9</text><text x="531.2" y="611.9" font-size="4.68" textLength="54" lengthAdjust="spacingAndGlyphs">Gastranaerophilaceae</text><text x="532.3" y="637.1" font-size="5.1" textLength="43.6" lengthAdjust="spacingAndGlyphs">Selenomonadaceae</text><text x="483.1" y="664" font-size="4.06" textLength="38" lengthAdjust="spacingAndGlyphs">Erysipelotrichaceae</text><text x="532" y="664" font-size="4.06" textLength="30" lengthAdjust="spacingAndGlyphs">Coprobacillaceae</text><text x="483.1" y="688.2" font-size="27.87" textLength="101.8" lengthAdjust="spacingAndGlyphs">UBA660</text></g>
<g font-weight="bold" fill="#000" text-anchor="middle"><text x="196.7" y="694.1" font-size="55.74" textLength="307.3" lengthAdjust="spacingAndGlyphs">Bacillota_A</text><text x="409" y="584" font-size="26" textLength="113.6" lengthAdjust="spacingAndGlyphs">Bacillota</text><text x="409" y="627.8" font-size="15.18" textLength="114.3" lengthAdjust="spacingAndGlyphs">Actinomycetota</text><text x="415.6" y="703.9" font-size="14.77" textLength="127.6" lengthAdjust="spacingAndGlyphs">Pseudomonadota</text><text x="467.1" y="780.8" font-size="35.88" textLength="232" lengthAdjust="spacingAndGlyphs">Bacteroidota</text><text x="494.1" y="571.1" font-size="6.14" textLength="47" lengthAdjust="spacingAndGlyphs">Thermoproteota</text><text x="494.1" y="583.4" font-size="5.41" textLength="47.6" lengthAdjust="spacingAndGlyphs">Campylobacterota</text><text x="494" y="592.6" font-size="5.0" textLength="45" lengthAdjust="spacingAndGlyphs">Halobacteriota</text><text x="498.4" y="621.1" font-size="6.34" textLength="56.6" lengthAdjust="spacingAndGlyphs">Verrucomicrobiota</text><text x="498.8" y="647.5" font-size="8.42" textLength="56.4" lengthAdjust="spacingAndGlyphs">Spirochaetota</text><text x="555.7" y="583.3" font-size="5.62" textLength="18.6" lengthAdjust="spacingAndGlyphs">CSP1-3</text><text x="558.3" y="621.1" font-size="7.18" textLength="55" lengthAdjust="spacingAndGlyphs">Cyanobacteriota</text><text x="558.9" y="647.8" font-size="9.98" textLength="53" lengthAdjust="spacingAndGlyphs">Bacillota_C</text><text x="533.6" y="704.6" font-size="19.34" textLength="101.5" lengthAdjust="spacingAndGlyphs">Bacillota_I</text></g>
<path d="M152.7 406.3A59.5 59.5 0 1 1 102.37 434.06L121.74 446.28A36.6 36.6 0 1 0 152.7 429.2Z" fill="#778bab" stroke="#fff" stroke-width="1.6" stroke-linejoin="round"/>
<path d="M102.37 434.06A59.5 59.5 0 0 1 152.7 406.3L152.7 429.2A36.6 36.6 0 0 0 121.74 446.28Z" fill="#e06a5b" stroke="#fff" stroke-width="1.6" stroke-linejoin="round"/>
<text x="152.7" y="463.8" font-size="11.5" font-weight="bold" text-anchor="middle" fill="#111">Total:</text>
<text x="152.7" y="475.6" font-size="11.5" font-weight="bold" text-anchor="middle" fill="#111">1477</text>
<text x="69.3" y="403.9" font-size="9.3" font-weight="bold" fill="#333" textLength="59" lengthAdjust="spacingAndGlyphs">Known SGBs</text>
<text x="72.3" y="415.2" font-size="7.2" font-weight="bold" fill="#333" textLength="49" lengthAdjust="spacingAndGlyphs">(n=237 , 16%)</text>
<path d="M88 406.3H122L123.5 412" fill="none" stroke="#e9a59c" stroke-width="0.5"/>
<text x="189.3" y="521.6" font-size="9.3" font-weight="bold" fill="#333" textLength="70.6" lengthAdjust="spacingAndGlyphs">Unknown SGBs</text>
<text x="192.8" y="533.1" font-size="7.2" font-weight="bold" fill="#333" textLength="53.6" lengthAdjust="spacingAndGlyphs">(n=1240 , 84%)</text>
<path d="M182.4 519.5L183 524.5H223" fill="none" stroke="#b9c5dd" stroke-width="0.6"/>
<path d="M428.3 451.9L428.5 450.5L428.7 449.1L428.8 447.8L428.9 446.4L428.9 445L428.9 443.6L428.8 442.2L428.7 440.9L428.5 439.5L428.3 438.1L428 436.8L427.7 435.4L427.4 434.1L427 432.8L426.5 431.5L426 430.2L425.5 428.9L424.9 427.6L424.3 426.4L423.6 425.2L422.9 424L422.1 422.9L421.3 421.7L420.5 420.6L419.6 419.5L418.7 418.5L417.8 417.5L416.8 416.5L415.8 415.6L414.8 414.7L413.7 413.8L412.6 413L411.4 412.2L410.3 411.4L409.1 410.7L407.9 410L406.7 409.4L405.4 408.8L404.1 408.3L402.8 407.8L401.5 407.3L400.2 406.9L398.9 406.6L397.5 406.3L396.2 406L394.8 405.8L393.4 405.6L392.1 405.5L390.7 405.4L389.3 405.4L387.9 405.4L386.5 405.5L385.2 405.6L383.8 405.8L382.4 406L381.1 406.3L379.7 406.6L378.4 406.9L377.1 407.3L375.8 407.8L374.5 408.3L373.2 408.8L371.9 409.4L370.7 410L369.5 410.7L368.3 411.4L367.2 412.2L366 413L364.9 413.8L363.8 414.7L362.8 415.6L361.8 416.5L360.8 417.5L359.9 418.5L359 419.5L358.1 420.6L357.3 421.7L356.5 422.9L355.7 424L355 425.2L354.3 426.4L353.7 427.6L353.1 428.9L352.6 430.2L352.1 431.5L351.6 432.8L351.2 434.1L350.9 435.4L350.6 436.8L350.3 438.1L350.1 439.5L349.9 440.9L349.8 442.2L349.7 443.6L349.7 445L349.7 446.4L349.8 447.8L349.9 449.1L350.1 450.5L350.3 451.9L350.5 453L351 452.7L352.2 452.1L353.5 451.5L354.8 451L356.1 450.5L357.4 450L358.7 449.6L360 449.3L361.4 449L362.7 448.7L364.1 448.5L365.5 448.3L366.8 448.2L368.2 448.1L369.6 448.1L371 448.1L372.4 448.2L373.7 448.3L375.1 448.5L376.5 448.7L377.8 449L379.2 449.3L380.5 449.6L381.8 450L383.1 450.5L384.4 451L385.7 451.5L387 452.1L388.2 452.7L389.4 453.4L390.6 452.7L391.8 452.1L393.1 451.5L394.4 451L395.7 450.5L397 450L398.3 449.6L399.6 449.3L401 449L402.3 448.7L403.7 448.5L405.1 448.3L406.4 448.2L407.8 448.1L409.2 448.1L410.6 448.1L412 448.2L413.3 448.3L414.7 448.5L416.1 448.7L417.4 449L418.8 449.3L420.1 449.6L421.4 450L422.7 450.5L424 451L425.3 451.5L426.6 452.1L427.8 452.7L428.1 452.9Z" fill="#d9444d"/>
<path d="M348.6 454.1L347.5 454.9L346.3 455.7L345.2 456.5L344.1 457.4L343.1 458.3L342.1 459.2L341.1 460.2L340.2 461.2L339.3 462.2L338.4 463.3L337.6 464.4L336.8 465.6L336 466.7L335.3 467.9L334.6 469.1L334 470.3L333.4 471.6L332.9 472.9L332.4 474.2L331.9 475.5L331.5 476.8L331.2 478.1L330.9 479.5L330.6 480.8L330.4 482.2L330.2 483.6L330.1 484.9L330 486.3L330 487.7L330 489.1L330.1 490.5L330.2 491.8L330.4 493.2L330.6 494.6L330.9 495.9L331.2 497.3L331.5 498.6L331.9 499.9L332.4 501.2L332.9 502.5L333.4 503.8L334 505.1L334.6 506.3L335.3 507.5L336 508.7L336.8 509.8L337.6 511L338.4 512.1L339.3 513.2L340.2 514.2L341.1 515.2L342.1 516.2L343.1 517.1L344.1 518L345.2 518.9L346.3 519.7L347.5 520.5L348.6 521.3L349.8 522L351 522.7L352.2 523.3L353.5 523.9L354.8 524.4L356.1 524.9L357.4 525.4L358.7 525.8L360 526.1L361.4 526.4L362.7 526.7L364.1 526.9L365.5 527.1L366.8 527.2L368.2 527.3L369.6 527.3L371 527.3L372.4 527.2L373.7 527.1L375.1 526.9L376.5 526.7L377.8 526.4L379.2 526.1L380.5 525.8L381.8 525.4L383.1 524.9L384.4 524.4L385.7 523.9L387 523.3L388.2 522.7L389.4 522L388.2 521.3L387.1 520.5L385.9 519.7L384.8 518.9L383.7 518L382.7 517.1L381.7 516.2L380.7 515.2L379.8 514.2L378.9 513.2L378 512.1L377.2 511L376.4 509.8L375.6 508.7L374.9 507.5L374.2 506.3L373.6 505.1L373 503.8L372.5 502.5L372 501.2L371.5 499.9L371.1 498.6L370.8 497.3L370.5 495.9L370.2 494.6L370 493.2L369.8 491.8L369.7 490.5L369.6 489.1L369.6 487.7L369.6 486.3L369.7 484.9L369.8 483.6L370 482.2L370.2 480.8L370.4 479.8L369.5 479.3L368.3 478.6L367.2 477.8L366 477L364.9 476.2L363.8 475.3L362.8 474.4L361.8 473.5L360.8 472.5L359.9 471.5L359 470.5L358.1 469.4L357.3 468.3L356.5 467.1L355.7 466L355 464.8L354.3 463.6L353.7 462.4L353.1 461.1L352.6 459.8L352.1 458.5L351.6 457.2L351.2 455.9L350.9 454.6L350.6 453.2L350.5 453L349.8 453.4Z" fill="#f46d43"/>
<path d="M390.6 522.7L391.8 523.3L393.1 523.9L394.4 524.4L395.7 524.9L397 525.4L398.3 525.8L399.6 526.1L401 526.4L402.3 526.7L403.7 526.9L405.1 527.1L406.4 527.2L407.8 527.3L409.2 527.3L410.6 527.3L412 527.2L413.3 527.1L414.7 526.9L416.1 526.7L417.4 526.4L418.8 526.1L420.1 525.8L421.4 525.4L422.7 524.9L424 524.4L425.3 523.9L426.6 523.3L427.8 522.7L429 522L430.2 521.3L431.3 520.5L432.5 519.7L433.6 518.9L434.7 518L435.7 517.1L436.7 516.2L437.7 515.2L438.6 514.2L439.5 513.2L440.4 512.1L441.2 511L442 509.8L442.8 508.7L443.5 507.5L444.2 506.3L444.8 505.1L445.4 503.8L445.9 502.5L446.4 501.2L446.9 499.9L447.3 498.6L447.6 497.3L447.9 495.9L448.2 494.6L448.4 493.2L448.6 491.8L448.7 490.5L448.8 489.1L448.8 487.7L448.8 486.3L448.7 484.9L448.6 483.6L448.4 482.2L448.2 480.8L447.9 479.5L447.6 478.1L447.3 476.8L446.9 475.5L446.4 474.2L445.9 472.9L445.4 471.6L444.8 470.3L444.2 469.1L443.5 467.9L442.8 466.7L442 465.6L441.2 464.4L440.4 463.3L439.5 462.2L438.6 461.2L437.7 460.2L436.7 459.2L435.7 458.3L434.7 457.4L433.6 456.5L432.5 455.7L431.3 454.9L430.2 454.1L429 453.4L428.1 452.9L428 453.2L427.7 454.6L427.4 455.9L427 457.2L426.5 458.5L426 459.8L425.5 461.1L424.9 462.4L424.3 463.6L423.6 464.8L422.9 466L422.1 467.1L421.3 468.3L420.5 469.4L419.6 470.5L418.7 471.5L417.8 472.5L416.8 473.5L415.8 474.4L414.8 475.3L413.7 476.2L412.6 477L411.4 477.8L410.3 478.6L409.1 479.3L408.4 479.7L408.6 480.8L408.8 482.2L409 483.6L409.1 484.9L409.2 486.3L409.2 487.7L409.2 489.1L409.1 490.5L409 491.8L408.8 493.2L408.6 494.6L408.3 495.9L408 497.3L407.7 498.6L407.3 499.9L406.8 501.2L406.3 502.5L405.8 503.8L405.2 505.1L404.6 506.3L403.9 507.5L403.2 508.7L402.4 509.8L401.6 511L400.8 512.1L399.9 513.2L399 514.2L398.1 515.2L397.1 516.2L396.1 517.1L395.1 518L394 518.9L392.9 519.7L391.7 520.5L390.6 521.3L389.4 522L389.4 522Z" fill="#fbb461"/>
<path d="M350.9 454.6L351.2 455.9L351.6 457.2L352.1 458.5L352.6 459.8L353.1 461.1L353.7 462.4L354.3 463.6L355 464.8L355.7 466L356.5 467.1L357.3 468.3L358.1 469.4L359 470.5L359.9 471.5L360.8 472.5L361.8 473.5L362.8 474.4L363.8 475.3L364.9 476.2L366 477L367.2 477.8L368.3 478.6L369.5 479.3L370.4 479.8L370.5 479.5L370.8 478.1L371.1 476.8L371.5 475.5L372 474.2L372.5 472.9L373 471.6L373.6 470.3L374.2 469.1L374.9 467.9L375.6 466.7L376.4 465.6L377.2 464.4L378 463.3L378.9 462.2L379.8 461.2L380.7 460.2L381.7 459.2L382.7 458.3L383.7 457.4L384.8 456.5L385.9 455.7L387.1 454.9L388.2 454.1L389.4 453.4L389.4 453.4L388.2 452.7L387 452.1L385.7 451.5L384.4 451L383.1 450.5L381.8 450L380.5 449.6L379.2 449.3L377.8 449L376.5 448.7L375.1 448.5L373.7 448.3L372.4 448.2L371 448.1L369.6 448.1L368.2 448.1L366.8 448.2L365.5 448.3L364.1 448.5L362.7 448.7L361.4 449L360 449.3L358.7 449.6L357.4 450L356.1 450.5L354.8 451L353.5 451.5L352.2 452.1L351 452.7L350.5 453L350.6 453.2Z" fill="#5e4fa2"/>
<path d="M409.1 479.3L410.3 478.6L411.4 477.8L412.6 477L413.7 476.2L414.8 475.3L415.8 474.4L416.8 473.5L417.8 472.5L418.7 471.5L419.6 470.5L420.5 469.4L421.3 468.3L422.1 467.1L422.9 466L423.6 464.8L424.3 463.6L424.9 462.4L425.5 461.1L426 459.8L426.5 458.5L427 457.2L427.4 455.9L427.7 454.6L428 453.2L428.1 452.9L427.8 452.7L426.6 452.1L425.3 451.5L424 451L422.7 450.5L421.4 450L420.1 449.6L418.8 449.3L417.4 449L416.1 448.7L414.7 448.5L413.3 448.3L412 448.2L410.6 448.1L409.2 448.1L407.8 448.1L406.4 448.2L405.1 448.3L403.7 448.5L402.3 448.7L401 449L399.6 449.3L398.3 449.6L397 450L395.7 450.5L394.4 451L393.1 451.5L391.8 452.1L390.6 452.7L389.4 453.4L390.6 454.1L391.7 454.9L392.9 455.7L394 456.5L395.1 457.4L396.1 458.3L397.1 459.2L398.1 460.2L399 461.2L399.9 462.2L400.8 463.3L401.6 464.4L402.4 465.6L403.2 466.7L403.9 467.9L404.6 469.1L405.2 470.3L405.8 471.6L406.3 472.9L406.8 474.2L407.3 475.5L407.7 476.8L408 478.1L408.3 479.5L408.4 479.7Z" fill="#b2de9e"/>
<path d="M390.6 521.3L391.7 520.5L392.9 519.7L394 518.9L395.1 518L396.1 517.1L397.1 516.2L398.1 515.2L399 514.2L399.9 513.2L400.8 512.1L401.6 511L402.4 509.8L403.2 508.7L403.9 507.5L404.6 506.3L405.2 505.1L405.8 503.8L406.3 502.5L406.8 501.2L407.3 499.9L407.7 498.6L408 497.3L408.3 495.9L408.6 494.6L408.8 493.2L409 491.8L409.1 490.5L409.2 489.1L409.2 487.7L409.2 486.3L409.1 484.9L409 483.6L408.8 482.2L408.6 480.8L408.4 479.7L407.9 480L406.7 480.6L405.4 481.2L404.1 481.7L402.8 482.2L401.5 482.7L400.2 483.1L398.9 483.4L397.5 483.7L396.2 484L394.8 484.2L393.4 484.4L392.1 484.5L390.7 484.6L389.3 484.6L387.9 484.6L386.5 484.5L385.2 484.4L383.8 484.2L382.4 484L381.1 483.7L379.7 483.4L378.4 483.1L377.1 482.7L375.8 482.2L374.5 481.7L373.2 481.2L371.9 480.6L370.7 480L370.4 479.8L370.2 480.8L370 482.2L369.8 483.6L369.7 484.9L369.6 486.3L369.6 487.7L369.6 489.1L369.7 490.5L369.8 491.8L370 493.2L370.2 494.6L370.5 495.9L370.8 497.3L371.1 498.6L371.5 499.9L372 501.2L372.5 502.5L373 503.8L373.6 505.1L374.2 506.3L374.9 507.5L375.6 508.7L376.4 509.8L377.2 511L378 512.1L378.9 513.2L379.8 514.2L380.7 515.2L381.7 516.2L382.7 517.1L383.7 518L384.8 518.9L385.9 519.7L387.1 520.5L388.2 521.3L389.4 522L389.4 522Z" fill="#3a80b9"/>
<path d="M370.7 480L371.9 480.6L373.2 481.2L374.5 481.7L375.8 482.2L377.1 482.7L378.4 483.1L379.7 483.4L381.1 483.7L382.4 484L383.8 484.2L385.2 484.4L386.5 484.5L387.9 484.6L389.3 484.6L390.7 484.6L392.1 484.5L393.4 484.4L394.8 484.2L396.2 484L397.5 483.7L398.9 483.4L400.2 483.1L401.5 482.7L402.8 482.2L404.1 481.7L405.4 481.2L406.7 480.6L407.9 480L408.4 479.7L408.3 479.5L408 478.1L407.7 476.8L407.3 475.5L406.8 474.2L406.3 472.9L405.8 471.6L405.2 470.3L404.6 469.1L403.9 467.9L403.2 466.7L402.4 465.6L401.6 464.4L400.8 463.3L399.9 462.2L399 461.2L398.1 460.2L397.1 459.2L396.1 458.3L395.1 457.4L394 456.5L392.9 455.7L391.7 454.9L390.6 454.1L389.4 453.4L389.4 453.4L388.2 454.1L387.1 454.9L385.9 455.7L384.8 456.5L383.7 457.4L382.7 458.3L381.7 459.2L380.7 460.2L379.8 461.2L378.9 462.2L378 463.3L377.2 464.4L376.4 465.6L375.6 466.7L374.9 467.9L374.2 469.1L373.6 470.3L373 471.6L372.5 472.9L372 474.2L371.5 475.5L371.1 476.8L370.8 478.1L370.5 479.5L370.4 479.8Z" fill="#9e0142"/>
<circle cx="389.3" cy="445" r="39.6" fill="none" stroke="#000" stroke-width="0.7"/>
<circle cx="369.6" cy="487.7" r="39.6" fill="none" stroke="#000" stroke-width="0.7"/>
<circle cx="409.2" cy="487.7" r="39.6" fill="none" stroke="#000" stroke-width="0.7"/>
<text x="389.3" y="429.3" font-size="10" font-weight="bold" text-anchor="middle" fill="#fff">33</text>
<text x="389.7" y="438.2" font-size="7.6" text-anchor="middle" fill="#fff" fill-opacity="0.85">(22.3%)</text>
<text x="365.5" y="462.2" font-size="10" font-weight="bold" text-anchor="middle" fill="#fff">2</text>
<text x="364.8" y="468.6" font-size="5.7" text-anchor="middle" fill="#fff" fill-opacity="0.85">(1.35%)</text>
<text x="389.3" y="466" font-size="10" font-weight="bold" text-anchor="middle" fill="#fff">38</text>
<text x="389" y="472.9" font-size="5.7" text-anchor="middle" fill="#fff" fill-opacity="0.85">(25.68%)</text>
<text x="412.8" y="462.2" font-size="10" font-weight="bold" text-anchor="middle" fill="#fff">16</text>
<text x="413.5" y="468.8" font-size="5.7" text-anchor="middle" fill="#fff" fill-opacity="0.85">(10.81%)</text>
<text x="349.2" y="487.3" font-size="10" font-weight="bold" text-anchor="middle" fill="#fff">29</text>
<text x="349.7" y="494" font-size="5.7" text-anchor="middle" fill="#fff" fill-opacity="0.85">(19.59%)</text>
<text x="428.4" y="488.1" font-size="10" font-weight="bold" text-anchor="middle" fill="#fff">24</text>
<text x="428.4" y="495" font-size="5.7" text-anchor="middle" fill="#fff" fill-opacity="0.85">(16.22%)</text>
<text x="389.3" y="498.1" font-size="10" font-weight="bold" text-anchor="middle" fill="#fff">6</text>
<text x="389" y="505" font-size="5.7" text-anchor="middle" fill="#fff" fill-opacity="0.85">(4.05%)</text>
<text x="389.3" y="404.1" font-size="6.7" text-anchor="middle" fill="#111">FanjingSoil</text>
<text x="334.2" y="533.7" font-size="6.7" text-anchor="middle" fill="#111">MayangSoil</text>
<text x="443.6" y="533.7" font-size="6.7" text-anchor="middle" fill="#111">QianlingSoil</text>
<defs><linearGradient id="gE" x1="0" y1="0" x2="0" y2="1"><stop offset="0" stop-color="#9e0142"/><stop offset="0.1" stop-color="#d53e4f"/><stop offset="0.2" stop-color="#f46d43"/><stop offset="0.3" stop-color="#fdae61"/><stop offset="0.4" stop-color="#fee08b"/><stop offset="0.5" stop-color="#ffffbf"/><stop offset="0.6" stop-color="#e6f598"/><stop offset="0.7" stop-color="#abdda4"/><stop offset="0.8" stop-color="#66c2a5"/><stop offset="0.9" stop-color="#3288bd"/><stop offset="1" stop-color="#5e4fa2"/></linearGradient></defs>
<rect x="461.2" y="428.9" width="5.6" height="93.6" fill="url(#gE)"/>
<text x="460.6" y="424.7" font-size="5.4" font-weight="bold" fill="#111">count</text>
<path d="M461.2 450.5h1.1M466.8 450.5h-1.1" stroke="#fff" stroke-width="0.3" opacity="0.7"/>
<text x="469.5" y="452.2" font-size="4.8" fill="#222">30</text>
<path d="M461.2 476.9h1.1M466.8 476.9h-1.1" stroke="#fff" stroke-width="0.3" opacity="0.7"/>
<text x="469.5" y="478.6" font-size="4.8" fill="#222">20</text>
<path d="M461.2 503h1.1M466.8 503h-1.1" stroke="#fff" stroke-width="0.3" opacity="0.7"/>
<text x="469.5" y="504.7" font-size="4.8" fill="#222">10</text>
<path d="M521.9 434.1L521.1 435.4L520.5 436.7L519.9 438L519.3 439.5L518.9 440.9L518.5 442.5L518.2 444L518 445.7L517.9 447.3L517.8 449.1L517.8 450.8L517.9 452.6L518.1 454.4L518.4 456.3L518.7 458.2L519.1 460.1L519.6 462.1L520.2 464L520.8 466L521.6 468L522.4 470L523.2 472.1L524.2 474.1L525.2 476.1L526.3 478.1L527.4 480.2L528.6 482.2L529.9 484.2L531.2 486.2L532.6 488.2L534.1 490.1L535.6 492L537.1 494L538.8 495.8L540.4 497.7L542.1 499.5L543.9 501.3L545.6 503L547.5 504.7L549.3 506.4L551.2 508L553.1 509.5L555.1 511L557 512.5L559 513.9L561 515.2L563 516.5L565 517.7L567 518.9L569.1 519.9L571.1 520.9L573.1 521.9L575.2 522.8L577.2 523.6L579.2 524.3L581.2 524.9L583.1 525.5L585.1 526L587 526.4L588.9 526.7L590.8 527L592.6 527.2L594.4 527.3L596.2 527.3L596.8 527.3L595.6 527.3L593.9 527.1L592.3 526.9L590.7 526.6L589.2 526.2L587.7 525.8L586.3 525.3L584.9 524.6L583.6 524L582.4 523.2L581.2 522.4L580.1 521.5L579.1 520.5L578.1 519.5L577.2 518.4L576.4 517.2L575.6 515.9L574.9 514.6L574.3 513.3L573.8 511.9L573.3 510.4L573 508.9L572.7 507.3L572.4 505.7L572.3 504L572.3 503.4L572.2 503.4L570.7 503.6L569.2 503.8L567.8 503.9L566.4 504L565 504L563.7 503.9L562.4 503.7L561.2 503.5L560.1 503.1L559 502.8L557.9 502.3L557 501.8L556 501.2L555.2 500.5L554.4 499.8L553.7 499L553 498.2L552.4 497.3L551.9 496.3L551.5 495.3L551.1 494.2L550.8 493L550.5 491.8L550.4 490.6L550.3 489.3L550.2 487.9L550.3 486.5L550.4 485L550.6 483.6L550.8 482L551.2 480.5L551.6 478.8L552 477.2L552.6 475.5L553.2 473.9L553.9 472.1L554.6 470.4L555.4 468.6L556.3 466.8L557.2 465.1L558.2 463.2L559.3 461.4L560.4 459.6L561.5 457.8L561.5 457.8L560.5 456.2L559.2 454.3L558 452.4L556.9 450.5L555.8 448.6L554.8 446.7L553.8 444.9L552.9 443L552.1 441.2L551.4 439.4L550.7 437.7L550.1 435.9L549.6 434.2L549.1 432.6L548.7 430.9L548.4 429.3L548.2 427.8L548 426.3L547.9 424.9L547.9 424.3L546.4 424.1L544.6 424L542.9 424L541.2 424.1L539.5 424.2L537.9 424.4L536.3 424.7L534.7 425.1L533.3 425.5L531.8 426.1L530.5 426.7L529.2 427.4L527.9 428.1L526.8 428.9L525.7 429.8L524.6 430.8L523.6 431.9L522.7 433Z" fill="#3b7fb8" stroke="#3b7fb8" stroke-width="0.3"/>
<path d="M549.9 415.3L549.4 416.3L548.9 417.3L548.6 418.4L548.3 419.6L548.1 420.8L547.9 422.1L547.9 423.5L547.9 424.3L548.3 424.3L550.1 424.6L552 424.9L554 425.3L555.9 425.8L557.9 426.4L559.9 427.1L561.9 427.8L563.9 428.6L565.9 429.4L567.9 430.4L570 431.4L572 432.5L574 433.6L576.1 434.8L578.1 436.1L579.1 436.8L579.2 436.7L580.9 435.1L582.6 433.5L584.4 431.9L586.1 430.4L587.9 429L589.7 427.6L591.5 426.2L593.4 424.9L595.2 423.6L597 422.4L595.4 421.3L593.5 420.1L591.6 418.9L589.7 417.7L587.8 416.6L585.9 415.6L584.1 414.7L582.2 413.8L580.4 413L578.6 412.2L576.8 411.6L575.1 411L573.4 410.4L571.7 410L570.1 409.6L568.5 409.3L567 409L565.5 408.9L564 408.8L562.6 408.8L561.3 408.8L560 409L558.7 409.2L557.6 409.5L556.5 409.8L555.4 410.2L554.4 410.7L553.5 411.3L552.6 412L551.8 412.7L551.1 413.5L550.5 414.3Z" fill="#3787bc" stroke="#3787bc" stroke-width="0.3"/>
<path d="M636.5 413.3L635.6 412.8L634.5 412.3L633.4 411.9L632.3 411.6L631.1 411.4L629.8 411.2L628.5 411.1L627.2 411.1L625.7 411.1L624.3 411.3L622.8 411.4L621.3 411.7L619.7 412L618.1 412.4L616.5 412.9L614.8 413.4L613.1 414.1L611.4 414.7L609.6 415.5L607.9 416.3L606.1 417.1L604.3 418.1L602.5 419.1L600.7 420.1L598.8 421.2L597 422.4L597 422.4L597.3 422.6L599.3 424L601.2 425.4L603.1 426.9L605 428.4L606.9 429.9L608.7 431.5L610.6 433.2L612.4 434.9L614.2 436.6L614.4 436.8L615.4 436.1L617.5 434.8L619.5 433.6L621.5 432.5L623.5 431.4L625.6 430.4L627.6 429.4L629.6 428.6L631.6 427.8L633.6 427.1L635.6 426.4L637.6 425.8L639.5 425.3L641.5 424.9L643.2 424.6L643.2 424.5L643 423.3L642.7 422.1L642.4 420.9L642 419.8L641.6 418.8L641.1 417.8L640.5 416.9L639.8 416L639.1 415.3L638.3 414.5L637.5 413.9Z" fill="#4a6bb1" stroke="#4a6bb1" stroke-width="0.3"/>
<path d="M665.6 428.1L664.3 427.4L663 426.7L661.7 426.1L660.2 425.5L658.8 425.1L657.2 424.7L655.7 424.4L654 424.2L652.3 424.1L650.6 424L648.9 424L647.1 424.1L645.2 424.3L643.4 424.6L643.2 424.6L643.2 425.8L643.3 427.2L643.2 428.6L643.1 430L642.9 431.5L642.7 433.1L642.3 434.6L641.9 436.2L641.5 437.9L640.9 439.5L640.3 441.2L639.6 443L638.9 444.7L638.1 446.5L637.2 448.2L636.3 450L635.3 451.8L634.2 453.7L633.1 455.5L632 457.3L632 457.3L633 458.9L634.3 460.8L635.5 462.7L636.6 464.6L637.7 466.5L638.7 468.4L639.7 470.2L640.6 472.1L641.4 473.9L642.1 475.7L642.8 477.4L643.4 479.2L643.9 480.9L644.4 482.5L644.8 484.2L645.1 485.7L645.4 487.3L645.5 488.8L645.6 490.2L645.6 491.6L645.6 493L645.4 494.3L645.2 495.5L644.9 496.7L644.6 497.8L644.1 498.8L643.6 499.8L643 500.7L642.4 501.6L641.7 502.4L640.9 503.1L640 503.8L639.1 504.3L638.1 504.8L637.1 505.3L635.9 505.6L634.8 505.9L633.5 506.1L632.2 506.3L630.9 506.3L629.5 506.3L628 506.2L626.5 506.1L625 505.8L623.4 505.5L621.8 505.1L621.1 504.9L621.1 505.7L620.8 507.3L620.6 508.9L620.2 510.4L619.7 511.9L619.2 513.3L618.6 514.6L617.9 515.9L617.2 517.2L616.3 518.4L615.4 519.5L614.4 520.5L613.4 521.5L612.3 522.4L611.1 523.2L609.9 524L608.6 524.6L607.2 525.3L605.8 525.8L604.3 526.2L602.8 526.6L601.2 526.9L599.6 527.1L597.9 527.3L596.8 527.3L597.3 527.3L599.1 527.3L600.9 527.2L602.7 527L604.6 526.7L606.5 526.4L608.4 526L610.4 525.5L612.3 524.9L614.3 524.3L616.3 523.6L618.3 522.8L620.4 521.9L622.4 520.9L624.4 519.9L626.5 518.9L628.5 517.7L630.5 516.5L632.5 515.2L634.5 513.9L636.5 512.5L638.5 511L640.4 509.5L642.3 508L644.2 506.4L646 504.7L647.9 503L649.6 501.3L651.4 499.5L653.1 497.7L654.7 495.8L656.4 494L657.9 492L659.4 490.1L660.9 488.2L662.3 486.2L663.6 484.2L664.9 482.2L666.1 480.2L667.2 478.1L668.3 476.1L669.3 474.1L670.3 472.1L671.1 470L671.9 468L672.7 466L673.3 464L673.9 462.1L674.4 460.1L674.8 458.2L675.1 456.3L675.4 454.4L675.6 452.6L675.7 450.8L675.7 449.1L675.7 447.3L675.5 445.7L675.3 444L675 442.5L674.6 440.9L674.2 439.5L673.6 438L673 436.7L672.4 435.4L671.6 434.1L670.8 433L669.9 431.9L668.9 430.8L667.9 429.8L666.7 428.9Z" fill="#5162ab" stroke="#5162ab" stroke-width="0.3"/>
<path d="M576.1 434.8L574 433.6L572 432.5L570 431.4L567.9 430.4L565.9 429.4L563.9 428.6L561.9 427.8L559.9 427.1L557.9 426.4L555.9 425.8L554 425.3L552 424.9L550.1 424.6L548.3 424.3L547.9 424.3L547.9 424.9L548 426.3L548.2 427.8L548.4 429.3L548.7 430.9L549.1 432.6L549.6 434.2L550.1 435.9L550.7 437.7L551.4 439.4L552.1 441.2L552.9 443L553.8 444.9L554.8 446.7L555.8 448.6L556.9 450.5L558 452.4L559.2 454.3L560.5 456.2L561.5 457.8L562.8 456L564 454.1L565.4 452.3L566.7 450.5L568.1 448.7L569.6 446.9L571.1 445.2L572.7 443.4L574.2 441.7L575.9 440L577.5 438.3L579.1 436.8L578.1 436.1Z" fill="#86cfa5" stroke="#86cfa5" stroke-width="0.3"/>
<path d="M614.2 436.6L612.4 434.9L610.6 433.2L608.7 431.5L606.9 429.9L605 428.4L603.1 426.9L601.2 425.4L599.3 424L597.3 422.6L597 422.4L595.2 423.6L593.4 424.9L591.5 426.2L589.7 427.6L587.9 429L586.1 430.4L584.4 431.9L582.6 433.5L580.9 435.1L579.2 436.7L579.1 436.8L580.1 437.4L582 438.8L584 440.3L585.9 441.8L587.9 443.3L589.7 444.9L591.6 446.6L593.4 448.3L595.2 450L596.8 451.6L598.3 450L600.1 448.3L601.9 446.6L603.8 444.9L605.7 443.3L607.6 441.8L609.5 440.3L611.5 438.8L613.4 437.4L614.4 436.8Z" fill="#5b55a5" stroke="#5b55a5" stroke-width="0.3"/>
<path d="M632 457.3L633.1 455.5L634.2 453.7L635.3 451.8L636.3 450L637.2 448.2L638.1 446.5L638.9 444.7L639.6 443L640.3 441.2L640.9 439.5L641.5 437.9L641.9 436.2L642.3 434.6L642.7 433.1L642.9 431.5L643.1 430L643.2 428.6L643.3 427.2L643.2 425.8L643.2 424.6L641.5 424.9L639.5 425.3L637.6 425.8L635.6 426.4L633.6 427.1L631.6 427.8L629.6 428.6L627.6 429.4L625.6 430.4L623.5 431.4L621.5 432.5L619.5 433.6L617.5 434.8L615.4 436.1L614.4 436.8L616 438.3L617.8 440.1L619.5 441.9L621.1 443.7L622.8 445.6L624.4 447.4L626 449.3L627.5 451.2L628.9 453.1L630.4 455L631.7 456.9L632 457.3Z" fill="#585ca8" stroke="#585ca8" stroke-width="0.3"/>
<path d="M595.2 450L593.4 448.3L591.6 446.6L589.7 444.9L587.9 443.3L585.9 441.8L584 440.3L582 438.8L580.1 437.4L579.1 436.8L577.5 438.3L575.9 440L574.2 441.7L572.7 443.4L571.1 445.2L569.6 446.9L568.1 448.7L566.7 450.5L565.4 452.3L564 454.1L562.8 456L561.5 457.8L561.8 458.1L563.1 460.1L564.6 462L566 463.9L567.5 465.8L569.1 467.6L570.7 469.5L572.4 471.4L574 473.2L575.8 475L577.5 476.8L578.4 477.7L578.6 477.2L579.6 475.2L580.7 473.2L581.9 471.2L583.1 469.1L584.3 467.1L585.7 465.1L587.1 463.2L588.5 461.2L590 459.3L591.6 457.4L593.2 455.5L594.9 453.6L596.6 451.8L596.8 451.6Z" fill="#575ca8" stroke="#575ca8" stroke-width="0.3"/>
<path d="M616 476.8L617.7 475.1L619.3 473.4L620.8 471.7L622.4 469.9L623.9 468.1L625.4 466.4L626.8 464.6L628.1 462.8L629.5 460.9L630.7 459.1L632 457.3L631.7 456.9L630.4 455L628.9 453.1L627.5 451.2L626 449.3L624.4 447.4L622.8 445.6L621.1 443.7L619.5 441.9L617.8 440.1L616 438.3L614.4 436.8L613.4 437.4L611.5 438.8L609.5 440.3L607.6 441.8L605.7 443.3L603.8 444.9L601.9 446.6L600.1 448.3L598.3 450L596.8 451.6L596.9 451.8L598.6 453.6L600.3 455.5L601.9 457.4L603.5 459.3L605 461.2L606.4 463.2L607.8 465.1L609.2 467.1L610.4 469.1L611.6 471.2L612.8 473.2L613.9 475.2L614.9 477.2L615.1 477.7Z" fill="#5d52a3" stroke="#5d52a3" stroke-width="0.3"/>
<path d="M613.9 475.2L612.8 473.2L611.6 471.2L610.4 469.1L609.2 467.1L607.8 465.1L606.4 463.2L605 461.2L603.5 459.3L601.9 457.4L600.3 455.5L598.6 453.6L596.9 451.8L596.8 451.6L596.6 451.8L594.9 453.6L593.2 455.5L591.6 457.4L590 459.3L588.5 461.2L587.1 463.2L585.7 465.1L584.3 467.1L583.1 469.1L581.9 471.2L580.7 473.2L579.6 475.2L578.6 477.2L578.4 477.7L579.3 478.5L581.1 480.2L582.9 481.9L584.8 483.5L586.6 485.1L588.5 486.7L590.4 488.2L592.3 489.7L594.2 491.1L596.2 492.5L596.5 492.7L598.3 491.5L600.2 490.2L602 488.9L603.8 487.5L605.6 486.1L607.4 484.6L609.1 483.1L610.9 481.6L612.6 480L614.3 478.4L615.1 477.7L614.9 477.2Z" fill="#9e0142" stroke="#9e0142" stroke-width="0.3"/>
<path d="M560.4 459.6L559.3 461.4L558.2 463.2L557.2 465.1L556.3 466.8L555.4 468.6L554.6 470.4L553.9 472.1L553.2 473.9L552.6 475.5L552 477.2L551.6 478.8L551.2 480.5L550.8 482L550.6 483.6L550.4 485L550.3 486.5L550.2 487.9L550.3 489.3L550.4 490.6L550.5 491.8L550.8 493L551.1 494.2L551.5 495.3L551.9 496.3L552.4 497.3L553 498.2L553.7 499L554.4 499.8L555.2 500.5L556 501.2L557 501.8L557.9 502.3L559 502.8L560.1 503.1L561.2 503.5L562.4 503.7L563.7 503.9L565 504L566.4 504L567.8 503.9L569.2 503.8L570.7 503.6L572.2 503.4L572.3 503.4L572.2 502.3L572.3 500.5L572.4 498.7L572.6 496.9L572.8 495L573.2 493.1L573.6 491.2L574.1 489.3L574.6 487.3L575.3 485.3L576 483.3L576.8 481.3L577.7 479.3L578.4 477.7L577.5 476.8L575.8 475L574 473.2L572.4 471.4L570.7 469.5L569.1 467.6L567.5 465.8L566 463.9L564.6 462L563.1 460.1L561.8 458.1L561.5 457.8L561.5 457.8Z" fill="#5e4fa2" stroke="#5e4fa2" stroke-width="0.3"/>
<path d="M623.4 505.5L625 505.8L626.5 506.1L628 506.2L629.5 506.3L630.9 506.3L632.2 506.3L633.5 506.1L634.8 505.9L635.9 505.6L637.1 505.3L638.1 504.8L639.1 504.3L640 503.8L640.9 503.1L641.7 502.4L642.4 501.6L643 500.7L643.6 499.8L644.1 498.8L644.6 497.8L644.9 496.7L645.2 495.5L645.4 494.3L645.6 493L645.6 491.6L645.6 490.2L645.5 488.8L645.4 487.3L645.1 485.7L644.8 484.2L644.4 482.5L643.9 480.9L643.4 479.2L642.8 477.4L642.1 475.7L641.4 473.9L640.6 472.1L639.7 470.2L638.7 468.4L637.7 466.5L636.6 464.6L635.5 462.7L634.3 460.8L633 458.9L632 457.3L630.7 459.1L629.5 460.9L628.1 462.8L626.8 464.6L625.4 466.4L623.9 468.1L622.4 469.9L620.8 471.7L619.3 473.4L617.7 475.1L616 476.8L615.1 477.7L615.8 479.3L616.7 481.3L617.5 483.3L618.2 485.3L618.9 487.3L619.4 489.3L619.9 491.2L620.4 493.1L620.7 495L621 496.9L621.1 498.7L621.2 500.5L621.3 502.3L621.2 504L621.1 504.9L621.8 505.1Z" fill="#4f68ae" stroke="#4f68ae" stroke-width="0.3"/>
<path d="M577.7 479.3L576.8 481.3L576 483.3L575.3 485.3L574.6 487.3L574.1 489.3L573.6 491.2L573.2 493.1L572.8 495L572.6 496.9L572.4 498.7L572.3 500.5L572.2 502.3L572.3 503.4L573.8 503L575.4 502.6L577.1 502.2L578.7 501.6L580.4 501L582.1 500.4L583.9 499.6L585.7 498.8L587.4 497.9L589.2 497L591 496L592.9 495L594.7 493.9L596.5 492.7L596.5 492.7L596.2 492.5L594.2 491.1L592.3 489.7L590.4 488.2L588.5 486.7L586.6 485.1L584.8 483.5L582.9 481.9L581.1 480.2L579.3 478.5L578.4 477.7Z" fill="#f26b43" stroke="#f26b43" stroke-width="0.3"/>
<path d="M621.2 500.5L621.1 498.7L621 496.9L620.7 495L620.4 493.1L619.9 491.2L619.4 489.3L618.9 487.3L618.2 485.3L617.5 483.3L616.7 481.3L615.8 479.3L615.1 477.7L614.3 478.4L612.6 480L610.9 481.6L609.1 483.1L607.4 484.6L605.6 486.1L603.8 487.5L602 488.9L600.2 490.2L598.3 491.5L596.5 492.7L598.1 493.8L600 495L601.9 496.2L603.8 497.4L605.7 498.4L607.6 499.5L609.4 500.4L611.3 501.3L613.1 502.1L614.9 502.8L616.7 503.5L618.4 504.1L620.1 504.7L621.1 504.9L621.2 504L621.3 502.3Z" fill="#5fbfa6" stroke="#5fbfa6" stroke-width="0.3"/>
<path d="M601.2 526.9L602.8 526.6L604.3 526.2L605.8 525.8L607.2 525.3L608.6 524.6L609.9 524L611.1 523.2L612.3 522.4L613.4 521.5L614.4 520.5L615.4 519.5L616.3 518.4L617.2 517.2L617.9 515.9L618.6 514.6L619.2 513.3L619.7 511.9L620.2 510.4L620.6 508.9L620.8 507.3L621.1 505.7L621.1 504.9L620.1 504.7L618.4 504.1L616.7 503.5L614.9 502.8L613.1 502.1L611.3 501.3L609.4 500.4L607.6 499.5L605.7 498.4L603.8 497.4L601.9 496.2L600 495L598.1 493.8L596.5 492.7L596.5 492.7L594.7 493.9L592.9 495L591 496L589.2 497L587.4 497.9L585.7 498.8L583.9 499.6L582.1 500.4L580.4 501L578.7 501.6L577.1 502.2L575.4 502.6L573.8 503L572.3 503.4L572.3 504L572.4 505.7L572.7 507.3L573 508.9L573.3 510.4L573.8 511.9L574.3 513.3L574.9 514.6L575.6 515.9L576.4 517.2L577.2 518.4L578.1 519.5L579.1 520.5L580.1 521.5L581.2 522.4L582.4 523.2L583.6 524L584.9 524.6L586.3 525.3L587.7 525.8L589.2 526.2L590.7 526.6L592.3 526.9L593.9 527.1L595.6 527.3L596.8 527.3L597.9 527.3L599.6 527.1Z" fill="#3a7fb8" stroke="#3a7fb8" stroke-width="0.3"/>
<path d="M524.6 430.8L523.6 431.9L522.7 433L521.9 434.1L521.1 435.4L520.5 436.7L519.9 438L519.3 439.5L518.9 440.9L518.5 442.5L518.2 444L518 445.7L517.9 447.3L517.8 449.1L517.8 450.8L517.9 452.6L518.1 454.4L518.4 456.3L518.7 458.2L519.1 460.1L519.6 462.1L520.2 464L520.8 466L521.6 468L522.4 470L523.2 472.1L524.2 474.1L525.2 476.1L526.3 478.1L527.4 480.2L528.6 482.2L529.9 484.2L531.2 486.2L532.6 488.2L534.1 490.1L535.6 492L537.1 494L538.8 495.8L540.4 497.7L542.1 499.5L543.9 501.3L545.6 503L547.5 504.7L549.3 506.4L551.2 508L553.1 509.5L555.1 511L557 512.5L559 513.9L561 515.2L563 516.5L565 517.7L567 518.9L569.1 519.9L571.1 520.9L573.1 521.9L575.2 522.8L577.2 523.6L579.2 524.3L581.2 524.9L583.1 525.5L585.1 526L587 526.4L588.9 526.7L590.8 527L592.6 527.2L594.4 527.3L596.2 527.3L597.9 527.3L599.6 527.1L601.2 526.9L602.8 526.6L604.3 526.2L605.8 525.8L607.2 525.3L608.6 524.6L609.9 524L611.1 523.2L612.3 522.4L613.4 521.5L614.4 520.5L615.4 519.5L616.3 518.4L617.2 517.2L617.9 515.9L618.6 514.6L619.2 513.3L619.7 511.9L620.2 510.4L620.6 508.9L620.8 507.3L621.1 505.7L621.2 504L621.3 502.3L621.2 500.5L621.1 498.7L621 496.9L620.7 495L620.4 493.1L619.9 491.2L619.4 489.3L618.9 487.3L618.2 485.3L617.5 483.3L616.7 481.3L615.8 479.3L614.9 477.2L613.9 475.2L612.8 473.2L611.6 471.2L610.4 469.1L609.2 467.1L607.8 465.1L606.4 463.2L605 461.2L603.5 459.3L601.9 457.4L600.3 455.5L598.6 453.6L596.9 451.8L595.2 450L593.4 448.3L591.6 446.6L589.7 444.9L587.9 443.3L585.9 441.8L584 440.3L582 438.8L580.1 437.4L578.1 436.1L576.1 434.8L574 433.6L572 432.5L570 431.4L567.9 430.4L565.9 429.4L563.9 428.6L561.9 427.8L559.9 427.1L557.9 426.4L555.9 425.8L554 425.3L552 424.9L550.1 424.6L548.3 424.3L546.4 424.1L544.6 424L542.9 424L541.2 424.1L539.5 424.2L537.9 424.4L536.3 424.7L534.7 425.1L533.3 425.5L531.8 426.1L530.5 426.7L529.2 427.4L527.9 428.1L526.8 428.9L525.7 429.8Z" fill="none" stroke="#000" stroke-width="0.7"/>
<path d="M551.8 412.7L551.1 413.5L550.5 414.3L549.9 415.3L549.4 416.3L548.9 417.3L548.6 418.4L548.3 419.6L548.1 420.8L547.9 422.1L547.9 423.5L547.9 424.9L548 426.3L548.2 427.8L548.4 429.3L548.7 430.9L549.1 432.6L549.6 434.2L550.1 435.9L550.7 437.7L551.4 439.4L552.1 441.2L552.9 443L553.8 444.9L554.8 446.7L555.8 448.6L556.9 450.5L558 452.4L559.2 454.3L560.5 456.2L561.8 458.1L563.1 460.1L564.6 462L566 463.9L567.5 465.8L569.1 467.6L570.7 469.5L572.4 471.4L574 473.2L575.8 475L577.5 476.8L579.3 478.5L581.1 480.2L582.9 481.9L584.8 483.5L586.6 485.1L588.5 486.7L590.4 488.2L592.3 489.7L594.2 491.1L596.2 492.5L598.1 493.8L600 495L601.9 496.2L603.8 497.4L605.7 498.4L607.6 499.5L609.4 500.4L611.3 501.3L613.1 502.1L614.9 502.8L616.7 503.5L618.4 504.1L620.1 504.7L621.8 505.1L623.4 505.5L625 505.8L626.5 506.1L628 506.2L629.5 506.3L630.9 506.3L632.2 506.3L633.5 506.1L634.8 505.9L635.9 505.6L637.1 505.3L638.1 504.8L639.1 504.3L640 503.8L640.9 503.1L641.7 502.4L642.4 501.6L643 500.7L643.6 499.8L644.1 498.8L644.6 497.8L644.9 496.7L645.2 495.5L645.4 494.3L645.6 493L645.6 491.6L645.6 490.2L645.5 488.8L645.4 487.3L645.1 485.7L644.8 484.2L644.4 482.5L643.9 480.9L643.4 479.2L642.8 477.4L642.1 475.7L641.4 473.9L640.6 472.1L639.7 470.2L638.7 468.4L637.7 466.5L636.6 464.6L635.5 462.7L634.3 460.8L633 458.9L631.7 456.9L630.4 455L628.9 453.1L627.5 451.2L626 449.3L624.4 447.4L622.8 445.6L621.1 443.7L619.5 441.9L617.8 440.1L616 438.3L614.2 436.6L612.4 434.9L610.6 433.2L608.7 431.5L606.9 429.9L605 428.4L603.1 426.9L601.2 425.4L599.3 424L597.3 422.6L595.4 421.3L593.5 420.1L591.6 418.9L589.7 417.7L587.8 416.6L585.9 415.6L584.1 414.7L582.2 413.8L580.4 413L578.6 412.2L576.8 411.6L575.1 411L573.4 410.4L571.7 410L570.1 409.6L568.5 409.3L567 409L565.5 408.9L564 408.8L562.6 408.8L561.3 408.8L560 409L558.7 409.2L557.6 409.5L556.5 409.8L555.4 410.2L554.4 410.7L553.5 411.3L552.6 412Z" fill="none" stroke="#000" stroke-width="0.7"/>
<path d="M639.1 415.3L638.3 414.5L637.5 413.9L636.5 413.3L635.6 412.8L634.5 412.3L633.4 411.9L632.3 411.6L631.1 411.4L629.8 411.2L628.5 411.1L627.2 411.1L625.7 411.1L624.3 411.3L622.8 411.4L621.3 411.7L619.7 412L618.1 412.4L616.5 412.9L614.8 413.4L613.1 414.1L611.4 414.7L609.6 415.5L607.9 416.3L606.1 417.1L604.3 418.1L602.5 419.1L600.7 420.1L598.8 421.2L597 422.4L595.2 423.6L593.4 424.9L591.5 426.2L589.7 427.6L587.9 429L586.1 430.4L584.4 431.9L582.6 433.5L580.9 435.1L579.2 436.7L577.5 438.3L575.9 440L574.2 441.7L572.7 443.4L571.1 445.2L569.6 446.9L568.1 448.7L566.7 450.5L565.4 452.3L564 454.1L562.8 456L561.5 457.8L560.4 459.6L559.3 461.4L558.2 463.2L557.2 465.1L556.3 466.8L555.4 468.6L554.6 470.4L553.9 472.1L553.2 473.9L552.6 475.5L552 477.2L551.6 478.8L551.2 480.5L550.8 482L550.6 483.6L550.4 485L550.3 486.5L550.2 487.9L550.3 489.3L550.4 490.6L550.5 491.8L550.8 493L551.1 494.2L551.5 495.3L551.9 496.3L552.4 497.3L553 498.2L553.7 499L554.4 499.8L555.2 500.5L556 501.2L557 501.8L557.9 502.3L559 502.8L560.1 503.1L561.2 503.5L562.4 503.7L563.7 503.9L565 504L566.4 504L567.8 503.9L569.2 503.8L570.7 503.6L572.2 503.4L573.8 503L575.4 502.6L577.1 502.2L578.7 501.6L580.4 501L582.1 500.4L583.9 499.6L585.7 498.8L587.4 497.9L589.2 497L591 496L592.9 495L594.7 493.9L596.5 492.7L598.3 491.5L600.2 490.2L602 488.9L603.8 487.5L605.6 486.1L607.4 484.6L609.1 483.1L610.9 481.6L612.6 480L614.3 478.4L616 476.8L617.7 475.1L619.3 473.4L620.8 471.7L622.4 469.9L623.9 468.1L625.4 466.4L626.8 464.6L628.1 462.8L629.5 460.9L630.7 459.1L632 457.3L633.1 455.5L634.2 453.7L635.3 451.8L636.3 450L637.2 448.2L638.1 446.5L638.9 444.7L639.6 443L640.3 441.2L640.9 439.5L641.5 437.9L641.9 436.2L642.3 434.6L642.7 433.1L642.9 431.5L643.1 430L643.2 428.6L643.3 427.2L643.2 425.8L643.2 424.5L643 423.3L642.7 422.1L642.4 420.9L642 419.8L641.6 418.8L641.1 417.8L640.5 416.9L639.8 416Z" fill="none" stroke="#000" stroke-width="0.7"/>
<path d="M668.9 430.8L667.9 429.8L666.7 428.9L665.6 428.1L664.3 427.4L663 426.7L661.7 426.1L660.2 425.5L658.8 425.1L657.2 424.7L655.7 424.4L654 424.2L652.3 424.1L650.6 424L648.9 424L647.1 424.1L645.2 424.3L643.4 424.6L641.5 424.9L639.5 425.3L637.6 425.8L635.6 426.4L633.6 427.1L631.6 427.8L629.6 428.6L627.6 429.4L625.6 430.4L623.5 431.4L621.5 432.5L619.5 433.6L617.5 434.8L615.4 436.1L613.4 437.4L611.5 438.8L609.5 440.3L607.6 441.8L605.7 443.3L603.8 444.9L601.9 446.6L600.1 448.3L598.3 450L596.6 451.8L594.9 453.6L593.2 455.5L591.6 457.4L590 459.3L588.5 461.2L587.1 463.2L585.7 465.1L584.3 467.1L583.1 469.1L581.9 471.2L580.7 473.2L579.6 475.2L578.6 477.2L577.7 479.3L576.8 481.3L576 483.3L575.3 485.3L574.6 487.3L574.1 489.3L573.6 491.2L573.2 493.1L572.8 495L572.6 496.9L572.4 498.7L572.3 500.5L572.2 502.3L572.3 504L572.4 505.7L572.7 507.3L573 508.9L573.3 510.4L573.8 511.9L574.3 513.3L574.9 514.6L575.6 515.9L576.4 517.2L577.2 518.4L578.1 519.5L579.1 520.5L580.1 521.5L581.2 522.4L582.4 523.2L583.6 524L584.9 524.6L586.3 525.3L587.7 525.8L589.2 526.2L590.7 526.6L592.3 526.9L593.9 527.1L595.6 527.3L597.3 527.3L599.1 527.3L600.9 527.2L602.7 527L604.6 526.7L606.5 526.4L608.4 526L610.4 525.5L612.3 524.9L614.3 524.3L616.3 523.6L618.3 522.8L620.4 521.9L622.4 520.9L624.4 519.9L626.5 518.9L628.5 517.7L630.5 516.5L632.5 515.2L634.5 513.9L636.5 512.5L638.5 511L640.4 509.5L642.3 508L644.2 506.4L646 504.7L647.9 503L649.6 501.3L651.4 499.5L653.1 497.7L654.7 495.8L656.4 494L657.9 492L659.4 490.1L660.9 488.2L662.3 486.2L663.6 484.2L664.9 482.2L666.1 480.2L667.2 478.1L668.3 476.1L669.3 474.1L670.3 472.1L671.1 470L671.9 468L672.7 466L673.3 464L673.9 462.1L674.4 460.1L674.8 458.2L675.1 456.3L675.4 454.4L675.6 452.6L675.7 450.8L675.7 449.1L675.7 447.3L675.5 445.7L675.3 444L675 442.5L674.6 440.9L674.2 439.5L673.6 438L673 436.7L672.4 435.4L671.6 434.1L670.8 433L669.9 431.9Z" fill="none" stroke="#000" stroke-width="0.7"/>
<text x="539" y="456" font-size="10" font-weight="bold" text-anchor="middle" fill="#fff">56</text>
<text x="539" y="462.7" font-size="5.1" text-anchor="middle" fill="#fff" fill-opacity="0.85">(3.88%)</text>
<text x="572.7" y="421.1" font-size="10" font-weight="bold" text-anchor="middle" fill="#fff">69</text>
<text x="572.7" y="427.8" font-size="5.1" text-anchor="middle" fill="#fff" fill-opacity="0.85">(4.78%)</text>
<text x="621.8" y="422" font-size="10" font-weight="bold" text-anchor="middle" fill="#fff">36</text>
<text x="621.8" y="428.7" font-size="5.1" text-anchor="middle" fill="#fff" fill-opacity="0.85">(2.49%)</text>
<text x="654.9" y="456" font-size="10" font-weight="bold" text-anchor="middle" fill="#fff">30</text>
<text x="654.9" y="462.7" font-size="5.1" text-anchor="middle" fill="#fff" fill-opacity="0.85">(2.08%)</text>
<text x="563.6" y="441" font-size="10" font-weight="bold" text-anchor="middle" fill="#fff">140</text>
<text x="563.6" y="447.7" font-size="5.1" text-anchor="middle" fill="#fff" fill-opacity="0.85">(9.69%)</text>
<text x="596.2" y="435.8" font-size="10" font-weight="bold" text-anchor="middle" fill="#fff">11</text>
<text x="596.2" y="442.5" font-size="5.1" text-anchor="middle" fill="#fff" fill-opacity="0.85">(0.76%)</text>
<text x="630.3" y="441" font-size="10" font-weight="bold" text-anchor="middle" fill="#fff">23</text>
<text x="630.3" y="447.7" font-size="5.1" text-anchor="middle" fill="#fff" fill-opacity="0.85">(1.59%)</text>
<text x="578.4" y="456" font-size="10" font-weight="bold" text-anchor="middle" fill="#fff">24</text>
<text x="578.4" y="462.7" font-size="5.1" text-anchor="middle" fill="#fff" fill-opacity="0.85">(1.66%)</text>
<text x="616.7" y="456" font-size="10" font-weight="bold" text-anchor="middle" fill="#fff">9</text>
<text x="616.7" y="462.7" font-size="5.1" text-anchor="middle" fill="#fff" fill-opacity="0.85">(0.62%)</text>
<text x="596.2" y="472.1" font-size="10" font-weight="bold" text-anchor="middle" fill="#fff">472</text>
<text x="596.2" y="478.8" font-size="5.1" text-anchor="middle" fill="#fff" fill-opacity="0.85">(32.66%)</text>
<text x="564.2" y="479.2" font-size="10" font-weight="bold" text-anchor="middle" fill="#fff">7</text>
<text x="564.2" y="485.9" font-size="5.1" text-anchor="middle" fill="#fff" fill-opacity="0.85">(0.48%)</text>
<text x="631.1" y="480.6" font-size="10" font-weight="bold" text-anchor="middle" fill="#fff">38</text>
<text x="631.1" y="487.3" font-size="5.1" text-anchor="middle" fill="#fff" fill-opacity="0.85">(2.63%)</text>
<text x="583.5" y="489.7" font-size="10" font-weight="bold" text-anchor="middle" fill="#fff">368</text>
<text x="583.5" y="496.4" font-size="5.1" text-anchor="middle" fill="#fff" fill-opacity="0.85">(25.47%)</text>
<text x="611" y="492" font-size="10" font-weight="bold" text-anchor="middle" fill="#fff">106</text>
<text x="611" y="498.7" font-size="5.1" text-anchor="middle" fill="#fff" fill-opacity="0.85">(7.34%)</text>
<text x="596.2" y="508.4" font-size="10" font-weight="bold" text-anchor="middle" fill="#fff">56</text>
<text x="596.2" y="515.1" font-size="5.1" text-anchor="middle" fill="#fff" fill-opacity="0.85">(3.88%)</text>
<text x="506.4" y="480.7" font-size="10" font-weight="bold" text-anchor="middle" fill="#111">38</text>
<text x="506.9" y="421.3" font-size="8.2" font-style="italic" fill="#111" textLength="37" lengthAdjust="spacingAndGlyphs">R. brelichi</text>
<text x="541.8" y="402.6" font-size="8.2" font-style="italic" fill="#111" textLength="40.3" lengthAdjust="spacingAndGlyphs">T. francoisi</text>
<text x="606.7" y="404.9" font-size="8.2" font-style="italic" fill="#111" textLength="38.3" lengthAdjust="spacingAndGlyphs">M. mulatta</text>
<text x="647.3" y="419.9" font-size="8.2" font-style="italic" fill="#111" textLength="45.3" lengthAdjust="spacingAndGlyphs">M. thibetana</text>
<defs><linearGradient id="gF" x1="0" y1="0" x2="0" y2="1"><stop offset="0" stop-color="#9e0142"/><stop offset="0.1" stop-color="#d53e4f"/><stop offset="0.2" stop-color="#f46d43"/><stop offset="0.3" stop-color="#fdae61"/><stop offset="0.4" stop-color="#fee08b"/><stop offset="0.5" stop-color="#ffffbf"/><stop offset="0.6" stop-color="#e6f598"/><stop offset="0.7" stop-color="#abdda4"/><stop offset="0.8" stop-color="#66c2a5"/><stop offset="0.9" stop-color="#3288bd"/><stop offset="1" stop-color="#5e4fa2"/></linearGradient></defs>
<rect x="705.4" y="425.5" width="5.7" height="92.8" fill="url(#gF)"/>
<text x="705.3" y="420.9" font-size="5.4" font-weight="bold" fill="#111">count</text>
<path d="M705.4 441.1h1.1M711.1 441.1h-1.1" stroke="#fff" stroke-width="0.3" opacity="0.7"/>
<text x="714.4" y="442.8" font-size="4.8" fill="#222">400</text>
<path d="M705.4 461h1.1M711.1 461h-1.1" stroke="#fff" stroke-width="0.3" opacity="0.7"/>
<text x="714.4" y="462.7" font-size="4.8" fill="#222">300</text>
<path d="M705.4 481.1h1.1M711.1 481.1h-1.1" stroke="#fff" stroke-width="0.3" opacity="0.7"/>
<text x="714.4" y="482.8" font-size="4.8" fill="#222">200</text>
<path d="M705.4 501h1.1M711.1 501h-1.1" stroke="#fff" stroke-width="0.3" opacity="0.7"/>
<text x="714.4" y="502.7" font-size="4.8" fill="#222">100</text>
<text x="622.6" y="545.9" font-size="8.3" font-weight="bold" fill="#111" textLength="140.6" lengthAdjust="spacingAndGlyphs">MGE ARO Cooccurrence Heatmap</text>
<g shape-rendering="crispEdges"><rect x="606.9" y="554.1" width="11.54" height="8.53" fill="#f99053"/><rect x="618.29" y="554.1" width="11.54" height="8.53" fill="#a50026"/><rect x="629.68" y="554.1" width="11.54" height="8.53" fill="#b0dbea"/><rect x="641.07" y="554.1" width="11.54" height="8.53" fill="#313695"/><rect x="652.46" y="554.1" width="11.54" height="8.53" fill="#35449c"/><rect x="663.85" y="554.1" width="11.54" height="8.53" fill="#37479e"/><rect x="675.24" y="554.1" width="11.54" height="8.53" fill="#313695"/><rect x="686.63" y="554.1" width="11.54" height="8.53" fill="#313695"/><rect x="698.02" y="554.1" width="11.54" height="8.53" fill="#35449c"/><rect x="709.41" y="554.1" width="11.54" height="8.53" fill="#333d98"/><rect x="720.8" y="554.1" width="11.54" height="8.53" fill="#3c59a6"/><rect x="732.19" y="554.1" width="11.54" height="8.53" fill="#323997"/><rect x="743.58" y="554.1" width="11.54" height="8.53" fill="#313695"/><rect x="754.97" y="554.1" width="11.54" height="8.53" fill="#313695"/><rect x="766.36" y="554.1" width="11.54" height="8.53" fill="#313695"/><rect x="606.9" y="562.48" width="11.54" height="8.53" fill="#edf8e0"/><rect x="618.29" y="562.48" width="11.54" height="8.53" fill="#fdad61"/><rect x="629.68" y="562.48" width="11.54" height="8.53" fill="#71a9cf"/><rect x="641.07" y="562.48" width="11.54" height="8.53" fill="#313695"/><rect x="652.46" y="562.48" width="11.54" height="8.53" fill="#35449c"/><rect x="663.85" y="562.48" width="11.54" height="8.53" fill="#37479e"/><rect x="675.24" y="562.48" width="11.54" height="8.53" fill="#313695"/><rect x="686.63" y="562.48" width="11.54" height="8.53" fill="#313695"/><rect x="698.02" y="562.48" width="11.54" height="8.53" fill="#333d98"/><rect x="709.41" y="562.48" width="11.54" height="8.53" fill="#323997"/><rect x="720.8" y="562.48" width="11.54" height="8.53" fill="#3a52a3"/><rect x="732.19" y="562.48" width="11.54" height="8.53" fill="#323997"/><rect x="743.58" y="562.48" width="11.54" height="8.53" fill="#313695"/><rect x="754.97" y="562.48" width="11.54" height="8.53" fill="#313695"/><rect x="766.36" y="562.48" width="11.54" height="8.53" fill="#313695"/><rect x="606.9" y="570.86" width="11.54" height="8.53" fill="#f6fbd0"/><rect x="618.29" y="570.86" width="11.54" height="8.53" fill="#fed485"/><rect x="629.68" y="570.86" width="11.54" height="8.53" fill="#8cc0db"/><rect x="641.07" y="570.86" width="11.54" height="8.53" fill="#313695"/><rect x="652.46" y="570.86" width="11.54" height="8.53" fill="#313695"/><rect x="663.85" y="570.86" width="11.54" height="8.53" fill="#313695"/><rect x="675.24" y="570.86" width="11.54" height="8.53" fill="#313695"/><rect x="686.63" y="570.86" width="11.54" height="8.53" fill="#313695"/><rect x="698.02" y="570.86" width="11.54" height="8.53" fill="#313695"/><rect x="709.41" y="570.86" width="11.54" height="8.53" fill="#323997"/><rect x="720.8" y="570.86" width="11.54" height="8.53" fill="#384b9f"/><rect x="732.19" y="570.86" width="11.54" height="8.53" fill="#313695"/><rect x="743.58" y="570.86" width="11.54" height="8.53" fill="#313695"/><rect x="754.97" y="570.86" width="11.54" height="8.53" fill="#313695"/><rect x="766.36" y="570.86" width="11.54" height="8.53" fill="#313695"/><rect x="606.9" y="579.24" width="11.54" height="8.53" fill="#cae8f2"/><rect x="618.29" y="579.24" width="11.54" height="8.53" fill="#d3edf4"/><rect x="629.68" y="579.24" width="11.54" height="8.53" fill="#6197c5"/><rect x="641.07" y="579.24" width="11.54" height="8.53" fill="#333d98"/><rect x="652.46" y="579.24" width="11.54" height="8.53" fill="#394ea1"/><rect x="663.85" y="579.24" width="11.54" height="8.53" fill="#394ea1"/><rect x="675.24" y="579.24" width="11.54" height="8.53" fill="#333d98"/><rect x="686.63" y="579.24" width="11.54" height="8.53" fill="#313695"/><rect x="698.02" y="579.24" width="11.54" height="8.53" fill="#3d5ca8"/><rect x="709.41" y="579.24" width="11.54" height="8.53" fill="#34409a"/><rect x="720.8" y="579.24" width="11.54" height="8.53" fill="#37479e"/><rect x="732.19" y="579.24" width="11.54" height="8.53" fill="#323997"/><rect x="743.58" y="579.24" width="11.54" height="8.53" fill="#313695"/><rect x="754.97" y="579.24" width="11.54" height="8.53" fill="#333d98"/><rect x="766.36" y="579.24" width="11.54" height="8.53" fill="#333d98"/><rect x="606.9" y="587.62" width="11.54" height="8.53" fill="#98cae1"/><rect x="618.29" y="587.62" width="11.54" height="8.53" fill="#79b1d3"/><rect x="629.68" y="587.62" width="11.54" height="8.53" fill="#6197c5"/><rect x="641.07" y="587.62" width="11.54" height="8.53" fill="#4d7eb9"/><rect x="652.46" y="587.62" width="11.54" height="8.53" fill="#3f63ab"/><rect x="663.85" y="587.62" width="11.54" height="8.53" fill="#4067ad"/><rect x="675.24" y="587.62" width="11.54" height="8.53" fill="#35449c"/><rect x="686.63" y="587.62" width="11.54" height="8.53" fill="#3b55a4"/><rect x="698.02" y="587.62" width="11.54" height="8.53" fill="#313695"/><rect x="709.41" y="587.62" width="11.54" height="8.53" fill="#34409a"/><rect x="720.8" y="587.62" width="11.54" height="8.53" fill="#323997"/><rect x="732.19" y="587.62" width="11.54" height="8.53" fill="#34409a"/><rect x="743.58" y="587.62" width="11.54" height="8.53" fill="#384b9f"/><rect x="754.97" y="587.62" width="11.54" height="8.53" fill="#333d98"/><rect x="766.36" y="587.62" width="11.54" height="8.53" fill="#333d98"/><rect x="606.9" y="596" width="11.54" height="8.53" fill="#9ecfe3"/><rect x="618.29" y="596" width="11.54" height="8.53" fill="#79b1d3"/><rect x="629.68" y="596" width="11.54" height="8.53" fill="#6197c5"/><rect x="641.07" y="596" width="11.54" height="8.53" fill="#4d7eb9"/><rect x="652.46" y="596" width="11.54" height="8.53" fill="#4067ad"/><rect x="663.85" y="596" width="11.54" height="8.53" fill="#4067ad"/><rect x="675.24" y="596" width="11.54" height="8.53" fill="#35449c"/><rect x="686.63" y="596" width="11.54" height="8.53" fill="#3a52a3"/><rect x="698.02" y="596" width="11.54" height="8.53" fill="#313695"/><rect x="709.41" y="596" width="11.54" height="8.53" fill="#34409a"/><rect x="720.8" y="596" width="11.54" height="8.53" fill="#323997"/><rect x="732.19" y="596" width="11.54" height="8.53" fill="#34409a"/><rect x="743.58" y="596" width="11.54" height="8.53" fill="#384b9f"/><rect x="754.97" y="596" width="11.54" height="8.53" fill="#333d98"/><rect x="766.36" y="596" width="11.54" height="8.53" fill="#333d98"/><rect x="606.9" y="604.38" width="11.54" height="8.53" fill="#98cae1"/><rect x="618.29" y="604.38" width="11.54" height="8.53" fill="#79b1d3"/><rect x="629.68" y="604.38" width="11.54" height="8.53" fill="#5f94c4"/><rect x="641.07" y="604.38" width="11.54" height="8.53" fill="#4d7eb9"/><rect x="652.46" y="604.38" width="11.54" height="8.53" fill="#3f63ab"/><rect x="663.85" y="604.38" width="11.54" height="8.53" fill="#4067ad"/><rect x="675.24" y="604.38" width="11.54" height="8.53" fill="#35449c"/><rect x="686.63" y="604.38" width="11.54" height="8.53" fill="#3b55a4"/><rect x="698.02" y="604.38" width="11.54" height="8.53" fill="#313695"/><rect x="709.41" y="604.38" width="11.54" height="8.53" fill="#34409a"/><rect x="720.8" y="604.38" width="11.54" height="8.53" fill="#323997"/><rect x="732.19" y="604.38" width="11.54" height="8.53" fill="#34409a"/><rect x="743.58" y="604.38" width="11.54" height="8.53" fill="#384b9f"/><rect x="754.97" y="604.38" width="11.54" height="8.53" fill="#333d98"/><rect x="766.36" y="604.38" width="11.54" height="8.53" fill="#333d98"/><rect x="606.9" y="612.76" width="11.54" height="8.53" fill="#8fc2dd"/><rect x="618.29" y="612.76" width="11.54" height="8.53" fill="#79b1d3"/><rect x="629.68" y="612.76" width="11.54" height="8.53" fill="#5a8dc1"/><rect x="641.07" y="612.76" width="11.54" height="8.53" fill="#426aaf"/><rect x="652.46" y="612.76" width="11.54" height="8.53" fill="#436eb0"/><rect x="663.85" y="612.76" width="11.54" height="8.53" fill="#436eb0"/><rect x="675.24" y="612.76" width="11.54" height="8.53" fill="#323997"/><rect x="686.63" y="612.76" width="11.54" height="8.53" fill="#3a52a3"/><rect x="698.02" y="612.76" width="11.54" height="8.53" fill="#313695"/><rect x="709.41" y="612.76" width="11.54" height="8.53" fill="#35449c"/><rect x="720.8" y="612.76" width="11.54" height="8.53" fill="#323997"/><rect x="732.19" y="612.76" width="11.54" height="8.53" fill="#34409a"/><rect x="743.58" y="612.76" width="11.54" height="8.53" fill="#37479e"/><rect x="754.97" y="612.76" width="11.54" height="8.53" fill="#333d98"/><rect x="766.36" y="612.76" width="11.54" height="8.53" fill="#333d98"/><rect x="606.9" y="621.14" width="11.54" height="8.53" fill="#8fc2dd"/><rect x="618.29" y="621.14" width="11.54" height="8.53" fill="#76afd2"/><rect x="629.68" y="621.14" width="11.54" height="8.53" fill="#5284bc"/><rect x="641.07" y="621.14" width="11.54" height="8.53" fill="#436eb0"/><rect x="652.46" y="621.14" width="11.54" height="8.53" fill="#436eb0"/><rect x="663.85" y="621.14" width="11.54" height="8.53" fill="#426aaf"/><rect x="675.24" y="621.14" width="11.54" height="8.53" fill="#333d98"/><rect x="686.63" y="621.14" width="11.54" height="8.53" fill="#3a52a3"/><rect x="698.02" y="621.14" width="11.54" height="8.53" fill="#313695"/><rect x="709.41" y="621.14" width="11.54" height="8.53" fill="#35449c"/><rect x="720.8" y="621.14" width="11.54" height="8.53" fill="#323997"/><rect x="732.19" y="621.14" width="11.54" height="8.53" fill="#34409a"/><rect x="743.58" y="621.14" width="11.54" height="8.53" fill="#37479e"/><rect x="754.97" y="621.14" width="11.54" height="8.53" fill="#333d98"/><rect x="766.36" y="621.14" width="11.54" height="8.53" fill="#333d98"/><rect x="606.9" y="629.52" width="11.54" height="8.53" fill="#8cc0db"/><rect x="618.29" y="629.52" width="11.54" height="8.53" fill="#76afd2"/><rect x="629.68" y="629.52" width="11.54" height="8.53" fill="#5487bd"/><rect x="641.07" y="629.52" width="11.54" height="8.53" fill="#436eb0"/><rect x="652.46" y="629.52" width="11.54" height="8.53" fill="#436eb0"/><rect x="663.85" y="629.52" width="11.54" height="8.53" fill="#426aaf"/><rect x="675.24" y="629.52" width="11.54" height="8.53" fill="#333d98"/><rect x="686.63" y="629.52" width="11.54" height="8.53" fill="#3a52a3"/><rect x="698.02" y="629.52" width="11.54" height="8.53" fill="#313695"/><rect x="709.41" y="629.52" width="11.54" height="8.53" fill="#35449c"/><rect x="720.8" y="629.52" width="11.54" height="8.53" fill="#323997"/><rect x="732.19" y="629.52" width="11.54" height="8.53" fill="#34409a"/><rect x="743.58" y="629.52" width="11.54" height="8.53" fill="#37479e"/><rect x="754.97" y="629.52" width="11.54" height="8.53" fill="#323997"/><rect x="766.36" y="629.52" width="11.54" height="8.53" fill="#323997"/><rect x="606.9" y="637.9" width="11.54" height="8.53" fill="#8fc2dd"/><rect x="618.29" y="637.9" width="11.54" height="8.53" fill="#79b1d3"/><rect x="629.68" y="637.9" width="11.54" height="8.53" fill="#5a8dc1"/><rect x="641.07" y="637.9" width="11.54" height="8.53" fill="#4a7bb7"/><rect x="652.46" y="637.9" width="11.54" height="8.53" fill="#3e60aa"/><rect x="663.85" y="637.9" width="11.54" height="8.53" fill="#4067ad"/><rect x="675.24" y="637.9" width="11.54" height="8.53" fill="#35449c"/><rect x="686.63" y="637.9" width="11.54" height="8.53" fill="#384b9f"/><rect x="698.02" y="637.9" width="11.54" height="8.53" fill="#313695"/><rect x="709.41" y="637.9" width="11.54" height="8.53" fill="#37479e"/><rect x="720.8" y="637.9" width="11.54" height="8.53" fill="#333d98"/><rect x="732.19" y="637.9" width="11.54" height="8.53" fill="#34409a"/><rect x="743.58" y="637.9" width="11.54" height="8.53" fill="#37479e"/><rect x="754.97" y="637.9" width="11.54" height="8.53" fill="#333d98"/><rect x="766.36" y="637.9" width="11.54" height="8.53" fill="#333d98"/><rect x="606.9" y="646.28" width="11.54" height="8.53" fill="#8fc2dd"/><rect x="618.29" y="646.28" width="11.54" height="8.53" fill="#73acd1"/><rect x="629.68" y="646.28" width="11.54" height="8.53" fill="#578abf"/><rect x="641.07" y="646.28" width="11.54" height="8.53" fill="#436eb0"/><rect x="652.46" y="646.28" width="11.54" height="8.53" fill="#4067ad"/><rect x="663.85" y="646.28" width="11.54" height="8.53" fill="#3d5ca8"/><rect x="675.24" y="646.28" width="11.54" height="8.53" fill="#35449c"/><rect x="686.63" y="646.28" width="11.54" height="8.53" fill="#384b9f"/><rect x="698.02" y="646.28" width="11.54" height="8.53" fill="#313695"/><rect x="709.41" y="646.28" width="11.54" height="8.53" fill="#333d98"/><rect x="720.8" y="646.28" width="11.54" height="8.53" fill="#323997"/><rect x="732.19" y="646.28" width="11.54" height="8.53" fill="#34409a"/><rect x="743.58" y="646.28" width="11.54" height="8.53" fill="#34409a"/><rect x="754.97" y="646.28" width="11.54" height="8.53" fill="#34409a"/><rect x="766.36" y="646.28" width="11.54" height="8.53" fill="#34409a"/><rect x="606.9" y="654.66" width="11.54" height="8.53" fill="#73acd1"/><rect x="618.29" y="654.66" width="11.54" height="8.53" fill="#649ac7"/><rect x="629.68" y="654.66" width="11.54" height="8.53" fill="#5487bd"/><rect x="641.07" y="654.66" width="11.54" height="8.53" fill="#4575b4"/><rect x="652.46" y="654.66" width="11.54" height="8.53" fill="#3a52a3"/><rect x="663.85" y="654.66" width="11.54" height="8.53" fill="#3f63ab"/><rect x="675.24" y="654.66" width="11.54" height="8.53" fill="#35449c"/><rect x="686.63" y="654.66" width="11.54" height="8.53" fill="#35449c"/><rect x="698.02" y="654.66" width="11.54" height="8.53" fill="#313695"/><rect x="709.41" y="654.66" width="11.54" height="8.53" fill="#37479e"/><rect x="720.8" y="654.66" width="11.54" height="8.53" fill="#333d98"/><rect x="732.19" y="654.66" width="11.54" height="8.53" fill="#34409a"/><rect x="743.58" y="654.66" width="11.54" height="8.53" fill="#37479e"/><rect x="754.97" y="654.66" width="11.54" height="8.53" fill="#323997"/><rect x="766.36" y="654.66" width="11.54" height="8.53" fill="#323997"/><rect x="606.9" y="663.04" width="11.54" height="8.53" fill="#6ea6cd"/><rect x="618.29" y="663.04" width="11.54" height="8.53" fill="#5f94c4"/><rect x="629.68" y="663.04" width="11.54" height="8.53" fill="#4778b5"/><rect x="641.07" y="663.04" width="11.54" height="8.53" fill="#3f63ab"/><rect x="652.46" y="663.04" width="11.54" height="8.53" fill="#3f63ab"/><rect x="663.85" y="663.04" width="11.54" height="8.53" fill="#3f63ab"/><rect x="675.24" y="663.04" width="11.54" height="8.53" fill="#313695"/><rect x="686.63" y="663.04" width="11.54" height="8.53" fill="#37479e"/><rect x="698.02" y="663.04" width="11.54" height="8.53" fill="#313695"/><rect x="709.41" y="663.04" width="11.54" height="8.53" fill="#34409a"/><rect x="720.8" y="663.04" width="11.54" height="8.53" fill="#323997"/><rect x="732.19" y="663.04" width="11.54" height="8.53" fill="#333d98"/><rect x="743.58" y="663.04" width="11.54" height="8.53" fill="#37479e"/><rect x="754.97" y="663.04" width="11.54" height="8.53" fill="#323997"/><rect x="766.36" y="663.04" width="11.54" height="8.53" fill="#323997"/><rect x="606.9" y="671.42" width="11.54" height="8.53" fill="#6ea6cd"/><rect x="618.29" y="671.42" width="11.54" height="8.53" fill="#649ac7"/><rect x="629.68" y="671.42" width="11.54" height="8.53" fill="#4f81ba"/><rect x="641.07" y="671.42" width="11.54" height="8.53" fill="#436eb0"/><rect x="652.46" y="671.42" width="11.54" height="8.53" fill="#3e60aa"/><rect x="663.85" y="671.42" width="11.54" height="8.53" fill="#3d5ca8"/><rect x="675.24" y="671.42" width="11.54" height="8.53" fill="#35449c"/><rect x="686.63" y="671.42" width="11.54" height="8.53" fill="#37479e"/><rect x="698.02" y="671.42" width="11.54" height="8.53" fill="#313695"/><rect x="709.41" y="671.42" width="11.54" height="8.53" fill="#333d98"/><rect x="720.8" y="671.42" width="11.54" height="8.53" fill="#323997"/><rect x="732.19" y="671.42" width="11.54" height="8.53" fill="#333d98"/><rect x="743.58" y="671.42" width="11.54" height="8.53" fill="#37479e"/><rect x="754.97" y="671.42" width="11.54" height="8.53" fill="#333d98"/><rect x="766.36" y="671.42" width="11.54" height="8.53" fill="#333d98"/><rect x="606.9" y="679.8" width="11.54" height="8.53" fill="#76afd2"/><rect x="618.29" y="679.8" width="11.54" height="8.53" fill="#6197c5"/><rect x="629.68" y="679.8" width="11.54" height="8.53" fill="#4f81ba"/><rect x="641.07" y="679.8" width="11.54" height="8.53" fill="#426aaf"/><rect x="652.46" y="679.8" width="11.54" height="8.53" fill="#3d5ca8"/><rect x="663.85" y="679.8" width="11.54" height="8.53" fill="#3c59a6"/><rect x="675.24" y="679.8" width="11.54" height="8.53" fill="#35449c"/><rect x="686.63" y="679.8" width="11.54" height="8.53" fill="#37479e"/><rect x="698.02" y="679.8" width="11.54" height="8.53" fill="#313695"/><rect x="709.41" y="679.8" width="11.54" height="8.53" fill="#323997"/><rect x="720.8" y="679.8" width="11.54" height="8.53" fill="#323997"/><rect x="732.19" y="679.8" width="11.54" height="8.53" fill="#333d98"/><rect x="743.58" y="679.8" width="11.54" height="8.53" fill="#37479e"/><rect x="754.97" y="679.8" width="11.54" height="8.53" fill="#333d98"/><rect x="766.36" y="679.8" width="11.54" height="8.53" fill="#333d98"/><rect x="606.9" y="688.18" width="11.54" height="8.53" fill="#71a9cf"/><rect x="618.29" y="688.18" width="11.54" height="8.53" fill="#6197c5"/><rect x="629.68" y="688.18" width="11.54" height="8.53" fill="#4778b5"/><rect x="641.07" y="688.18" width="11.54" height="8.53" fill="#3b55a4"/><rect x="652.46" y="688.18" width="11.54" height="8.53" fill="#3d5ca8"/><rect x="663.85" y="688.18" width="11.54" height="8.53" fill="#3d5ca8"/><rect x="675.24" y="688.18" width="11.54" height="8.53" fill="#333d98"/><rect x="686.63" y="688.18" width="11.54" height="8.53" fill="#384b9f"/><rect x="698.02" y="688.18" width="11.54" height="8.53" fill="#313695"/><rect x="709.41" y="688.18" width="11.54" height="8.53" fill="#34409a"/><rect x="720.8" y="688.18" width="11.54" height="8.53" fill="#323997"/><rect x="732.19" y="688.18" width="11.54" height="8.53" fill="#34409a"/><rect x="743.58" y="688.18" width="11.54" height="8.53" fill="#34409a"/><rect x="754.97" y="688.18" width="11.54" height="8.53" fill="#333d98"/><rect x="766.36" y="688.18" width="11.54" height="8.53" fill="#333d98"/><rect x="606.9" y="696.56" width="11.54" height="8.53" fill="#73acd1"/><rect x="618.29" y="696.56" width="11.54" height="8.53" fill="#5c91c2"/><rect x="629.68" y="696.56" width="11.54" height="8.53" fill="#4471b2"/><rect x="641.07" y="696.56" width="11.54" height="8.53" fill="#3f63ab"/><rect x="652.46" y="696.56" width="11.54" height="8.53" fill="#394ea1"/><rect x="663.85" y="696.56" width="11.54" height="8.53" fill="#3c59a6"/><rect x="675.24" y="696.56" width="11.54" height="8.53" fill="#313695"/><rect x="686.63" y="696.56" width="11.54" height="8.53" fill="#34409a"/><rect x="698.02" y="696.56" width="11.54" height="8.53" fill="#313695"/><rect x="709.41" y="696.56" width="11.54" height="8.53" fill="#35449c"/><rect x="720.8" y="696.56" width="11.54" height="8.53" fill="#313695"/><rect x="732.19" y="696.56" width="11.54" height="8.53" fill="#323997"/><rect x="743.58" y="696.56" width="11.54" height="8.53" fill="#35449c"/><rect x="754.97" y="696.56" width="11.54" height="8.53" fill="#34409a"/><rect x="766.36" y="696.56" width="11.54" height="8.53" fill="#34409a"/><rect x="606.9" y="704.94" width="11.54" height="8.53" fill="#5487bd"/><rect x="618.29" y="704.94" width="11.54" height="8.53" fill="#4a7bb7"/><rect x="629.68" y="704.94" width="11.54" height="8.53" fill="#4067ad"/><rect x="641.07" y="704.94" width="11.54" height="8.53" fill="#3e60aa"/><rect x="652.46" y="704.94" width="11.54" height="8.53" fill="#3c59a6"/><rect x="663.85" y="704.94" width="11.54" height="8.53" fill="#3e60aa"/><rect x="675.24" y="704.94" width="11.54" height="8.53" fill="#313695"/><rect x="686.63" y="704.94" width="11.54" height="8.53" fill="#37479e"/><rect x="698.02" y="704.94" width="11.54" height="8.53" fill="#313695"/><rect x="709.41" y="704.94" width="11.54" height="8.53" fill="#34409a"/><rect x="720.8" y="704.94" width="11.54" height="8.53" fill="#313695"/><rect x="732.19" y="704.94" width="11.54" height="8.53" fill="#333d98"/><rect x="743.58" y="704.94" width="11.54" height="8.53" fill="#35449c"/><rect x="754.97" y="704.94" width="11.54" height="8.53" fill="#323997"/><rect x="766.36" y="704.94" width="11.54" height="8.53" fill="#323997"/><rect x="606.9" y="713.32" width="11.54" height="8.53" fill="#578abf"/><rect x="618.29" y="713.32" width="11.54" height="8.53" fill="#4778b5"/><rect x="629.68" y="713.32" width="11.54" height="8.53" fill="#3c59a6"/><rect x="641.07" y="713.32" width="11.54" height="8.53" fill="#4a7bb7"/><rect x="652.46" y="713.32" width="11.54" height="8.53" fill="#35449c"/><rect x="663.85" y="713.32" width="11.54" height="8.53" fill="#394ea1"/><rect x="675.24" y="713.32" width="11.54" height="8.53" fill="#35449c"/><rect x="686.63" y="713.32" width="11.54" height="8.53" fill="#34409a"/><rect x="698.02" y="713.32" width="11.54" height="8.53" fill="#313695"/><rect x="709.41" y="713.32" width="11.54" height="8.53" fill="#333d98"/><rect x="720.8" y="713.32" width="11.54" height="8.53" fill="#323997"/><rect x="732.19" y="713.32" width="11.54" height="8.53" fill="#333d98"/><rect x="743.58" y="713.32" width="11.54" height="8.53" fill="#34409a"/><rect x="754.97" y="713.32" width="11.54" height="8.53" fill="#313695"/><rect x="766.36" y="713.32" width="11.54" height="8.53" fill="#313695"/><rect x="606.9" y="721.7" width="11.54" height="8.53" fill="#4f81ba"/><rect x="618.29" y="721.7" width="11.54" height="8.53" fill="#4471b2"/><rect x="629.68" y="721.7" width="11.54" height="8.53" fill="#3f63ab"/><rect x="641.07" y="721.7" width="11.54" height="8.53" fill="#3e60aa"/><rect x="652.46" y="721.7" width="11.54" height="8.53" fill="#323997"/><rect x="663.85" y="721.7" width="11.54" height="8.53" fill="#3a52a3"/><rect x="675.24" y="721.7" width="11.54" height="8.53" fill="#313695"/><rect x="686.63" y="721.7" width="11.54" height="8.53" fill="#34409a"/><rect x="698.02" y="721.7" width="11.54" height="8.53" fill="#313695"/><rect x="709.41" y="721.7" width="11.54" height="8.53" fill="#34409a"/><rect x="720.8" y="721.7" width="11.54" height="8.53" fill="#313695"/><rect x="732.19" y="721.7" width="11.54" height="8.53" fill="#333d98"/><rect x="743.58" y="721.7" width="11.54" height="8.53" fill="#35449c"/><rect x="754.97" y="721.7" width="11.54" height="8.53" fill="#323997"/><rect x="766.36" y="721.7" width="11.54" height="8.53" fill="#323997"/><rect x="606.9" y="730.08" width="11.54" height="8.53" fill="#4a7bb7"/><rect x="618.29" y="730.08" width="11.54" height="8.53" fill="#4778b5"/><rect x="629.68" y="730.08" width="11.54" height="8.53" fill="#3e60aa"/><rect x="641.07" y="730.08" width="11.54" height="8.53" fill="#34409a"/><rect x="652.46" y="730.08" width="11.54" height="8.53" fill="#3a52a3"/><rect x="663.85" y="730.08" width="11.54" height="8.53" fill="#384b9f"/><rect x="675.24" y="730.08" width="11.54" height="8.53" fill="#35449c"/><rect x="686.63" y="730.08" width="11.54" height="8.53" fill="#35449c"/><rect x="698.02" y="730.08" width="11.54" height="8.53" fill="#313695"/><rect x="709.41" y="730.08" width="11.54" height="8.53" fill="#323997"/><rect x="720.8" y="730.08" width="11.54" height="8.53" fill="#323997"/><rect x="732.19" y="730.08" width="11.54" height="8.53" fill="#323997"/><rect x="743.58" y="730.08" width="11.54" height="8.53" fill="#323997"/><rect x="754.97" y="730.08" width="11.54" height="8.53" fill="#323997"/><rect x="766.36" y="730.08" width="11.54" height="8.53" fill="#323997"/><rect x="606.9" y="738.46" width="11.54" height="8.53" fill="#4f81ba"/><rect x="618.29" y="738.46" width="11.54" height="8.53" fill="#4a7bb7"/><rect x="629.68" y="738.46" width="11.54" height="8.53" fill="#4067ad"/><rect x="641.07" y="738.46" width="11.54" height="8.53" fill="#333d98"/><rect x="652.46" y="738.46" width="11.54" height="8.53" fill="#5487bd"/><rect x="663.85" y="738.46" width="11.54" height="8.53" fill="#37479e"/><rect x="675.24" y="738.46" width="11.54" height="8.53" fill="#313695"/><rect x="686.63" y="738.46" width="11.54" height="8.53" fill="#333d98"/><rect x="698.02" y="738.46" width="11.54" height="8.53" fill="#313695"/><rect x="709.41" y="738.46" width="11.54" height="8.53" fill="#333d98"/><rect x="720.8" y="738.46" width="11.54" height="8.53" fill="#323997"/><rect x="732.19" y="738.46" width="11.54" height="8.53" fill="#313695"/><rect x="743.58" y="738.46" width="11.54" height="8.53" fill="#313695"/><rect x="754.97" y="738.46" width="11.54" height="8.53" fill="#333d98"/><rect x="766.36" y="738.46" width="11.54" height="8.53" fill="#333d98"/><rect x="606.9" y="746.84" width="11.54" height="8.53" fill="#4f81ba"/><rect x="618.29" y="746.84" width="11.54" height="8.53" fill="#436eb0"/><rect x="629.68" y="746.84" width="11.54" height="8.53" fill="#3c59a6"/><rect x="641.07" y="746.84" width="11.54" height="8.53" fill="#394ea1"/><rect x="652.46" y="746.84" width="11.54" height="8.53" fill="#35449c"/><rect x="663.85" y="746.84" width="11.54" height="8.53" fill="#394ea1"/><rect x="675.24" y="746.84" width="11.54" height="8.53" fill="#34409a"/><rect x="686.63" y="746.84" width="11.54" height="8.53" fill="#34409a"/><rect x="698.02" y="746.84" width="11.54" height="8.53" fill="#313695"/><rect x="709.41" y="746.84" width="11.54" height="8.53" fill="#34409a"/><rect x="720.8" y="746.84" width="11.54" height="8.53" fill="#34409a"/><rect x="732.19" y="746.84" width="11.54" height="8.53" fill="#323997"/><rect x="743.58" y="746.84" width="11.54" height="8.53" fill="#333d98"/><rect x="754.97" y="746.84" width="11.54" height="8.53" fill="#333d98"/><rect x="766.36" y="746.84" width="11.54" height="8.53" fill="#333d98"/><rect x="606.9" y="755.22" width="11.54" height="8.53" fill="#4575b4"/><rect x="618.29" y="755.22" width="11.54" height="8.53" fill="#426aaf"/><rect x="629.68" y="755.22" width="11.54" height="8.53" fill="#4067ad"/><rect x="641.07" y="755.22" width="11.54" height="8.53" fill="#37479e"/><rect x="652.46" y="755.22" width="11.54" height="8.53" fill="#384b9f"/><rect x="663.85" y="755.22" width="11.54" height="8.53" fill="#384b9f"/><rect x="675.24" y="755.22" width="11.54" height="8.53" fill="#35449c"/><rect x="686.63" y="755.22" width="11.54" height="8.53" fill="#333d98"/><rect x="698.02" y="755.22" width="11.54" height="8.53" fill="#313695"/><rect x="709.41" y="755.22" width="11.54" height="8.53" fill="#34409a"/><rect x="720.8" y="755.22" width="11.54" height="8.53" fill="#333d98"/><rect x="732.19" y="755.22" width="11.54" height="8.53" fill="#333d98"/><rect x="743.58" y="755.22" width="11.54" height="8.53" fill="#333d98"/><rect x="754.97" y="755.22" width="11.54" height="8.53" fill="#323997"/><rect x="766.36" y="755.22" width="11.54" height="8.53" fill="#323997"/><rect x="606.9" y="763.6" width="11.54" height="8.53" fill="#4471b2"/><rect x="618.29" y="763.6" width="11.54" height="8.53" fill="#3f63ab"/><rect x="629.68" y="763.6" width="11.54" height="8.53" fill="#3a52a3"/><rect x="641.07" y="763.6" width="11.54" height="8.53" fill="#4067ad"/><rect x="652.46" y="763.6" width="11.54" height="8.53" fill="#323997"/><rect x="663.85" y="763.6" width="11.54" height="8.53" fill="#3a52a3"/><rect x="675.24" y="763.6" width="11.54" height="8.53" fill="#313695"/><rect x="686.63" y="763.6" width="11.54" height="8.53" fill="#34409a"/><rect x="698.02" y="763.6" width="11.54" height="8.53" fill="#313695"/><rect x="709.41" y="763.6" width="11.54" height="8.53" fill="#333d98"/><rect x="720.8" y="763.6" width="11.54" height="8.53" fill="#313695"/><rect x="732.19" y="763.6" width="11.54" height="8.53" fill="#323997"/><rect x="743.58" y="763.6" width="11.54" height="8.53" fill="#37479e"/><rect x="754.97" y="763.6" width="11.54" height="8.53" fill="#323997"/><rect x="766.36" y="763.6" width="11.54" height="8.53" fill="#323997"/><rect x="606.9" y="771.98" width="11.54" height="8.53" fill="#4471b2"/><rect x="618.29" y="771.98" width="11.54" height="8.53" fill="#3e60aa"/><rect x="629.68" y="771.98" width="11.54" height="8.53" fill="#394ea1"/><rect x="641.07" y="771.98" width="11.54" height="8.53" fill="#4067ad"/><rect x="652.46" y="771.98" width="11.54" height="8.53" fill="#323997"/><rect x="663.85" y="771.98" width="11.54" height="8.53" fill="#3a52a3"/><rect x="675.24" y="771.98" width="11.54" height="8.53" fill="#313695"/><rect x="686.63" y="771.98" width="11.54" height="8.53" fill="#34409a"/><rect x="698.02" y="771.98" width="11.54" height="8.53" fill="#313695"/><rect x="709.41" y="771.98" width="11.54" height="8.53" fill="#333d98"/><rect x="720.8" y="771.98" width="11.54" height="8.53" fill="#313695"/><rect x="732.19" y="771.98" width="11.54" height="8.53" fill="#323997"/><rect x="743.58" y="771.98" width="11.54" height="8.53" fill="#37479e"/><rect x="754.97" y="771.98" width="11.54" height="8.53" fill="#323997"/><rect x="766.36" y="771.98" width="11.54" height="8.53" fill="#323997"/><rect x="606.9" y="780.36" width="11.54" height="8.53" fill="#436eb0"/><rect x="618.29" y="780.36" width="11.54" height="8.53" fill="#4067ad"/><rect x="629.68" y="780.36" width="11.54" height="8.53" fill="#3f63ab"/><rect x="641.07" y="780.36" width="11.54" height="8.53" fill="#35449c"/><rect x="652.46" y="780.36" width="11.54" height="8.53" fill="#384b9f"/><rect x="663.85" y="780.36" width="11.54" height="8.53" fill="#37479e"/><rect x="675.24" y="780.36" width="11.54" height="8.53" fill="#35449c"/><rect x="686.63" y="780.36" width="11.54" height="8.53" fill="#323997"/><rect x="698.02" y="780.36" width="11.54" height="8.53" fill="#313695"/><rect x="709.41" y="780.36" width="11.54" height="8.53" fill="#333d98"/><rect x="720.8" y="780.36" width="11.54" height="8.53" fill="#323997"/><rect x="732.19" y="780.36" width="11.54" height="8.53" fill="#333d98"/><rect x="743.58" y="780.36" width="11.54" height="8.53" fill="#333d98"/><rect x="754.97" y="780.36" width="11.54" height="8.53" fill="#323997"/><rect x="766.36" y="780.36" width="11.54" height="8.53" fill="#323997"/><rect x="606.9" y="788.74" width="11.54" height="8.53" fill="#4778b5"/><rect x="618.29" y="788.74" width="11.54" height="8.53" fill="#4067ad"/><rect x="629.68" y="788.74" width="11.54" height="8.53" fill="#3d5ca8"/><rect x="641.07" y="788.74" width="11.54" height="8.53" fill="#3a52a3"/><rect x="652.46" y="788.74" width="11.54" height="8.53" fill="#34409a"/><rect x="663.85" y="788.74" width="11.54" height="8.53" fill="#394ea1"/><rect x="675.24" y="788.74" width="11.54" height="8.53" fill="#313695"/><rect x="686.63" y="788.74" width="11.54" height="8.53" fill="#333d98"/><rect x="698.02" y="788.74" width="11.54" height="8.53" fill="#313695"/><rect x="709.41" y="788.74" width="11.54" height="8.53" fill="#323997"/><rect x="720.8" y="788.74" width="11.54" height="8.53" fill="#313695"/><rect x="732.19" y="788.74" width="11.54" height="8.53" fill="#333d98"/><rect x="743.58" y="788.74" width="11.54" height="8.53" fill="#35449c"/><rect x="754.97" y="788.74" width="11.54" height="8.53" fill="#313695"/><rect x="766.36" y="788.74" width="11.54" height="8.53" fill="#313695"/><rect x="606.9" y="797.12" width="11.54" height="8.53" fill="#5487bd"/><rect x="618.29" y="797.12" width="11.54" height="8.53" fill="#4575b4"/><rect x="629.68" y="797.12" width="11.54" height="8.53" fill="#3f63ab"/><rect x="641.07" y="797.12" width="11.54" height="8.53" fill="#313695"/><rect x="652.46" y="797.12" width="11.54" height="8.53" fill="#384b9f"/><rect x="663.85" y="797.12" width="11.54" height="8.53" fill="#394ea1"/><rect x="675.24" y="797.12" width="11.54" height="8.53" fill="#313695"/><rect x="686.63" y="797.12" width="11.54" height="8.53" fill="#323997"/><rect x="698.02" y="797.12" width="11.54" height="8.53" fill="#313695"/><rect x="709.41" y="797.12" width="11.54" height="8.53" fill="#323997"/><rect x="720.8" y="797.12" width="11.54" height="8.53" fill="#34409a"/><rect x="732.19" y="797.12" width="11.54" height="8.53" fill="#323997"/><rect x="743.58" y="797.12" width="11.54" height="8.53" fill="#323997"/><rect x="754.97" y="797.12" width="11.54" height="8.53" fill="#323997"/><rect x="766.36" y="797.12" width="11.54" height="8.53" fill="#323997"/></g>
<g font-size="6.3" text-anchor="middle" fill="#fff" fill-opacity="0.92"><text x="612.6" y="560.5">135</text><text x="624" y="560.5">181</text><text x="635.4" y="560.5">56</text><text x="646.8" y="560.5">0</text><text x="658.2" y="560.5">4</text><text x="669.5" y="560.5">5</text><text x="680.9" y="560.5">0</text><text x="692.3" y="560.5">0</text><text x="703.7" y="560.5">4</text><text x="715.1" y="560.5">2</text><text x="726.5" y="560.5">10</text><text x="737.9" y="560.5">1</text><text x="749.3" y="560.5">0</text><text x="760.7" y="560.5">0</text><text x="772.1" y="560.5">0</text><text x="612.6" y="568.9">80</text><text x="624" y="568.9">127</text><text x="635.4" y="568.9">35</text><text x="646.8" y="568.9">0</text><text x="658.2" y="568.9">4</text><text x="669.5" y="568.9">5</text><text x="680.9" y="568.9">0</text><text x="692.3" y="568.9">0</text><text x="703.7" y="568.9">2</text><text x="715.1" y="568.9">1</text><text x="726.5" y="568.9">8</text><text x="737.9" y="568.9">1</text><text x="749.3" y="568.9">0</text><text x="760.7" y="568.9">0</text><text x="772.1" y="568.9">0</text><text x="612.6" y="577.3">85</text><text x="624" y="577.3">113</text><text x="635.4" y="577.3">44</text><text x="646.8" y="577.3">0</text><text x="658.2" y="577.3">0</text><text x="669.5" y="577.3">0</text><text x="680.9" y="577.3">0</text><text x="692.3" y="577.3">0</text><text x="703.7" y="577.3">0</text><text x="715.1" y="577.3">1</text><text x="726.5" y="577.3">6</text><text x="737.9" y="577.3">0</text><text x="749.3" y="577.3">0</text><text x="760.7" y="577.3">0</text><text x="772.1" y="577.3">0</text><text x="612.6" y="585.6">65</text><text x="624" y="585.6">68</text><text x="635.4" y="585.6">29</text><text x="646.8" y="585.6">2</text><text x="658.2" y="585.6">7</text><text x="669.5" y="585.6">7</text><text x="680.9" y="585.6">2</text><text x="692.3" y="585.6">0</text><text x="703.7" y="585.6">11</text><text x="715.1" y="585.6">3</text><text x="726.5" y="585.6">5</text><text x="737.9" y="585.6">1</text><text x="749.3" y="585.6">0</text><text x="760.7" y="585.6">2</text><text x="772.1" y="585.6">2</text><text x="612.6" y="594">48</text><text x="624" y="594">38</text><text x="635.4" y="594">29</text><text x="646.8" y="594">21</text><text x="658.2" y="594">13</text><text x="669.5" y="594">14</text><text x="680.9" y="594">4</text><text x="692.3" y="594">9</text><text x="703.7" y="594">0</text><text x="715.1" y="594">3</text><text x="726.5" y="594">1</text><text x="737.9" y="594">3</text><text x="749.3" y="594">6</text><text x="760.7" y="594">2</text><text x="772.1" y="594">2</text><text x="612.6" y="602.4">50</text><text x="624" y="602.4">38</text><text x="635.4" y="602.4">29</text><text x="646.8" y="602.4">21</text><text x="658.2" y="602.4">14</text><text x="669.5" y="602.4">14</text><text x="680.9" y="602.4">4</text><text x="692.3" y="602.4">8</text><text x="703.7" y="602.4">0</text><text x="715.1" y="602.4">3</text><text x="726.5" y="602.4">1</text><text x="737.9" y="602.4">3</text><text x="749.3" y="602.4">6</text><text x="760.7" y="602.4">2</text><text x="772.1" y="602.4">2</text><text x="612.6" y="610.8">48</text><text x="624" y="610.8">38</text><text x="635.4" y="610.8">28</text><text x="646.8" y="610.8">21</text><text x="658.2" y="610.8">13</text><text x="669.5" y="610.8">14</text><text x="680.9" y="610.8">4</text><text x="692.3" y="610.8">9</text><text x="703.7" y="610.8">0</text><text x="715.1" y="610.8">3</text><text x="726.5" y="610.8">1</text><text x="737.9" y="610.8">3</text><text x="749.3" y="610.8">6</text><text x="760.7" y="610.8">2</text><text x="772.1" y="610.8">2</text><text x="612.6" y="619.2">45</text><text x="624" y="619.2">38</text><text x="635.4" y="619.2">26</text><text x="646.8" y="619.2">15</text><text x="658.2" y="619.2">16</text><text x="669.5" y="619.2">16</text><text x="680.9" y="619.2">1</text><text x="692.3" y="619.2">8</text><text x="703.7" y="619.2">0</text><text x="715.1" y="619.2">4</text><text x="726.5" y="619.2">1</text><text x="737.9" y="619.2">3</text><text x="749.3" y="619.2">5</text><text x="760.7" y="619.2">2</text><text x="772.1" y="619.2">2</text><text x="612.6" y="627.5">45</text><text x="624" y="627.5">37</text><text x="635.4" y="627.5">23</text><text x="646.8" y="627.5">16</text><text x="658.2" y="627.5">16</text><text x="669.5" y="627.5">15</text><text x="680.9" y="627.5">2</text><text x="692.3" y="627.5">8</text><text x="703.7" y="627.5">0</text><text x="715.1" y="627.5">4</text><text x="726.5" y="627.5">1</text><text x="737.9" y="627.5">3</text><text x="749.3" y="627.5">5</text><text x="760.7" y="627.5">2</text><text x="772.1" y="627.5">2</text><text x="612.6" y="635.9">44</text><text x="624" y="635.9">37</text><text x="635.4" y="635.9">24</text><text x="646.8" y="635.9">16</text><text x="658.2" y="635.9">16</text><text x="669.5" y="635.9">15</text><text x="680.9" y="635.9">2</text><text x="692.3" y="635.9">8</text><text x="703.7" y="635.9">0</text><text x="715.1" y="635.9">4</text><text x="726.5" y="635.9">1</text><text x="737.9" y="635.9">3</text><text x="749.3" y="635.9">5</text><text x="760.7" y="635.9">1</text><text x="772.1" y="635.9">1</text><text x="612.6" y="644.3">45</text><text x="624" y="644.3">38</text><text x="635.4" y="644.3">26</text><text x="646.8" y="644.3">20</text><text x="658.2" y="644.3">12</text><text x="669.5" y="644.3">14</text><text x="680.9" y="644.3">4</text><text x="692.3" y="644.3">6</text><text x="703.7" y="644.3">0</text><text x="715.1" y="644.3">5</text><text x="726.5" y="644.3">2</text><text x="737.9" y="644.3">3</text><text x="749.3" y="644.3">5</text><text x="760.7" y="644.3">2</text><text x="772.1" y="644.3">2</text><text x="612.6" y="652.7">45</text><text x="624" y="652.7">36</text><text x="635.4" y="652.7">25</text><text x="646.8" y="652.7">16</text><text x="658.2" y="652.7">14</text><text x="669.5" y="652.7">11</text><text x="680.9" y="652.7">4</text><text x="692.3" y="652.7">6</text><text x="703.7" y="652.7">0</text><text x="715.1" y="652.7">2</text><text x="726.5" y="652.7">1</text><text x="737.9" y="652.7">3</text><text x="749.3" y="652.7">3</text><text x="760.7" y="652.7">3</text><text x="772.1" y="652.7">3</text><text x="612.6" y="661.1">36</text><text x="624" y="661.1">30</text><text x="635.4" y="661.1">24</text><text x="646.8" y="661.1">18</text><text x="658.2" y="661.1">8</text><text x="669.5" y="661.1">13</text><text x="680.9" y="661.1">4</text><text x="692.3" y="661.1">4</text><text x="703.7" y="661.1">0</text><text x="715.1" y="661.1">5</text><text x="726.5" y="661.1">2</text><text x="737.9" y="661.1">3</text><text x="749.3" y="661.1">5</text><text x="760.7" y="661.1">1</text><text x="772.1" y="661.1">1</text><text x="612.6" y="669.4">34</text><text x="624" y="669.4">28</text><text x="635.4" y="669.4">19</text><text x="646.8" y="669.4">13</text><text x="658.2" y="669.4">13</text><text x="669.5" y="669.4">13</text><text x="680.9" y="669.4">0</text><text x="692.3" y="669.4">5</text><text x="703.7" y="669.4">0</text><text x="715.1" y="669.4">3</text><text x="726.5" y="669.4">1</text><text x="737.9" y="669.4">2</text><text x="749.3" y="669.4">5</text><text x="760.7" y="669.4">1</text><text x="772.1" y="669.4">1</text><text x="612.6" y="677.8">34</text><text x="624" y="677.8">30</text><text x="635.4" y="677.8">22</text><text x="646.8" y="677.8">16</text><text x="658.2" y="677.8">12</text><text x="669.5" y="677.8">11</text><text x="680.9" y="677.8">4</text><text x="692.3" y="677.8">5</text><text x="703.7" y="677.8">0</text><text x="715.1" y="677.8">2</text><text x="726.5" y="677.8">1</text><text x="737.9" y="677.8">2</text><text x="749.3" y="677.8">5</text><text x="760.7" y="677.8">2</text><text x="772.1" y="677.8">2</text><text x="612.6" y="686.2">37</text><text x="624" y="686.2">29</text><text x="635.4" y="686.2">22</text><text x="646.8" y="686.2">15</text><text x="658.2" y="686.2">11</text><text x="669.5" y="686.2">10</text><text x="680.9" y="686.2">4</text><text x="692.3" y="686.2">5</text><text x="703.7" y="686.2">0</text><text x="715.1" y="686.2">1</text><text x="726.5" y="686.2">1</text><text x="737.9" y="686.2">2</text><text x="749.3" y="686.2">5</text><text x="760.7" y="686.2">2</text><text x="772.1" y="686.2">2</text><text x="612.6" y="694.6">35</text><text x="624" y="694.6">29</text><text x="635.4" y="694.6">19</text><text x="646.8" y="694.6">9</text><text x="658.2" y="694.6">11</text><text x="669.5" y="694.6">11</text><text x="680.9" y="694.6">2</text><text x="692.3" y="694.6">6</text><text x="703.7" y="694.6">0</text><text x="715.1" y="694.6">3</text><text x="726.5" y="694.6">1</text><text x="737.9" y="694.6">3</text><text x="749.3" y="694.6">3</text><text x="760.7" y="694.6">2</text><text x="772.1" y="694.6">2</text><text x="612.6" y="703">36</text><text x="624" y="703">27</text><text x="635.4" y="703">17</text><text x="646.8" y="703">13</text><text x="658.2" y="703">7</text><text x="669.5" y="703">10</text><text x="680.9" y="703">0</text><text x="692.3" y="703">3</text><text x="703.7" y="703">0</text><text x="715.1" y="703">4</text><text x="726.5" y="703">0</text><text x="737.9" y="703">1</text><text x="749.3" y="703">4</text><text x="760.7" y="703">3</text><text x="772.1" y="703">3</text><text x="612.6" y="711.3">24</text><text x="624" y="711.3">20</text><text x="635.4" y="711.3">14</text><text x="646.8" y="711.3">12</text><text x="658.2" y="711.3">10</text><text x="669.5" y="711.3">12</text><text x="680.9" y="711.3">0</text><text x="692.3" y="711.3">5</text><text x="703.7" y="711.3">0</text><text x="715.1" y="711.3">3</text><text x="726.5" y="711.3">0</text><text x="737.9" y="711.3">2</text><text x="749.3" y="711.3">4</text><text x="760.7" y="711.3">1</text><text x="772.1" y="711.3">1</text><text x="612.6" y="719.7">25</text><text x="624" y="719.7">19</text><text x="635.4" y="719.7">10</text><text x="646.8" y="719.7">20</text><text x="658.2" y="719.7">4</text><text x="669.5" y="719.7">7</text><text x="680.9" y="719.7">4</text><text x="692.3" y="719.7">3</text><text x="703.7" y="719.7">0</text><text x="715.1" y="719.7">2</text><text x="726.5" y="719.7">1</text><text x="737.9" y="719.7">2</text><text x="749.3" y="719.7">3</text><text x="760.7" y="719.7">0</text><text x="772.1" y="719.7">0</text><text x="612.6" y="728.1">22</text><text x="624" y="728.1">17</text><text x="635.4" y="728.1">13</text><text x="646.8" y="728.1">12</text><text x="658.2" y="728.1">1</text><text x="669.5" y="728.1">8</text><text x="680.9" y="728.1">0</text><text x="692.3" y="728.1">3</text><text x="703.7" y="728.1">0</text><text x="715.1" y="728.1">3</text><text x="726.5" y="728.1">0</text><text x="737.9" y="728.1">2</text><text x="749.3" y="728.1">4</text><text x="760.7" y="728.1">1</text><text x="772.1" y="728.1">1</text><text x="612.6" y="736.5">20</text><text x="624" y="736.5">19</text><text x="635.4" y="736.5">12</text><text x="646.8" y="736.5">3</text><text x="658.2" y="736.5">8</text><text x="669.5" y="736.5">6</text><text x="680.9" y="736.5">4</text><text x="692.3" y="736.5">4</text><text x="703.7" y="736.5">0</text><text x="715.1" y="736.5">1</text><text x="726.5" y="736.5">1</text><text x="737.9" y="736.5">1</text><text x="749.3" y="736.5">1</text><text x="760.7" y="736.5">1</text><text x="772.1" y="736.5">1</text><text x="612.6" y="744.9">22</text><text x="624" y="744.9">20</text><text x="635.4" y="744.9">14</text><text x="646.8" y="744.9">2</text><text x="658.2" y="744.9">24</text><text x="669.5" y="744.9">5</text><text x="680.9" y="744.9">0</text><text x="692.3" y="744.9">2</text><text x="703.7" y="744.9">0</text><text x="715.1" y="744.9">2</text><text x="726.5" y="744.9">1</text><text x="737.9" y="744.9">0</text><text x="749.3" y="744.9">0</text><text x="760.7" y="744.9">2</text><text x="772.1" y="744.9">2</text><text x="612.6" y="753.2">22</text><text x="624" y="753.2">16</text><text x="635.4" y="753.2">10</text><text x="646.8" y="753.2">7</text><text x="658.2" y="753.2">4</text><text x="669.5" y="753.2">7</text><text x="680.9" y="753.2">3</text><text x="692.3" y="753.2">3</text><text x="703.7" y="753.2">0</text><text x="715.1" y="753.2">3</text><text x="726.5" y="753.2">3</text><text x="737.9" y="753.2">1</text><text x="749.3" y="753.2">2</text><text x="760.7" y="753.2">2</text><text x="772.1" y="753.2">2</text><text x="612.6" y="761.6">18</text><text x="624" y="761.6">15</text><text x="635.4" y="761.6">14</text><text x="646.8" y="761.6">5</text><text x="658.2" y="761.6">6</text><text x="669.5" y="761.6">6</text><text x="680.9" y="761.6">4</text><text x="692.3" y="761.6">2</text><text x="703.7" y="761.6">0</text><text x="715.1" y="761.6">3</text><text x="726.5" y="761.6">2</text><text x="737.9" y="761.6">2</text><text x="749.3" y="761.6">2</text><text x="760.7" y="761.6">1</text><text x="772.1" y="761.6">1</text><text x="612.6" y="770">17</text><text x="624" y="770">13</text><text x="635.4" y="770">8</text><text x="646.8" y="770">14</text><text x="658.2" y="770">1</text><text x="669.5" y="770">8</text><text x="680.9" y="770">0</text><text x="692.3" y="770">3</text><text x="703.7" y="770">0</text><text x="715.1" y="770">2</text><text x="726.5" y="770">0</text><text x="737.9" y="770">1</text><text x="749.3" y="770">5</text><text x="760.7" y="770">1</text><text x="772.1" y="770">1</text><text x="612.6" y="778.4">17</text><text x="624" y="778.4">12</text><text x="635.4" y="778.4">7</text><text x="646.8" y="778.4">14</text><text x="658.2" y="778.4">1</text><text x="669.5" y="778.4">8</text><text x="680.9" y="778.4">0</text><text x="692.3" y="778.4">3</text><text x="703.7" y="778.4">0</text><text x="715.1" y="778.4">2</text><text x="726.5" y="778.4">0</text><text x="737.9" y="778.4">1</text><text x="749.3" y="778.4">5</text><text x="760.7" y="778.4">1</text><text x="772.1" y="778.4">1</text><text x="612.6" y="786.8">16</text><text x="624" y="786.8">14</text><text x="635.4" y="786.8">13</text><text x="646.8" y="786.8">4</text><text x="658.2" y="786.8">6</text><text x="669.5" y="786.8">5</text><text x="680.9" y="786.8">4</text><text x="692.3" y="786.8">1</text><text x="703.7" y="786.8">0</text><text x="715.1" y="786.8">2</text><text x="726.5" y="786.8">1</text><text x="737.9" y="786.8">2</text><text x="749.3" y="786.8">2</text><text x="760.7" y="786.8">1</text><text x="772.1" y="786.8">1</text><text x="612.6" y="795.1">19</text><text x="624" y="795.1">14</text><text x="635.4" y="795.1">11</text><text x="646.8" y="795.1">8</text><text x="658.2" y="795.1">3</text><text x="669.5" y="795.1">7</text><text x="680.9" y="795.1">0</text><text x="692.3" y="795.1">2</text><text x="703.7" y="795.1">0</text><text x="715.1" y="795.1">1</text><text x="726.5" y="795.1">0</text><text x="737.9" y="795.1">2</text><text x="749.3" y="795.1">4</text><text x="760.7" y="795.1">0</text><text x="772.1" y="795.1">0</text><text x="612.6" y="803.5">24</text><text x="624" y="803.5">18</text><text x="635.4" y="803.5">13</text><text x="646.8" y="803.5">0</text><text x="658.2" y="803.5">6</text><text x="669.5" y="803.5">7</text><text x="680.9" y="803.5">0</text><text x="692.3" y="803.5">1</text><text x="703.7" y="803.5">0</text><text x="715.1" y="803.5">1</text><text x="726.5" y="803.5">3</text><text x="737.9" y="803.5">1</text><text x="749.3" y="803.5">1</text><text x="760.7" y="803.5">1</text><text x="772.1" y="803.5">1</text></g>
<g font-size="6.55" font-weight="bold" fill="#111"><text x="780.1" y="560.4">rpoB2</text><text x="780.1" y="567.2">B. adolescentis rpoB</text><text x="780.1" y="571.8">mutants resistant to rifampicin</text><text x="780.1" y="578.6">LlmA (23S rRNA methyltransferase)</text><text x="780.1" y="585.5">ugd</text><text x="780.1" y="593.9">AcrF</text><text x="780.1" y="602.3">MexB</text><text x="780.1" y="610.7">acrB</text><text x="780.1" y="619.1">ceoB</text><text x="780.1" y="627.4">adeF</text><text x="780.1" y="635.8">MexF</text><text x="780.1" y="644.2">MuxB</text><text x="780.1" y="652.6">smeE</text><text x="780.1" y="661">mdtB</text><text x="780.1" y="669.3">mdsB</text><text x="780.1" y="677.7">mdtF</text><text x="780.1" y="686.1">acrD</text><text x="780.1" y="694.5">oqxB</text><text x="780.1" y="702.9">MexK</text><text x="780.1" y="711.2">P. aeruginosa emrE</text><text x="780.1" y="719.6">CRP</text><text x="780.1" y="728">mexN</text><text x="780.1" y="736.4">kdpE</text><text x="780.1" y="744.8">abeS</text><text x="780.1" y="753.1">P. aeruginosa soxR</text><text x="780.1" y="761.5">MuxC</text><text x="780.1" y="769.9">MexA</text><text x="780.1" y="778.3">OprM</text><text x="780.1" y="786.7">mdtC</text><text x="780.1" y="795">mexQ</text><text x="780.1" y="803.4">tlrC</text></g>
<g font-size="6.65" font-weight="bold" fill="#111"><text transform="translate(614.8 808.4) rotate(-90)" text-anchor="end">intI1</text><text transform="translate(626.2 808.4) rotate(-90)" text-anchor="end">tnpA</text><text transform="translate(637.6 808.4) rotate(-90)" text-anchor="end">IS91</text><text transform="translate(649 808.4) rotate(-90)" text-anchor="end">ISCR8</text><text transform="translate(660.4 808.4) rotate(-90)" text-anchor="end">qacEdelta</text><text transform="translate(671.7 808.4) rotate(-90)" text-anchor="end">tnpA1</text><text transform="translate(683.1 808.4) rotate(-90)" text-anchor="end">IS621</text><text transform="translate(694.5 808.4) rotate(-90)" text-anchor="end">tnpA4</text><text transform="translate(705.9 808.4) rotate(-90)" text-anchor="end">ISBf10</text><text transform="translate(717.3 808.4) rotate(-90)" text-anchor="end">tnpA3</text><text transform="translate(728.7 808.4) rotate(-90)" text-anchor="end">int2</text><text transform="translate(740.1 808.4) rotate(-90)" text-anchor="end">int3</text><text transform="translate(751.5 808.4) rotate(-90)" text-anchor="end">istA13</text><text transform="translate(762.9 808.4) rotate(-90)" text-anchor="end">tniA</text><text transform="translate(774.3 808.4) rotate(-90)" text-anchor="end">tniB</text></g>
<defs><linearGradient id="gH" x1="0" y1="0" x2="0" y2="1"><stop offset="0" stop-color="#a50026"/><stop offset="0.1" stop-color="#d73027"/><stop offset="0.2" stop-color="#f46d43"/><stop offset="0.3" stop-color="#fdae61"/><stop offset="0.4" stop-color="#fee090"/><stop offset="0.5" stop-color="#ffffbf"/><stop offset="0.6" stop-color="#e0f3f8"/><stop offset="0.7" stop-color="#abd9e9"/><stop offset="0.8" stop-color="#74add1"/><stop offset="0.9" stop-color="#4575b4"/><stop offset="1" stop-color="#313695"/></linearGradient></defs>
<rect x="825.4" y="587.1" width="7.1" height="99.8" fill="url(#gH)"/>
<text x="835.6" y="607.1" font-size="6.2" font-weight="bold" fill="#111">150</text>
<text x="835.6" y="634.2" font-size="6.2" font-weight="bold" fill="#111">100</text>
<text x="835.6" y="662.4" font-size="6.2" font-weight="bold" fill="#111">50</text>
<text x="835.6" y="689.1" font-size="6.2" font-weight="bold" fill="#111">0</text>
</svg>
</body></html>
